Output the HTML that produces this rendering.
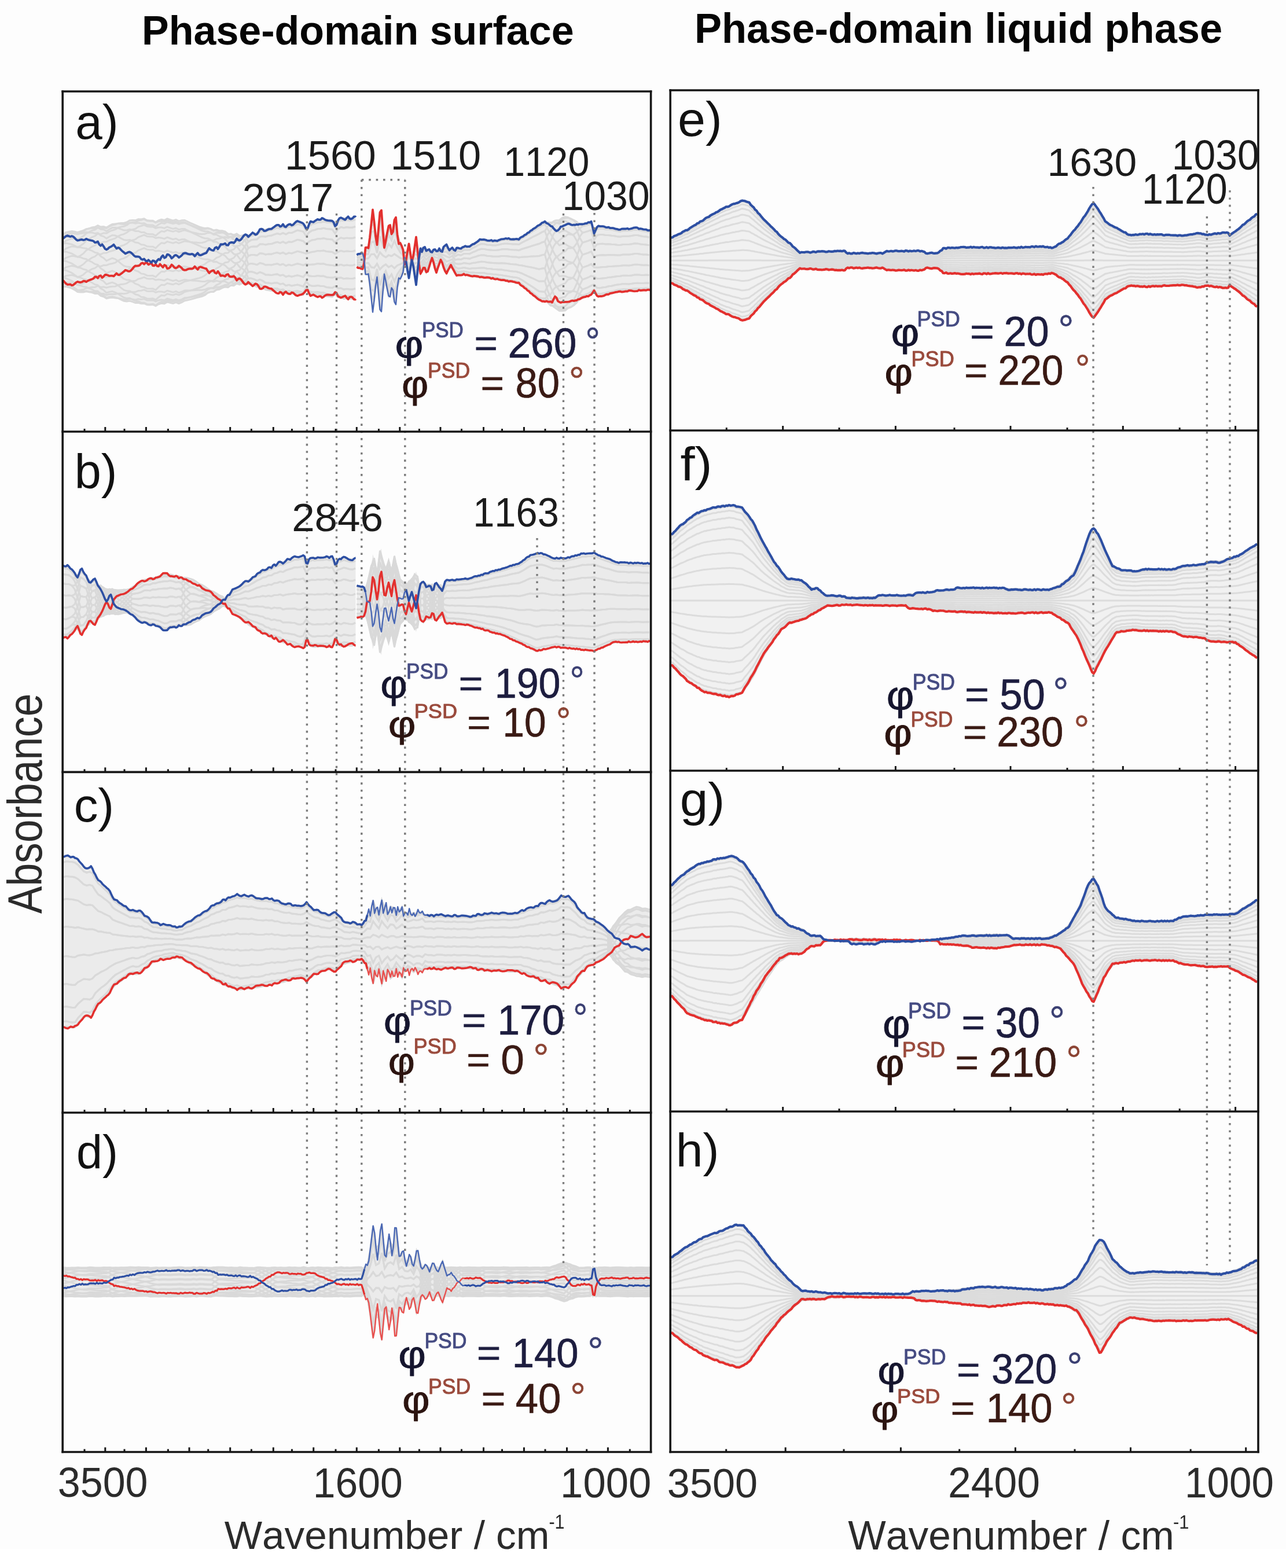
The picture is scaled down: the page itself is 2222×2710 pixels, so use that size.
<!DOCTYPE html>
<html><head><meta charset="utf-8"><title>Phase-domain spectra</title><style>html,body{margin:0;padding:0;background:#fdfdfd;}svg{display:block;filter:blur(0.55px);}text{font-kerning:none;}</style></head><body>
<svg width="2222" height="2710" viewBox="0 0 2222 2710" font-family="&quot;Liberation Sans&quot;, Arial, sans-serif" style="font-kerning:none">
<rect x="0" y="0" width="2222" height="2677" fill="#fdfdfd"/>
<rect x="0" y="2677" width="2222" height="33" fill="#ffffff"/>
<defs>
<clipPath id="cl"><rect x="109" y="150" width="1015" height="2359"/></clipPath>
<clipPath id="cr"><rect x="1159" y="150" width="1014" height="2359"/></clipPath>
</defs>
<defs></defs>
<g clip-path="url(#cl)">
<path d="M109.0 402.3L111.5 402.1 114.0 401.9 116.5 401.7 119.0 401.5 121.5 401.3 124.0 401.2 126.5 400.9 129.0 400.5 131.5 400.2 134.0 399.8 136.5 399.4 139.0 398.7 141.5 397.7 144.0 396.8 146.5 396.1 149.0 395.4 151.5 394.6 154.0 393.9 156.5 393.2 159.0 392.5 161.5 391.8 164.0 391.0 166.5 390.3 169.0 390.3 171.5 390.5 174.0 390.7 176.5 390.9 179.0 391.1 181.5 391.3 184.0 391.5 186.5 390.7 189.0 389.5 191.5 388.3 194.0 387.1 196.5 385.9 199.0 385.9 201.5 385.9 204.0 385.9 206.5 385.9 209.0 385.9 211.5 385.8 214.0 385.2 216.5 384.5 219.0 383.9 221.5 383.3 224.0 382.6 226.5 382.0 229.0 381.2 231.5 380.5 234.0 380.0 236.5 379.5 239.0 379.0 241.5 378.6 244.0 378.1 246.5 377.6 249.0 378.1 251.5 378.6 254.0 379.2 256.5 379.7 259.0 380.3 261.5 380.9 264.0 381.4 266.5 382.0 269.0 382.5 271.5 382.2 274.0 381.2 276.5 380.2 279.0 379.1 281.5 379.3 284.0 379.4 286.5 379.6 289.0 379.7 291.5 379.9 294.0 380.1 296.5 380.2 299.0 380.4 301.5 380.5 304.0 380.7 306.5 380.8 309.0 381.0 311.5 381.1 314.0 381.3 316.5 381.8 319.0 382.6 321.5 383.4 324.0 384.1 326.5 384.9 329.0 385.7 331.5 386.5 334.0 387.3 336.5 388.1 339.0 388.8 341.5 389.6 344.0 390.4 346.5 391.0 349.0 391.6 351.5 392.2 354.0 392.8 356.5 393.3 359.0 393.9 361.5 394.5 364.0 395.1 366.5 395.7 369.0 396.3 371.5 396.9 374.0 397.5 376.5 398.1 379.0 398.7 381.5 399.3 384.0 399.9 386.5 400.5 389.0 401.1 391.5 401.7 394.0 402.4 396.5 403.0 399.0 403.6 401.5 404.2 404.0 404.7 406.5 405.0 409.0 405.3 411.5 405.7 414.0 406.0 416.5 406.3 419.0 406.7 421.5 407.0 424.0 407.3 426.5 407.7 429.0 407.2 431.5 406.2 434.0 405.2 436.5 404.2 439.0 403.2 441.5 402.2 444.0 401.2 446.5 400.2 449.0 399.2 451.5 398.2 454.0 397.2 456.5 396.2 459.0 395.2 461.5 394.2 464.0 393.8 466.5 393.5 469.0 393.3 471.5 393.0 474.0 392.8 476.5 392.5 479.0 392.3 481.5 392.0 484.0 391.8 486.5 391.5 489.0 391.3 491.5 391.0 494.0 390.4 496.5 389.7 499.0 389.1 501.5 388.4 504.0 387.8 506.5 387.2 509.0 386.5 511.5 385.9 514.0 385.3 516.5 385.0 519.0 385.0 521.5 385.0 524.0 385.0 526.5 389.5 529.0 397.0 531.5 395.5 534.0 388.0 536.5 384.7 539.0 384.2 541.5 383.7 544.0 383.2 546.5 382.7 549.0 382.2 551.5 381.7 554.0 381.2 556.5 380.7 559.0 380.2 561.5 379.7 564.0 379.2 566.5 379.1 569.0 379.4 571.5 379.6 574.0 379.8 576.5 381.4 579.0 388.2 581.5 386.8 584.0 379.8 586.5 376.8 589.0 376.4 591.5 376.1 594.0 376.0 596.5 376.0 599.0 376.0 601.5 376.0 604.0 376.0 606.5 376.0 609.0 376.0 611.5 376.0 614.0 376.0 614.5 376.0 614.5 516.0 614.0 516.0 611.5 515.8 609.0 515.7 606.5 515.6 604.0 515.5 601.5 515.4 599.0 515.3 596.5 515.2 594.0 515.1 591.5 514.9 589.0 514.3 586.5 513.8 584.0 513.2 581.5 508.0 579.0 507.5 576.5 512.0 574.0 512.0 571.5 511.8 569.0 511.6 566.5 511.4 564.0 511.2 561.5 511.0 559.0 510.8 556.5 510.7 554.0 510.5 551.5 510.3 549.0 510.1 546.5 509.9 544.0 509.7 541.5 509.5 539.0 509.3 536.5 509.1 534.0 506.6 531.5 500.6 529.0 499.4 526.5 505.4 524.0 508.9 521.5 508.7 519.0 508.5 516.5 508.2 514.0 508.0 511.5 507.8 509.0 507.6 506.5 507.3 504.0 507.1 501.5 506.9 499.0 506.7 496.5 506.4 494.0 506.2 491.5 506.0 489.0 505.5 486.5 505.0 484.0 504.5 481.5 504.0 479.0 503.5 476.5 502.9 474.0 502.4 471.5 501.9 469.0 501.4 466.5 500.9 464.0 500.4 461.5 499.8 459.0 499.1 456.5 498.3 454.0 497.6 451.5 496.8 449.0 496.0 446.5 495.3 444.0 494.5 441.5 493.7 439.0 493.0 436.5 492.2 434.0 491.5 431.5 490.6 429.0 489.6 426.5 489.2 424.0 489.5 421.5 489.9 419.0 490.3 416.5 490.6 414.0 491.0 411.5 491.3 409.0 491.7 406.5 492.0 404.0 492.4 401.5 493.0 399.0 493.9 396.5 494.7 394.0 495.5 391.5 496.4 389.0 497.2 386.5 498.0 384.0 498.9 381.5 499.7 379.0 500.5 376.5 501.4 374.0 502.2 371.5 503.0 369.0 503.9 366.5 504.7 364.0 505.6 361.5 506.4 359.0 507.3 356.5 508.1 354.0 509.0 351.5 509.8 349.0 510.7 346.5 511.5 344.0 512.4 341.5 513.3 339.0 514.3 336.5 515.2 334.0 516.2 331.5 517.1 329.0 518.1 326.5 519.0 324.0 519.9 321.5 520.9 319.0 521.8 316.5 522.8 314.0 523.4 311.5 523.5 309.0 523.5 306.5 523.6 304.0 523.6 301.5 523.7 299.0 523.8 296.5 523.8 294.0 523.9 291.5 524.0 289.0 524.0 286.5 524.1 284.0 524.2 281.5 524.2 279.0 524.3 276.5 525.6 274.0 526.8 271.5 528.0 269.0 528.6 266.5 528.3 264.0 527.9 261.5 527.6 259.0 527.2 256.5 526.9 254.0 526.6 251.5 526.2 249.0 525.9 246.5 525.5 244.0 524.9 241.5 524.4 239.0 523.9 236.5 523.4 234.0 522.9 231.5 522.4 229.0 522.2 226.5 522.0 224.0 521.7 221.5 521.3 219.0 521.0 216.5 520.6 214.0 520.3 211.5 520.0 209.0 519.1 206.5 518.1 204.0 517.1 201.5 516.2 199.0 515.2 196.5 514.2 194.0 514.4 191.5 514.6 189.0 514.9 186.5 515.1 184.0 514.9 181.5 513.7 179.0 512.6 176.5 511.4 174.0 510.2 171.5 509.1 169.0 507.9 166.5 506.9 164.0 506.5 161.5 506.2 159.0 505.9 156.5 505.5 154.0 505.2 151.5 504.9 149.0 504.6 146.5 504.2 144.0 503.9 141.5 503.7 139.0 503.7 136.5 503.4 134.0 502.7 131.5 502.0 129.0 501.3 126.5 500.7 124.0 499.9 121.5 499.0 119.0 498.1 116.5 497.3 114.0 496.4 111.5 495.6 109.0 494.7Z" fill="#ebebeb"/>
<g fill="none" stroke="#d9d9d9" stroke-width="3.0">
<path d="M109.0 410.7l5 -1.7 5 0.4 5 0.3 5 1.8 5 2.2 5 -0.5 5 0.4 5 -0.5 5 1.6 5 1.1 5 2.2 5 0.2 5 5.2 5 2.2 5 4.4 5 -2.8 5 -2.4 5 1.2 5 2.8 5 3.8 5 3.4 5 1.3 5 -0.2 5 2.5 5 3.2 5 1.3 5 3.5 5 0.6 5 2.6 5 0.5 5 -0.2 5 2.5 5 -5.2 5 -4.3 5 0.7 5 -3.1 5 1.2 5 1.1 5 -2 5 2 5 -1.9 5 -2.3 5 0.1 5 0.1 5 -0.3 5 -0.3 5 -0.1 5 -0.9 5 -1.9 5 -3.4 5 -1.4 5 -0 5 -3.7 5 -1.2 5 -3 5 -2 5 0.7 5 -3.4 5 -0.5 5 -4.8 5 0.6 5 -3.6 5 -3.6 5 1.1 5 -3.4 5 -1.4 5 -0.6 5 -5.1 5 -1 5 0.3 5 -2.1 5 -0.5 5 -2.2 5 -1.7 5 1.1 5 -2.4 5 2.1 5 -2.9 5 0.1 5 -2.5 5 -2.4 5 0.8 5 1.3 5 10.3 5 -8.2 5 -4.1 5 -1.2 5 -2 5 -0.2 5 -1.3 5 0.9 5 0.4 5 0.5 5 8.6 5 -9.1 5 -4 5 1 5 -1 5 0.5 5 -0.1 5 -1.6"/>
<path d="M109.0 421.2l5 -0.9 5 1 5 1 5 2.4 5 2.7 5 0.1 5 1.3 5 0.4 5 2.4 5 1.8 5 3 5 0.9 5 5.8 5 2.8 5 4.9 5 -2.4 5 -2.2 5 1.6 5 3.4 5 4.4 5 3.8 5 1.7 5 0.1 5 2.8 5 3.6 5 1.6 5 3.7 5 0.7 5 2.6 5 0.4 5 -0.3 5 2.4 5 -5.2 5 -4.3 5 0.6 5 -3.1 5 1.1 5 1 5 -2 5 1.9 5 -2 5 -2.8 5 -0.4 5 -0.6 5 -0.8 5 -1 5 -0.6 5 -1.5 5 -2.5 5 -3.9 5 -2 5 -0.7 5 -4.3 5 -1.9 5 -3.8 5 -2.7 5 -0.2 5 -4.5 5 -1.6 5 -5.7 5 -0.6 5 -5.1 5 -5.8 5 -3 5 -3.2 5 -1.3 5 -0.5 5 -5 5 -0.9 5 0.4 5 -2 5 -0.4 5 -2.2 5 -1.7 5 1.2 5 -2.4 5 2.2 5 -2.9 5 0.2 5 -2.4 5 -2.5 5 0.9 5 1.3 5 9.6 5 -7.7 5 -3.9 5 -1.1 5 -2 5 -0.2 5 -1.2 5 0.9 5 0.5 5 0.5 5 8.2 5 -8.7 5 -3.9 5 1.1 5 -1 5 0.5 5 -0.1 5 -1.6"/>
<path d="M109.0 435.2l5 -0.3 5 1.7 5 1.6 5 2.8 5 3.1 5 0.6 5 2 5 1 5 3 5 2.3 5 3.4 5 1.2 5 6.2 5 3.1 5 5.2 5 -2.1 5 -1.8 5 1.9 5 3.5 5 4.4 5 4 5 1.8 5 0.2 5 2.9 5 3.6 5 1.5 5 3.6 5 0.7 5 2.5 5 0.3 5 -0.3 5 2.3 5 -4.9 5 -4 5 0.6 5 -3.2 5 1.1 5 1 5 -2 5 1.9 5 -2.1 5 -3.1 5 -0.9 5 -1 5 -1.3 5 -1.4 5 -1.2 5 -1.8 5 -2.7 5 -4.3 5 -2.4 5 -1 5 -4.7 5 -2.4 5 -4.2 5 -3.3 5 -0.8 5 -5.1 5 -2.3 5 -6.4 5 -1.4 5 -6.1 5 -7.5 5 -6.3 5 -3 5 -1 5 -0.2 5 -4.6 5 -0.6 5 0.6 5 -1.7 5 -0.3 5 -2 5 -1.6 5 1.3 5 -2.2 5 2.3 5 -2.7 5 0.3 5 -2.3 5 -2.2 5 0.9 5 1.3 5 7.8 5 -6.3 5 -3.3 5 -1 5 -1.9 5 -0.1 5 -1.1 5 1.1 5 0.4 5 0.5 5 7.1 5 -7.4 5 -3.6 5 1.2 5 -1 5 0.6 5 -0.1 5 -1.6"/>
<path d="M109.0 451.1l5 0.2 5 2 5 2 5 3.3 5 3.5 5 0.9 5 2.3 5 1.2 5 3.2 5 2.5 5 3.4 5 1.4 5 6.2 5 3 5 5.1 5 -1.8 5 -1.4 5 2 5 3.2 5 4.1 5 3.7 5 1.7 5 0.1 5 2.7 5 3.2 5 1.2 5 3.2 5 0.4 5 2.4 5 0.3 5 -0.4 5 2.3 5 -4.4 5 -3.4 5 0.6 5 -3.1 5 1.1 5 1 5 -2 5 1.9 5 -2.1 5 -3.3 5 -1.1 5 -1.3 5 -1.5 5 -1.7 5 -1.4 5 -1.8 5 -2.9 5 -4.3 5 -2.5 5 -1.1 5 -4.9 5 -2.4 5 -4.4 5 -3.4 5 -1 5 -5.4 5 -2.6 5 -6.5 5 -1.7 5 -6.8 5 -8.4 5 -8.5 5 -2.5 5 -0.5 5 0.3 5 -4.2 5 -0.1 5 1.1 5 -1.3 5 -0.1 5 -1.8 5 -1.4 5 1.5 5 -2 5 2.5 5 -2.5 5 0.5 5 -2 5 -2.1 5 1 5 1.4 5 5 5 -4.2 5 -2.5 5 -0.7 5 -1.8 5 0.2 5 -0.9 5 1.2 5 0.5 5 0.4 5 5.4 5 -5.5 5 -3 5 1.4 5 -1 5 0.6 5 -0.1 5 -1.5"/>
<path d="M109.0 466.8l5 0.4 5 2.2 5 2.2 5 3.5 5 3.7 5 1.1 5 2.2 5 1.1 5 3 5 2.3 5 3.2 5 1.1 5 5.8 5 2.7 5 4.7 5 -1.5 5 -1 5 1.8 5 2.5 5 3.3 5 3.2 5 1.3 5 -0.3 5 2.3 5 2.7 5 0.4 5 2.5 5 0.1 5 2.4 5 0.2 5 -0.5 5 2.3 5 -3.7 5 -2.5 5 0.6 5 -3.1 5 1.2 5 1.1 5 -2 5 2 5 -2 5 -3.3 5 -1.1 5 -1.3 5 -1.6 5 -1.6 5 -1.5 5 -1.6 5 -2.7 5 -4.2 5 -2.3 5 -0.9 5 -4.7 5 -2.1 5 -4.1 5 -3.2 5 -0.8 5 -5.2 5 -2.5 5 -6.2 5 -1.6 5 -6.6 5 -8.6 5 -9.3 5 -1.8 5 0 5 0.9 5 -3.7 5 0.5 5 1.7 5 -0.9 5 0.2 5 -1.6 5 -1.1 5 1.7 5 -1.7 5 2.7 5 -2.2 5 0.9 5 -1.8 5 -1.8 5 1.1 5 1.5 5 1.4 5 -1.5 5 -1.4 5 -0.6 5 -1.4 5 0.3 5 -0.7 5 1.5 5 0.5 5 0.5 5 3.2 5 -3.2 5 -2.2 5 1.5 5 -0.9 5 0.6 5 -0 5 -1.5"/>
<path d="M109.0 480.6l5 0.3 5 2.2 5 2.1 5 3.5 5 3.8 5 1.1 5 1.8 5 0.6 5 2.4 5 1.7 5 2.7 5 0.5 5 5.2 5 2 5 4.1 5 -1.3 5 -0.7 5 1.4 5 1.5 5 2.3 5 2.4 5 0.7 5 -0.9 5 1.6 5 2 5 -0.4 5 1.6 5 -0.4 5 2.3 5 0.2 5 -0.4 5 2.2 5 -2.9 5 -1.6 5 0.8 5 -3.1 5 1.3 5 1.2 5 -1.9 5 2.1 5 -1.9 5 -3.1 5 -0.9 5 -1.1 5 -1.3 5 -1.5 5 -1.2 5 -1.2 5 -2.2 5 -3.8 5 -1.8 5 -0.5 5 -4.2 5 -1.6 5 -3.5 5 -2.6 5 -0.2 5 -4.6 5 -1.9 5 -5.5 5 -0.9 5 -5.9 5 -7.9 5 -8.7 5 -1.1 5 0.7 5 1.4 5 -3 5 1.1 5 2.3 5 -0.4 5 0.4 5 -1.3 5 -0.9 5 2 5 -1.5 5 3.1 5 -1.9 5 1.1 5 -1.5 5 -1.4 5 1.2 5 1.5 5 -2.3 5 1.3 5 -0.2 5 -0.4 5 -1.2 5 0.6 5 -0.4 5 1.6 5 0.6 5 0.4 5 1 5 -0.7 5 -1.4 5 1.7 5 -0.9 5 0.7 5 0 5 -1.5"/>
<path d="M109.0 490.7l5 -0 5 1.9 5 1.8 5 3.3 5 3.8 5 0.7 5 1.2 5 -0.3 5 1.6 5 0.9 5 1.9 5 -0.3 5 4.3 5 1.2 5 3.2 5 -1.2 5 -0.5 5 0.9 5 0.3 5 1.1 5 1.5 5 -0.1 5 -1.6 5 0.8 5 1.1 5 -1.4 5 0.7 5 -0.9 5 2.3 5 0.2 5 -0.4 5 2.2 5 -2 5 -0.8 5 0.9 5 -2.9 5 1.4 5 1.3 5 -1.8 5 2.2 5 -1.7 5 -2.8 5 -0.4 5 -0.7 5 -0.9 5 -1 5 -0.8 5 -0.6 5 -1.6 5 -3.1 5 -1.2 5 0.2 5 -3.6 5 -0.7 5 -2.6 5 -1.8 5 0.7 5 -3.6 5 -0.9 5 -4.5 5 0.2 5 -4.7 5 -6.5 5 -6.5 5 -0.5 5 1.2 5 2 5 -2.4 5 1.7 5 2.8 5 0.1 5 0.6 5 -1 5 -0.7 5 2.3 5 -1.2 5 3.3 5 -1.6 5 1.4 5 -1.2 5 -1.2 5 1.4 5 1.6 5 -5.9 5 4 5 0.8 5 -0.1 5 -1 5 0.8 5 -0.2 5 1.9 5 0.6 5 0.4 5 -1.1 5 1.6 5 -0.7 5 1.9 5 -0.8 5 0.6 5 0.1 5 -1.4"/>
<path d="M109.0 495.9l5 -0.5 5 1.3 5 1.4 5 3 5 3.4 5 0.4 5 0.2 5 -1.4 5 0.6 5 -0.1 5 1 5 -1.3 5 3.4 5 0.2 5 2.3 5 -1.3 5 -0.3 5 0.3 5 -1.1 5 -0.1 5 0.5 5 -0.8 5 -2.4 5 0.1 5 0.1 5 -2.3 5 -0.3 5 -1.4 5 2.4 5 0.3 5 -0.5 5 2.3 5 -1.4 5 0.2 5 1 5 -2.8 5 1.5 5 1.4 5 -1.6 5 2.3 5 -1.6 5 -2.2 5 0 5 -0 5 -0.3 5 -0.4 5 -0.2 5 0.1 5 -0.8 5 -2.4 5 -0.4 5 0.9 5 -2.7 5 0.3 5 -1.7 5 -0.6 5 1.8 5 -2.5 5 0.4 5 -3.3 5 1.6 5 -3.1 5 -4.5 5 -3.3 5 0 5 1.7 5 2.5 5 -2 5 2.2 5 3.3 5 0.4 5 0.9 5 -0.9 5 -0.4 5 2.5 5 -1.1 5 3.6 5 -1.4 5 1.6 5 -0.9 5 -1 5 1.5 5 1.6 5 -8.7 5 6.1 5 1.7 5 0.1 5 -0.8 5 0.9 5 0 5 2.1 5 0.6 5 0.5 5 -2.9 5 3.5 5 -0.1 5 2.1 5 -0.8 5 0.7 5 0.1 5 -1.4"/>
<path d="M109.0 495.7l5 -1.2 5 0.7 5 0.7 5 2.5 5 3.1 5 -0.2 5 -0.8 5 -2.6 5 -0.4 5 -1.2 5 0.1 5 -2.3 5 2.3 5 -0.7 5 1.5 5 -1.5 5 -0.4 5 -0.3 5 -2.3 5 -1.2 5 -0.4 5 -1.5 5 -3.1 5 -0.7 5 -0.6 5 -3.1 5 -1.1 5 -1.8 5 2.4 5 0.3 5 -0.3 5 2.3 5 -0.8 5 0.7 5 1.1 5 -2.7 5 1.7 5 1.5 5 -1.5 5 2.5 5 -1.6 5 -1.6 5 0.8 5 0.6 5 0.3 5 0.3 5 0.5 5 0.9 5 -0.1 5 -1.6 5 0.4 5 1.7 5 -1.8 5 1.3 5 -0.6 5 0.5 5 3 5 -1.2 5 1.7 5 -2 5 3.1 5 -1.4 5 -2.1 5 0.8 5 0.3 5 2 5 2.8 5 -1.7 5 2.5 5 3.6 5 0.7 5 0.9 5 -0.7 5 -0.3 5 2.7 5 -1 5 3.7 5 -1.2 5 1.8 5 -0.8 5 -0.9 5 1.5 5 1.7 5 -10.5 5 7.5 5 2.2 5 0.2 5 -0.7 5 1.1 5 0.1 5 2.2 5 0.7 5 0.4 5 -3.9 5 4.6 5 0.3 5 2.2 5 -0.8 5 0.8 5 0.1 5 -1.4"/>
<path d="M109.0 489.9l5 -2 5 -0 5 -0 5 2 5 2.6 5 -0.9 5 -1.8 5 -3.6 5 -1.5 5 -2 5 -0.9 5 -3.2 5 1.5 5 -1.5 5 0.6 5 -1.7 5 -0.6 5 -0.8 5 -3.2 5 -2.1 5 -1.1 5 -2.1 5 -3.6 5 -1.3 5 -1.2 5 -3.7 5 -1.7 5 -2 5 2.5 5 0.4 5 -0.3 5 2.4 5 -0.6 5 1 5 1.2 5 -2.5 5 1.7 5 1.7 5 -1.4 5 2.5 5 -1.4 5 -1.1 5 1.4 5 1.3 5 1 5 1 5 1.2 5 1.6 5 0.6 5 -0.8 5 1 5 2.6 5 -1.1 5 2.2 5 0.4 5 1.5 5 4.1 5 0 5 3 5 -0.7 5 4.5 5 0.3 5 0.4 5 5 5 0.4 5 2.1 5 2.9 5 -1.5 5 2.6 5 3.7 5 0.7 5 1 5 -0.6 5 -0.3 5 2.7 5 -0.9 5 3.7 5 -1.1 5 1.8 5 -0.8 5 -0.7 5 1.5 5 1.7 5 -11.2 5 8 5 2.5 5 0.2 5 -0.7 5 1.2 5 0.1 5 2.3 5 0.6 5 0.5 5 -4.4 5 5.1 5 0.4 5 2.3 5 -0.8 5 0.7 5 0.1 5 -1.3"/>
<path d="M109.0 479.4l5 -2.8 5 -0.7 5 -0.6 5 1.4 5 2.1 5 -1.4 5 -2.7 5 -4.5 5 -2.4 5 -2.8 5 -1.6 5 -3.8 5 0.8 5 -2.1 5 0.1 5 -2 5 -0.9 5 -1.3 5 -3.8 5 -2.6 5 -1.4 5 -2.5 5 -4.1 5 -1.6 5 -1.4 5 -4.1 5 -1.9 5 -2.2 5 2.6 5 0.5 5 -0.2 5 2.5 5 -0.7 5 1.1 5 1.3 5 -2.5 5 1.8 5 1.7 5 -1.3 5 2.6 5 -1.3 5 -0.6 5 2 5 1.9 5 1.6 5 1.5 5 1.9 5 2.1 5 1.1 5 -0.2 5 1.7 5 3.1 5 -0.4 5 2.9 5 1.2 5 2.3 5 5 5 1 5 4.1 5 0.2 5 5.7 5 1.9 5 2.4 5 9.1 5 0.3 5 2.1 5 2.8 5 -1.7 5 2.5 5 3.6 5 0.6 5 1 5 -0.7 5 -0.3 5 2.6 5 -0.9 5 3.7 5 -1.3 5 1.8 5 -0.8 5 -0.8 5 1.5 5 1.7 5 -10.5 5 7.5 5 2.2 5 0.2 5 -0.7 5 1.1 5 0.1 5 2.2 5 0.7 5 0.4 5 -4 5 4.7 5 0.3 5 2.2 5 -0.8 5 0.7 5 0.1 5 -1.3"/>
<path d="M109.0 465.3l5 -3.4 5 -1.3 5 -1.2 5 0.9 5 1.7 5 -2 5 -3.3 5 -5.1 5 -2.9 5 -3.3 5 -2.1 5 -4.2 5 0.5 5 -2.4 5 -0.2 5 -2.3 5 -1.2 5 -1.7 5 -3.8 5 -2.8 5 -1.5 5 -2.6 5 -4.2 5 -1.7 5 -1.5 5 -3.9 5 -1.8 5 -2.1 5 2.6 5 0.6 5 -0.2 5 2.6 5 -0.9 5 0.7 5 1.3 5 -2.5 5 1.9 5 1.7 5 -1.3 5 2.7 5 -1.3 5 -0.3 5 2.5 5 2.3 5 2.1 5 2 5 2.3 5 2.4 5 1.5 5 0.1 5 2 5 3.5 5 0 5 3.4 5 1.6 5 2.9 5 5.6 5 1.6 5 4.8 5 0.9 5 6.5 5 2.9 5 4.2 5 12.4 5 -0 5 1.7 5 2.5 5 -2 5 2.2 5 3.3 5 0.4 5 0.9 5 -0.9 5 -0.4 5 2.5 5 -1.1 5 3.5 5 -1.3 5 1.6 5 -1 5 -0.9 5 1.4 5 1.7 5 -8.7 5 6.1 5 1.7 5 0.1 5 -0.9 5 1 5 0 5 2.1 5 0.6 5 0.4 5 -2.8 5 3.5 5 -0.1 5 2.1 5 -0.9 5 0.7 5 0.1 5 -1.4"/>
<path d="M109.0 449.5l5 -3.9 5 -1.7 5 -1.6 5 0.5 5 1.3 5 -2.3 5 -3.6 5 -5.4 5 -3 5 -3.5 5 -2.2 5 -4.3 5 0.5 5 -2.3 5 -0.1 5 -2.7 5 -1.6 5 -1.7 5 -3.6 5 -2.3 5 -1.4 5 -2.5 5 -3.9 5 -1.5 5 -1.2 5 -3.6 5 -1.4 5 -1.9 5 2.8 5 0.6 5 -0.1 5 2.6 5 -1.5 5 0.1 5 1.3 5 -2.4 5 1.8 5 1.7 5 -1.3 5 2.7 5 -1.4 5 -0 5 2.7 5 2.5 5 2.4 5 2.2 5 2.6 5 2.4 5 1.6 5 0.2 5 2.1 5 3.7 5 0.1 5 3.4 5 1.8 5 3 5 5.8 5 1.9 5 5.1 5 1 5 6.9 5 3.4 5 5.2 5 14.6 5 -0.5 5 1.2 5 2 5 -2.4 5 1.7 5 2.8 5 0.1 5 0.6 5 -1 5 -0.7 5 2.3 5 -1.2 5 3.3 5 -1.6 5 1.4 5 -1.2 5 -1.2 5 1.4 5 1.6 5 -5.9 5 4 5 0.8 5 -0.1 5 -1 5 0.8 5 -0.2 5 1.9 5 0.6 5 0.4 5 -1.1 5 1.6 5 -0.7 5 1.9 5 -0.8 5 0.6 5 0.1 5 -1.4"/>
<path d="M109.0 433.7l5 -4.1 5 -1.9 5 -1.8 5 0.3 5 1.1 5 -2.5 5 -3.5 5 -5.3 5 -2.8 5 -3.3 5 -1.9 5 -4.1 5 0.9 5 -2 5 0.3 5 -3 5 -1.9 5 -1.6 5 -2.9 5 -1.6 5 -0.8 5 -2.1 5 -3.6 5 -1 5 -0.6 5 -2.9 5 -0.7 5 -1.5 5 2.7 5 0.7 5 -0.1 5 2.7 5 -2.2 5 -0.7 5 1.2 5 -2.5 5 1.8 5 1.7 5 -1.4 5 2.6 5 -1.4 5 -0.1 5 2.7 5 2.6 5 2.4 5 2.2 5 2.6 5 2.3 5 1.3 5 0 5 2 5 3.4 5 -0 5 3.1 5 1.5 5 2.8 5 5.6 5 1.8 5 4.9 5 0.7 5 6.7 5 3.4 5 5.3 5 15.4 5 -1.2 5 0.7 5 1.5 5 -3.1 5 1.2 5 2.2 5 -0.4 5 0.4 5 -1.3 5 -0.8 5 2 5 -1.5 5 3 5 -1.9 5 1.2 5 -1.5 5 -1.5 5 1.3 5 1.5 5 -2.3 5 1.3 5 -0.3 5 -0.3 5 -1.2 5 0.5 5 -0.4 5 1.7 5 0.5 5 0.5 5 1 5 -0.8 5 -1.4 5 1.8 5 -0.9 5 0.6 5 0.1 5 -1.5"/>
<path d="M109.0 420.0l5 -4 5 -1.9 5 -1.7 5 0.3 5 1 5 -2.4 5 -3.2 5 -4.7 5 -2.3 5 -2.8 5 -1.3 5 -3.5 5 1.5 5 -1.3 5 0.9 5 -3.1 5 -2.4 5 -1.1 5 -1.9 5 -0.6 5 0 5 -1.5 5 -3 5 -0.4 5 0.2 5 -2 5 0.1 5 -1 5 2.8 5 0.6 5 0 5 2.7 5 -3 5 -1.6 5 1.1 5 -2.6 5 1.7 5 1.6 5 -1.5 5 2.5 5 -1.5 5 -0.3 5 2.5 5 2.4 5 2.1 5 2.1 5 2.3 5 1.8 5 1 5 -0.5 5 1.5 5 3 5 -0.5 5 2.6 5 0.9 5 2.2 5 5 5 1.1 5 4.3 5 0.1 5 6 5 2.7 5 4.6 5 14.7 5 -1.8 5 0.1 5 0.8 5 -3.6 5 0.5 5 1.7 5 -0.9 5 0.1 5 -1.6 5 -1.1 5 1.8 5 -1.8 5 2.8 5 -2.2 5 0.8 5 -1.8 5 -1.7 5 1.1 5 1.4 5 1.5 5 -1.5 5 -1.4 5 -0.6 5 -1.5 5 0.4 5 -0.7 5 1.4 5 0.5 5 0.5 5 3.3 5 -3.3 5 -2.2 5 1.6 5 -0.9 5 0.6 5 -0 5 -1.6"/>
<path d="M109.0 409.9l5 -3.7 5 -1.6 5 -1.4 5 0.5 5 1.1 5 -2.2 5 -2.5 5 -3.8 5 -1.5 5 -1.9 5 -0.6 5 -2.7 5 2.4 5 -0.5 5 1.8 5 -3.2 5 -2.6 5 -0.6 5 -0.6 5 0.6 5 0.9 5 -0.8 5 -2.3 5 0.4 5 1 5 -1 5 1.2 5 -0.6 5 2.8 5 0.6 5 0 5 2.7 5 -3.8 5 -2.6 5 1.1 5 -2.8 5 1.6 5 1.4 5 -1.5 5 2.3 5 -1.6 5 -0.6 5 2 5 2 5 1.7 5 1.6 5 1.9 5 1.2 5 0.3 5 -1.1 5 0.9 5 2.4 5 -1.2 5 1.7 5 0 5 1.3 5 4.1 5 0.2 5 3.3 5 -0.9 5 4.9 5 1.5 5 3.1 5 12.7 5 -2.5 5 -0.5 5 0.3 5 -4.2 5 -0.1 5 1.1 5 -1.3 5 -0.1 5 -1.8 5 -1.4 5 1.5 5 -2 5 2.5 5 -2.5 5 0.5 5 -2 5 -2.1 5 1 5 1.4 5 5 5 -4.2 5 -2.5 5 -0.7 5 -1.7 5 0.1 5 -0.9 5 1.2 5 0.5 5 0.4 5 5.4 5 -5.5 5 -3 5 1.4 5 -1 5 0.6 5 -0 5 -1.6"/>
<path d="M109.0 404.7l5 -3.2 5 -1 5 -1 5 0.8 5 1.4 5 -1.7 5 -1.6 5 -2.8 5 -0.5 5 -0.9 5 0.4 5 -1.7 5 3.3 5 0.5 5 2.7 5 -3.2 5 -2.6 5 -0.1 5 0.7 5 1.9 5 1.8 5 0 5 -1.5 5 1.2 5 1.9 5 -0.1 5 2.1 5 -0 5 2.7 5 0.6 5 -0.1 5 2.7 5 -4.5 5 -3.4 5 0.9 5 -2.8 5 1.4 5 1.3 5 -1.7 5 2.2 5 -1.7 5 -1.2 5 1.5 5 1.4 5 1.1 5 1 5 1.3 5 0.5 5 -0.4 5 -1.9 5 0.1 5 1.6 5 -2 5 0.7 5 -0.9 5 0.2 5 3 5 -1 5 2.1 5 -2.2 5 3.5 5 -0.1 5 1.2 5 9.3 5 -2.9 5 -1 5 -0.2 5 -4.7 5 -0.5 5 0.6 5 -1.7 5 -0.3 5 -2 5 -1.6 5 1.3 5 -2.2 5 2.3 5 -2.7 5 0.3 5 -2.3 5 -2.3 5 1 5 1.3 5 7.8 5 -6.3 5 -3.4 5 -0.9 5 -1.9 5 -0.1 5 -1.1 5 1 5 0.5 5 0.5 5 7.1 5 -7.5 5 -3.5 5 1.2 5 -1 5 0.6 5 -0.1 5 -1.6"/>
<path d="M109.0 404.9l5 -2.5 5 -0.4 5 -0.3 5 1.3 5 1.7 5 -1.1 5 -0.6 5 -1.6 5 0.6 5 0.1 5 1.3 5 -0.7 5 4.4 5 1.4 5 3.6 5 -3.1 5 -2.5 5 0.5 5 1.9 5 3 5 2.7 5 0.7 5 -0.8 5 1.9 5 2.7 5 0.7 5 2.9 5 0.4 5 2.7 5 0.5 5 -0.1 5 2.6 5 -5 5 -4 5 0.8 5 -3 5 1.3 5 1.2 5 -1.8 5 2.1 5 -1.9 5 -1.7 5 0.8 5 0.7 5 0.5 5 0.3 5 0.6 5 -0.2 5 -1.2 5 -2.7 5 -0.7 5 0.8 5 -2.9 5 -0.3 5 -2 5 -0.9 5 1.8 5 -2.2 5 0.7 5 -3.5 5 2 5 -1.8 5 -1.3 5 5.4 5 -3.3 5 -1.3 5 -0.5 5 -4.9 5 -0.9 5 0.3 5 -1.9 5 -0.4 5 -2.2 5 -1.7 5 1.2 5 -2.4 5 2.1 5 -2.8 5 0.2 5 -2.5 5 -2.4 5 0.9 5 1.2 5 9.7 5 -7.7 5 -3.9 5 -1.1 5 -2 5 -0.2 5 -1.2 5 0.9 5 0.4 5 0.5 5 8.2 5 -8.6 5 -3.9 5 1.1 5 -1 5 0.5 5 -0.1 5 -1.6"/>
</g>
<path d="M109.0 484.5L111.5 487.5 114.0 490.1 116.5 491.8 119.0 491.6 121.5 491.4 124.0 493.1 126.5 492.6 129.0 490.6 131.5 488.1 134.0 486.9 136.5 487.7 139.0 488.0 141.5 487.4 144.0 485.7 146.5 485.8 149.0 487.1 151.5 485.5 154.0 484.3 156.5 483.4 159.0 482.5 161.5 481.3 164.0 478.5 166.5 478.4 169.0 480.7 171.5 477.0 174.0 476.2 176.5 480.0 179.0 477.8 181.5 474.9 184.0 475.0 186.5 475.8 189.0 476.9 191.5 476.6 194.0 476.6 196.5 477.4 199.0 474.7 201.5 472.5 204.0 475.0 206.5 475.0 209.0 473.3 211.5 471.4 214.0 469.3 216.5 466.8 219.0 467.6 221.5 468.8 224.0 468.9 226.5 467.3 229.0 464.5 231.5 461.2 234.0 459.3 236.5 459.6 239.0 459.4 241.5 458.4 244.0 455.2 246.5 454.3 249.0 456.6 251.5 454.2 254.0 454.1 256.5 457.4 259.0 455.9 261.5 454.7 264.0 459.0 266.5 459.3 269.0 456.7 271.5 459.9 274.0 460.3 276.5 456.4 279.0 459.3 281.5 462.1 284.0 457.9 286.5 459.2 289.0 464.1 291.5 463.7 294.0 461.7 296.5 457.4 299.0 459.5 301.5 462.6 304.0 463.4 306.5 462.1 309.0 459.4 311.5 461.1 314.0 463.3 316.5 466.2 319.0 466.9 321.5 466.7 324.0 465.4 326.5 464.7 329.0 464.3 331.5 464.7 334.0 463.6 336.5 460.5 339.0 463.2 341.5 465.8 344.0 462.2 346.5 461.3 349.0 462.1 351.5 463.0 354.0 463.8 356.5 464.4 359.0 468.5 361.5 471.9 364.0 469.3 366.5 467.9 369.0 467.3 371.5 471.5 374.0 472.5 376.5 468.9 379.0 472.6 381.5 476.8 384.0 476.2 386.5 476.7 389.0 477.7 391.5 474.5 394.0 474.0 396.5 477.7 399.0 478.4 401.5 478.2 404.0 477.2 406.5 479.8 409.0 484.6 411.5 482.1 414.0 481.3 416.5 483.1 419.0 486.5 421.5 489.9 424.0 491.7 426.5 490.6 429.0 487.5 431.5 489.9 434.0 492.1 436.5 494.4 439.0 492.5 441.5 490.3 444.0 491.2 446.5 494.3 449.0 498.9 451.5 499.3 454.0 498.3 456.5 495.3 459.0 495.4 461.5 496.5 464.0 498.0 466.5 498.7 469.0 499.0 471.5 501.2 474.0 503.4 476.5 505.6 479.0 506.9 481.5 507.2 484.0 504.6 486.5 505.8 489.0 509.4 491.5 505.6 494.0 504.2 496.5 506.8 499.0 507.9 501.5 508.0 504.0 505.5 506.5 506.0 509.0 508.4 511.5 510.4 514.0 511.2 516.5 510.3 519.0 509.5 521.5 508.8 524.0 507.5 526.5 504.8 529.0 501.3 531.5 501.1 534.0 506.9 536.5 511.2 539.0 510.2 541.5 509.2 544.0 510.9 546.5 512.2 549.0 513.3 551.5 512.1 554.0 512.2 556.5 514.5 559.0 513.1 561.5 510.9 564.0 509.7 566.5 509.4 569.0 509.6 571.5 509.9 574.0 509.9 576.5 509.2 579.0 505.1 581.5 506.2 584.0 512.0 586.5 513.3 589.0 514.5 591.5 513.5 594.0 512.3 596.5 511.3 599.0 514.5 601.5 517.3 604.0 513.7 606.5 513.0 609.0 514.1 611.5 517.3 614.0 517.5 614.5 516.7" fill="none" stroke="#e3302e" stroke-width="3.8" stroke-linejoin="round"/>
<path d="M109.0 412.5L111.5 410.1 114.0 408.3 116.5 407.2 119.0 408.1 121.5 409.0 124.0 408.0 126.5 409.0 129.0 411.2 131.5 414.1 134.0 415.5 136.5 415.1 139.0 414.4 141.5 414.0 144.0 415.0 146.5 414.5 149.0 412.8 151.5 414.0 154.0 414.9 156.5 415.4 159.0 415.8 161.5 416.7 164.0 419.1 166.5 418.8 169.0 417.5 171.5 422.6 174.0 424.7 176.5 422.3 179.0 425.8 181.5 430.1 184.0 431.4 186.5 430.0 189.0 427.4 191.5 426.4 194.0 424.9 196.5 422.7 199.0 426.4 201.5 429.6 204.0 428.0 206.5 429.0 209.0 431.7 211.5 434.3 214.0 436.1 216.5 438.4 219.0 437.3 221.5 435.8 224.0 435.4 226.5 436.7 229.0 438.9 231.5 441.7 234.0 443.5 236.5 443.3 239.0 443.6 241.5 444.6 244.0 447.9 246.5 448.8 249.0 447.4 251.5 450.6 254.0 451.6 256.5 449.3 259.0 451.6 261.5 453.8 264.0 450.3 266.5 451.0 269.0 454.4 271.5 450.3 274.0 447.8 276.5 449.3 279.0 444.1 281.5 441.4 284.0 445.7 286.5 444.5 289.0 439.7 291.5 440.2 294.0 442.2 296.5 446.6 299.0 444.6 301.5 441.6 304.0 440.9 306.5 442.3 309.0 445.1 311.5 443.5 314.0 441.4 316.5 438.4 319.0 437.5 321.5 437.5 324.0 438.7 326.5 439.3 329.0 439.5 331.5 438.9 334.0 439.8 336.5 442.8 339.0 439.9 341.5 437.2 344.0 440.6 346.5 441.2 349.0 440.2 351.5 439.0 354.0 437.9 356.5 437.1 359.0 432.7 361.5 429.0 364.0 431.4 366.5 432.6 369.0 432.9 371.5 428.4 374.0 427.1 376.5 430.5 379.0 426.6 381.5 422.2 384.0 422.5 386.5 421.9 389.0 420.6 391.5 423.7 394.0 423.9 396.5 420.0 399.0 419.0 401.5 419.0 404.0 419.9 406.5 417.3 409.0 412.4 411.5 414.9 414.0 415.6 416.5 413.9 419.0 410.4 421.5 407.0 424.0 405.2 426.5 406.3 429.0 409.3 431.5 406.9 434.0 404.5 436.5 402.0 439.0 403.7 441.5 405.7 444.0 404.5 446.5 401.1 449.0 396.3 451.5 395.7 454.0 396.4 456.5 399.2 459.0 398.9 461.5 397.5 464.0 396.2 466.5 395.8 469.0 395.7 471.5 393.8 474.0 391.9 476.5 389.9 479.0 388.8 481.5 388.8 484.0 391.6 486.5 390.7 489.0 387.4 491.5 391.4 494.0 392.4 496.5 389.4 499.0 387.9 501.5 387.4 504.0 389.4 506.5 388.5 509.0 385.7 511.5 383.3 514.0 382.0 516.5 383.0 519.0 383.9 521.5 384.9 524.0 386.5 526.5 390.1 529.0 395.1 531.5 395.0 534.0 387.7 536.5 382.6 539.0 383.3 541.5 384.0 544.0 382.0 546.5 380.4 549.0 378.9 551.5 379.9 554.0 379.5 556.5 376.9 559.0 378.0 561.5 379.8 564.0 380.7 566.5 381.2 569.0 381.4 571.5 381.5 574.0 381.9 576.5 384.2 579.0 390.7 581.5 388.6 584.0 381.0 586.5 377.3 589.0 376.2 591.5 377.4 594.0 378.8 596.5 379.9 599.0 376.8 601.5 374.2 604.0 377.8 606.5 378.6 609.0 377.6 611.5 374.5 614.0 374.4 614.5 375.3" fill="none" stroke="#2d4fa3" stroke-width="3.8" stroke-linejoin="round"/>
</g>
<defs></defs>
<g clip-path="url(#cl)">
<path d="M616.5 440.3L619.0 439.4 621.5 438.4 624.0 437.5 626.5 436.6 629.0 446.9 631.5 428.0 634.0 428.0 636.5 428.0 639.0 411.2 641.5 386.6 644.0 362.0 646.5 383.3 649.0 408.7 651.5 423.3 654.0 395.0 656.5 366.6 659.0 363.3 661.5 397.5 664.0 428.0 666.5 415.8 669.0 403.6 671.5 391.3 674.0 389.8 676.5 404.2 679.0 399.9 681.5 380.7 684.0 375.1 686.5 404.4 689.0 421.6 691.5 420.5 694.0 424.2 696.5 431.6 699.0 445.8 701.5 450.2 704.0 434.8 706.5 420.7 709.0 437.0 711.5 448.6 714.0 443.2 716.5 426.4 719.0 409.5 721.5 432.5 724.0 446.4 726.5 429.3 729.0 436.0 731.5 428.3 734.0 426.7 736.5 432.8 739.0 432.0 741.5 430.7 744.0 434.2 746.5 436.0 749.0 431.0 751.5 431.1 754.0 434.6 756.5 433.8 759.0 430.0 761.5 435.0 764.0 435.0 766.5 427.5 769.0 424.4 771.5 422.4 774.0 427.5 776.5 432.5 779.0 430.0 781.5 428.7 784.0 432.2 786.5 434.0 789.0 429.0 791.5 428.0 794.0 429.7 796.5 430.5 799.0 428.0 801.5 426.0 804.0 425.9 806.5 425.8 809.0 425.7 811.5 425.6 814.0 424.1 816.5 422.4 819.0 420.7 821.5 419.0 824.0 417.4 826.5 415.7 829.0 414.0 831.5 413.7 834.0 414.0 836.5 414.2 839.0 414.5 841.5 414.8 844.0 415.1 846.5 415.3 849.0 415.6 851.5 415.9 854.0 416.2 856.5 416.4 859.0 415.9 861.5 415.1 864.0 414.4 866.5 413.6 869.0 412.9 871.5 412.1 874.0 412.1 876.5 412.3 879.0 412.4 881.5 412.6 884.0 412.8 886.5 412.9 889.0 413.1 891.5 413.2 894.0 413.4 896.5 413.1 899.0 411.4 901.5 409.6 904.0 407.9 906.5 406.1 909.0 404.4 911.5 402.6 914.0 400.9 916.5 399.1 919.0 397.3 921.5 395.6 924.0 393.8 926.5 392.1 929.0 390.3 931.5 388.6 934.0 387.1 936.5 385.9 939.0 384.6 941.5 383.4 944.0 384.4 946.5 384.2 949.0 384.1 951.5 384.0 954.0 383.9 956.5 381.6 959.0 379.3 961.5 380.3 964.0 381.7 966.5 380.2 969.0 377.7 971.5 376.1 974.0 374.5 976.5 374.1 979.0 374.4 981.5 374.7 984.0 375.7 986.5 376.8 989.0 377.9 991.5 379.7 994.0 381.8 996.5 383.5 999.0 385.2 1001.5 386.9 1004.0 387.3 1006.5 386.8 1009.0 386.3 1011.5 385.9 1014.0 385.4 1016.5 384.9 1019.0 384.2 1021.5 383.4 1024.0 392.7 1026.5 402.8 1029.0 397.7 1031.5 392.6 1034.0 391.0 1036.5 391.3 1039.0 391.6 1041.5 391.8 1044.0 392.1 1046.5 392.4 1049.0 392.7 1051.5 393.0 1054.0 393.3 1056.5 393.5 1059.0 393.8 1061.5 394.5 1064.0 395.4 1066.5 396.2 1069.0 396.9 1071.5 396.6 1074.0 396.4 1076.5 396.1 1079.0 395.9 1081.5 395.6 1084.0 395.4 1086.5 395.1 1089.0 394.9 1091.5 394.6 1094.0 394.4 1096.5 394.1 1099.0 393.9 1101.5 394.3 1104.0 394.8 1106.5 395.2 1109.0 395.7 1111.5 396.1 1114.0 396.6 1116.5 397.0 1119.0 397.5 1121.5 398.0 1124.0 398.4 1124.0 501.0 1121.5 501.1 1119.0 501.3 1116.5 501.4 1114.0 501.5 1111.5 501.7 1109.0 501.8 1106.5 501.9 1104.0 502.1 1101.5 502.2 1099.0 502.4 1096.5 502.5 1094.0 502.6 1091.5 502.8 1089.0 502.9 1086.5 503.0 1084.0 503.2 1081.5 503.3 1079.0 503.4 1076.5 503.6 1074.0 503.7 1071.5 503.8 1069.0 504.0 1066.5 504.6 1064.0 505.2 1061.5 505.9 1059.0 506.5 1056.5 507.2 1054.0 507.8 1051.5 508.4 1049.0 509.1 1046.5 509.7 1044.0 510.4 1041.5 511.0 1039.0 511.7 1036.5 511.9 1034.0 511.9 1031.5 511.2 1029.0 507.0 1026.5 502.9 1024.0 505.6 1021.5 508.5 1019.0 510.6 1016.5 511.5 1014.0 512.3 1011.5 513.2 1009.0 514.0 1006.5 514.9 1004.0 515.7 1001.5 517.4 999.0 520.4 996.5 523.4 994.0 526.4 991.5 528.9 989.0 530.6 986.5 531.6 984.0 532.5 981.5 533.5 979.0 535.2 976.5 536.9 974.0 537.7 971.5 537.3 969.0 536.9 966.5 537.4 964.0 536.9 961.5 533.5 959.0 530.4 956.5 530.4 954.0 530.3 951.5 528.0 949.0 525.8 946.5 523.6 944.0 521.4 941.5 520.7 939.0 520.3 936.5 520.0 934.0 519.6 931.5 518.5 929.0 516.5 926.5 514.4 924.0 512.4 921.5 510.3 919.0 508.3 916.5 506.2 914.0 504.2 911.5 502.1 909.0 499.9 906.5 497.8 904.0 495.7 901.5 493.6 899.0 491.5 896.5 489.4 894.0 488.7 891.5 488.2 889.0 487.8 886.5 487.3 884.0 486.9 881.5 486.5 879.0 486.0 876.5 485.6 874.0 485.2 871.5 484.7 869.0 484.3 866.5 483.9 864.0 483.4 861.5 483.0 859.0 482.6 856.5 482.1 854.0 481.7 851.5 481.3 849.0 480.9 846.5 480.6 844.0 480.4 841.5 480.1 839.0 479.9 836.5 479.6 834.0 479.3 831.5 479.1 829.0 478.8 826.5 478.5 824.0 478.3 821.5 478.0 819.0 477.8 816.5 477.5 814.0 477.2 811.5 476.9 809.0 476.2 806.5 475.6 804.0 474.9 801.5 474.2 799.0 474.4 796.5 474.9 794.0 475.4 791.5 475.9 789.0 475.8 786.5 471.3 784.0 466.8 781.5 462.4 779.0 457.9 776.5 462.9 774.0 467.8 771.5 472.8 769.0 468.5 766.5 461.3 764.0 454.1 761.5 448.1 759.0 455.6 756.5 463.0 754.0 470.5 751.5 463.6 749.0 454.0 746.5 445.8 744.0 453.7 741.5 461.5 739.0 469.3 736.5 471.0 734.0 463.3 731.5 462.8 729.0 467.9 726.5 473.0 724.0 455.6 721.5 469.5 719.0 492.5 716.5 475.6 714.0 458.8 711.5 453.4 709.0 465.0 706.5 481.3 704.0 467.2 701.5 451.8 699.0 456.2 696.5 470.4 694.0 477.8 691.5 481.5 689.0 480.4 686.5 497.6 684.0 526.9 681.5 521.3 679.0 502.1 676.5 497.8 674.0 512.2 671.5 510.7 669.0 498.4 666.5 486.2 664.0 474.0 661.5 504.5 659.0 538.7 656.5 535.4 654.0 507.0 651.5 478.7 649.0 493.3 646.5 518.7 644.0 540.0 641.5 515.4 639.0 490.8 636.5 474.0 634.0 474.0 631.5 474.0 629.0 455.1 626.5 465.4 624.0 464.5 621.5 463.6 619.0 462.6 616.5 461.7Z" fill="#ebebeb"/>
<g fill="none" stroke="#d9d9d9" stroke-width="3.0">
<path d="M616.5 440.5l5 -1.9 5 -1.8 5 37.2 5 -0.4 5 41.4 5 3.7 5 -40 5 56.4 5 -30.7 5 -18.5 5 25.1 5 -13.4 5 23.9 5 -24.4 5 -15.4 5 -11.4 5 -18.8 5 29.5 5 -32.2 5 26.9 5 -6.6 5 -39.8 5 -1.1 5 4.9 5 -2.3 5 5.1 5 -4.9 5 2.7 5 0.8 5 -7.5 5 -4.5 5 10 5 -4.2 5 5.2 5 -5.4 5 1.9 5 -3.7 5 -0.3 5 -0.2 5 -3.5 5 -2.9 5 -3.4 5 -2.1 5 0.2 5 1.1 5 0.3 5 0.7 5 -0 5 -1.1 5 -1.7 5 -1 5 0 5 0.5 5 0.2 5 -0 5 0.4 5 -4 5 -3.4 5 -3.5 5 -3.7 5 -3.4 5 -3.3 5 -3.4 5 -3.4 5 -2.4 5 3.4 5 3.9 5 4.2 5 4.5 5 -3.5 5 -4.3 5 -2.4 5 -2.4 5 1.5 5 0.8 5 -0.5 5 -0.7 5 -0.4 5 -1.2 5 -1.4 5 -1.5 5 20.1 5 -10.5 5 -1.4 5 0.3 5 1.1 5 0.2 5 1 5 0.8 5 1.5 5 0.6 5 -1 5 -0.2 5 0 5 -0.8 5 -1 5 0.2 5 1.3 5 1 5 0.6 5 1.3"/>
<path d="M616.5 441.2l5 -1.8 5 -1.7 5 34.9 5 -0.3 5 38.9 5 3.5 5 -37.6 5 53 5 -28.9 5 -17.4 5 23.6 5 -12.6 5 22.6 5 -23 5 -14.4 5 -10.8 5 -17.7 5 27.7 5 -30.2 5 25.3 5 -6.3 5 -37.4 5 -1.3 5 5 5 -2.5 5 4.5 5 -4.3 5 2.7 5 0.3 5 -6.9 5 -4.1 5 9.4 5 -4 5 5.3 5 -5.1 5 1.8 5 -3.6 5 -0.2 5 -0.2 5 -3.4 5 -2.8 5 -3.3 5 -2 5 0.2 5 1.1 5 0.4 5 0.7 5 -0.1 5 -1 5 -1.6 5 -0.9 5 -0 5 0.5 5 0.2 5 -0 5 0.4 5 -3.7 5 -3.2 5 -3.3 5 -3.4 5 -3.2 5 -3.1 5 -3.1 5 -3.3 5 -2.3 5 9.4 5 7.6 5 8.3 5 7.1 5 -4.2 5 -4.2 5 -2.5 5 -3.9 5 0.7 5 -0.5 5 -3.8 5 -6.2 5 -4 5 -1.2 5 -1.4 5 -1.6 5 19.4 5 -10 5 -1.4 5 0.3 5 1.1 5 0.1 5 1 5 0.8 5 1.3 5 0.6 5 -1 5 -0.2 5 0 5 -0.7 5 -1.1 5 0.2 5 1.2 5 1.1 5 0.5 5 1.3"/>
<path d="M616.5 443.1l5 -1.5 5 -1.3 5 28.4 5 -0.4 5 31.7 5 3 5 -30.7 5 43.2 5 -23.6 5 -14.1 5 19.3 5 -10.4 5 18.5 5 -18.9 5 -11.6 5 -8.9 5 -14.4 5 22.6 5 -24.5 5 20.5 5 -5.1 5 -30.4 5 -2.2 5 5.4 5 -3.2 5 2.7 5 -2.3 5 2.3 5 -1.1 5 -5 5 -2.7 5 7.7 5 -3.8 5 5.7 5 -4.2 5 1.5 5 -3.3 5 -0.1 5 0 5 -3.1 5 -2.4 5 -3 5 -1.8 5 0.2 5 1.1 5 0.4 5 0.7 5 -0.1 5 -0.8 5 -1.4 5 -0.7 5 0.1 5 0.5 5 0.3 5 0 5 0.6 5 -3.1 5 -2.5 5 -2.6 5 -2.7 5 -2.6 5 -2.4 5 -2.5 5 -2.9 5 -2 5 14.4 5 10.7 5 11.5 5 8.9 5 -4.3 5 -3.6 5 -2.5 5 -5.2 5 -0.1 5 -1.8 5 -6.8 5 -11 5 -7.2 5 -1.3 5 -1.5 5 -1.7 5 17.2 5 -8.3 5 -1.2 5 0.1 5 0.9 5 -0 5 0.8 5 0.6 5 1 5 0.5 5 -1 5 -0.1 5 0 5 -0.7 5 -1 5 0.1 5 1.1 5 1 5 0.4 5 1.2"/>
<path d="M616.5 445.9l5 -1 5 -0.8 5 18.4 5 -0.4 5 20.8 5 2 5 -20 5 28.1 5 -15.3 5 -9.3 5 12.8 5 -7 5 12.2 5 -12.5 5 -7.4 5 -5.9 5 -9.4 5 14.6 5 -15.7 5 13.3 5 -3.5 5 -19.7 5 -3.3 5 5.8 5 -4.2 5 -0.1 5 0.8 5 1.9 5 -3.3 5 -2.3 5 -0.4 5 5 5 -3.3 5 6.1 5 -2.7 5 1 5 -2.8 5 0.1 5 0.2 5 -2.6 5 -1.9 5 -2.5 5 -1.4 5 0.1 5 1.1 5 0.4 5 0.7 5 0 5 -0.5 5 -1.1 5 -0.4 5 0.2 5 0.6 5 0.4 5 0.1 5 0.7 5 -2.1 5 -1.5 5 -1.5 5 -1.7 5 -1.6 5 -1.4 5 -1.5 5 -2.3 5 -1.6 5 18 5 12.8 5 13.2 5 9.9 5 -3.7 5 -3 5 -2.2 5 -6.1 5 -0.8 5 -3 5 -9 5 -14.6 5 -9.7 5 -1.4 5 -1.6 5 -1.9 5 13.9 5 -5.9 5 -0.9 5 -0.1 5 0.7 5 -0.3 5 0.5 5 0.3 5 0.7 5 0.3 5 -0.9 5 -0.1 5 0 5 -0.7 5 -1 5 0.1 5 1 5 0.7 5 0.3 5 1"/>
<path d="M616.5 449.4l5 -0.3 5 -0.3 5 6.2 5 -0.4 5 7.2 5 1 5 -6.9 5 9.6 5 -5.3 5 -3.3 5 4.8 5 -2.7 5 4.5 5 -4.8 5 -2.1 5 -2.3 5 -3.4 5 5 5 -5 5 4.5 5 -1.5 5 -6.5 5 -4.9 5 6.4 5 -5.4 5 -3.4 5 4.4 5 1.4 5 -5.9 5 1 5 2.3 5 1.8 5 -2.8 5 6.7 5 -1 5 0.4 5 -2.1 5 0.3 5 0.5 5 -2 5 -1.3 5 -1.8 5 -1.1 5 0.2 5 1.1 5 0.4 5 0.7 5 0 5 -0.1 5 -0.7 5 -0 5 0.3 5 0.7 5 0.4 5 0.2 5 0.9 5 -0.8 5 -0.2 5 -0.3 5 -0.5 5 -0.3 5 -0.1 5 -0.3 5 -1.6 5 -1.1 5 19.7 5 13.7 5 13.3 5 9.7 5 -2.4 5 -2.2 5 -1.8 5 -6.5 5 -1.4 5 -3.8 5 -10.4 5 -16.6 5 -11 5 -1.5 5 -1.7 5 -2.2 5 9.8 5 -2.9 5 -0.6 5 -0.2 5 0.3 5 -0.6 5 0.3 5 -0.1 5 0.2 5 0.1 5 -0.9 5 -0 5 0 5 -0.6 5 -1 5 0 5 0.8 5 0.6 5 0.1 5 0.8"/>
<path d="M616.5 453.1l5 0.3 5 0.4 5 -6.8 5 -0.4 5 -7.1 5 -0.2 5 7 5 -10.2 5 5.5 5 3 5 -3.6 5 1.7 5 -3.6 5 3.4 5 3.5 5 1.5 5 3.1 5 -5.2 5 6.3 5 -4.9 5 0.7 5 7.4 5 -6.4 5 7 5 -6.6 5 -7.2 5 8.4 5 0.8 5 -8.7 5 4.7 5 5.2 5 -1.8 5 -2.2 5 7.4 5 0.8 5 -0.2 5 -1.5 5 0.6 5 0.8 5 -1.4 5 -0.6 5 -1.1 5 -0.6 5 0.1 5 1.1 5 0.4 5 0.7 5 0.1 5 0.2 5 -0.2 5 0.3 5 0.5 5 0.8 5 0.5 5 0.3 5 1.1 5 0.6 5 1.1 5 1 5 0.9 5 1 5 1.2 5 1.1 5 -1 5 -0.5 5 19.3 5 13.2 5 11.8 5 8.5 5 -0.6 5 -1.5 5 -1.3 5 -6.2 5 -1.8 5 -4.2 5 -10.6 5 -16.7 5 -11.2 5 -1.6 5 -1.9 5 -2.4 5 5.5 5 0.3 5 -0.2 5 -0.6 5 0.1 5 -0.9 5 -0.1 5 -0.5 5 -0.3 5 -0.1 5 -0.8 5 -0.1 5 0.2 5 -0.7 5 -0.9 5 -0.1 5 0.6 5 0.4 5 -0.1 5 0.6"/>
<path d="M616.5 456.6l5 0.9 5 1 5 -19 5 -0.4 5 -20.6 5 -1.3 5 20 5 -28.6 5 15.6 5 8.9 5 -11.6 5 6 5 -11.4 5 11.2 5 8.7 5 5.2 5 9.1 5 -14.8 5 17 5 -13.7 5 2.6 5 20.6 5 -7.9 5 7.7 5 -7.9 5 -10.6 5 12.1 5 0.3 5 -11.3 5 8 5 7.9 5 -5 5 -1.7 5 8 5 2.5 5 -0.7 5 -0.9 5 0.9 5 1 5 -0.8 5 0.1 5 -0.5 5 -0.2 5 0.1 5 1.1 5 0.4 5 0.7 5 0.1 5 0.6 5 0.1 5 0.8 5 0.6 5 0.9 5 0.6 5 0.3 5 1.4 5 1.8 5 2.4 5 2.3 5 2.1 5 2.2 5 2.5 5 2.3 5 -0.3 5 -0 5 16.9 5 11.4 5 8.8 5 6.3 5 1.5 5 -0.7 5 -0.9 5 -5.3 5 -2 5 -4.1 5 -9.7 5 -14.9 5 -10.1 5 -1.8 5 -1.9 5 -2.6 5 1.3 5 3.4 5 0 5 -0.7 5 -0.3 5 -1.2 5 -0.4 5 -0.8 5 -0.8 5 -0.2 5 -0.9 5 0 5 0.2 5 -0.6 5 -0.9 5 -0.2 5 0.4 5 0.2 5 -0.3 5 0.4"/>
<path d="M616.5 459.5l5 1.4 5 1.5 5 -29 5 -0.3 5 -31.7 5 -2.1 5 30.6 5 -43.7 5 23.8 5 13.8 5 -18.1 5 9.4 5 -17.6 5 17.5 5 12.9 5 8.2 5 14.1 5 -22.7 5 25.7 5 -20.9 5 4.3 5 31.3 5 -9.1 5 8.1 5 -8.9 5 -13.3 5 15.1 5 -0.1 5 -13.5 5 10.8 5 10.1 5 -7.7 5 -1.3 5 8.5 5 3.9 5 -1.2 5 -0.4 5 1.1 5 1.2 5 -0.2 5 0.6 5 -0 5 0.1 5 0.1 5 1.1 5 0.4 5 0.7 5 0.2 5 0.9 5 0.4 5 1.1 5 0.7 5 0.9 5 0.7 5 0.5 5 1.5 5 2.8 5 3.4 5 3.3 5 3.2 5 3.2 5 3.5 5 3.3 5 0.3 5 0.4 5 12.6 5 8.6 5 4.7 5 3.6 5 3.5 5 -0.1 5 -0.4 5 -4.1 5 -1.8 5 -3.6 5 -7.7 5 -11.5 5 -7.8 5 -1.9 5 -2 5 -2.8 5 -2 5 5.8 5 0.3 5 -0.9 5 -0.5 5 -1.5 5 -0.6 5 -1.2 5 -1.1 5 -0.4 5 -0.9 5 0.1 5 0.2 5 -0.6 5 -0.9 5 -0.2 5 0.3 5 -0 5 -0.5 5 0.3"/>
<path d="M616.5 461.3l5 1.7 5 1.8 5 -35.4 5 -0.4 5 -38.9 5 -2.6 5 37.6 5 -53.6 5 29.1 5 17.1 5 -22.4 5 11.6 5 -21.7 5 21.6 5 15.8 5 10.1 5 17.3 5 -27.9 5 31.4 5 -25.6 5 5.4 5 38.3 5 -9.9 5 8.4 5 -9.4 5 -15.2 5 17.1 5 -0.5 5 -14.9 5 12.6 5 11.6 5 -9.5 5 -0.9 5 8.7 5 4.9 5 -1.5 5 -0 5 1.2 5 1.3 5 0.1 5 0.9 5 0.4 5 0.3 5 0.2 5 1.1 5 0.3 5 0.8 5 0.2 5 1 5 0.6 5 1.3 5 0.8 5 1 5 0.7 5 0.5 5 1.7 5 3.5 5 4 5 4 5 3.9 5 3.8 5 4.1 5 4 5 0.7 5 0.6 5 7.2 5 5 5 0.1 5 0.5 5 5.3 5 0.2 5 -0 5 -2.5 5 -1.4 5 -2.7 5 -4.9 5 -6.9 5 -4.7 5 -1.9 5 -2.1 5 -2.9 5 -4.2 5 7.4 5 0.5 5 -1 5 -0.7 5 -1.6 5 -0.8 5 -1.4 5 -1.4 5 -0.5 5 -0.8 5 0.1 5 0.2 5 -0.6 5 -0.8 5 -0.3 5 0.2 5 -0.1 5 -0.6 5 0.2"/>
<path d="M616.5 462.0l5 1.8 5 2 5 -37.7 5 -0.4 5 -41.4 5 -2.8 5 40 5 -57 5 31 5 18.1 5 -23.9 5 12.4 5 -23.1 5 23.1 5 16.7 5 10.8 5 18.4 5 -29.6 5 33.4 5 -27.3 5 5.8 5 40.7 5 -10.2 5 8.6 5 -9.8 5 -15.8 5 17.8 5 -0.5 5 -15.4 5 13.2 5 12 5 -10 5 -0.8 5 8.8 5 5.2 5 -1.6 5 0.1 5 1.3 5 1.3 5 0.2 5 1.1 5 0.4 5 0.4 5 0.2 5 1.1 5 0.3 5 0.8 5 0.2 5 1.1 5 0.7 5 1.4 5 0.7 5 1.1 5 0.7 5 0.5 5 1.7 5 3.7 5 4.4 5 4.2 5 4 5 4.2 5 4.3 5 4.2 5 0.8 5 0.7 5 1.1 5 1.2 5 -4.7 5 -2.5 5 6.7 5 0.2 5 0.3 5 -0.8 5 -0.8 5 -1.5 5 -1.6 5 -1.6 5 -1.1 5 -1.9 5 -2.1 5 -3 5 -4.9 5 7.9 5 0.6 5 -1.1 5 -0.7 5 -1.7 5 -0.8 5 -1.4 5 -1.6 5 -0.5 5 -0.8 5 0.1 5 0.2 5 -0.6 5 -0.8 5 -0.2 5 0.1 5 -0.2 5 -0.6 5 0.2"/>
<path d="M616.5 461.3l5 1.7 5 1.8 5 -35.4 5 -0.4 5 -38.9 5 -2.6 5 37.6 5 -53.6 5 29.1 5 17.1 5 -22.4 5 11.6 5 -21.7 5 21.6 5 15.8 5 10.1 5 17.3 5 -27.9 5 31.4 5 -25.6 5 5.4 5 38.3 5 -9.9 5 8.4 5 -9.4 5 -15.2 5 17.1 5 -0.5 5 -14.9 5 12.6 5 11.6 5 -9.5 5 -0.9 5 8.7 5 4.9 5 -1.5 5 -0 5 1.2 5 1.3 5 0.1 5 0.9 5 0.4 5 0.3 5 0.2 5 1.1 5 0.3 5 0.8 5 0.2 5 1 5 0.6 5 1.3 5 0.8 5 1 5 0.7 5 0.5 5 1.7 5 3.5 5 4 5 4 5 3.9 5 3.8 5 4.1 5 4 5 0.7 5 0.6 5 -4.8 5 -2.6 5 -8.8 5 -5.1 5 7.5 5 -0 5 0.4 5 0.7 5 0 5 -0.1 5 1.6 5 3.9 5 2.5 5 -1.9 5 -2.1 5 -2.9 5 -4.2 5 7.4 5 0.5 5 -1 5 -0.7 5 -1.6 5 -0.8 5 -1.4 5 -1.4 5 -0.5 5 -0.8 5 0.1 5 0.2 5 -0.6 5 -0.8 5 -0.3 5 0.2 5 -0.1 5 -0.6 5 0.2"/>
<path d="M616.5 459.5l5 1.4 5 1.5 5 -29 5 -0.3 5 -31.7 5 -2.1 5 30.6 5 -43.7 5 23.8 5 13.8 5 -18.1 5 9.4 5 -17.6 5 17.5 5 12.9 5 8.2 5 14.1 5 -22.7 5 25.7 5 -20.9 5 4.3 5 31.3 5 -9.1 5 8.1 5 -8.9 5 -13.3 5 15.1 5 -0.1 5 -13.5 5 10.8 5 10.1 5 -7.7 5 -1.3 5 8.5 5 3.9 5 -1.2 5 -0.4 5 1.1 5 1.2 5 -0.2 5 0.6 5 -0 5 0.1 5 0.1 5 1.1 5 0.4 5 0.7 5 0.2 5 0.9 5 0.4 5 1.1 5 0.7 5 0.9 5 0.7 5 0.5 5 1.5 5 2.8 5 3.4 5 3.3 5 3.2 5 3.2 5 3.5 5 3.3 5 0.3 5 0.4 5 -9.9 5 -5.7 5 -11.9 5 -7 5 7.6 5 -0.6 5 0.4 5 2.1 5 0.7 5 1.2 5 4.6 5 8.7 5 5.8 5 -1.9 5 -2 5 -2.8 5 -2 5 5.8 5 0.3 5 -0.9 5 -0.5 5 -1.5 5 -0.6 5 -1.2 5 -1.1 5 -0.4 5 -0.9 5 0.1 5 0.2 5 -0.6 5 -0.9 5 -0.2 5 0.3 5 -0 5 -0.5 5 0.3"/>
<path d="M616.5 456.6l5 0.9 5 1 5 -19 5 -0.4 5 -20.6 5 -1.3 5 20 5 -28.6 5 15.6 5 8.9 5 -11.6 5 6 5 -11.4 5 11.2 5 8.7 5 5.2 5 9.1 5 -14.8 5 17 5 -13.7 5 2.6 5 20.6 5 -7.9 5 7.7 5 -7.9 5 -10.6 5 12.1 5 0.3 5 -11.3 5 8 5 7.9 5 -5 5 -1.7 5 8 5 2.5 5 -0.7 5 -0.9 5 0.9 5 1 5 -0.8 5 0.1 5 -0.5 5 -0.2 5 0.1 5 1.1 5 0.4 5 0.7 5 0.1 5 0.6 5 0.1 5 0.8 5 0.6 5 0.9 5 0.6 5 0.3 5 1.4 5 1.8 5 2.4 5 2.3 5 2.1 5 2.2 5 2.5 5 2.3 5 -0.3 5 -0 5 -13.6 5 -7.8 5 -13.6 5 -7.8 5 6.9 5 -1.2 5 0.1 5 2.9 5 1.6 5 2.2 5 6.9 5 12.3 5 8.3 5 -1.8 5 -1.9 5 -2.6 5 1.3 5 3.4 5 0 5 -0.7 5 -0.3 5 -1.2 5 -0.4 5 -0.8 5 -0.8 5 -0.2 5 -0.9 5 0 5 0.2 5 -0.6 5 -0.9 5 -0.2 5 0.4 5 0.2 5 -0.3 5 0.4"/>
<path d="M616.5 453.1l5 0.3 5 0.4 5 -6.8 5 -0.4 5 -7.1 5 -0.2 5 7 5 -10.2 5 5.5 5 3 5 -3.6 5 1.7 5 -3.6 5 3.4 5 3.5 5 1.5 5 3.1 5 -5.2 5 6.3 5 -4.9 5 0.7 5 7.4 5 -6.4 5 7 5 -6.6 5 -7.2 5 8.4 5 0.8 5 -8.7 5 4.7 5 5.2 5 -1.8 5 -2.2 5 7.4 5 0.8 5 -0.2 5 -1.5 5 0.6 5 0.8 5 -1.4 5 -0.6 5 -1.1 5 -0.6 5 0.1 5 1.1 5 0.4 5 0.7 5 0.1 5 0.2 5 -0.2 5 0.3 5 0.5 5 0.8 5 0.5 5 0.3 5 1.1 5 0.6 5 1.1 5 1 5 0.9 5 1 5 1.2 5 1.1 5 -1 5 -0.5 5 -15.3 5 -8.6 5 -13.7 5 -7.8 5 5.7 5 -2 5 -0.3 5 3.3 5 2.1 5 3.1 5 8.2 5 14.4 5 9.6 5 -1.6 5 -1.9 5 -2.4 5 5.5 5 0.3 5 -0.2 5 -0.6 5 0.1 5 -0.9 5 -0.1 5 -0.5 5 -0.3 5 -0.1 5 -0.8 5 -0.1 5 0.2 5 -0.7 5 -0.9 5 -0.1 5 0.6 5 0.4 5 -0.1 5 0.6"/>
<path d="M616.5 449.4l5 -0.3 5 -0.3 5 6.2 5 -0.4 5 7.2 5 1 5 -6.9 5 9.6 5 -5.3 5 -3.3 5 4.8 5 -2.7 5 4.5 5 -4.8 5 -2.1 5 -2.3 5 -3.4 5 5 5 -5 5 4.5 5 -1.5 5 -6.5 5 -4.9 5 6.4 5 -5.4 5 -3.4 5 4.4 5 1.4 5 -5.9 5 1 5 2.3 5 1.8 5 -2.8 5 6.7 5 -1 5 0.4 5 -2.1 5 0.3 5 0.5 5 -2 5 -1.3 5 -1.8 5 -1.1 5 0.2 5 1.1 5 0.4 5 0.7 5 0 5 -0.1 5 -0.7 5 -0 5 0.3 5 0.7 5 0.4 5 0.2 5 0.9 5 -0.8 5 -0.2 5 -0.3 5 -0.5 5 -0.3 5 -0.1 5 -0.3 5 -1.6 5 -1.1 5 -14.9 5 -8.2 5 -12.1 5 -6.5 5 3.8 5 -2.7 5 -0.8 5 3 5 2.6 5 3.4 5 8.5 5 14.4 5 9.8 5 -1.5 5 -1.7 5 -2.2 5 9.8 5 -2.9 5 -0.6 5 -0.2 5 0.3 5 -0.6 5 0.3 5 -0.1 5 0.2 5 0.1 5 -0.9 5 -0 5 0 5 -0.6 5 -1 5 0 5 0.8 5 0.6 5 0.1 5 0.8"/>
<path d="M616.5 445.9l5 -1 5 -0.8 5 18.4 5 -0.4 5 20.8 5 2 5 -20 5 28.1 5 -15.3 5 -9.3 5 12.8 5 -7 5 12.2 5 -12.5 5 -7.4 5 -5.9 5 -9.4 5 14.6 5 -15.7 5 13.3 5 -3.5 5 -19.7 5 -3.3 5 5.8 5 -4.2 5 -0.1 5 0.8 5 1.9 5 -3.3 5 -2.3 5 -0.4 5 5 5 -3.3 5 6.1 5 -2.7 5 1 5 -2.8 5 0.1 5 0.2 5 -2.6 5 -1.9 5 -2.5 5 -1.4 5 0.1 5 1.1 5 0.4 5 0.7 5 0 5 -0.5 5 -1.1 5 -0.4 5 0.2 5 0.6 5 0.4 5 0.1 5 0.7 5 -2.1 5 -1.5 5 -1.5 5 -1.7 5 -1.6 5 -1.4 5 -1.5 5 -2.3 5 -1.6 5 -12.4 5 -6.4 5 -9.2 5 -4.4 5 1.8 5 -3.4 5 -1.3 5 2.2 5 2.7 5 3.3 5 7.5 5 12.7 5 8.7 5 -1.4 5 -1.6 5 -1.9 5 13.9 5 -5.9 5 -0.9 5 -0.1 5 0.7 5 -0.3 5 0.5 5 0.3 5 0.7 5 0.3 5 -0.9 5 -0.1 5 0 5 -0.7 5 -1 5 0.1 5 1 5 0.7 5 0.3 5 1"/>
<path d="M616.5 443.1l5 -1.5 5 -1.3 5 28.4 5 -0.4 5 31.7 5 3 5 -30.7 5 43.2 5 -23.6 5 -14.1 5 19.3 5 -10.4 5 18.5 5 -18.9 5 -11.6 5 -8.9 5 -14.4 5 22.6 5 -24.5 5 20.5 5 -5.1 5 -30.4 5 -2.2 5 5.4 5 -3.2 5 2.7 5 -2.3 5 2.3 5 -1.1 5 -5 5 -2.7 5 7.7 5 -3.8 5 5.7 5 -4.2 5 1.5 5 -3.3 5 -0.1 5 0 5 -3.1 5 -2.4 5 -3 5 -1.8 5 0.2 5 1.1 5 0.4 5 0.7 5 -0.1 5 -0.8 5 -1.4 5 -0.7 5 0.1 5 0.5 5 0.3 5 0 5 0.6 5 -3.1 5 -2.5 5 -2.6 5 -2.7 5 -2.6 5 -2.4 5 -2.5 5 -2.9 5 -2 5 -8.2 5 -3.6 5 -5.1 5 -1.6 5 -0.2 5 -4.1 5 -1.7 5 0.9 5 2.5 5 2.9 5 5.5 5 9.3 5 6.4 5 -1.3 5 -1.5 5 -1.7 5 17.2 5 -8.3 5 -1.2 5 0.1 5 0.9 5 -0 5 0.8 5 0.6 5 1 5 0.5 5 -1 5 -0.1 5 0 5 -0.7 5 -1 5 0.1 5 1.1 5 1 5 0.4 5 1.2"/>
<path d="M616.5 441.2l5 -1.8 5 -1.7 5 34.9 5 -0.3 5 38.9 5 3.5 5 -37.6 5 53 5 -28.9 5 -17.4 5 23.6 5 -12.6 5 22.6 5 -23 5 -14.4 5 -10.8 5 -17.7 5 27.7 5 -30.2 5 25.3 5 -6.3 5 -37.4 5 -1.3 5 5 5 -2.5 5 4.5 5 -4.3 5 2.7 5 0.3 5 -6.9 5 -4.1 5 9.4 5 -4 5 5.3 5 -5.1 5 1.8 5 -3.6 5 -0.2 5 -0.2 5 -3.4 5 -2.8 5 -3.3 5 -2 5 0.2 5 1.1 5 0.4 5 0.7 5 -0.1 5 -1 5 -1.6 5 -0.9 5 -0 5 0.5 5 0.2 5 -0 5 0.4 5 -3.7 5 -3.2 5 -3.3 5 -3.4 5 -3.2 5 -3.1 5 -3.1 5 -3.3 5 -2.3 5 -2.6 5 -0.1 5 -0.4 5 1.4 5 -2 5 -4.4 5 -2.1 5 -0.6 5 2.1 5 1.9 5 2.8 5 4.6 5 3.2 5 -1.2 5 -1.4 5 -1.6 5 19.4 5 -10 5 -1.4 5 0.3 5 1.1 5 0.1 5 1 5 0.8 5 1.3 5 0.6 5 -1 5 -0.2 5 0 5 -0.7 5 -1.1 5 0.2 5 1.2 5 1.1 5 0.5 5 1.3"/>
</g>
<path d="M616.5 461.2L619.0 463.2 621.5 463.1 624.0 464.4 626.5 464.9 629.0 455.2 631.5 428.0 634.0 427.6 636.5 428.7 639.0 410.9 641.5 387.3 644.0 362.5 646.5 383.2 649.0 408.1 651.5 423.2 654.0 395.5 656.5 367.0 659.0 363.4 661.5 397.7 664.0 428.2 666.5 416.3 669.0 402.7 671.5 390.6 674.0 389.0 676.5 404.5 679.0 400.5 681.5 380.1 684.0 375.7 686.5 405.2 689.0 421.5 691.5 419.9 694.0 425.0 696.5 431.8 699.0 457.0 701.5 450.7 704.0 434.7 706.5 421.3 709.0 437.6 711.5 452.8 714.0 443.1 716.5 426.2 719.0 409.6 721.5 433.2 724.0 456.2 726.5 473.0 729.0 468.7 731.5 463.0 734.0 463.0 736.5 470.2 739.0 469.3 741.5 461.2 744.0 452.8 746.5 445.8 749.0 453.3 751.5 463.7 754.0 471.1 756.5 463.0 759.0 456.2 761.5 449.0 764.0 454.0 766.5 462.2 769.0 468.5 771.5 472.6 774.0 467.1 776.5 462.9 779.0 457.9 781.5 463.0 784.0 467.3 786.5 472.1 789.0 476.3 791.5 475.5 794.0 475.7 796.5 475.7 799.0 475.1 801.5 473.4 804.0 475.6 806.5 475.0 809.0 475.7 811.5 476.4 814.0 477.2 816.5 477.7 819.0 476.9 821.5 477.2 824.0 477.5 826.5 477.9 829.0 479.1 831.5 478.6 834.0 479.1 836.5 479.9 839.0 479.8 841.5 479.3 844.0 479.6 846.5 480.1 849.0 481.6 851.5 480.5 854.0 482.2 856.5 482.6 859.0 482.0 861.5 483.0 864.0 483.6 866.5 484.2 869.0 484.0 871.5 484.1 874.0 485.3 876.5 485.2 879.0 486.7 881.5 485.8 884.0 486.1 886.5 486.8 889.0 487.3 891.5 488.4 894.0 488.9 896.5 488.7 899.0 492.2 901.5 493.9 904.0 495.2 906.5 497.9 909.0 499.1 911.5 502.1 914.0 503.3 916.5 506.5 919.0 507.9 921.5 510.5 924.0 511.9 926.5 514.1 929.0 516.4 931.5 518.0 934.0 519.1 936.5 520.8 939.0 520.6 941.5 521.4 944.0 520.4 946.5 521.3 949.0 521.6 951.5 521.2 954.0 522.8 956.5 517.1 959.0 512.4 961.5 514.6 964.0 520.6 966.5 521.9 969.0 523.0 971.5 522.0 974.0 522.2 976.5 521.9 979.0 521.8 981.5 521.6 984.0 521.3 986.5 520.1 989.0 519.5 991.5 520.1 994.0 519.4 996.5 519.0 999.0 517.3 1001.5 517.0 1004.0 515.5 1006.5 514.1 1009.0 513.4 1011.5 513.0 1014.0 511.8 1016.5 512.2 1019.0 510.2 1021.5 509.2 1024.0 505.8 1026.5 502.1 1029.0 506.9 1031.5 511.1 1034.0 512.5 1036.5 512.0 1039.0 512.1 1041.5 511.7 1044.0 510.9 1046.5 509.3 1049.0 508.7 1051.5 508.8 1054.0 507.1 1056.5 506.6 1059.0 506.1 1061.5 505.5 1064.0 504.8 1066.5 504.7 1069.0 503.9 1071.5 503.6 1074.0 504.5 1076.5 504.4 1079.0 503.8 1081.5 503.4 1084.0 503.7 1086.5 502.2 1089.0 502.2 1091.5 502.5 1094.0 503.2 1096.5 503.3 1099.0 503.2 1101.5 503.0 1104.0 501.2 1106.5 502.0 1109.0 501.8 1111.5 501.5 1114.0 501.5 1116.5 501.8 1119.0 500.8 1121.5 500.7 1124.0 501.8" fill="none" stroke="#e3302e" stroke-width="3.8" stroke-linejoin="round"/>
<path d="M616.5 440.8L619.0 438.8 621.5 438.9 624.0 437.6 626.5 437.1" fill="none" stroke="#2d4fa3" stroke-width="3.8" stroke-linejoin="round"/>
<path d="M626.5 437.1L629.0 446.8 631.5 474.0 634.0 474.4 636.5 473.3 639.0 491.1 641.5 514.7 644.0 539.5 646.5 518.8 649.0 493.9 651.5 478.8 654.0 506.5 656.5 535.0 659.0 538.6 661.5 504.3 664.0 473.8 666.5 485.7 669.0 499.3 671.5 511.4 674.0 513.0 676.5 497.5 679.0 501.5 681.5 521.9 684.0 526.3 686.5 496.8 689.0 480.5 691.5 482.1 694.0 477.0 696.5 470.2 699.0 445.0 701.5 451.3" fill="none" stroke="#4a68b4" stroke-width="2.4" stroke-linejoin="round"/>
<path d="M701.5 451.3L704.0 467.3 706.5 480.7 709.0 464.4 711.5 449.2 714.0 458.9 716.5 475.8 719.0 492.4 721.5 468.8 724.0 445.8 726.5 429.3 729.0 435.3 731.5 428.2 734.0 427.0 736.5 433.5 739.0 432.0 741.5 430.9 744.0 435.1 746.5 436.0 749.0 431.7 751.5 431.0 754.0 434.0 756.5 433.8 759.0 429.3 761.5 434.1 764.0 435.1 766.5 426.6 769.0 424.5 771.5 422.6 774.0 428.3 776.5 432.5 779.0 430.0 781.5 428.0 784.0 431.8 786.5 433.2 789.0 428.5 791.5 428.4 794.0 429.4 796.5 429.7 799.0 427.3 801.5 426.7 804.0 425.2 806.5 426.3 809.0 426.2 811.5 426.1 814.0 424.1 816.5 422.2 819.0 421.6 821.5 419.9 824.0 418.2 826.5 416.4 829.0 413.7 831.5 414.2 834.0 414.2 836.5 414.0 839.0 414.6 841.5 415.6 844.0 415.8 846.5 415.8 849.0 415.0 851.5 416.7 854.0 415.7 856.5 415.9 859.0 416.5 861.5 415.1 864.0 414.2 866.5 413.3 869.0 413.2 871.5 412.8 874.0 412.0 876.5 412.7 879.0 411.8 881.5 413.3 884.0 413.6 886.5 413.4 889.0 413.5 891.5 413.0 894.0 413.1 896.5 413.9 899.0 410.8 901.5 409.4 904.0 408.4 906.5 406.1 909.0 405.2 911.5 402.6 914.0 401.7 916.5 398.9 919.0 397.8 921.5 395.4 924.0 394.3 926.5 392.4 929.0 390.3 931.5 389.1 934.0 387.6 936.5 385.0 939.0 384.3 941.5 382.7 944.0 385.4 946.5 386.5 949.0 388.2 951.5 390.8 954.0 391.4 956.5 394.8 959.0 397.4 961.5 399.3 964.0 398.1 966.5 395.7 969.0 391.6 971.5 391.3 974.0 390.0 976.5 389.0 979.0 387.8 981.5 386.6 984.0 387.0 986.5 388.3 989.0 389.0 991.5 388.5 994.0 388.8 996.5 387.9 999.0 388.3 1001.5 387.3 1004.0 387.4 1006.5 387.5 1009.0 387.0 1011.5 386.1 1014.0 386.0 1016.5 384.2 1019.0 384.7 1021.5 382.7 1024.0 392.4 1026.5 403.6 1029.0 397.9 1031.5 392.7 1034.0 390.4 1036.5 391.1 1039.0 391.2 1041.5 391.2 1044.0 391.6 1046.5 392.8 1049.0 393.1 1051.5 392.7 1054.0 394.0 1056.5 394.1 1059.0 394.2 1061.5 394.9 1064.0 395.7 1066.5 396.0 1069.0 396.9 1071.5 396.9 1074.0 395.6 1076.5 395.3 1079.0 395.5 1081.5 395.5 1084.0 394.8 1086.5 396.0 1089.0 395.5 1091.5 394.9 1094.0 393.9 1096.5 393.3 1099.0 393.1 1101.5 393.6 1104.0 395.7 1106.5 395.2 1109.0 395.7 1111.5 396.4 1114.0 396.6 1116.5 396.7 1119.0 398.0 1121.5 398.3 1124.0 397.6" fill="none" stroke="#2d4fa3" stroke-width="3.8" stroke-linejoin="round"/>
</g>
<defs></defs>
<g clip-path="url(#cl)">
<path d="M109.0 979.0L111.5 979.0 114.0 979.0 116.5 979.0 119.0 981.0 121.5 983.6 124.0 986.1 126.5 988.6 129.0 991.0 131.5 992.1 134.0 993.1 136.5 991.7 139.0 985.5 141.5 983.8 144.0 987.8 146.5 991.9 149.0 995.9 151.5 999.9 154.0 1002.1 156.5 1003.4 159.0 1004.3 161.5 1003.4 164.0 1002.6 166.5 1007.1 169.0 1010.1 171.5 1011.4 174.0 1012.7 176.5 1014.0 179.0 1015.4 181.5 1016.7 184.0 1018.0 186.5 1018.1 189.0 1018.3 191.5 1018.4 194.0 1018.6 196.5 1018.7 199.0 1018.8 201.5 1019.0 204.0 1019.1 206.5 1019.2 209.0 1019.4 211.5 1019.5 214.0 1019.7 216.5 1019.8 219.0 1019.9 221.5 1019.3 224.0 1018.2 226.5 1017.0 229.0 1015.3 231.5 1013.6 234.0 1012.0 236.5 1010.3 239.0 1008.7 241.5 1007.0 244.0 1005.3 246.5 1003.7 249.0 1003.0 251.5 1002.4 254.0 1001.8 256.5 1001.2 259.0 1000.6 261.5 1000.0 264.0 999.4 266.5 998.8 269.0 998.2 271.5 997.4 274.0 996.4 276.5 995.4 279.0 994.4 281.5 993.4 284.0 992.4 286.5 992.3 289.0 992.8 291.5 993.3 294.0 993.8 296.5 994.3 299.0 994.8 301.5 995.4 304.0 995.9 306.5 996.4 309.0 996.9 311.5 997.4 314.0 997.9 316.5 998.2 319.0 998.5 321.5 998.9 324.0 999.2 326.5 999.5 329.0 999.9 331.5 1000.9 334.0 1002.3 336.5 1003.8 339.0 1005.2 341.5 1006.7 344.0 1008.1 346.5 1009.6 349.0 1011.1 351.5 1012.5 354.0 1014.0 356.5 1015.4 359.0 1016.9 361.5 1018.3 364.0 1019.8 366.5 1021.2 369.0 1022.7 371.5 1024.1 374.0 1025.6 376.5 1027.1 379.0 1028.5 381.5 1030.0 384.0 1031.4 386.5 1032.3 389.0 1032.9 391.5 1031.7 394.0 1029.2 396.5 1026.6 399.0 1024.1 401.5 1021.5 404.0 1019.3 406.5 1017.6 409.0 1015.9 411.5 1014.2 414.0 1012.4 416.5 1010.7 419.0 1009.0 421.5 1007.3 424.0 1005.5 426.5 1003.8 429.0 1002.1 431.5 1000.4 434.0 998.8 436.5 997.3 439.0 995.8 441.5 994.3 444.0 992.8 446.5 991.3 449.0 989.8 451.5 988.3 454.0 986.8 456.5 985.3 459.0 983.8 461.5 982.3 464.0 981.2 466.5 980.2 469.0 979.2 471.5 978.1 474.0 977.1 476.5 976.1 479.0 975.1 481.5 974.1 484.0 973.1 486.5 972.0 489.0 971.0 491.5 970.0 494.0 969.2 496.5 968.4 499.0 967.5 501.5 966.7 504.0 965.9 506.5 965.1 509.0 964.3 511.5 963.4 514.0 962.6 516.5 961.8 519.0 961.4 521.5 961.6 524.0 961.8 526.5 964.3 529.0 975.9 531.5 975.2 534.0 966.5 536.5 963.0 539.0 963.0 541.5 963.0 544.0 962.9 546.5 962.9 549.0 962.9 551.5 962.9 554.0 962.9 556.5 962.9 559.0 962.9 561.5 962.8 564.0 962.8 566.5 962.8 569.0 962.8 571.5 962.9 574.0 963.0 576.5 964.8 579.0 973.9 581.5 973.5 584.0 966.7 586.5 964.1 589.0 964.2 591.5 964.4 594.0 964.5 596.5 964.7 599.0 964.8 601.5 965.0 604.0 965.1 606.5 965.3 609.0 965.4 611.5 965.6 614.0 965.7 614.5 965.8 614.5 1114.2 614.0 1114.3 611.5 1114.4 609.0 1114.6 606.5 1114.7 604.0 1114.9 601.5 1115.0 599.0 1115.2 596.5 1115.3 594.0 1115.5 591.5 1115.6 589.0 1115.8 586.5 1115.9 584.0 1113.3 581.5 1106.5 579.0 1106.1 576.5 1115.2 574.0 1117.0 571.5 1117.1 569.0 1117.2 566.5 1117.2 564.0 1117.2 561.5 1117.2 559.0 1117.1 556.5 1117.1 554.0 1117.1 551.5 1117.1 549.0 1117.1 546.5 1117.1 544.0 1117.1 541.5 1117.0 539.0 1117.0 536.5 1117.0 534.0 1113.5 531.5 1104.8 529.0 1104.1 526.5 1115.7 524.0 1118.2 521.5 1118.4 519.0 1118.6 516.5 1118.2 514.0 1117.4 511.5 1116.6 509.0 1115.7 506.5 1114.9 504.0 1114.1 501.5 1113.3 499.0 1112.5 496.5 1111.6 494.0 1110.8 491.5 1110.0 489.0 1109.0 486.5 1108.0 484.0 1106.9 481.5 1105.9 479.0 1104.9 476.5 1103.9 474.0 1102.9 471.5 1101.9 469.0 1100.8 466.5 1099.8 464.0 1098.8 461.5 1097.7 459.0 1096.2 456.5 1094.7 454.0 1093.2 451.5 1091.7 449.0 1090.2 446.5 1088.7 444.0 1087.2 441.5 1085.7 439.0 1084.2 436.5 1082.7 434.0 1081.2 431.5 1079.6 429.0 1077.9 426.5 1076.2 424.0 1074.5 421.5 1072.7 419.0 1071.0 416.5 1069.3 414.0 1067.6 411.5 1065.8 409.0 1064.1 406.5 1062.4 404.0 1060.7 401.5 1058.5 399.0 1055.9 396.5 1053.4 394.0 1050.8 391.5 1048.3 389.0 1047.1 386.5 1047.7 384.0 1048.6 381.5 1050.0 379.0 1051.5 376.5 1052.9 374.0 1054.4 371.5 1055.9 369.0 1057.3 366.5 1058.8 364.0 1060.2 361.5 1061.7 359.0 1063.1 356.5 1064.6 354.0 1066.0 351.5 1067.5 349.0 1068.9 346.5 1070.4 344.0 1071.9 341.5 1073.3 339.0 1074.8 336.5 1076.2 334.0 1077.7 331.5 1079.1 329.0 1080.1 326.5 1080.5 324.0 1080.8 321.5 1081.1 319.0 1081.5 316.5 1081.8 314.0 1082.1 311.5 1082.6 309.0 1083.1 306.5 1083.6 304.0 1084.1 301.5 1084.6 299.0 1085.2 296.5 1085.7 294.0 1086.2 291.5 1086.7 289.0 1087.2 286.5 1087.7 284.0 1087.6 281.5 1086.6 279.0 1085.6 276.5 1084.6 274.0 1083.6 271.5 1082.6 269.0 1081.8 266.5 1081.2 264.0 1080.6 261.5 1080.0 259.0 1079.4 256.5 1078.8 254.0 1078.2 251.5 1077.6 249.0 1077.0 246.5 1076.3 244.0 1074.7 241.5 1073.0 239.0 1071.3 236.5 1069.7 234.0 1068.0 231.5 1066.4 229.0 1064.7 226.5 1063.0 224.0 1061.8 221.5 1060.7 219.0 1060.1 216.5 1060.2 214.0 1060.3 211.5 1060.5 209.0 1060.6 206.5 1060.8 204.0 1060.9 201.5 1061.0 199.0 1061.2 196.5 1061.3 194.0 1061.4 191.5 1061.6 189.0 1061.7 186.5 1061.9 184.0 1062.0 181.5 1063.3 179.0 1064.6 176.5 1066.0 174.0 1067.3 171.5 1068.6 169.0 1069.9 166.5 1072.9 164.0 1077.4 161.5 1076.6 159.0 1075.7 156.5 1076.6 154.0 1077.9 151.5 1080.1 149.0 1084.1 146.5 1088.1 144.0 1092.2 141.5 1096.2 139.0 1094.5 136.5 1088.3 134.0 1086.9 131.5 1087.9 129.0 1089.0 126.5 1091.4 124.0 1093.9 121.5 1096.4 119.0 1099.0 116.5 1101.0 114.0 1101.0 111.5 1101.0 109.0 1101.0Z" fill="#ebebeb"/>
<g fill="none" stroke="#d9d9d9" stroke-width="3.0">
<path d="M109.0 978.1l5 0.8 5 1.1 5 5 5 5.6 5 6.5 5 -12.1 5 3.1 5 7.2 5 9.8 5 -0.9 5 -2.9 5 10.4 5 7.9 5 9.7 5 10.3 5 -9.7 5 5.8 5 10.4 5 3.5 5 2.6 5 2 5 2.8 5 3.8 5 2.9 5 4.1 5 4.2 5 3.3 5 0.8 5 1.5 5 2.2 5 -0.1 5 2 5 1.4 5 2.9 5 2.5 5 -0.4 5 -3 5 -0.8 5 0.1 5 -2.5 5 0.1 5 -2.7 5 -2.3 5 -2.1 5 -3.2 5 -2.2 5 -1.4 5 -4.1 5 -3.1 5 -2.2 5 -2.5 5 -4.7 5 -4.1 5 -3.9 5 -5.2 5 -2.8 5 -6.9 5 -4.7 5 -5.4 5 -2.6 5 -3.1 5 -4 5 -3.9 5 -1.4 5 -3.7 5 -3.5 5 -3.9 5 -2.8 5 -3.8 5 -1.4 5 -3.5 5 -0.6 5 -4 5 -1.4 5 -3 5 0.5 5 -3.3 5 -2.1 5 -1.8 5 -2.4 5 -0.1 5 -1.1 5 -0.9 5 13.8 5 -8 5 -2.9 5 0.5 5 -1 5 0.2 5 -0.1 5 -1 5 1.4 5 -1.5 5 12.7 5 -7.5 5 -1.9 5 -2 5 1.3 5 1.6 5 0.5 5 -1.9"/>
<path d="M109.0 981.8l5 0.8 5 1 5 4.7 5 6.5 5 10.7 5 -17.2 5 2.9 5 6.8 5 13.3 5 -5 5 -2.8 5 13.1 5 10.7 5 10.3 5 9.5 5 -10 5 6 5 9.7 5 2.8 5 1.7 5 0.7 5 0.9 5 2.1 5 1.2 5 3.9 5 4 5 3.1 5 0.7 5 1.4 5 2.2 5 -0.2 5 1.9 5 1.3 5 2.8 5 2.3 5 -0.3 5 -3 5 -0.7 5 0.2 5 -2.5 5 0.7 5 1 5 -0.6 5 -0.8 5 -3.2 5 -2.6 5 -1.9 5 -4 5 -3.1 5 -2.3 5 -2.6 5 -4.7 5 -4 5 -4.1 5 -5.8 5 -4 5 -8 5 -4.5 5 -5 5 -2.5 5 -2.8 5 -3.8 5 -3.7 5 -1.2 5 -3.5 5 -3.3 5 -3.8 5 -2.5 5 -3.7 5 -1.2 5 -3.3 5 -0.5 5 -3.9 5 -1.3 5 -2.8 5 0.6 5 -3.2 5 -2 5 -1.8 5 -2.2 5 -0.1 5 -1 5 -0.9 5 13 5 -7.5 5 -2.6 5 0.4 5 -1 5 0.3 5 -0.2 5 -1 5 1.5 5 -1.5 5 12 5 -7.1 5 -1.7 5 -2 5 1.2 5 1.6 5 0.5 5 -1.9"/>
<path d="M109.0 992.4l5 0.8 5 0.7 5 3.8 5 6.7 5 13.7 5 -20.3 5 2.5 5 5.4 5 15.4 5 -8.6 5 -2.5 5 14.3 5 12.1 5 9.7 5 7.7 5 -9.2 5 5.5 5 7.9 5 1.8 5 0.5 5 -0.7 5 -1.2 5 0.2 5 -0.7 5 3.3 5 3.5 5 2.5 5 0.3 5 1.2 5 1.9 5 -0.4 5 1.7 5 1 5 2.5 5 2 5 -0.3 5 -2.8 5 -0.5 5 0.3 5 -2.3 5 1.4 5 4.4 5 1.3 5 0.6 5 -3 5 -2.6 5 -1.9 5 -3.7 5 -2.7 5 -1.9 5 -2.3 5 -4.4 5 -3.4 5 -3.7 5 -5.9 5 -4.5 5 -8.3 5 -3.6 5 -4.2 5 -1.9 5 -2.2 5 -3.2 5 -3.1 5 -0.6 5 -2.9 5 -2.9 5 -3.2 5 -2 5 -3.1 5 -0.8 5 -2.8 5 -0.1 5 -3.5 5 -1 5 -2.5 5 1 5 -2.9 5 -1.7 5 -1.5 5 -1.9 5 0.2 5 -0.8 5 -1 5 10.5 5 -5.8 5 -2.1 5 0.5 5 -1 5 0.3 5 -0.2 5 -1 5 1.5 5 -1.5 5 10 5 -5.7 5 -1.4 5 -2 5 1.2 5 1.5 5 0.5 5 -1.9"/>
<path d="M109.0 1008.6l5 0.8 5 0.1 5 2.5 5 6.2 5 15.2 5 -21.1 5 1.9 5 3.2 5 15.9 5 -11.3 5 -2 5 13.9 5 11.9 5 8.1 5 4.9 5 -7.2 5 4.2 5 5.2 5 0.7 5 -0.8 5 -2.2 5 -3.2 5 -1.6 5 -2.5 5 2.4 5 2.5 5 1.6 5 -0.3 5 0.9 5 1.6 5 -0.7 5 1.4 5 0.5 5 1.9 5 1.5 5 -0.2 5 -2.5 5 -0.2 5 0.5 5 -2 5 2 5 7.3 5 3 5 2.1 5 -2.5 5 -2.4 5 -1.6 5 -2.9 5 -2 5 -1.3 5 -1.6 5 -3.7 5 -2.3 5 -3 5 -5.3 5 -4.2 5 -7.9 5 -2.2 5 -2.9 5 -1 5 -1.3 5 -2.3 5 -2.2 5 0.4 5 -2.1 5 -2 5 -2.4 5 -1.3 5 -2.3 5 0.1 5 -2.2 5 0.5 5 -3 5 -0.4 5 -2 5 1.5 5 -2.3 5 -1.3 5 -1.1 5 -1.5 5 0.7 5 -0.5 5 -1.1 5 6.7 5 -3.3 5 -1.1 5 0.5 5 -1 5 0.3 5 -0.2 5 -1 5 1.5 5 -1.5 5 7.1 5 -3.9 5 -0.7 5 -2 5 1.1 5 1.4 5 0.4 5 -2"/>
<path d="M109.0 1028.6l5 0.8 5 -0.5 5 0.8 5 5 5 15.1 5 -19.6 5 1.1 5 0.5 5 14.7 5 -12.7 5 -1.5 5 12.1 5 10.2 5 5.5 5 1.6 5 -4.5 5 2.4 5 2.1 5 -0.5 5 -2 5 -3.7 5 -4.8 5 -3.2 5 -4.1 5 1.3 5 1.5 5 0.5 5 -1.1 5 0.5 5 1.3 5 -1.1 5 1 5 -0.1 5 1.2 5 0.8 5 0 5 -2.2 5 0.1 5 0.9 5 -1.7 5 2.6 5 9.2 5 4.4 5 3.2 5 -1.7 5 -1.8 5 -0.9 5 -2 5 -1.1 5 -0.3 5 -0.8 5 -2.5 5 -1.1 5 -1.7 5 -4.2 5 -3.2 5 -6.7 5 -0.6 5 -1.4 5 0.2 5 -0.2 5 -1.2 5 -1 5 1.4 5 -1 5 -1 5 -1.4 5 -0.3 5 -1.3 5 1 5 -1.3 5 1.1 5 -2.3 5 0.2 5 -1.2 5 2.1 5 -1.7 5 -0.8 5 -0.5 5 -1 5 1.2 5 -0.1 5 -1.2 5 2.1 5 -0.2 5 0 5 0.5 5 -0.9 5 0.3 5 -0.2 5 -1 5 1.4 5 -1.5 5 3.5 5 -1.5 5 0.2 5 -2.2 5 1 5 1.3 5 0.3 5 -2.1"/>
<path d="M109.0 1049.7l5 0.8 5 -1.2 5 -1 5 3.2 5 13.4 5 -15.9 5 0.3 5 -2.2 5 11.8 5 -12.8 5 -0.9 5 9 5 7.1 5 2.4 5 -2 5 -1.1 5 0.1 5 -1 5 -1.6 5 -3.1 5 -4.8 5 -5.8 5 -4.4 5 -5.3 5 0.2 5 0.3 5 -0.6 5 -1.9 5 0.1 5 0.8 5 -1.5 5 0.6 5 -0.7 5 0.5 5 0.1 5 0.1 5 -1.8 5 0.4 5 1.3 5 -1.3 5 2.9 5 10 5 5.2 5 4.1 5 -0.9 5 -0.9 5 -0.1 5 -0.9 5 0.1 5 0.7 5 0.3 5 -1.4 5 0.4 5 -0.2 5 -2.8 5 -1.5 5 -5 5 1.3 5 0.2 5 1.4 5 0.9 5 0.1 5 0.1 5 2.7 5 0.2 5 -0 5 -0.4 5 0.7 5 -0.2 5 2 5 -0.4 5 1.9 5 -1.7 5 1 5 -0.6 5 2.9 5 -1.1 5 -0.2 5 0 5 -0.4 5 1.8 5 0.3 5 -1.3 5 -2.8 5 3.1 5 1.2 5 0.5 5 -0.9 5 0.3 5 -0.2 5 -1 5 1.5 5 -1.6 5 -0.3 5 1 5 1 5 -2.3 5 0.9 5 1.2 5 0.2 5 -2.2"/>
<path d="M109.0 1069.6l5 0.8 5 -1.9 5 -2.6 5 1.1 5 10.2 5 -10.4 5 -0.5 5 -4.8 5 7.8 5 -11.5 5 -0.4 5 5 5 3 5 -0.9 5 -5.3 5 2.3 5 -2.1 5 -4 5 -2.4 5 -3.9 5 -5.4 5 -6.3 5 -4.9 5 -5.8 5 -0.9 5 -0.8 5 -1.7 5 -2.7 5 -0.3 5 0.5 5 -2 5 0.2 5 -1.3 5 -0.1 5 -0.5 5 0.2 5 -1.5 5 0.8 5 1.6 5 -1 5 3 5 9.6 5 5.5 5 4.5 5 -0.1 5 0.2 5 0.8 5 0.2 5 1.1 5 1.8 5 1.5 5 -0.2 5 1.8 5 1.3 5 -1.1 5 0.6 5 -2.8 5 2.9 5 1.8 5 2.5 5 2 5 1.2 5 1.3 5 3.8 5 1.2 5 1 5 0.6 5 1.7 5 0.7 5 3.1 5 0.4 5 2.5 5 -1 5 1.7 5 0.1 5 3.5 5 -0.5 5 0.3 5 0.6 5 0.1 5 2.3 5 0.8 5 -1.5 5 -7.3 5 6 5 2.4 5 0.5 5 -0.9 5 0.3 5 -0.1 5 -1 5 1.4 5 -1.6 5 -3.9 5 3.4 5 1.8 5 -2.4 5 0.8 5 1.1 5 0.2 5 -2.4"/>
<path d="M109.0 1085.9l5 0.8 5 -2.4 5 -4 5 -1 5 6 5 -3.9 5 -1.1 5 -7 5 3 5 -9 5 0.1 5 0.6 5 -1.6 5 -4 5 -7.9 5 5.4 5 -4.2 5 -6.2 5 -3 5 -4.2 5 -5.6 5 -5.9 5 -4.9 5 -5.7 5 -1.8 5 -1.7 5 -2.6 5 -3.2 5 -0.7 5 0.2 5 -2.3 5 -0.1 5 -1.8 5 -0.7 5 -1 5 0.3 5 -1.2 5 1.1 5 1.8 5 -0.7 5 3 5 7.9 5 5 5 4.4 5 0.8 5 1.1 5 1.9 5 1.1 5 2.1 5 2.8 5 2.5 5 0.8 5 3.1 5 2.6 5 0.6 5 2.9 5 -0.6 5 4.3 5 3 5 3.4 5 3 5 2.1 5 2.2 5 4.7 5 2.1 5 1.8 5 1.4 5 2.5 5 1.5 5 3.9 5 1.1 5 3.1 5 -0.5 5 2.2 5 0.7 5 4 5 -0 5 0.8 5 1 5 0.6 5 2.7 5 1.1 5 -1.7 5 -11 5 8.6 5 3.3 5 0.5 5 -0.9 5 0.3 5 -0.1 5 -1 5 1.4 5 -1.6 5 -6.8 5 5.3 5 2.4 5 -2.4 5 0.7 5 1 5 0.1 5 -2.4"/>
<path d="M109.0 1096.5l5 0.8 5 -2.8 5 -4.8 5 -3 5 1.2 5 2.9 5 -1.4 5 -8.5 5 -1.8 5 -5.6 5 0.4 5 -3.7 5 -6.1 5 -6.5 5 -9.6 5 7.8 5 -5.8 5 -7.6 5 -3.1 5 -4.2 5 -5.1 5 -5 5 -4.1 5 -5 5 -2.4 5 -2.2 5 -3.2 5 -3.7 5 -0.8 5 -0.1 5 -2.4 5 -0.3 5 -2.2 5 -1 5 -1.4 5 0.5 5 -1.1 5 1.2 5 2.1 5 -0.6 5 2.7 5 5.2 5 4.1 5 3.8 5 1.4 5 2 5 2.8 5 1.8 5 2.8 5 3.5 5 3.3 5 1.7 5 3.9 5 3.7 5 2.1 5 5.1 5 1.5 5 5.1 5 3.9 5 4 5 3.6 5 2.7 5 2.8 5 5.3 5 2.7 5 2.3 5 1.9 5 3.1 5 2 5 4.3 5 1.6 5 3.5 5 -0.1 5 2.5 5 1 5 4.4 5 0.3 5 1.1 5 1.3 5 0.8 5 3 5 1.3 5 -1.7 5 -13.5 5 10.2 5 4 5 0.5 5 -0.9 5 0.3 5 -0.1 5 -1 5 1.4 5 -1.6 5 -8.7 5 6.5 5 2.9 5 -2.5 5 0.7 5 0.9 5 0 5 -2.4"/>
<path d="M109.0 1100.1l5 0.8 5 -2.9 5 -5.2 5 -4.5 5 -3.6 5 9.4 5 -1.7 5 -8.9 5 -6.4 5 -1.5 5 0.5 5 -7.5 5 -9.9 5 -8.2 5 -10.1 5 9.3 5 -6.8 5 -7.9 5 -2.8 5 -3.6 5 -4.3 5 -3.4 5 -2.8 5 -3.8 5 -2.6 5 -2.4 5 -3.4 5 -3.8 5 -0.9 5 -0.1 5 -2.5 5 -0.4 5 -2.3 5 -1.1 5 -1.5 5 0.4 5 -0.9 5 1.2 5 2.1 5 -0.5 5 2.2 5 2 5 2.5 5 2.8 5 1.8 5 2.7 5 3.5 5 2.1 5 3.2 5 3.9 5 3.8 5 2.1 5 4.3 5 4.5 5 3.1 5 6.9 5 3.3 5 5.4 5 4.2 5 4.2 5 3.8 5 2.9 5 3 5 5.5 5 2.9 5 2.5 5 2.1 5 3.2 5 2.2 5 4.6 5 1.7 5 3.5 5 0.1 5 2.6 5 1.1 5 4.6 5 0.4 5 1.2 5 1.4 5 0.9 5 3.1 5 1.4 5 -1.7 5 -14.4 5 10.8 5 4.1 5 0.6 5 -1 5 0.4 5 -0.1 5 -1 5 1.4 5 -1.7 5 -9.3 5 6.9 5 3.1 5 -2.5 5 0.6 5 1 5 -0.1 5 -2.4"/>
<path d="M109.0 1096.5l5 0.8 5 -2.8 5 -4.8 5 -5.5 5 -7.7 5 14.3 5 -1.4 5 -8.5 5 -9.9 5 2.5 5 0.4 5 -10.1 5 -12.7 5 -8.8 5 -9.4 5 9.7 5 -7.1 5 -7.1 5 -2.1 5 -2.7 5 -3 5 -1.5 5 -1.2 5 -2 5 -2.4 5 -2.2 5 -3.2 5 -3.7 5 -0.8 5 -0.1 5 -2.4 5 -0.3 5 -2.2 5 -1 5 -1.4 5 0.5 5 -1.1 5 1.2 5 2.1 5 -0.6 5 1.5 5 -1.5 5 0.7 5 1.5 5 1.9 5 3.1 5 3.8 5 2.1 5 3.2 5 4 5 3.9 5 2.1 5 4.2 5 4.7 5 3.7 5 8.1 5 4.4 5 5.1 5 3.9 5 4 5 3.6 5 2.7 5 2.8 5 5.3 5 2.7 5 2.3 5 1.9 5 3.1 5 2 5 4.3 5 1.6 5 3.5 5 -0.1 5 2.5 5 1 5 4.4 5 0.3 5 1.1 5 1.3 5 0.8 5 3 5 1.3 5 -1.7 5 -13.5 5 10.2 5 4 5 0.5 5 -0.9 5 0.3 5 -0.1 5 -1 5 1.4 5 -1.6 5 -8.7 5 6.5 5 2.9 5 -2.5 5 0.7 5 0.9 5 0 5 -2.4"/>
<path d="M109.0 1085.9l5 0.8 5 -2.4 5 -4 5 -5.7 5 -10.7 5 17.5 5 -1.1 5 -7 5 -12.1 5 6.1 5 0.1 5 -11.3 5 -14.2 5 -8.1 5 -7.6 5 8.9 5 -6.5 5 -5.4 5 -1.1 5 -1.6 5 -1.5 5 0.6 5 0.7 5 -0.1 5 -1.8 5 -1.7 5 -2.6 5 -3.2 5 -0.7 5 0.2 5 -2.3 5 -0.1 5 -1.8 5 -0.7 5 -1 5 0.3 5 -1.2 5 1.1 5 1.8 5 -0.7 5 0.9 5 -5.1 5 -1 5 0 5 1.6 5 3.1 5 3.9 5 1.7 5 2.9 5 3.7 5 3.5 5 1.7 5 3.7 5 4.4 5 3.7 5 8.6 5 4.7 5 4.3 5 3 5 3.4 5 3 5 2.1 5 2.2 5 4.7 5 2.1 5 1.8 5 1.4 5 2.5 5 1.5 5 3.9 5 1.1 5 3.1 5 -0.5 5 2.2 5 0.7 5 4 5 -0 5 0.8 5 1 5 0.6 5 2.7 5 1.1 5 -1.7 5 -11 5 8.6 5 3.3 5 0.5 5 -0.9 5 0.3 5 -0.1 5 -1 5 1.4 5 -1.6 5 -6.8 5 5.3 5 2.4 5 -2.4 5 0.7 5 1 5 0.1 5 -2.4"/>
<path d="M109.0 1069.6l5 0.8 5 -1.9 5 -2.6 5 -5.2 5 -12.3 5 18.4 5 -0.5 5 -4.8 5 -12.5 5 8.8 5 -0.4 5 -11 5 -14 5 -6.5 5 -4.8 5 6.9 5 -5.2 5 -2.7 5 -0 5 -0.3 5 0 5 2.6 5 2.6 5 1.7 5 -0.9 5 -0.8 5 -1.7 5 -2.7 5 -0.3 5 0.5 5 -2 5 0.2 5 -1.3 5 -0.1 5 -0.5 5 0.2 5 -1.5 5 0.8 5 1.6 5 -1 5 0.2 5 -7.8 5 -2.9 5 -1.3 5 1.1 5 2.8 5 3.6 5 1 5 2.1 5 3 5 2.9 5 1 5 2.7 5 3.5 5 3.2 5 8.3 5 4.3 5 2.9 5 1.8 5 2.5 5 2 5 1.2 5 1.3 5 3.8 5 1.2 5 1 5 0.6 5 1.7 5 0.7 5 3.1 5 0.4 5 2.5 5 -1 5 1.7 5 0.1 5 3.5 5 -0.5 5 0.3 5 0.6 5 0.1 5 2.3 5 0.8 5 -1.5 5 -7.3 5 6 5 2.4 5 0.5 5 -0.9 5 0.3 5 -0.1 5 -1 5 1.4 5 -1.6 5 -3.9 5 3.4 5 1.8 5 -2.4 5 0.8 5 1.1 5 0.2 5 -2.4"/>
<path d="M109.0 1049.7l5 0.8 5 -1.2 5 -1 5 -4 5 -12.1 5 16.8 5 0.3 5 -2.2 5 -11.3 5 10.3 5 -0.9 5 -9.2 5 -12.2 5 -3.9 5 -1.5 5 4.1 5 -3.4 5 0.4 5 1.2 5 1 5 1.4 5 4.1 5 4.2 5 3.3 5 0.2 5 0.3 5 -0.6 5 -1.9 5 0.1 5 0.8 5 -1.5 5 0.6 5 -0.7 5 0.5 5 0.1 5 0.1 5 -1.8 5 0.4 5 1.3 5 -1.3 5 -0.3 5 -9.8 5 -4.2 5 -2.6 5 0.4 5 2.2 5 3 5 -0 5 1.2 5 2.1 5 1.9 5 -0 5 1.4 5 2.3 5 2.1 5 7.2 5 3.1 5 1.3 5 0.2 5 1.4 5 0.9 5 0.1 5 0.1 5 2.7 5 0.2 5 -0 5 -0.4 5 0.7 5 -0.2 5 2 5 -0.4 5 1.9 5 -1.7 5 1 5 -0.6 5 2.9 5 -1.1 5 -0.2 5 0 5 -0.4 5 1.8 5 0.3 5 -1.3 5 -2.8 5 3.1 5 1.2 5 0.5 5 -0.9 5 0.3 5 -0.2 5 -1 5 1.5 5 -1.6 5 -0.3 5 1 5 1 5 -2.3 5 0.9 5 1.2 5 0.2 5 -2.2"/>
<path d="M109.0 1028.6l5 0.8 5 -0.5 5 0.8 5 -2.3 5 -10.4 5 13.2 5 1.1 5 0.5 5 -8.4 5 10.4 5 -1.5 5 -6.1 5 -9.1 5 -0.8 5 2 5 0.8 5 -1.2 5 3.6 5 2.3 5 2.1 5 2.5 5 5.2 5 5.3 5 4.5 5 1.3 5 1.5 5 0.5 5 -1.1 5 0.5 5 1.3 5 -1.1 5 1 5 -0.1 5 1.2 5 0.8 5 0 5 -2.2 5 0.1 5 0.9 5 -1.7 5 -0.6 5 -10.6 5 -5.1 5 -3.4 5 -0.5 5 1.4 5 2.1 5 -1 5 0.1 5 0.9 5 0.9 5 -1.2 5 -0.1 5 0.9 5 0.6 5 5.6 5 1.4 5 -0.6 5 -1.4 5 0.2 5 -0.2 5 -1.2 5 -1 5 1.4 5 -1 5 -1 5 -1.4 5 -0.3 5 -1.3 5 1 5 -1.3 5 1.1 5 -2.3 5 0.2 5 -1.2 5 2.1 5 -1.7 5 -0.8 5 -0.5 5 -1 5 1.2 5 -0.1 5 -1.2 5 2.1 5 -0.2 5 0 5 0.5 5 -0.9 5 0.3 5 -0.2 5 -1 5 1.4 5 -1.5 5 3.5 5 -1.5 5 0.2 5 -2.2 5 1 5 1.3 5 0.3 5 -2.1"/>
<path d="M109.0 1008.6l5 0.8 5 0.1 5 2.5 5 -0.2 5 -7.2 5 7.7 5 1.9 5 3.2 5 -4.5 5 9.1 5 -2 5 -2.1 5 -5 5 2.5 5 5.3 5 -2.6 5 1.1 5 6.4 5 3.2 5 2.9 5 3.1 5 5.6 5 5.9 5 5.1 5 2.4 5 2.5 5 1.6 5 -0.3 5 0.9 5 1.6 5 -0.7 5 1.4 5 0.5 5 1.9 5 1.5 5 -0.2 5 -2.5 5 -0.2 5 0.5 5 -2 5 -0.8 5 -10.2 5 -5.2 5 -3.8 5 -1.4 5 0.4 5 1.1 5 -2.1 5 -1 5 -0.1 5 -0.2 5 -2.5 5 -1.5 5 -0.6 5 -1 5 3.4 5 -0.8 5 -2.2 5 -2.9 5 -1 5 -1.3 5 -2.3 5 -2.2 5 0.4 5 -2.1 5 -2 5 -2.4 5 -1.3 5 -2.3 5 0.1 5 -2.2 5 0.5 5 -3 5 -0.4 5 -2 5 1.5 5 -2.3 5 -1.3 5 -1.1 5 -1.5 5 0.7 5 -0.5 5 -1.1 5 6.7 5 -3.3 5 -1.1 5 0.5 5 -1 5 0.3 5 -0.2 5 -1 5 1.5 5 -1.5 5 7.1 5 -3.9 5 -0.7 5 -2 5 1.1 5 1.4 5 0.4 5 -2"/>
<path d="M109.0 992.4l5 0.8 5 0.7 5 3.8 5 2 5 -3 5 1.1 5 2.5 5 5.4 5 0.3 5 6.5 5 -2.5 5 2.4 5 -0.5 5 5.6 5 8 5 -5.7 5 3.2 5 8.7 5 3.6 5 3.3 5 3.3 5 5.3 5 5.8 5 4.9 5 3.3 5 3.5 5 2.5 5 0.3 5 1.2 5 1.9 5 -0.4 5 1.7 5 1 5 2.5 5 2 5 -0.3 5 -2.8 5 -0.5 5 0.3 5 -2.3 5 -0.7 5 -8.5 5 -4.9 5 -3.7 5 -2.1 5 -0.7 5 0.1 5 -3 5 -2 5 -1.1 5 -1.2 5 -3.5 5 -2.7 5 -2.1 5 -2.6 5 1.1 5 -3 5 -3.6 5 -4.2 5 -1.9 5 -2.2 5 -3.2 5 -3.1 5 -0.6 5 -2.9 5 -2.9 5 -3.2 5 -2 5 -3.1 5 -0.8 5 -2.8 5 -0.1 5 -3.5 5 -1 5 -2.5 5 1 5 -2.9 5 -1.7 5 -1.5 5 -1.9 5 0.2 5 -0.8 5 -1 5 10.5 5 -5.8 5 -2.1 5 0.5 5 -1 5 0.3 5 -0.2 5 -1 5 1.5 5 -1.5 5 10 5 -5.7 5 -1.4 5 -2 5 1.2 5 1.5 5 0.5 5 -1.9"/>
<path d="M109.0 981.8l5 0.8 5 1 5 4.7 5 4 5 1.8 5 -5.8 5 2.9 5 6.8 5 5.3 5 3 5 -2.8 5 6.8 5 4 5 8.1 5 9.7 5 -8.2 5 4.8 5 10.1 5 3.8 5 3.1 5 2.9 5 4.4 5 5 5 4.2 5 3.9 5 4 5 3.1 5 0.7 5 1.4 5 2.2 5 -0.2 5 1.9 5 1.3 5 2.8 5 2.3 5 -0.3 5 -3 5 -0.7 5 0.2 5 -2.5 5 -0.4 5 -5.9 5 -3.9 5 -3.1 5 -2.8 5 -1.5 5 -0.8 5 -3.7 5 -2.7 5 -1.8 5 -2 5 -4.3 5 -3.6 5 -3.2 5 -4.1 5 -1.1 5 -5.1 5 -4.5 5 -5 5 -2.5 5 -2.8 5 -3.8 5 -3.7 5 -1.2 5 -3.5 5 -3.3 5 -3.8 5 -2.5 5 -3.7 5 -1.2 5 -3.3 5 -0.5 5 -3.9 5 -1.3 5 -2.8 5 0.6 5 -3.2 5 -2 5 -1.8 5 -2.2 5 -0.1 5 -1 5 -0.9 5 13 5 -7.5 5 -2.6 5 0.4 5 -1 5 0.3 5 -0.2 5 -1 5 1.5 5 -1.5 5 12 5 -7.1 5 -1.7 5 -2 5 1.2 5 1.6 5 0.5 5 -1.9"/>
</g>
<path d="M109.0 1102.7L111.5 1101.2 114.0 1101.1 116.5 1103.4 119.0 1100.9 121.5 1097.6 124.0 1096.0 126.5 1093.3 129.0 1089.9 131.5 1085.0 134.0 1081.8 136.5 1088.2 139.0 1095.3 141.5 1097.3 144.0 1091.6 146.5 1087.7 149.0 1085.2 151.5 1078.9 154.0 1073.7 156.5 1073.0 159.0 1075.8 161.5 1078.7 164.0 1080.0 166.5 1074.5 169.0 1068.1 171.5 1065.0 174.0 1061.2 176.5 1056.5 179.0 1050.7 181.5 1044.5 184.0 1040.4 186.5 1043.9 189.0 1050.2 191.5 1052.4 194.0 1044.9 196.5 1036.3 199.0 1033.3 201.5 1030.5 204.0 1029.5 206.5 1028.4 209.0 1027.3 211.5 1027.0 214.0 1026.4 216.5 1025.4 219.0 1023.9 221.5 1022.1 224.0 1019.7 226.5 1018.1 229.0 1017.2 231.5 1014.9 234.0 1012.4 236.5 1009.3 239.0 1007.2 241.5 1005.5 244.0 1004.1 246.5 1003.5 249.0 1004.7 251.5 1004.2 254.0 1002.9 256.5 1000.6 259.0 999.6 261.5 999.4 264.0 1001.1 266.5 1000.5 269.0 998.3 271.5 998.0 274.0 997.3 276.5 996.2 279.0 993.5 281.5 990.9 284.0 990.5 286.5 990.6 289.0 990.9 291.5 994.0 294.0 995.9 296.5 995.8 299.0 996.4 301.5 996.8 304.0 995.2 306.5 996.4 309.0 999.3 311.5 998.0 314.0 998.0 316.5 1000.6 319.0 1001.0 321.5 1001.3 324.0 1003.2 326.5 1004.4 329.0 1005.0 331.5 1007.3 334.0 1008.8 336.5 1009.3 339.0 1010.8 341.5 1012.1 344.0 1011.3 346.5 1013.1 349.0 1016.4 351.5 1017.9 354.0 1019.3 356.5 1020.3 359.0 1020.7 361.5 1021.2 364.0 1022.6 366.5 1025.1 369.0 1028.6 371.5 1030.4 374.0 1032.5 376.5 1034.9 379.0 1036.1 381.5 1037.7 384.0 1042.4 386.5 1043.8 389.0 1043.2 391.5 1048.6 394.0 1051.8 396.5 1051.8 399.0 1056.3 401.5 1061.0 404.0 1062.1 406.5 1063.0 409.0 1064.1 411.5 1065.3 414.0 1066.8 416.5 1068.7 419.0 1071.3 421.5 1073.9 424.0 1075.7 426.5 1075.8 429.0 1074.9 431.5 1076.8 434.0 1079.1 436.5 1082.2 439.0 1083.1 441.5 1084.2 444.0 1088.0 446.5 1089.8 449.0 1090.5 451.5 1093.5 454.0 1095.1 456.5 1094.5 459.0 1095.0 461.5 1096.3 464.0 1099.3 466.5 1099.7 469.0 1098.4 471.5 1102.7 474.0 1104.4 476.5 1102.2 479.0 1105.2 481.5 1108.7 484.0 1109.1 486.5 1108.0 489.0 1106.0 491.5 1108.3 494.0 1110.8 496.5 1113.9 499.0 1113.4 501.5 1112.8 504.0 1115.5 506.5 1117.3 509.0 1118.5 511.5 1117.7 514.0 1117.2 516.5 1117.1 519.0 1118.1 521.5 1119.0 524.0 1120.3 526.5 1118.4 529.0 1106.8 531.5 1106.1 534.0 1113.4 536.5 1115.5 539.0 1115.7 541.5 1115.9 544.0 1114.7 546.5 1115.2 549.0 1116.7 551.5 1116.3 554.0 1116.1 556.5 1116.3 559.0 1116.4 561.5 1116.9 564.0 1118.4 566.5 1117.8 569.0 1115.6 571.5 1118.3 574.0 1118.6 576.5 1113.3 579.0 1104.3 581.5 1105.5 584.0 1112.1 586.5 1114.2 589.0 1113.4 591.5 1116.2 594.0 1117.6 596.5 1116.9 599.0 1115.4 601.5 1113.7 604.0 1112.5 606.5 1111.9 609.0 1111.7 611.5 1114.2 614.0 1115.7 614.5 1115.7" fill="none" stroke="#e3302e" stroke-width="3.6" stroke-linejoin="round"/>
<path d="M109.0 977.3L111.5 978.8 114.0 978.9 116.5 976.6 119.0 979.1 121.5 982.4 124.0 984.0 126.5 986.7 129.0 990.1 131.5 995.0 134.0 998.2 136.5 991.8 139.0 984.7 141.5 982.7 144.0 988.4 146.5 992.3 149.0 994.8 151.5 1001.1 154.0 1006.3 156.5 1007.0 159.0 1004.2 161.5 1001.3 164.0 1000.0 166.5 1005.5 169.0 1011.9 171.5 1015.0 174.0 1018.8 176.5 1023.5 179.0 1029.3 181.5 1035.5 184.0 1039.6 186.5 1036.1 189.0 1029.8 191.5 1027.6 194.0 1035.1 196.5 1043.7 199.0 1046.7 201.5 1049.5 204.0 1050.5 206.5 1051.6 209.0 1052.7 211.5 1053.0 214.0 1053.6 216.5 1054.6 219.0 1056.1 221.5 1057.9 224.0 1060.3 226.5 1061.9 229.0 1062.8 231.5 1065.1 234.0 1067.6 236.5 1070.7 239.0 1072.8 241.5 1074.5 244.0 1075.9 246.5 1076.5 249.0 1075.3 251.5 1075.8 254.0 1077.1 256.5 1079.4 259.0 1080.4 261.5 1080.6 264.0 1078.9 266.5 1079.5 269.0 1081.7 271.5 1082.0 274.0 1082.7 276.5 1083.8 279.0 1086.5 281.5 1089.1 284.0 1089.5 286.5 1089.4 289.0 1089.1 291.5 1086.0 294.0 1084.1 296.5 1084.2 299.0 1083.6 301.5 1083.2 304.0 1084.8 306.5 1083.6 309.0 1080.7 311.5 1082.0 314.0 1082.0 316.5 1079.4 319.0 1079.0 321.5 1078.7 324.0 1076.8 326.5 1075.6 329.0 1075.0 331.5 1072.7 334.0 1071.2 336.5 1070.7 339.0 1069.2 341.5 1067.9 344.0 1068.7 346.5 1066.9 349.0 1063.6 351.5 1062.1 354.0 1060.7 356.5 1059.7 359.0 1059.3 361.5 1058.8 364.0 1057.4 366.5 1054.9 369.0 1051.4 371.5 1049.6 374.0 1047.5 376.5 1045.1 379.0 1043.9 381.5 1042.3 384.0 1037.6 386.5 1036.2 389.0 1036.8 391.5 1031.4 394.0 1028.2 396.5 1028.2 399.0 1023.7 401.5 1019.0 404.0 1017.9 406.5 1017.0 409.0 1015.9 411.5 1014.7 414.0 1013.2 416.5 1011.3 419.0 1008.7 421.5 1006.1 424.0 1004.3 426.5 1004.2 429.0 1005.1 431.5 1003.2 434.0 1000.9 436.5 997.8 439.0 996.9 441.5 995.8 444.0 992.0 446.5 990.2 449.0 989.5 451.5 986.5 454.0 984.9 456.5 985.5 459.0 985.0 461.5 983.7 464.0 980.7 466.5 980.3 469.0 981.6 471.5 977.3 474.0 975.6 476.5 977.8 479.0 974.8 481.5 971.3 484.0 970.9 486.5 972.0 489.0 974.0 491.5 971.7 494.0 969.2 496.5 966.1 499.0 966.6 501.5 967.2 504.0 964.5 506.5 962.7 509.0 961.5 511.5 962.3 514.0 962.8 516.5 962.9 519.0 961.9 521.5 961.0 524.0 959.7 526.5 961.6 529.0 973.2 531.5 973.9 534.0 966.6 536.5 964.5 539.0 964.3 541.5 964.1 544.0 965.3 546.5 964.8 549.0 963.3 551.5 963.7 554.0 963.9 556.5 963.7 559.0 963.6 561.5 963.1 564.0 961.6 566.5 962.2 569.0 964.4 571.5 961.7 574.0 961.4 576.5 966.7 579.0 975.7 581.5 974.5 584.0 967.9 586.5 965.8 589.0 966.6 591.5 963.8 594.0 962.4 596.5 963.1 599.0 964.6 601.5 966.3 604.0 967.5 606.5 968.1 609.0 968.3 611.5 965.8 614.0 964.3 614.5 964.3" fill="none" stroke="#2d4fa3" stroke-width="3.6" stroke-linejoin="round"/>
</g>
<defs></defs>
<g clip-path="url(#cl)">
<path d="M616.5 1012.7L619.0 1013.1 621.5 1013.4 624.0 1013.8 626.5 1014.2 629.0 1014.6 631.5 1015.5 634.0 1008.0 636.5 1000.5 639.0 993.0 641.5 977.9 644.0 957.7 646.5 964.3 649.0 981.3 651.5 991.1 654.0 971.4 656.5 951.8 659.0 948.3 661.5 969.2 664.0 990.0 666.5 983.1 669.0 976.1 671.5 969.2 674.0 971.2 676.5 986.9 679.0 977.2 681.5 961.2 684.0 968.5 686.5 981.6 689.0 994.8 691.5 1001.5 694.0 1004.0 696.5 1006.5 699.0 1009.0 701.5 1008.8 704.0 1006.7 706.5 1004.6 709.0 1002.5 711.5 1000.4 714.0 996.6 716.5 992.3 719.0 988.0 721.5 995.9 724.0 1003.7 726.5 1009.7 729.0 1007.2 731.5 1004.7 734.0 1009.1 736.5 1010.0 739.0 1010.0 741.5 1010.0 744.0 1010.0 746.5 1010.0 749.0 1010.0 751.5 1008.7 754.0 1006.8 756.5 1010.0 759.0 1010.0 761.5 1011.5 764.0 1014.0 766.5 1013.7 769.0 1005.6 771.5 1003.2 774.0 1003.0 776.5 1002.9 779.0 1002.7 781.5 1002.5 784.0 1002.4 786.5 1002.2 789.0 1002.1 791.5 1001.8 794.0 1001.5 796.5 1001.1 799.0 1000.8 801.5 1000.5 804.0 1000.1 806.5 999.9 809.0 999.8 811.5 999.6 814.0 998.9 816.5 998.2 819.0 997.4 821.5 996.7 824.0 995.9 826.5 995.2 829.0 994.4 831.5 993.7 834.0 992.9 836.5 992.2 839.0 991.4 841.5 990.7 844.0 989.9 846.5 989.1 849.0 988.4 851.5 987.6 854.0 986.9 856.5 986.1 859.0 985.3 861.5 984.6 864.0 983.8 866.5 983.1 869.0 982.3 871.5 981.6 874.0 980.8 876.5 980.0 879.0 979.2 881.5 978.5 884.0 977.7 886.5 976.9 889.0 976.2 891.5 975.4 894.0 974.6 896.5 973.6 899.0 971.9 901.5 970.1 904.0 968.3 906.5 966.6 909.0 964.8 911.5 963.0 914.0 961.3 916.5 959.5 919.0 958.4 921.5 957.8 924.0 957.1 926.5 956.5 929.0 955.9 931.5 956.0 934.0 956.4 936.5 956.8 939.0 957.3 941.5 958.4 944.0 959.4 946.5 960.5 949.0 961.5 951.5 962.6 954.0 963.6 956.5 964.7 959.0 964.8 961.5 964.8 964.0 964.8 966.5 964.8 969.0 964.8 971.5 964.8 974.0 964.8 976.5 964.8 979.0 964.5 981.5 963.8 984.0 963.1 986.5 962.4 989.0 961.7 991.5 961.0 994.0 960.3 996.5 959.6 999.0 958.9 1001.5 958.2 1004.0 957.5 1006.5 957.1 1009.0 956.9 1011.5 956.7 1014.0 956.6 1016.5 956.4 1019.0 956.2 1021.5 956.0 1024.0 955.9 1026.5 955.8 1029.0 957.0 1031.5 958.3 1034.0 959.5 1036.5 960.8 1039.0 962.0 1041.5 962.9 1044.0 963.7 1046.5 964.6 1049.0 965.5 1051.5 966.4 1054.0 967.2 1056.5 968.1 1059.0 969.0 1061.5 969.9 1064.0 970.8 1066.5 971.6 1069.0 972.4 1071.5 972.5 1074.0 972.5 1076.5 972.6 1079.0 972.7 1081.5 972.7 1084.0 972.8 1086.5 972.9 1089.0 973.0 1091.5 973.0 1094.0 973.1 1096.5 973.2 1099.0 973.2 1101.5 973.3 1104.0 973.4 1106.5 973.4 1109.0 973.5 1111.5 973.6 1114.0 973.6 1116.5 973.7 1119.0 973.8 1121.5 973.8 1124.0 973.9 1124.0 1108.4 1121.5 1108.5 1119.0 1108.5 1116.5 1108.6 1114.0 1108.7 1111.5 1108.7 1109.0 1108.8 1106.5 1108.8 1104.0 1108.9 1101.5 1109.0 1099.0 1109.0 1096.5 1109.1 1094.0 1109.2 1091.5 1109.2 1089.0 1109.3 1086.5 1109.3 1084.0 1109.4 1081.5 1109.5 1079.0 1109.5 1076.5 1109.6 1074.0 1109.7 1071.5 1109.7 1069.0 1109.8 1066.5 1109.8 1064.0 1109.9 1061.5 1110.0 1059.0 1110.4 1056.5 1111.6 1054.0 1112.7 1051.5 1113.8 1049.0 1114.9 1046.5 1116.0 1044.0 1117.1 1041.5 1118.3 1039.0 1119.4 1036.5 1120.5 1034.0 1121.6 1031.5 1122.7 1029.0 1123.8 1026.5 1125.0 1024.0 1124.7 1021.5 1124.4 1019.0 1124.2 1016.5 1123.9 1014.0 1123.6 1011.5 1123.3 1009.0 1123.0 1006.5 1122.7 1004.0 1122.5 1001.5 1122.2 999.0 1121.9 996.5 1121.7 994.0 1121.4 991.5 1121.2 989.0 1120.9 986.5 1120.7 984.0 1120.4 981.5 1120.2 979.0 1119.9 976.5 1119.7 974.0 1119.4 971.5 1119.2 969.0 1118.9 966.5 1118.7 964.0 1118.4 961.5 1118.2 959.0 1118.2 956.5 1118.7 954.0 1119.3 951.5 1119.8 949.0 1120.3 946.5 1120.8 944.0 1121.4 941.5 1121.9 939.0 1122.4 936.5 1122.9 934.0 1123.4 931.5 1124.0 929.0 1124.5 926.5 1125.0 924.0 1123.8 921.5 1122.6 919.0 1121.4 916.5 1120.2 914.0 1119.0 911.5 1117.8 909.0 1116.6 906.5 1115.4 904.0 1114.2 901.5 1113.0 899.0 1111.8 896.5 1110.6 894.0 1109.4 891.5 1108.3 889.0 1107.1 886.5 1105.9 884.0 1104.7 881.5 1103.5 879.0 1102.3 876.5 1101.1 874.0 1099.9 871.5 1098.7 869.0 1097.7 866.5 1097.0 864.0 1096.3 861.5 1095.5 859.0 1094.8 856.5 1094.1 854.0 1093.3 851.5 1092.6 849.0 1091.9 846.5 1091.1 844.0 1090.4 841.5 1089.7 839.0 1089.0 836.5 1088.2 834.0 1087.5 831.5 1086.8 829.0 1086.0 826.5 1085.3 824.0 1084.6 821.5 1083.9 819.0 1083.1 816.5 1082.4 814.0 1081.7 811.5 1081.0 809.0 1080.6 806.5 1080.2 804.0 1079.9 801.5 1079.5 799.0 1079.2 796.5 1078.9 794.0 1078.5 791.5 1078.2 789.0 1077.9 786.5 1077.8 784.0 1077.6 781.5 1077.5 779.0 1077.3 776.5 1077.1 774.0 1077.0 771.5 1076.8 769.0 1074.4 766.5 1066.3 764.0 1066.0 761.5 1068.5 759.0 1070.0 756.5 1070.0 754.0 1073.2 751.5 1071.3 749.0 1070.0 746.5 1070.0 744.0 1070.0 741.5 1070.0 739.0 1070.0 736.5 1070.0 734.0 1070.9 731.5 1075.3 729.0 1072.8 726.5 1070.3 724.0 1076.3 721.5 1084.1 719.0 1092.0 716.5 1087.7 714.0 1083.4 711.5 1079.6 709.0 1077.5 706.5 1075.4 704.0 1073.3 701.5 1071.2 699.0 1071.0 696.5 1073.5 694.0 1076.0 691.5 1078.5 689.0 1085.2 686.5 1098.4 684.0 1111.5 681.5 1118.8 679.0 1102.8 676.5 1093.1 674.0 1108.8 671.5 1110.8 669.0 1103.9 666.5 1096.9 664.0 1090.0 661.5 1110.8 659.0 1131.7 656.5 1128.2 654.0 1108.6 651.5 1088.9 649.0 1098.7 646.5 1115.7 644.0 1122.3 641.5 1102.1 639.0 1087.0 636.5 1079.5 634.0 1072.0 631.5 1064.5 629.0 1065.4 626.5 1065.8 624.0 1066.2 621.5 1066.6 619.0 1066.9 616.5 1067.3Z" fill="#ebebeb"/>
<g fill="none" stroke="#d9d9d9" stroke-width="3.0">
<path d="M616.5 1012.3l5 1 5 0.6 5 9.4 5 16.9 5 17.8 5 19.1 5 -32.7 5 40 5 -12.5 5 -20.6 5 22 5 -23.4 5 27.9 5 -32.6 5 -11.3 5 1.1 5 -16.5 5 20.1 5 -15.3 5 18.1 5 -4.8 5 -27.1 5 -4.4 5 9.2 5 -2.1 5 7.8 5 -11.1 5 1.9 5 7 5 -4.1 5 -10.9 5 0.3 5 -0.9 5 0.4 5 -0.9 5 -0.6 5 -0.6 5 -0.2 5 -0.7 5 -1.6 5 -1.8 5 -1.2 5 -1.6 5 -1.7 5 -0.9 5 -2 5 -1.6 5 -1.5 5 -1.3 5 -1.3 5 -1.4 5 -1.6 5 -2 5 -1.6 5 -1.3 5 -1.4 5 -3.4 5 -3.6 5 -4 5 -3.4 5 -1.3 5 -1.5 5 -0.2 5 0.1 5 1.7 5 2.1 5 2.4 5 2.1 5 -0.4 5 0.7 5 -0.3 5 0.2 5 -1.6 5 -1.1 5 -1.1 5 -1.2 5 -1.5 5 -1.6 5 0.1 5 -0.6 5 -0.2 5 -0.9 5 2.9 5 2.3 5 1.9 5 2 5 1.6 5 2.1 5 2 5 1.6 5 0.5 5 0.1 5 0.1 5 0.9 5 -0.4 5 -0 5 -0 5 0.5 5 0.5 5 -0.1 5 0.3"/>
<path d="M616.5 1014.0l5 1 5 0.5 5 15 5 23.3 5 23.5 5 20.3 5 -36.8 5 47 5 -16.2 5 -21.9 5 23 5 -25.6 5 32.1 5 -34.4 5 -17.5 5 -0.6 5 -19.1 5 23.2 5 -14.2 5 21.1 5 -5.8 5 -40.5 5 -4.2 5 13.9 5 -3.6 5 11.4 5 -18.1 5 3.7 5 10.9 5 -10 5 -10.3 5 0.3 5 -0.9 5 0.4 5 -0.9 5 -0.5 5 -0.6 5 -0.1 5 -0.7 5 -1.5 5 -1.7 5 -1.1 5 -1.6 5 -1.5 5 -0.9 5 -1.9 5 -1.5 5 -1.4 5 -1.2 5 -1.2 5 -1.3 5 -1.5 5 -1.9 5 -1.4 5 -1.3 5 -1.2 5 -3.2 5 -3.4 5 -3.9 5 -3.2 5 -1.2 5 -1.3 5 -0.3 5 0.1 5 1.6 5 2 5 2.3 5 2 5 -0.5 5 0.8 5 -0.3 5 0.2 5 -1.5 5 -1.1 5 -1.1 5 -1.1 5 -1.4 5 -1.5 5 0.1 5 -0.6 5 -0.2 5 -0.8 5 2.7 5 2.1 5 1.8 5 1.9 5 1.5 5 2 5 1.9 5 1.5 5 0.5 5 0.1 5 0.1 5 0.8 5 -0.4 5 0 5 0 5 0.6 5 0.4 5 -0.1 5 0.3"/>
<path d="M616.5 1018.7l5 0.9 5 0.3 5 18.9 5 26.8 5 26.3 5 19.1 5 -36.4 5 48.3 5 -17.9 5 -20.6 5 21.2 5 -24.6 5 32.2 5 -31.9 5 -21.6 5 -2.2 5 -19.4 5 23.6 5 -11.4 5 21.4 5 -6 5 -49.1 5 -3.3 5 16.8 5 -4.6 5 13.5 5 -22.8 5 5 5 13.4 5 -14.7 5 -8.5 5 0.4 5 -0.8 5 0.4 5 -0.8 5 -0.4 5 -0.5 5 -0 5 -0.6 5 -1.2 5 -1.5 5 -0.8 5 -1.3 5 -1.3 5 -0.6 5 -1.7 5 -1.3 5 -1.1 5 -0.9 5 -1 5 -1 5 -1.1 5 -1.6 5 -1.1 5 -0.9 5 -0.9 5 -2.6 5 -2.9 5 -3.4 5 -2.7 5 -0.8 5 -1.1 5 -0.3 5 -0 5 1.4 5 1.7 5 2 5 1.8 5 -0.6 5 0.8 5 -0.3 5 0.3 5 -1.4 5 -0.9 5 -0.9 5 -1 5 -1.2 5 -1.4 5 0.2 5 -0.5 5 -0.1 5 -0.8 5 2.4 5 1.6 5 1.5 5 1.5 5 1.2 5 1.6 5 1.6 5 1.3 5 0.4 5 0.1 5 0.1 5 0.8 5 -0.4 5 -0 5 -0 5 0.5 5 0.4 5 -0.1 5 0.3"/>
<path d="M616.5 1026.0l5 0.7 5 0.1 5 20.4 5 27.2 5 25.9 5 15.6 5 -31.7 5 43.8 5 -17.4 5 -16.9 5 17 5 -20.7 5 28.5 5 -25.5 5 -23.1 5 -3.8 5 -17.2 5 21.1 5 -7.3 5 19.2 5 -5.3 5 -51.9 5 -2 5 17.7 5 -5 5 14 5 -24.8 5 5.7 5 14.2 5 -17.6 5 -5.7 5 0.5 5 -0.7 5 0.5 5 -0.7 5 -0.2 5 -0.3 5 0.1 5 -0.4 5 -0.9 5 -1 5 -0.5 5 -0.9 5 -0.9 5 -0.2 5 -1.3 5 -0.9 5 -0.7 5 -0.5 5 -0.6 5 -0.6 5 -0.6 5 -1 5 -0.6 5 -0.4 5 -0.3 5 -1.9 5 -2.1 5 -2.6 5 -1.9 5 -0.3 5 -0.5 5 -0.4 5 -0.3 5 1 5 1.4 5 1.5 5 1.4 5 -0.7 5 0.9 5 -0.2 5 0.3 5 -1.2 5 -0.6 5 -0.7 5 -0.7 5 -1 5 -1.1 5 0.3 5 -0.4 5 0 5 -0.7 5 1.8 5 1 5 0.9 5 1 5 0.6 5 1.1 5 1.1 5 1.2 5 0.2 5 0.1 5 0 5 0.8 5 -0.4 5 -0.1 5 -0.1 5 0.5 5 0.4 5 -0.2 5 0.3"/>
<path d="M616.5 1034.9l5 0.4 5 -0.1 5 19.6 5 24.2 5 22.4 5 10.2 5 -23.1 5 34 5 -14.9 5 -11.1 5 10.7 5 -14.3 5 21.3 5 -16.1 5 -21.8 5 -4.8 5 -12.9 5 16 5 -2.3 5 14.8 5 -4.1 5 -48.4 5 -0.4 5 16.4 5 -4.8 5 12.8 5 -23.8 5 5.8 5 13.2 5 -18.3 5 -2.3 5 0.6 5 -0.6 5 0.6 5 -0.6 5 0 5 -0 5 0.3 5 -0.3 5 -0.4 5 -0.5 5 -0 5 -0.4 5 -0.4 5 0.2 5 -0.7 5 -0.5 5 -0.2 5 -0 5 -0.1 5 -0.1 5 0.1 5 -0.5 5 0.1 5 0.3 5 0.3 5 -0.9 5 -1.2 5 -1.6 5 -0.9 5 0.4 5 0 5 -0.4 5 -0.6 5 0.6 5 0.8 5 1.1 5 0.8 5 -0.8 5 1 5 -0.1 5 0.4 5 -1 5 -0.3 5 -0.3 5 -0.5 5 -0.6 5 -0.9 5 0.4 5 -0.2 5 0.2 5 -0.6 5 1 5 0.3 5 0.1 5 0.4 5 -0 5 0.4 5 0.6 5 0.8 5 0.1 5 -0 5 0 5 0.7 5 -0.4 5 -0.2 5 -0.1 5 0.5 5 0.4 5 -0.3 5 0.3"/>
<path d="M616.5 1044.4l5 0.1 5 -0.3 5 16.3 5 18.4 5 16.2 5 3.7 5 -12 5 20.2 5 -10.5 5 -4.1 5 3.2 5 -6.2 5 11.5 5 -4.6 5 -17.9 5 -5.3 5 -7.1 5 9.1 5 2.9 5 8.5 5 -2.1 5 -39.3 5 1.4 5 13.1 5 -4.1 5 10 5 -19.9 5 5.3 5 10.6 5 -16.9 5 1.4 5 0.7 5 -0.5 5 0.8 5 -0.5 5 0.2 5 0.2 5 0.5 5 -0 5 0.1 5 -0.1 5 0.5 5 0.2 5 0.1 5 0.8 5 -0.3 5 0.1 5 0.3 5 0.4 5 0.5 5 0.5 5 0.7 5 0.3 5 0.7 5 1 5 1 5 0.1 5 -0.1 5 -0.6 5 0.1 5 1.1 5 0.7 5 -0.5 5 -1 5 0.2 5 0.3 5 0.5 5 0.3 5 -0.9 5 1 5 -0 5 0.5 5 -0.7 5 -0 5 -0 5 -0.1 5 -0.3 5 -0.7 5 0.7 5 -0.1 5 0.3 5 -0.4 5 0.2 5 -0.6 5 -0.6 5 -0.3 5 -0.7 5 -0.3 5 0 5 0.5 5 -0.1 5 -0 5 -0 5 0.6 5 -0.5 5 -0.1 5 -0.2 5 0.4 5 0.3 5 -0.2 5 0.2"/>
<path d="M616.5 1053.3l5 -0.1 5 -0.6 5 11.1 5 10.5 5 7.9 5 -3.2 5 0.6 5 3.9 5 -4.9 5 3.5 5 -4.7 5 2.6 5 0.4 5 7.4 5 -11.9 5 -5.1 5 -0.4 5 1 5 7.8 5 1.2 5 0.1 5 -25.4 5 3 5 8.3 5 -2.9 5 6 5 -13.6 5 4 5 6.7 5 -13.3 5 4.8 5 0.8 5 -0.4 5 0.9 5 -0.3 5 0.4 5 0.4 5 0.7 5 0.1 5 0.6 5 0.4 5 1 5 0.6 5 0.6 5 1.3 5 0.2 5 0.6 5 0.8 5 0.9 5 0.9 5 1.1 5 1.3 5 0.9 5 1.5 5 1.5 5 1.8 5 1 5 0.9 5 0.4 5 1 5 1.8 5 1.3 5 -0.6 5 -1.3 5 -0.2 5 -0.3 5 0 5 -0.2 5 -1 5 1.1 5 0 5 0.6 5 -0.4 5 0.3 5 0.3 5 0.2 5 0 5 -0.3 5 0.7 5 0.1 5 0.5 5 -0.3 5 -0.6 5 -1.4 5 -1.2 5 -1 5 -1.4 5 -0.9 5 -0.5 5 0.1 5 -0.2 5 -0.1 5 -0 5 0.6 5 -0.6 5 -0.2 5 -0.2 5 0.4 5 0.3 5 -0.4 5 0.2"/>
<path d="M616.5 1060.6l5 -0.3 5 -0.8 5 4.6 5 1.2 5 -1.3 5 -9.7 5 13.1 5 -12.9 5 1.4 5 10.5 5 -11.9 5 11.1 5 -10.9 5 18.6 5 -4.3 5 -4.5 5 6.5 5 -7.2 5 11.6 5 -6.1 5 2.3 5 -8.5 5 4.3 5 2.5 5 -1.3 5 1.3 5 -5.7 5 2.2 5 1.9 5 -8.1 5 7.6 5 0.9 5 -0.3 5 0.9 5 -0.1 5 0.6 5 0.5 5 0.9 5 0.3 5 0.9 5 0.8 5 1.4 5 1 5 1 5 1.7 5 0.6 5 1 5 1.2 5 1.3 5 1.3 5 1.5 5 1.9 5 1.4 5 1.9 5 2.1 5 2.3 5 1.9 5 1.6 5 1.2 5 1.8 5 2.4 5 1.7 5 -0.7 5 -1.5 5 -0.6 5 -0.6 5 -0.4 5 -0.7 5 -1.1 5 1.2 5 0.1 5 0.7 5 -0.3 5 0.6 5 0.5 5 0.5 5 0.2 5 -0.1 5 0.9 5 0.2 5 0.6 5 -0.1 5 -1.3 5 -2 5 -1.8 5 -1.6 5 -1.8 5 -1.5 5 -1 5 -0 5 -0.4 5 -0.1 5 -0.1 5 0.6 5 -0.6 5 -0.3 5 -0.2 5 0.3 5 0.3 5 -0.4 5 0.2"/>
<path d="M616.5 1065.3l5 -0.5 5 -0.9 5 -2.5 5 -8.1 5 -10.4 5 -14.9 5 23.9 5 -28 5 7.4 5 16.3 5 -17.8 5 18.3 5 -20.8 5 27.6 5 3.7 5 -3.3 5 12.5 5 -14.5 5 14.1 5 -12.8 5 4.4 5 9.3 5 5.2 5 -3.6 5 0.3 5 -3.6 5 2.9 5 0.3 5 -3.2 5 -1.9 5 9.5 5 0.9 5 -0.2 5 1 5 -0.2 5 0.8 5 0.6 5 1.1 5 0.3 5 1.2 5 1.1 5 1.6 5 1.3 5 1.2 5 1.9 5 0.9 5 1.3 5 1.4 5 1.6 5 1.6 5 1.7 5 2.2 5 1.8 5 2.3 5 2.4 5 2.7 5 2.3 5 2.2 5 1.7 5 2.3 5 2.7 5 2.1 5 -0.7 5 -1.7 5 -0.8 5 -0.9 5 -0.7 5 -1 5 -1.1 5 1.2 5 0.1 5 0.8 5 -0.2 5 0.7 5 0.8 5 0.6 5 0.4 5 0.1 5 0.9 5 0.3 5 0.7 5 -0.1 5 -1.7 5 -2.4 5 -2.2 5 -1.9 5 -2.2 5 -1.8 5 -1.3 5 -0.2 5 -0.4 5 -0.2 5 -0.1 5 0.6 5 -0.6 5 -0.3 5 -0.3 5 0.4 5 0.2 5 -0.4 5 0.1"/>
<path d="M616.5 1067.0l5 -0.5 5 -1 5 -9.2 5 -16.4 5 -18.3 5 -18.4 5 31.8 5 -39.8 5 12.6 5 20.1 5 -21.4 5 23.2 5 -28.2 5 33.2 5 11.3 5 -1.7 5 17.1 5 -20 5 14.7 5 -17.8 5 6 5 25.8 5 5.6 5 -9.3 5 1.9 5 -8 5 11.2 5 -1.7 5 -8 5 4.6 5 10.1 5 0.9 5 -0.2 5 1 5 -0.1 5 0.8 5 0.7 5 1 5 0.4 5 1.3 5 1.2 5 1.7 5 1.3 5 1.4 5 2 5 1 5 1.3 5 1.5 5 1.7 5 1.7 5 1.8 5 2.3 5 1.9 5 2.4 5 2.6 5 2.7 5 2.6 5 2.3 5 1.9 5 2.5 5 2.8 5 2.2 5 -0.7 5 -1.7 5 -0.9 5 -1.1 5 -0.7 5 -1.1 5 -1.2 5 1.3 5 0.2 5 0.7 5 -0.1 5 0.8 5 0.8 5 0.6 5 0.5 5 0.1 5 1 5 0.3 5 0.7 5 -0 5 -1.9 5 -2.5 5 -2.4 5 -2 5 -2.3 5 -1.9 5 -1.4 5 -0.3 5 -0.5 5 -0.1 5 -0.1 5 0.5 5 -0.6 5 -0.3 5 -0.2 5 0.3 5 0.2 5 -0.4 5 0.1"/>
<path d="M616.5 1065.3l5 -0.5 5 -0.9 5 -14.9 5 -22.7 5 -24 5 -19.5 5 35.8 5 -46.8 5 16.3 5 21.4 5 -22.4 5 25.3 5 -32.2 5 34.9 5 17.4 5 0.1 5 19.7 5 -23.2 5 13.6 5 -20.7 5 6.9 5 39.4 5 5.2 5 -13.9 5 3.4 5 -11.6 5 18.1 5 -3.5 5 -11.8 5 10.5 5 9.5 5 0.9 5 -0.2 5 1 5 -0.2 5 0.8 5 0.6 5 1.1 5 0.3 5 1.2 5 1.1 5 1.6 5 1.3 5 1.2 5 1.9 5 0.9 5 1.3 5 1.4 5 1.6 5 1.6 5 1.7 5 2.2 5 1.8 5 2.3 5 2.4 5 2.7 5 2.3 5 2.2 5 1.7 5 2.3 5 2.7 5 2.1 5 -0.7 5 -1.7 5 -0.8 5 -0.9 5 -0.7 5 -1 5 -1.1 5 1.2 5 0.1 5 0.8 5 -0.2 5 0.7 5 0.8 5 0.6 5 0.4 5 0.1 5 0.9 5 0.3 5 0.7 5 -0.1 5 -1.7 5 -2.4 5 -2.2 5 -1.9 5 -2.2 5 -1.8 5 -1.3 5 -0.2 5 -0.4 5 -0.2 5 -0.1 5 0.6 5 -0.6 5 -0.3 5 -0.3 5 0.4 5 0.2 5 -0.4 5 0.1"/>
<path d="M616.5 1060.6l5 -0.3 5 -0.8 5 -18.7 5 -26.3 5 -26.9 5 -18.2 5 35.4 5 -48.1 5 18 5 20.1 5 -20.6 5 24.3 5 -32.4 5 32.5 5 21.5 5 1.8 5 19.9 5 -23.5 5 10.8 5 -21.1 5 7.1 5 48 5 4.3 5 -16.8 5 4.4 5 -13.8 5 23 5 -4.9 5 -14.4 5 15.3 5 7.6 5 0.9 5 -0.3 5 0.9 5 -0.1 5 0.6 5 0.5 5 0.9 5 0.3 5 0.9 5 0.8 5 1.4 5 1 5 1 5 1.7 5 0.6 5 1 5 1.2 5 1.3 5 1.3 5 1.5 5 1.9 5 1.4 5 1.9 5 2.1 5 2.3 5 1.9 5 1.6 5 1.2 5 1.8 5 2.4 5 1.7 5 -0.7 5 -1.5 5 -0.6 5 -0.6 5 -0.4 5 -0.7 5 -1.1 5 1.2 5 0.1 5 0.7 5 -0.3 5 0.6 5 0.5 5 0.5 5 0.2 5 -0.1 5 0.9 5 0.2 5 0.6 5 -0.1 5 -1.3 5 -2 5 -1.8 5 -1.6 5 -1.8 5 -1.5 5 -1 5 -0 5 -0.4 5 -0.1 5 -0.1 5 0.6 5 -0.6 5 -0.3 5 -0.2 5 0.3 5 0.3 5 -0.4 5 0.2"/>
<path d="M616.5 1053.3l5 -0.1 5 -0.6 5 -20.3 5 -26.6 5 -26.5 5 -14.8 5 30.7 5 -43.5 5 17.5 5 16.4 5 -16.4 5 20.4 5 -28.6 5 26.1 5 23 5 3.2 5 17.8 5 -21 5 6.7 5 -19 5 6.5 5 50.8 5 3 5 -17.7 5 4.8 5 -14.2 5 24.9 5 -5.6 5 -15.2 5 18.2 5 4.8 5 0.8 5 -0.4 5 0.9 5 -0.3 5 0.4 5 0.4 5 0.7 5 0.1 5 0.6 5 0.4 5 1 5 0.6 5 0.6 5 1.3 5 0.2 5 0.6 5 0.8 5 0.9 5 0.9 5 1.1 5 1.3 5 0.9 5 1.5 5 1.5 5 1.8 5 1 5 0.9 5 0.4 5 1 5 1.8 5 1.3 5 -0.6 5 -1.3 5 -0.2 5 -0.3 5 0 5 -0.2 5 -1 5 1.1 5 0 5 0.6 5 -0.4 5 0.3 5 0.3 5 0.2 5 0 5 -0.3 5 0.7 5 0.1 5 0.5 5 -0.3 5 -0.6 5 -1.4 5 -1.2 5 -1 5 -1.4 5 -0.9 5 -0.5 5 0.1 5 -0.2 5 -0.1 5 -0 5 0.6 5 -0.6 5 -0.2 5 -0.2 5 0.4 5 0.3 5 -0.4 5 0.2"/>
<path d="M616.5 1044.4l5 0.1 5 -0.3 5 -19.4 5 -23.7 5 -23 5 -9.4 5 22.2 5 -33.8 5 15 5 10.6 5 -10.1 5 14.1 5 -21.5 5 16.6 5 21.7 5 4.3 5 13.5 5 -15.9 5 1.7 5 -14.5 5 5.2 5 47.3 5 1.4 5 -16.4 5 4.6 5 -13 5 23.9 5 -5.7 5 -14.2 5 18.9 5 1.4 5 0.7 5 -0.5 5 0.8 5 -0.5 5 0.2 5 0.2 5 0.5 5 -0 5 0.1 5 -0.1 5 0.5 5 0.2 5 0.1 5 0.8 5 -0.3 5 0.1 5 0.3 5 0.4 5 0.5 5 0.5 5 0.7 5 0.3 5 0.7 5 1 5 1 5 0.1 5 -0.1 5 -0.6 5 0.1 5 1.1 5 0.7 5 -0.5 5 -1 5 0.2 5 0.3 5 0.5 5 0.3 5 -0.9 5 1 5 -0 5 0.5 5 -0.7 5 -0 5 -0 5 -0.1 5 -0.3 5 -0.7 5 0.7 5 -0.1 5 0.3 5 -0.4 5 0.2 5 -0.6 5 -0.6 5 -0.3 5 -0.7 5 -0.3 5 0 5 0.5 5 -0.1 5 -0 5 -0 5 0.6 5 -0.5 5 -0.1 5 -0.2 5 0.4 5 0.3 5 -0.2 5 0.2"/>
<path d="M616.5 1034.9l5 0.4 5 -0.1 5 -16.1 5 -17.9 5 -16.7 5 -3 5 11 5 -19.9 5 10.6 5 3.5 5 -2.5 5 6 5 -11.8 5 5.2 5 17.8 5 4.8 5 7.6 5 -8.9 5 -3.6 5 -8.2 5 3.3 5 38.2 5 -0.4 5 -13.1 5 3.8 5 -10.2 5 20.1 5 -5.1 5 -11.6 5 17.4 5 -2.3 5 0.6 5 -0.6 5 0.6 5 -0.6 5 0 5 -0 5 0.3 5 -0.3 5 -0.4 5 -0.5 5 -0 5 -0.4 5 -0.4 5 0.2 5 -0.7 5 -0.5 5 -0.2 5 -0 5 -0.1 5 -0.1 5 0.1 5 -0.5 5 0.1 5 0.3 5 0.3 5 -0.9 5 -1.2 5 -1.6 5 -0.9 5 0.4 5 0 5 -0.4 5 -0.6 5 0.6 5 0.8 5 1.1 5 0.8 5 -0.8 5 1 5 -0.1 5 0.4 5 -1 5 -0.3 5 -0.3 5 -0.5 5 -0.6 5 -0.9 5 0.4 5 -0.2 5 0.2 5 -0.6 5 1 5 0.3 5 0.1 5 0.4 5 -0 5 0.4 5 0.6 5 0.8 5 0.1 5 -0 5 0 5 0.7 5 -0.4 5 -0.2 5 -0.1 5 0.5 5 0.4 5 -0.3 5 0.3"/>
<path d="M616.5 1026.0l5 0.7 5 0.1 5 -10.9 5 -9.9 5 -8.5 5 4 5 -1.6 5 -3.7 5 5 5 -4 5 5.3 5 -2.8 5 -0.6 5 -6.8 5 11.7 5 4.6 5 0.9 5 -0.8 5 -8.4 5 -1 5 1.1 5 24.3 5 -2 5 -8.3 5 2.7 5 -6.3 5 13.8 5 -3.9 5 -7.6 5 13.8 5 -5.7 5 0.5 5 -0.7 5 0.5 5 -0.7 5 -0.2 5 -0.3 5 0.1 5 -0.4 5 -0.9 5 -1 5 -0.5 5 -0.9 5 -0.9 5 -0.2 5 -1.3 5 -0.9 5 -0.7 5 -0.5 5 -0.6 5 -0.6 5 -0.6 5 -1 5 -0.6 5 -0.4 5 -0.3 5 -1.9 5 -2.1 5 -2.6 5 -1.9 5 -0.3 5 -0.5 5 -0.4 5 -0.3 5 1 5 1.4 5 1.5 5 1.4 5 -0.7 5 0.9 5 -0.2 5 0.3 5 -1.2 5 -0.6 5 -0.7 5 -0.7 5 -1 5 -1.1 5 0.3 5 -0.4 5 0 5 -0.7 5 1.8 5 1 5 0.9 5 1 5 0.6 5 1.1 5 1.1 5 1.2 5 0.2 5 0.1 5 0 5 0.8 5 -0.4 5 -0.1 5 -0.1 5 0.5 5 0.4 5 -0.2 5 0.3"/>
<path d="M616.5 1018.7l5 0.9 5 0.3 5 -4.4 5 -0.7 5 0.8 5 10.4 5 -14 5 13 5 -1.2 5 -11.1 5 12.6 5 -11.3 5 10.6 5 -18 5 4.3 5 3.9 5 -5.9 5 7.3 5 -12.3 5 6.5 5 -1.2 5 7.4 5 -3.3 5 -2.5 5 1.1 5 -1.5 5 5.8 5 -2.1 5 -2.8 5 8.6 5 -8.5 5 0.4 5 -0.8 5 0.4 5 -0.8 5 -0.4 5 -0.5 5 -0 5 -0.6 5 -1.2 5 -1.5 5 -0.8 5 -1.3 5 -1.3 5 -0.6 5 -1.7 5 -1.3 5 -1.1 5 -0.9 5 -1 5 -1 5 -1.1 5 -1.6 5 -1.1 5 -0.9 5 -0.9 5 -2.6 5 -2.9 5 -3.4 5 -2.7 5 -0.8 5 -1.1 5 -0.3 5 -0 5 1.4 5 1.7 5 2 5 1.8 5 -0.6 5 0.8 5 -0.3 5 0.3 5 -1.4 5 -0.9 5 -0.9 5 -1 5 -1.2 5 -1.4 5 0.2 5 -0.5 5 -0.1 5 -0.8 5 2.4 5 1.6 5 1.5 5 1.5 5 1.2 5 1.6 5 1.6 5 1.3 5 0.4 5 0.1 5 0.1 5 0.8 5 -0.4 5 -0 5 -0 5 0.5 5 0.4 5 -0.1 5 0.3"/>
<path d="M616.5 1014.0l5 1 5 0.5 5 2.6 5 8.7 5 9.8 5 15.8 5 -24.9 5 28.2 5 -7.3 5 -16.8 5 18.3 5 -18.4 5 20.5 5 -26.9 5 -3.8 5 2.7 5 -12 5 14.6 5 -14.6 5 13.1 5 -3.3 5 -10.4 5 -4.2 5 3.6 5 -0.5 5 3.3 5 -2.8 5 -0.1 5 2.3 5 2.4 5 -10.3 5 0.3 5 -0.9 5 0.4 5 -0.9 5 -0.5 5 -0.6 5 -0.1 5 -0.7 5 -1.5 5 -1.7 5 -1.1 5 -1.6 5 -1.5 5 -0.9 5 -1.9 5 -1.5 5 -1.4 5 -1.2 5 -1.2 5 -1.3 5 -1.5 5 -1.9 5 -1.4 5 -1.3 5 -1.2 5 -3.2 5 -3.4 5 -3.9 5 -3.2 5 -1.2 5 -1.3 5 -0.3 5 0.1 5 1.6 5 2 5 2.3 5 2 5 -0.5 5 0.8 5 -0.3 5 0.2 5 -1.5 5 -1.1 5 -1.1 5 -1.1 5 -1.4 5 -1.5 5 0.1 5 -0.6 5 -0.2 5 -0.8 5 2.7 5 2.1 5 1.8 5 1.9 5 1.5 5 2 5 1.9 5 1.5 5 0.5 5 0.1 5 0.1 5 0.8 5 -0.4 5 0 5 0 5 0.6 5 0.4 5 -0.1 5 0.3"/>
</g>
<path d="M616.5 1068.0L619.0 1067.1 621.5 1066.7 624.0 1065.8 626.5 1066.4 629.0 1064.5 631.5 1056.9 634.0 1040.4 636.5 1039.7 639.0 1038.9 641.5 1022.2 644.0 997.5 646.5 1002.7 649.0 1019.9 651.5 1035.9 654.0 1020.7 656.5 995.8 659.0 988.1 661.5 1008.3 664.0 1028.6 666.5 1029.1 669.0 1016.7 671.5 1006.8 674.0 1018.0 676.5 1030.4 679.0 1011.4 681.5 1002.5 684.0 1019.0 686.5 1034.8 689.0 1046.9 691.5 1046.2 694.0 1044.7 696.5 1045.3 699.0 1055.8 701.5 1061.6 704.0 1051.4 706.5 1041.4 709.0 1049.9 711.5 1057.0 714.0 1048.0 716.5 1038.7 719.0 1028.7 721.5 1043.0 724.0 1058.8 726.5 1070.6 729.0 1073.6 731.5 1074.5 734.0 1071.3 736.5 1065.3 739.0 1066.3 741.5 1067.6 744.0 1066.8 746.5 1059.9 749.0 1060.9 751.5 1070.9 754.0 1072.5 756.5 1068.9 759.0 1065.0 761.5 1062.4 764.0 1058.8 766.5 1066.2 769.0 1075.1 771.5 1077.6 774.0 1077.6 776.5 1076.7 779.0 1077.5 781.5 1078.0 784.0 1077.0 786.5 1077.0 789.0 1078.7 791.5 1078.4 794.0 1078.6 796.5 1078.9 799.0 1079.3 801.5 1079.5 804.0 1080.4 806.5 1079.4 809.0 1079.7 811.5 1080.9 814.0 1081.5 816.5 1082.7 819.0 1084.0 821.5 1084.7 824.0 1084.5 826.5 1085.6 829.0 1085.6 831.5 1087.3 834.0 1086.6 836.5 1089.0 839.0 1089.7 841.5 1089.3 844.0 1089.7 846.5 1091.8 849.0 1092.5 851.5 1093.5 854.0 1093.3 856.5 1094.9 859.0 1094.6 861.5 1095.8 864.0 1095.6 866.5 1096.9 869.0 1097.7 871.5 1098.4 874.0 1099.8 876.5 1100.9 879.0 1102.4 881.5 1104.2 884.0 1104.5 886.5 1106.6 889.0 1106.7 891.5 1108.6 894.0 1109.2 896.5 1110.3 899.0 1111.6 901.5 1112.3 904.0 1114.2 906.5 1114.9 909.0 1117.2 911.5 1118.3 914.0 1118.4 916.5 1120.4 919.0 1120.8 921.5 1121.9 924.0 1123.2 926.5 1124.6 929.0 1124.9 931.5 1123.2 934.0 1124.1 936.5 1123.5 939.0 1121.6 941.5 1122.1 944.0 1121.7 946.5 1121.0 949.0 1120.4 951.5 1119.5 954.0 1118.7 956.5 1118.4 959.0 1117.6 961.5 1119.0 964.0 1117.9 966.5 1118.0 969.0 1119.8 971.5 1119.2 974.0 1119.5 976.5 1119.2 979.0 1119.9 981.5 1120.9 984.0 1119.6 986.5 1120.8 989.0 1121.3 991.5 1120.8 994.0 1122.0 996.5 1120.9 999.0 1122.1 1001.5 1121.5 1004.0 1123.3 1006.5 1123.1 1009.0 1123.7 1011.5 1122.8 1014.0 1123.4 1016.5 1123.8 1019.0 1124.1 1021.5 1124.1 1024.0 1124.5 1026.5 1125.8 1029.0 1123.9 1031.5 1122.8 1034.0 1121.3 1036.5 1121.1 1039.0 1119.4 1041.5 1119.1 1044.0 1117.6 1046.5 1116.4 1049.0 1115.3 1051.5 1114.4 1054.0 1113.6 1056.5 1111.5 1059.0 1110.1 1061.5 1109.5 1064.0 1109.1 1066.5 1109.7 1069.0 1109.2 1071.5 1110.3 1074.0 1110.5 1076.5 1110.2 1079.0 1110.3 1081.5 1110.1 1084.0 1110.1 1086.5 1108.6 1089.0 1109.8 1091.5 1109.5 1094.0 1108.5 1096.5 1109.6 1099.0 1108.9 1101.5 1109.8 1104.0 1109.4 1106.5 1108.8 1109.0 1109.4 1111.5 1108.0 1114.0 1108.6 1116.5 1108.4 1119.0 1109.4 1121.5 1107.8 1124.0 1108.6" fill="none" stroke="#e3302e" stroke-width="3.6" stroke-linejoin="round"/>
<path d="M616.5 1012.0L619.0 1012.9 621.5 1013.3 624.0 1014.2 626.5 1013.6 629.0 1015.5 631.5 1023.1" fill="none" stroke="#2d4fa3" stroke-width="3.6" stroke-linejoin="round"/>
<path d="M631.5 1023.1L634.0 1039.6 636.5 1040.3 639.0 1041.1 641.5 1057.8 644.0 1082.5 646.5 1077.3 649.0 1060.1 651.5 1044.1 654.0 1059.3 656.5 1084.2 659.0 1091.9 661.5 1071.7 664.0 1051.4 666.5 1050.9 669.0 1063.3 671.5 1073.2 674.0 1062.0 676.5 1049.6 679.0 1068.6 681.5 1077.5 684.0 1061.0 686.5 1045.2 689.0 1033.1 691.5 1033.8 694.0 1035.3 696.5 1034.7 699.0 1024.2 701.5 1018.4" fill="none" stroke="#4a68b4" stroke-width="2.4" stroke-linejoin="round"/>
<path d="M701.5 1018.4L704.0 1028.6 706.5 1038.6 709.0 1030.1 711.5 1023.0 714.0 1032.0 716.5 1041.3 719.0 1051.3 721.5 1037.0 724.0 1021.2 726.5 1009.4 729.0 1006.4 731.5 1005.5 734.0 1008.7 736.5 1014.7 739.0 1013.7 741.5 1012.4 744.0 1013.2 746.5 1020.1 749.0 1019.1 751.5 1009.1 754.0 1007.5 756.5 1011.1 759.0 1015.0 761.5 1017.6 764.0 1021.2 766.5 1013.8 769.0 1004.9 771.5 1002.4 774.0 1002.4 776.5 1003.3 779.0 1002.5 781.5 1002.0 784.0 1003.0 786.5 1003.0 789.0 1001.3 791.5 1001.6 794.0 1001.4 796.5 1001.1 799.0 1000.7 801.5 1000.5 804.0 999.6 806.5 1000.7 809.0 1000.6 811.5 999.6 814.0 999.1 816.5 997.9 819.0 996.5 821.5 995.8 824.0 996.0 826.5 994.9 829.0 994.9 831.5 993.2 834.0 993.8 836.5 991.4 839.0 990.7 841.5 991.0 844.0 990.6 846.5 988.5 849.0 987.8 851.5 986.7 854.0 986.9 856.5 985.3 859.0 985.6 861.5 984.3 864.0 984.5 866.5 983.2 869.0 982.3 871.5 981.9 874.0 980.9 876.5 980.2 879.0 979.2 881.5 977.7 884.0 977.9 886.5 976.2 889.0 976.5 891.5 975.0 894.0 974.9 896.5 974.0 899.0 972.1 901.5 970.8 904.0 968.3 906.5 967.1 909.0 964.2 911.5 962.6 914.0 961.9 916.5 959.3 919.0 959.0 921.5 958.5 924.0 957.7 926.5 956.8 929.0 955.5 931.5 956.8 934.0 955.8 936.5 956.3 939.0 958.1 941.5 958.1 944.0 959.1 946.5 960.3 949.0 961.4 951.5 962.9 954.0 964.1 956.5 965.0 959.0 965.5 961.5 963.9 964.0 965.3 966.5 965.4 969.0 963.9 971.5 964.8 974.0 964.7 976.5 965.2 979.0 964.5 981.5 963.0 984.0 963.9 986.5 962.2 989.0 961.3 991.5 961.4 994.0 959.7 996.5 960.3 999.0 958.7 1001.5 958.9 1004.0 956.6 1006.5 956.8 1009.0 956.3 1011.5 957.3 1014.0 956.8 1016.5 956.5 1019.0 956.3 1021.5 956.4 1024.0 956.1 1026.5 954.9 1029.0 956.9 1031.5 958.2 1034.0 959.8 1036.5 960.2 1039.0 962.0 1041.5 962.0 1044.0 963.2 1046.5 964.2 1049.0 965.1 1051.5 965.7 1054.0 966.4 1056.5 968.1 1059.0 969.4 1061.5 970.3 1064.0 971.5 1066.5 971.8 1069.0 973.0 1071.5 971.9 1074.0 971.7 1076.5 972.0 1079.0 971.9 1081.5 972.2 1084.0 972.2 1086.5 973.7 1089.0 972.4 1091.5 972.8 1094.0 973.8 1096.5 972.6 1099.0 973.3 1101.5 972.5 1104.0 972.9 1106.5 973.5 1109.0 972.9 1111.5 974.3 1114.0 973.7 1116.5 973.9 1119.0 972.9 1121.5 974.5 1124.0 973.7" fill="none" stroke="#2d4fa3" stroke-width="3.6" stroke-linejoin="round"/>
</g>
<defs></defs>
<g clip-path="url(#cl)">
<path d="M109.7 1481.4L112.2 1481.2 114.7 1481.0 117.2 1480.8 119.7 1480.6 122.2 1480.5 124.7 1480.3 127.2 1480.1 129.7 1481.3 132.2 1484.2 134.7 1487.1 137.2 1490.1 139.7 1493.0 142.2 1495.9 144.7 1498.8 147.2 1500.5 149.7 1499.8 152.2 1499.2 154.7 1498.5 157.2 1497.9 159.7 1501.3 162.2 1506.7 164.7 1512.1 167.2 1517.2 169.7 1519.7 172.2 1522.2 174.7 1524.7 177.2 1527.2 179.7 1529.6 182.2 1532.1 184.7 1534.6 187.2 1537.1 189.7 1541.0 192.2 1545.1 194.7 1549.3 197.2 1552.8 199.7 1554.5 202.2 1556.3 204.7 1558.1 207.2 1559.8 209.7 1561.6 212.2 1563.3 214.7 1565.1 217.2 1566.8 219.7 1568.6 222.2 1570.3 224.7 1572.1 227.2 1573.0 229.7 1573.0 232.2 1573.0 234.7 1573.0 237.2 1573.0 239.7 1573.0 242.2 1574.3 244.7 1576.5 247.2 1578.7 249.7 1580.9 252.2 1583.0 254.7 1585.2 257.2 1587.4 259.7 1589.6 262.2 1591.8 264.7 1593.7 267.2 1594.4 269.7 1595.1 272.2 1595.9 274.7 1596.6 277.2 1597.3 279.7 1598.0 282.2 1598.7 284.7 1599.4 287.2 1599.9 289.7 1600.4 292.2 1600.9 294.7 1601.4 297.2 1601.9 299.7 1602.4 302.2 1601.9 304.7 1601.4 307.2 1600.9 309.7 1600.4 312.2 1600.0 314.7 1599.4 317.2 1597.9 319.7 1596.4 322.2 1594.9 324.7 1593.4 327.2 1591.9 329.7 1590.4 332.2 1588.9 334.7 1587.4 337.2 1585.9 339.7 1584.4 342.2 1582.9 344.7 1581.3 347.2 1579.5 349.7 1577.8 352.2 1576.0 354.7 1574.3 357.2 1572.5 359.7 1570.7 362.2 1569.0 364.7 1567.2 367.2 1565.4 369.7 1563.7 372.2 1561.9 374.7 1560.5 377.2 1559.4 379.7 1558.2 382.2 1557.1 384.7 1556.0 387.2 1554.9 389.7 1553.8 392.2 1552.7 394.7 1551.6 397.2 1550.5 399.7 1549.4 402.2 1548.3 404.7 1547.7 407.2 1547.5 409.7 1547.2 412.2 1547.0 414.7 1546.7 417.2 1546.5 419.7 1546.7 422.2 1547.1 424.7 1547.5 427.2 1547.8 429.7 1548.2 432.2 1548.6 434.7 1549.0 437.2 1549.3 439.7 1549.7 442.2 1550.1 444.7 1550.5 447.2 1550.8 449.7 1551.3 452.2 1551.8 454.7 1552.3 457.2 1552.8 459.7 1553.3 462.2 1553.8 464.7 1554.3 467.2 1554.8 469.7 1555.3 472.2 1555.8 474.7 1556.3 477.2 1556.8 479.7 1557.4 482.2 1558.1 484.7 1558.7 487.2 1559.3 489.7 1559.9 492.2 1560.6 494.7 1561.2 497.2 1561.8 499.7 1562.4 502.2 1563.1 504.7 1563.7 507.2 1564.2 509.7 1564.7 512.2 1565.2 514.7 1565.7 517.2 1566.2 519.7 1566.7 522.2 1566.2 524.7 1564.5 527.2 1562.9 529.7 1561.2 532.2 1562.8 534.7 1564.9 537.2 1566.9 539.7 1569.0 542.2 1571.0 544.7 1573.0 547.2 1574.0 549.7 1574.9 552.2 1575.9 554.7 1576.8 557.2 1577.7 559.7 1578.7 562.2 1579.6 564.7 1580.6 567.2 1581.5 569.7 1581.2 572.2 1580.3 574.7 1579.3 577.2 1578.4 579.7 1577.5 582.2 1579.8 584.7 1582.6 587.2 1585.3 589.7 1588.1 592.2 1590.7 594.7 1591.3 597.2 1591.9 599.7 1592.6 602.2 1593.2 604.7 1593.9 607.2 1594.5 609.7 1595.1 612.2 1595.8 614.7 1596.4 617.2 1596.9 619.7 1597.3 622.2 1597.7 624.7 1597.4 627.2 1595.4 629.7 1593.4 632.2 1591.4 634.7 1580.3 637.2 1568.9 639.7 1582.5 642.2 1567.7 644.7 1556.0 647.2 1578.9 649.7 1572.5 652.2 1568.4 654.7 1580.8 657.2 1567.3 659.7 1555.3 662.2 1576.3 664.7 1568.6 667.2 1559.5 669.7 1579.0 672.2 1574.2 674.7 1565.7 677.2 1577.3 679.7 1569.1 682.2 1569.9 684.7 1581.7 687.2 1566.5 689.7 1574.4 692.2 1572.4 694.7 1566.6 697.2 1583.4 699.7 1578.5 702.2 1579.1 704.7 1583.3 707.2 1571.8 709.7 1580.6 712.2 1581.3 714.7 1576.6 717.2 1583.3 719.7 1579.7 722.2 1573.2 724.7 1578.8 727.2 1578.9 729.7 1575.4 732.2 1581.8 734.7 1583.8 737.2 1583.0 739.7 1582.1 742.2 1582.0 744.7 1582.1 747.2 1582.1 749.7 1582.1 752.2 1582.2 754.7 1582.2 757.2 1582.2 759.7 1582.3 762.2 1582.3 764.7 1582.3 767.2 1582.4 769.7 1582.4 772.2 1582.4 774.7 1582.5 777.2 1582.5 779.7 1582.6 782.2 1582.6 784.7 1582.6 787.2 1582.7 789.7 1582.7 792.2 1582.7 794.7 1582.8 797.2 1582.8 799.7 1582.8 802.2 1582.9 804.7 1582.9 807.2 1582.9 809.7 1583.0 812.2 1582.9 814.7 1582.5 817.2 1582.2 819.7 1581.8 822.2 1581.4 824.7 1581.0 827.2 1580.6 829.7 1580.3 832.2 1579.9 834.7 1579.5 837.2 1579.1 839.7 1578.7 842.2 1578.4 844.7 1578.3 847.2 1578.3 849.7 1578.2 852.2 1578.1 854.7 1578.1 857.2 1578.0 859.7 1577.9 862.2 1577.9 864.7 1577.8 867.2 1577.7 869.7 1577.7 872.2 1577.6 874.7 1577.6 877.2 1577.5 879.7 1577.4 882.2 1577.4 884.7 1577.3 887.2 1577.2 889.7 1577.2 892.2 1577.1 894.7 1577.0 897.2 1576.5 899.7 1575.6 902.2 1574.6 904.7 1573.7 907.2 1572.7 909.7 1571.8 912.2 1570.8 914.7 1569.8 917.2 1568.9 919.7 1567.9 922.2 1567.0 924.7 1566.0 927.2 1565.1 929.7 1564.1 932.2 1563.2 934.7 1562.4 937.2 1561.6 939.7 1560.9 942.2 1560.2 944.7 1559.4 947.2 1558.7 949.7 1557.9 952.2 1557.2 954.7 1556.5 957.2 1555.7 959.7 1555.0 962.2 1554.2 964.7 1552.8 967.2 1551.0 969.7 1549.7 972.2 1549.7 974.7 1549.7 977.2 1549.7 979.7 1549.7 982.2 1549.7 984.7 1550.6 987.2 1553.7 989.7 1556.8 992.2 1559.9 994.7 1563.0 997.2 1566.1 999.7 1569.2 1002.2 1572.2 1004.7 1574.8 1007.2 1577.4 1009.7 1580.0 1012.2 1582.5 1014.7 1585.1 1017.2 1587.5 1019.7 1588.2 1022.2 1588.8 1024.7 1589.4 1027.2 1590.0 1029.7 1591.1 1032.2 1593.3 1034.7 1595.4 1037.2 1597.6 1039.7 1599.7 1042.2 1601.9 1044.7 1604.0 1047.2 1606.2 1049.7 1608.3 1052.2 1610.5 1054.7 1607.7 1057.2 1603.7 1059.7 1599.8 1062.2 1596.7 1064.7 1593.7 1067.2 1590.8 1069.7 1587.8 1072.2 1584.8 1074.7 1581.4 1077.2 1578.6 1079.7 1575.8 1082.2 1574.6 1084.7 1573.6 1087.2 1572.4 1089.7 1571.3 1092.2 1570.6 1094.7 1569.9 1097.2 1569.2 1099.7 1568.5 1102.2 1568.9 1104.7 1568.9 1107.2 1568.8 1109.7 1569.2 1112.2 1569.8 1114.7 1570.3 1117.2 1570.8 1119.7 1571.4 1122.2 1571.9 1123.1 1572.1 1123.1 1688.4 1122.2 1688.4 1119.7 1688.2 1117.2 1688.1 1114.7 1688.0 1112.2 1687.8 1109.7 1687.7 1107.2 1687.7 1104.7 1688.1 1102.2 1688.5 1099.7 1688.3 1097.2 1687.0 1094.7 1685.7 1092.2 1684.4 1089.7 1683.1 1087.2 1682.2 1084.7 1681.3 1082.2 1680.4 1079.7 1679.2 1077.2 1676.4 1074.7 1673.7 1072.2 1671.6 1069.7 1669.1 1067.2 1666.6 1064.7 1664.1 1062.2 1661.5 1059.7 1658.9 1057.2 1655.3 1054.7 1651.8 1052.2 1649.0 1049.7 1650.8 1047.2 1652.6 1044.7 1654.3 1042.2 1656.1 1039.7 1657.9 1037.2 1659.7 1034.7 1661.4 1032.2 1663.2 1029.7 1665.0 1027.2 1666.0 1024.7 1666.6 1022.2 1667.2 1019.7 1667.8 1017.2 1668.5 1014.7 1670.9 1012.2 1673.5 1009.7 1676.0 1007.2 1678.6 1004.7 1681.2 1002.2 1683.8 999.7 1686.8 997.2 1689.9 994.7 1693.0 992.2 1696.1 989.7 1699.2 987.2 1702.3 984.7 1705.4 982.2 1706.3 979.7 1706.3 977.2 1706.3 974.7 1706.3 972.2 1706.3 969.7 1706.3 967.2 1705.0 964.7 1703.2 962.2 1701.8 959.7 1701.0 957.2 1700.3 954.7 1699.5 952.2 1698.8 949.7 1698.1 947.2 1697.3 944.7 1696.6 942.2 1695.8 939.7 1695.1 937.2 1694.4 934.7 1693.6 932.2 1692.8 929.7 1691.9 927.2 1690.9 924.7 1690.0 922.2 1689.0 919.7 1688.1 917.2 1687.1 914.7 1686.2 912.2 1685.2 909.7 1684.2 907.2 1683.3 904.7 1682.3 902.2 1681.4 899.7 1680.4 897.2 1679.5 894.7 1679.0 892.2 1678.9 889.7 1678.8 887.2 1678.8 884.7 1678.7 882.2 1678.6 879.7 1678.6 877.2 1678.5 874.7 1678.4 872.2 1678.4 869.7 1678.3 867.2 1678.3 864.7 1678.2 862.2 1678.1 859.7 1678.1 857.2 1678.0 854.7 1677.9 852.2 1677.9 849.7 1677.8 847.2 1677.7 844.7 1677.7 842.2 1677.6 839.7 1677.3 837.2 1676.9 834.7 1676.5 832.2 1676.1 829.7 1675.7 827.2 1675.4 824.7 1675.0 822.2 1674.6 819.7 1674.2 817.2 1673.8 814.7 1673.5 812.2 1673.1 809.7 1673.0 807.2 1673.1 804.7 1673.1 802.2 1673.1 799.7 1673.2 797.2 1673.2 794.7 1673.2 792.2 1673.3 789.7 1673.3 787.2 1673.3 784.7 1673.4 782.2 1673.4 779.7 1673.4 777.2 1673.5 774.7 1673.5 772.2 1673.6 769.7 1673.6 767.2 1673.6 764.7 1673.7 762.2 1673.7 759.7 1673.7 757.2 1673.8 754.7 1673.8 752.2 1673.8 749.7 1673.9 747.2 1673.9 744.7 1673.9 742.2 1674.0 739.7 1673.9 737.2 1673.0 734.7 1672.2 732.2 1674.2 729.7 1680.6 727.2 1677.1 724.7 1677.2 722.2 1682.8 719.7 1676.3 717.2 1672.7 714.7 1679.4 712.2 1674.7 709.7 1675.4 707.2 1684.2 704.7 1672.7 702.2 1676.9 699.7 1677.5 697.2 1672.6 694.7 1689.4 692.2 1683.6 689.7 1681.6 687.2 1689.5 684.7 1674.3 682.2 1686.1 679.7 1686.9 677.2 1678.7 674.7 1690.3 672.2 1681.8 669.7 1677.0 667.2 1696.5 664.7 1687.4 662.2 1679.7 659.7 1700.7 657.2 1688.7 654.7 1675.2 652.2 1687.6 649.7 1683.5 647.2 1677.1 644.7 1700.0 642.2 1688.3 639.7 1673.5 637.2 1687.1 634.7 1675.7 632.2 1664.6 629.7 1662.6 627.2 1660.6 624.7 1658.6 622.2 1658.3 619.7 1658.7 617.2 1659.1 614.7 1659.6 612.2 1660.2 609.7 1660.9 607.2 1661.5 604.7 1662.1 602.2 1662.8 599.7 1663.4 597.2 1664.1 594.7 1664.7 592.2 1665.3 589.7 1667.9 587.2 1670.7 584.7 1673.4 582.2 1676.2 579.7 1678.5 577.2 1677.6 574.7 1676.7 572.2 1675.7 569.7 1674.8 567.2 1674.5 564.7 1675.4 562.2 1676.4 559.7 1677.3 557.2 1678.3 554.7 1679.2 552.2 1680.1 549.7 1681.1 547.2 1682.0 544.7 1683.0 542.2 1685.0 539.7 1687.0 537.2 1689.1 534.7 1691.1 532.2 1693.2 529.7 1694.8 527.2 1693.1 524.7 1691.5 522.2 1689.8 519.7 1689.3 517.2 1689.8 514.7 1690.3 512.2 1690.8 509.7 1691.3 507.2 1691.8 504.7 1692.3 502.2 1692.9 499.7 1693.6 497.2 1694.2 494.7 1694.8 492.2 1695.4 489.7 1696.1 487.2 1696.7 484.7 1697.3 482.2 1697.9 479.7 1698.6 477.2 1699.2 474.7 1699.7 472.2 1700.2 469.7 1700.7 467.2 1701.2 464.7 1701.7 462.2 1702.2 459.7 1702.7 457.2 1703.2 454.7 1703.7 452.2 1704.2 449.7 1704.7 447.2 1705.2 444.7 1705.5 442.2 1705.9 439.7 1706.3 437.2 1706.7 434.7 1707.0 432.2 1707.4 429.7 1707.8 427.2 1708.2 424.7 1708.5 422.2 1708.9 419.7 1709.3 417.2 1709.5 414.7 1709.3 412.2 1709.0 409.7 1708.8 407.2 1708.5 404.7 1708.3 402.2 1707.7 399.7 1706.6 397.2 1705.5 394.7 1704.4 392.2 1703.3 389.7 1702.2 387.2 1701.1 384.7 1700.0 382.2 1698.9 379.7 1697.8 377.2 1696.6 374.7 1695.5 372.2 1694.1 369.7 1692.3 367.2 1690.6 364.7 1688.8 362.2 1687.0 359.7 1685.3 357.2 1683.5 354.7 1681.7 352.2 1680.0 349.7 1678.2 347.2 1676.5 344.7 1674.7 342.2 1673.1 339.7 1671.6 337.2 1670.1 334.7 1668.6 332.2 1667.1 329.7 1665.6 327.2 1664.1 324.7 1662.6 322.2 1661.1 319.7 1659.6 317.2 1658.1 314.7 1656.6 312.2 1656.0 309.7 1655.6 307.2 1655.1 304.7 1654.6 302.2 1654.1 299.7 1653.6 297.2 1654.1 294.7 1654.6 292.2 1655.1 289.7 1655.6 287.2 1656.1 284.7 1656.6 282.2 1657.3 279.7 1658.0 277.2 1658.7 274.7 1659.4 272.2 1660.1 269.7 1660.9 267.2 1661.6 264.7 1662.3 262.2 1664.2 259.7 1666.4 257.2 1668.6 254.7 1670.8 252.2 1673.0 249.7 1675.1 247.2 1677.3 244.7 1679.5 242.2 1681.7 239.7 1683.0 237.2 1683.0 234.7 1683.0 232.2 1683.0 229.7 1683.0 227.2 1683.0 224.7 1683.9 222.2 1685.7 219.7 1687.4 217.2 1689.2 214.7 1690.9 212.2 1692.7 209.7 1694.4 207.2 1696.2 204.7 1697.9 202.2 1699.7 199.7 1701.5 197.2 1703.2 194.7 1706.7 192.2 1710.9 189.7 1715.0 187.2 1718.9 184.7 1721.4 182.2 1723.9 179.7 1726.4 177.2 1728.8 174.7 1731.3 172.2 1733.8 169.7 1736.3 167.2 1738.8 164.7 1743.9 162.2 1749.3 159.7 1754.7 157.2 1758.1 154.7 1757.5 152.2 1756.8 149.7 1756.2 147.2 1755.5 144.7 1757.2 142.2 1760.1 139.7 1763.0 137.2 1765.9 134.7 1768.9 132.2 1771.8 129.7 1774.7 127.2 1775.9 124.7 1775.7 122.2 1775.5 119.7 1775.4 117.2 1775.2 114.7 1775.0 112.2 1774.8 109.7 1774.6Z" fill="#ebebeb"/>
<g fill="none" stroke="#d9d9d9" stroke-width="3.0">
<path d="M109.7 1481.4l5 -1.4 5 0.4 5 0.2 5 1.6 5 4 5 6.1 5 6 5 2.1 5 -1.4 5 2.3 5 10.5 5 8.7 5 4.2 5 5.3 5 4.8 5 5.6 5 9.6 5 5 5 3.6 5 3.4 5 3.5 5 3.4 5 3.7 5 0.2 5 1.1 5 -0.4 5 2.7 5 5.6 5 3.1 5 5.1 5 4.1 5 0.9 5 1.5 5 1.6 5 0.5 5 1.1 5 0.7 5 1.5 5 0.3 5 -1.2 5 -0.7 5 -3.9 5 -3 5 -2.1 5 -3.7 5 -3.5 5 -2.4 5 -3.9 5 -3.2 5 -3 5 -4.9 5 -2.4 5 -3.4 5 -1.6 5 -3.7 5 -0.6 5 -3.6 5 -1.5 5 -1.6 5 -2.1 5 1.5 5 -0.5 5 0.5 5 1.2 5 -0.7 5 1.9 5 1.5 5 0.7 5 0.8 5 -0.4 5 1.4 5 -0 5 2.6 5 0.3 5 2.4 5 1.7 5 1 5 -0.1 5 2.2 5 0.5 5 0.9 5 0.8 5 -1.8 5 -4.4 5 5.1 5 4.4 5 3.3 5 0.9 5 3.2 5 1.4 5 1.9 5 1 5 -2.6 5 -1.7 5 5.2 5 5 5 5.1 5 1.1 5 1.4 5 -0.7 5 1.7 5 1.5 5 0.9 5 -5.6 5 -11.9 5 2 5 -26.6 5 15.2 5 9.6 5 -25.4 5 13.5 5 10.6 5 -13.2 5 2.4 5 12.9 5 -6.6 5 -8.1 5 11 5 4.3 5 -2.2 5 -2.9 5 2.3 5 -1.4 5 -3 5 7.7 5 -0.9 5 -0.3 5 1.3 5 -1.6 5 0.2 5 0.2 5 1.2 5 -0.6 5 0.8 5 -1.2 5 1.2 5 -0.2 5 -0.3 5 0.2 5 0.6 5 -0 5 -1.2 5 -1.8 5 0.2 5 -0.5 5 -1.3 5 -0.2 5 -0.9 5 0.7 5 -0 5 -0.5 5 -0.5 5 0.4 5 0.5 5 -0.1 5 -0.9 5 0.1 5 -2.6 5 -0.9 5 -2.8 5 -2 5 -0.9 5 -2 5 -1.1 5 -3.7 5 -0.1 5 -2.2 5 -2.3 5 0.6 5 -1.3 5 -2.7 5 -4.7 5 1.1 5 -0.5 5 1.4 5 5.9 5 5.9 5 7.5 5 5.8 5 3.1 5 6.4 5 2.5 5 1.1 5 3 5 3.2 5 4 5 4.2 5 4.9 5 4.1 5 4.7 5 4.2 5 2.7 5 4.4 5 2.8 5 1.1 5 3.8 5 0.8 5 1.3 5 1.7 5 1.8 5 -1.6 5 0.3 3.4 0.4"/>
<path d="M109.7 1490.2l5 -1.4 5 0.5 5 0.2 5 1.5 5 3.7 5 5.7 5 5.6 5 2.1 5 -1.3 5 2.1 5 9.9 5 8.2 5 3.9 5 5 5 4.5 5 5.2 5 9.1 5 4.6 5 3.4 5 3.3 5 3.3 5 3.1 5 3.6 5 0.1 5 1.1 5 -0.5 5 2.6 5 5.3 5 2.8 5 4.9 5 3.9 5 0.7 5 1.4 5 1.5 5 0.5 5 1.1 5 0.6 5 1.4 5 0.4 5 -1.2 5 -0.7 5 -3.6 5 -2.9 5 -1.9 5 -3.5 5 -3.3 5 -2.3 5 -3.6 5 -3 5 -2.8 5 -4.7 5 -2.2 5 -3.1 5 -1.6 5 -3.5 5 -0.5 5 -3.5 5 -1.3 5 -1.5 5 -2.1 5 1.5 5 -0.5 5 0.5 5 1.2 5 -0.7 5 1.8 5 1.4 5 0.7 5 0.7 5 -0.5 5 1.5 5 -0.2 5 2.6 5 0.2 5 2.3 5 1.6 5 1 5 -0.2 5 2.2 5 0.3 5 0.9 5 0.7 5 -1.6 5 -4.2 5 4.9 5 4.2 5 2.9 5 0.8 5 3.1 5 1.3 5 1.8 5 1 5 -2.5 5 -1.6 5 4.9 5 4.6 5 4.9 5 1.1 5 1.3 5 -0.8 5 1.7 5 1.4 5 0.9 5 -5.4 5 -11.1 5 1.9 5 -25 5 14.2 5 9.1 5 -23.9 5 12.7 5 10 5 -12.4 5 2.2 5 12.1 5 -6.1 5 -7.7 5 10.3 5 4.1 5 -2.1 5 -2.6 5 2 5 -1.3 5 -2.8 5 7.2 5 -0.7 5 -0.4 5 1.4 5 -1.6 5 0.1 5 0.2 5 1.2 5 -0.6 5 0.8 5 -1.2 5 1.2 5 -0.2 5 -0.4 5 0.3 5 0.6 5 -0 5 -1.2 5 -1.7 5 0.2 5 -0.4 5 -1.3 5 -0.1 5 -1 5 0.8 5 -0.1 5 -0.4 5 -0.5 5 0.4 5 0.5 5 -0.1 5 -0.8 5 0.1 5 -2.6 5 -0.8 5 -2.7 5 -1.8 5 -0.8 5 -1.9 5 -1 5 -3.6 5 -0 5 -2.1 5 -2.2 5 0.7 5 -1.2 5 -2.6 5 -4.6 5 1.2 5 -0.5 5 1.4 5 5.5 5 5.5 5 7.1 5 5.4 5 2.8 5 6.2 5 2.3 5 0.9 5 3 5 3 5 3.7 5 3.9 5 4.7 5 8.7 5 8.7 5 6.6 5 4.5 5 6.1 5 4.5 5 1.7 5 4.2 5 1.3 5 1.8 5 1.5 5 1.6 5 -1.6 5 0.2 3.4 0.4"/>
<path d="M109.7 1515.7l5 -1.3 5 0.5 5 0.3 5 1.3 5 2.7 5 4.7 5 4.6 5 1.9 5 -1.1 5 1.6 5 8 5 6.9 5 3.1 5 4.1 5 3.6 5 4.2 5 7.6 5 3.7 5 2.8 5 2.7 5 2.6 5 2.6 5 2.9 5 -0 5 1.1 5 -0.5 5 2 5 4.6 5 2 5 4.1 5 3.2 5 0.4 5 1.2 5 1.3 5 0.2 5 0.9 5 0.4 5 1.3 5 0.5 5 -1 5 -0.4 5 -3.2 5 -2.3 5 -1.4 5 -3 5 -2.8 5 -1.7 5 -3.1 5 -2.4 5 -2.1 5 -4.1 5 -1.6 5 -2.6 5 -1.1 5 -3.1 5 -0.1 5 -3.2 5 -0.9 5 -1.3 5 -1.9 5 1.6 5 -0.5 5 0.3 5 1.1 5 -0.9 5 1.7 5 1.3 5 0.5 5 0.6 5 -0.6 5 1.2 5 -0.3 5 2.4 5 -0 5 2.1 5 1.4 5 0.7 5 -0.4 5 2 5 0.2 5 0.7 5 0.5 5 -1.2 5 -3.7 5 4.3 5 3.4 5 2.3 5 0.5 5 2.8 5 0.9 5 1.5 5 0.8 5 -2.1 5 -1.3 5 4 5 3.7 5 4.4 5 0.8 5 1.1 5 -1 5 1.4 5 1.3 5 0.8 5 -4.7 5 -8.7 5 1.4 5 -20.4 5 11.3 5 7.8 5 -19.5 5 10.4 5 8.1 5 -10 5 1.6 5 9.9 5 -4.9 5 -6.3 5 8.2 5 3.3 5 -1.6 5 -2 5 1.5 5 -1.1 5 -2.2 5 5.7 5 -0.4 5 -0.4 5 1.4 5 -1.6 5 0.1 5 0.1 5 1.2 5 -0.6 5 0.8 5 -1.2 5 1.2 5 -0.2 5 -0.4 5 0.3 5 0.5 5 0.1 5 -1 5 -1.6 5 0.3 5 -0.3 5 -1.1 5 -0.1 5 -0.9 5 0.8 5 -0 5 -0.5 5 -0.4 5 0.4 5 0.5 5 -0.1 5 -0.8 5 0.1 5 -2.2 5 -0.5 5 -2.4 5 -1.5 5 -0.4 5 -1.6 5 -0.7 5 -3.3 5 0.3 5 -1.8 5 -2 5 0.9 5 -0.9 5 -2.2 5 -4 5 1.1 5 -0.4 5 1.1 5 4.5 5 4.4 5 6.1 5 4.4 5 1.9 5 5.3 5 1.7 5 0.8 5 2.6 5 2.3 5 3.1 5 3.2 5 4 5 12.2 5 11.8 5 8 5 5.6 5 7.1 5 5.7 5 1.8 5 4.4 5 1.6 5 2.1 5 1.1 5 1.5 5 -1.5 5 0.2 3.4 0.4"/>
<path d="M109.7 1554.7l5 -1.2 5 0.6 5 0.4 5 1 5 1.1 5 3.2 5 3.1 5 1.6 5 -0.8 5 0.9 5 5.2 5 4.8 5 1.7 5 2.9 5 2.3 5 2.4 5 5.5 5 2.3 5 1.8 5 1.7 5 1.8 5 1.6 5 2 5 -0.3 5 1.1 5 -0.5 5 1.1 5 3.4 5 0.9 5 2.9 5 2.1 5 0.1 5 0.8 5 0.9 5 -0.2 5 0.6 5 0.2 5 1 5 0.8 5 -0.8 5 -0.1 5 -2.4 5 -1.5 5 -0.6 5 -2.2 5 -2 5 -0.9 5 -2.1 5 -1.5 5 -1.2 5 -3.1 5 -0.7 5 -1.7 5 -0.6 5 -2.5 5 0.5 5 -2.5 5 -0.4 5 -0.8 5 -1.9 5 1.8 5 -0.5 5 0.1 5 0.9 5 -1.1 5 1.6 5 1 5 0.3 5 0.3 5 -0.9 5 1 5 -0.6 5 2.1 5 -0.3 5 1.9 5 1 5 0.4 5 -0.7 5 1.6 5 -0.1 5 0.4 5 0.3 5 -0.6 5 -2.8 5 3.3 5 2.3 5 1.2 5 -0 5 2.3 5 0.4 5 1 5 0.7 5 -1.7 5 -0.7 5 2.6 5 2.2 5 3.5 5 0.5 5 0.8 5 -1.4 5 1.1 5 1.1 5 0.7 5 -3.6 5 -5.3 5 0.9 5 -13.3 5 6.9 5 5.5 5 -12.6 5 6.8 5 5.4 5 -6.5 5 0.6 5 6.6 5 -2.9 5 -4.2 5 5 5 1.9 5 -0.8 5 -0.9 5 0.7 5 -1 5 -1.2 5 3.5 5 -0 5 -0.4 5 1.4 5 -1.7 5 0.1 5 0.2 5 1.2 5 -0.7 5 0.8 5 -1.2 5 1.2 5 -0.2 5 -0.5 5 0.3 5 0.5 5 0.2 5 -0.8 5 -1.4 5 0.5 5 -0.1 5 -0.9 5 0 5 -0.8 5 0.7 5 0.1 5 -0.4 5 -0.4 5 0.4 5 0.6 5 -0.1 5 -0.8 5 0.2 5 -1.9 5 0 5 -1.8 5 -1 5 0 5 -1 5 -0.2 5 -2.8 5 0.6 5 -1.4 5 -1.5 5 1.2 5 -0.5 5 -1.6 5 -3.2 5 1.1 5 -0.4 5 0.9 5 2.8 5 2.8 5 4.4 5 3 5 0.5 5 3.9 5 0.9 5 0.4 5 2.3 5 1.2 5 2 5 2.2 5 3 5 14.1 5 13.5 5 8.5 5 5.8 5 7.2 5 6.2 5 1.7 5 4.1 5 1.6 5 2 5 0.9 5 1.4 5 -1.5 5 0.4 3.4 0.5"/>
<path d="M109.7 1602.5l5 -1.1 5 0.7 5 0.5 5 0.8 5 -0.8 5 1.3 5 1.1 5 1.3 5 -0.4 5 0 5 1.6 5 2.4 5 0.1 5 1.2 5 0.7 5 0.4 5 2.7 5 0.6 5 0.7 5 0.6 5 0.6 5 0.4 5 0.9 5 -0.6 5 1.1 5 -0.5 5 -0.1 5 2 5 -0.5 5 1.5 5 0.7 5 -0.3 5 0.3 5 0.4 5 -0.6 5 0.3 5 -0.2 5 0.7 5 1.1 5 -0.4 5 0.2 5 -1.4 5 -0.6 5 0.4 5 -1.2 5 -1.1 5 0.2 5 -1 5 -0.3 5 -0.1 5 -1.9 5 0.4 5 -0.6 5 0.2 5 -1.9 5 1.3 5 -1.9 5 0.5 5 -0.4 5 -1.6 5 1.9 5 -0.5 5 -0.1 5 0.6 5 -1.3 5 1.3 5 0.8 5 -0 5 -0 5 -1.3 5 0.7 5 -0.9 5 1.8 5 -0.7 5 1.4 5 0.7 5 -0.1 5 -1.1 5 1.2 5 -0.4 5 0.1 5 -0.1 5 0.1 5 -1.7 5 2.1 5 1 5 -0.1 5 -0.6 5 1.6 5 -0.1 5 0.4 5 0.4 5 -1.1 5 -0.1 5 1 5 0.4 5 2.4 5 0.1 5 0.4 5 -1.8 5 0.7 5 0.7 5 0.8 5 -2.3 5 -1.1 5 0.2 5 -4.7 5 1.5 5 2.9 5 -4.4 5 2.5 5 2 5 -2.1 5 -0.5 5 2.4 5 -0.5 5 -1.7 5 1.2 5 0.4 5 0 5 0.4 5 -0.3 5 -0.7 5 -0.1 5 0.7 5 0.6 5 -0.3 5 1.3 5 -1.7 5 0.1 5 0.1 5 1.2 5 -0.7 5 0.7 5 -1.1 5 1.1 5 -0.2 5 -0.5 5 0.2 5 0.5 5 0.4 5 -0.6 5 -1.1 5 0.7 5 0.2 5 -0.7 5 0.2 5 -0.8 5 0.8 5 0.1 5 -0.4 5 -0.4 5 0.5 5 0.6 5 0 5 -0.7 5 0.2 5 -1.5 5 0.7 5 -1.2 5 -0.4 5 0.7 5 -0.4 5 0.4 5 -2.2 5 1 5 -0.9 5 -1 5 1.7 5 -0 5 -0.9 5 -2.2 5 1.1 5 -0.4 5 0.7 5 0.7 5 0.8 5 2.4 5 1.1 5 -1.2 5 2.2 5 -0 5 -0 5 1.7 5 -0.1 5 0.7 5 1 5 1.6 5 14.5 5 13.5 5 7.9 5 5 5 6.5 5 6.1 5 1.1 5 3.6 5 1.3 5 1.8 5 0.5 5 1.3 5 -1.2 5 0.6 3.4 0.5"/>
<path d="M109.7 1653.4l5 -1 5 0.9 5 0.6 5 0.4 5 -2.8 5 -0.8 5 -0.9 5 0.9 5 0.2 5 -1 5 -2.1 5 -0.3 5 -1.6 5 -0.6 5 -1 5 -1.8 5 -0.2 5 -1.2 5 -0.5 5 -0.7 5 -0.6 5 -0.8 5 -0.3 5 -0.9 5 1.1 5 -0.5 5 -1.3 5 0.5 5 -2.1 5 0 5 -0.7 5 -0.9 5 -0.1 5 -0.1 5 -1.1 5 -0.1 5 -0.5 5 0.4 5 1.4 5 -0.1 5 0.6 5 -0.4 5 0.5 5 1.5 5 -0.2 5 -0 5 1.2 5 0.2 5 1 5 1.1 5 -0.7 5 1.7 5 0.4 5 1 5 -1.1 5 2 5 -1 5 1.1 5 0.3 5 -1.5 5 2.1 5 -0.5 5 -0.4 5 0.4 5 -1.6 5 1 5 0.6 5 -0.3 5 -0.4 5 -1.6 5 0.3 5 -1.2 5 1.5 5 -1.1 5 1 5 0.2 5 -0.5 5 -1.5 5 0.7 5 -0.8 5 -0.2 5 -0.4 5 0.8 5 -0.5 5 0.8 5 -0.4 5 -1.5 5 -1.3 5 1 5 -0.8 5 -0.3 5 0.2 5 -0.4 5 0.5 5 -0.7 5 -1.6 5 1.4 5 -0.4 5 -0.1 5 -2.2 5 0.2 5 0.5 5 0.7 5 -1 5 3.6 5 -0.6 5 4.5 5 -4.2 5 -0.1 5 4.6 5 -2.2 5 -1.6 5 2.5 5 -1.7 5 -1.9 5 2 5 1 5 -3 5 -1.3 5 1.1 5 1.8 5 -1.5 5 -0.3 5 1.1 5 -2.2 5 1.1 5 -0.3 5 1.3 5 -1.7 5 0.1 5 0.1 5 1.1 5 -0.7 5 0.7 5 -1.2 5 1.1 5 -0.2 5 -0.5 5 0.2 5 0.5 5 0.5 5 -0.3 5 -0.9 5 1 5 0.4 5 -0.4 5 0.3 5 -0.8 5 0.9 5 0.1 5 -0.3 5 -0.3 5 0.5 5 0.7 5 -0 5 -0.7 5 0.3 5 -1 5 1.4 5 -0.6 5 0.3 5 1.3 5 0.3 5 1.1 5 -1.7 5 1.6 5 -0.4 5 -0.5 5 2.3 5 0.4 5 -0.1 5 -1.1 5 1.1 5 -0.4 5 0.3 5 -1.3 5 -1.5 5 0.3 5 -0.9 5 -2.9 5 0.4 5 -1.1 5 -0.5 5 1.2 5 -1.4 5 -0.7 5 -0.4 5 0.3 5 13 5 11.9 5 6.3 5 3.5 5 5.1 5 5.2 5 0.2 5 2.7 5 0.8 5 1.3 5 0.2 5 1.4 5 -1.1 5 0.9 3.4 0.7"/>
<path d="M109.7 1701.3l5 -0.9 5 1 5 0.8 5 0 5 -4.7 5 -2.7 5 -2.8 5 0.6 5 0.5 5 -1.8 5 -5.6 5 -2.8 5 -3.2 5 -2.2 5 -2.7 5 -3.9 5 -2.9 5 -2.9 5 -1.7 5 -1.8 5 -1.7 5 -1.9 5 -1.5 5 -1.2 5 1.1 5 -0.5 5 -2.4 5 -1 5 -3.5 5 -1.4 5 -2.1 5 -1.3 5 -0.6 5 -0.6 5 -1.6 5 -0.3 5 -0.8 5 -0 5 1.8 5 0.2 5 0.9 5 0.6 5 1.5 5 2.4 5 0.8 5 1 5 2.2 5 1.4 5 2 5 2.4 5 0.4 5 2.8 5 1.5 5 1.7 5 -0.4 5 2.8 5 -0.4 5 2 5 0.7 5 -1.3 5 2.3 5 -0.5 5 -0.6 5 0.1 5 -1.8 5 0.7 5 0.3 5 -0.5 5 -0.7 5 -1.9 5 -0.1 5 -1.5 5 1.1 5 -1.4 5 0.5 5 -0.2 5 -0.8 5 -2 5 0.4 5 -1.2 5 -0.5 5 -0.8 5 1.6 5 0.6 5 -0.4 5 -1.8 5 -2.8 5 -2 5 0.5 5 -1.5 5 -0.8 5 -0 5 0.1 5 1.1 5 -2.4 5 -3.3 5 0.3 5 -0.8 5 -0.5 5 -2.6 5 -0.2 5 0.2 5 0.6 5 0.4 5 7.8 5 -1.3 5 13.1 5 -9.6 5 -2.7 5 12.9 5 -6.6 5 -4.9 5 6.8 5 -2.8 5 -6.1 5 4.4 5 3.6 5 -6.9 5 -2.8 5 1.9 5 3.1 5 -2.5 5 -0 5 2.2 5 -5 5 1.7 5 -0.3 5 1.3 5 -1.7 5 0 5 0.1 5 1.1 5 -0.7 5 0.7 5 -1.2 5 1 5 -0.2 5 -0.5 5 0.2 5 0.4 5 0.6 5 -0 5 -0.6 5 1.2 5 0.7 5 -0.2 5 0.5 5 -0.7 5 0.9 5 0.1 5 -0.3 5 -0.2 5 0.6 5 0.6 5 0.1 5 -0.6 5 0.2 5 -0.4 5 1.9 5 0.1 5 0.9 5 2 5 0.9 5 1.7 5 -1.1 5 2.1 5 0.1 5 -0.1 5 2.8 5 0.9 5 0.6 5 -0.1 5 1.1 5 -0.4 5 0 5 -3.3 5 -3.5 5 -1.7 5 -2.7 5 -4.7 5 -1.3 5 -2.1 5 -0.8 5 0.6 5 -2.7 5 -1.9 5 -1.8 5 -0.9 5 10 5 8.9 5 3.9 5 1.2 5 3.1 5 3.7 5 -0.8 5 1.8 5 0.1 5 0.6 5 -0.1 5 1.4 5 -0.8 5 1.1 3.4 1"/>
<path d="M109.7 1740.3l5 -0.8 5 1.1 5 0.9 5 -0.3 5 -6.2 5 -4.3 5 -4.3 5 0.3 5 0.9 5 -2.7 5 -8.4 5 -4.8 5 -4.6 5 -3.4 5 -4 5 -5.6 5 -5.1 5 -4.4 5 -2.6 5 -2.7 5 -2.7 5 -2.8 5 -2.5 5 -1.4 5 1.1 5 -0.5 5 -3.3 5 -2.1 5 -4.7 5 -2.6 5 -3.2 5 -1.6 5 -1.1 5 -0.9 5 -2 5 -0.6 5 -1.1 5 -0.2 5 2 5 0.5 5 1.2 5 1.4 5 2.3 5 3.2 5 1.6 5 1.8 5 3 5 2.3 5 3 5 3.3 5 1.3 5 3.8 5 2.4 5 2.2 5 0.3 5 3.3 5 0.3 5 2.5 5 1.2 5 -1.2 5 2.4 5 -0.5 5 -0.8 5 -0.1 5 -2 5 0.5 5 0.2 5 -0.8 5 -1 5 -2.2 5 -0.3 5 -1.8 5 0.9 5 -1.8 5 0.3 5 -0.6 5 -1.2 5 -2.3 5 0.1 5 -1.5 5 -0.8 5 -1 5 2.2 5 1.4 5 -1.3 5 -2.9 5 -3.9 5 -2.4 5 -0.1 5 -2 5 -1.3 5 -0.2 5 0.7 5 1.6 5 -3.8 5 -4.8 5 -0.5 5 -1.2 5 -0.8 5 -3 5 -0.5 5 -0.1 5 0.6 5 1.5 5 11.3 5 -1.9 5 20.2 5 -14.1 5 -4.8 5 19.6 5 -10.1 5 -7.7 5 10.4 5 -3.7 5 -9.5 5 6.4 5 5.7 5 -10.1 5 -4.2 5 2.7 5 4.2 5 -3.4 5 0.3 5 3.1 5 -7.2 5 2.1 5 -0.2 5 1.2 5 -1.7 5 0 5 0.1 5 1 5 -0.7 5 0.7 5 -1.3 5 1.1 5 -0.3 5 -0.5 5 0.1 5 0.5 5 0.7 5 0.2 5 -0.5 5 1.5 5 0.9 5 0 5 0.6 5 -0.7 5 0.9 5 0.2 5 -0.2 5 -0.3 5 0.7 5 0.7 5 0.1 5 -0.6 5 0.3 5 -0.1 5 2.5 5 0.5 5 1.5 5 2.4 5 1.4 5 2.3 5 -0.7 5 2.5 5 0.5 5 0.3 5 3.2 5 1.3 5 1.2 5 0.7 5 1.1 5 -0.4 5 -0.2 5 -5 5 -5.1 5 -3.4 5 -4.2 5 -6 5 -2.7 5 -2.9 5 -1.2 5 0.2 5 -3.7 5 -3 5 -2.8 5 -2 5 5.9 5 4.8 5 0.9 5 -1.4 5 0.8 5 1.9 5 -2 5 0.8 5 -0.7 5 -0.2 5 -0.2 5 1.5 5 -0.5 5 1.3 3.4 1.1"/>
<path d="M109.7 1765.8l5 -0.7 5 1.2 5 0.8 5 -0.3 5 -7.3 5 -5.3 5 -5.4 5 0.2 5 1.1 5 -3.1 5 -10.3 5 -6.1 5 -5.5 5 -4.3 5 -4.9 5 -6.7 5 -6.5 5 -5.3 5 -3.2 5 -3.3 5 -3.3 5 -3.5 5 -3 5 -1.6 5 1.1 5 -0.5 5 -4 5 -2.8 5 -5.4 5 -3.4 5 -3.9 5 -1.9 5 -1.3 5 -1.1 5 -2.3 5 -0.8 5 -1.2 5 -0.5 5 2.3 5 0.6 5 1.4 5 1.9 5 2.8 5 3.8 5 2.1 5 2.3 5 3.5 5 3 5 3.6 5 3.9 5 1.9 5 4.4 5 2.9 5 2.7 5 0.6 5 3.7 5 0.7 5 2.9 5 1.5 5 -1.1 5 2.4 5 -0.4 5 -1 5 -0.2 5 -2.1 5 0.4 5 -0 5 -1 5 -1.1 5 -2.4 5 -0.4 5 -2 5 0.7 5 -2 5 0 5 -0.7 5 -1.4 5 -2.5 5 -0.2 5 -1.6 5 -1 5 -1.2 5 2.5 5 2.1 5 -2 5 -3.6 5 -4.6 5 -2.8 5 -0.4 5 -2.3 5 -1.7 5 -0.2 5 1 5 1.9 5 -4.7 5 -5.7 5 -1.1 5 -1.4 5 -1 5 -3.3 5 -0.7 5 -0.2 5 0.6 5 2.1 5 13.6 5 -2.3 5 24.8 5 -16.9 5 -6.3 5 24.1 5 -12.5 5 -9.5 5 12.8 5 -4.4 5 -11.6 5 7.6 5 7.1 5 -12.2 5 -5 5 3.2 5 4.9 5 -3.9 5 0.3 5 3.7 5 -8.6 5 2.4 5 -0.2 5 1.2 5 -1.7 5 -0 5 0 5 1.1 5 -0.8 5 0.7 5 -1.3 5 1.1 5 -0.3 5 -0.5 5 0.1 5 0.4 5 0.9 5 0.2 5 -0.3 5 1.6 5 1 5 0.2 5 0.7 5 -0.7 5 0.9 5 0.3 5 -0.3 5 -0.2 5 0.7 5 0.7 5 0.1 5 -0.6 5 0.4 5 0.2 5 2.8 5 0.8 5 1.8 5 2.8 5 1.7 5 2.6 5 -0.3 5 2.7 5 0.7 5 0.6 5 3.5 5 1.5 5 1.6 5 1.2 5 1.2 5 -0.5 5 -0.3 5 -6.1 5 -6.2 5 -4.4 5 -5.2 5 -6.9 5 -3.6 5 -3.4 5 -1.4 5 -0.1 5 -4.4 5 -3.7 5 -3.5 5 -2.7 5 1 5 0.1 5 -2.1 5 -4.1 5 -1.6 5 -0.2 5 -3 5 -0.1 5 -1.5 5 -1 5 -0.2 5 1.6 5 -0.3 5 1.5 3.4 1.2"/>
<path d="M109.7 1774.6l5 -0.7 5 1.2 5 0.9 5 -0.4 5 -7.7 5 -5.6 5 -5.7 5 0.1 5 1.2 5 -3.3 5 -11 5 -6.5 5 -5.8 5 -4.6 5 -5.2 5 -7.1 5 -7 5 -5.6 5 -3.4 5 -3.5 5 -3.6 5 -3.6 5 -3.3 5 -1.6 5 1.1 5 -0.5 5 -4.2 5 -3.1 5 -5.7 5 -3.6 5 -4.1 5 -2.1 5 -1.3 5 -1.3 5 -2.3 5 -0.9 5 -1.3 5 -0.5 5 2.3 5 0.7 5 1.5 5 2.1 5 3 5 3.9 5 2.3 5 2.5 5 3.7 5 3.2 5 3.8 5 4.1 5 2.1 5 4.6 5 3.2 5 2.7 5 0.8 5 3.9 5 0.7 5 3.1 5 1.6 5 -1.1 5 2.5 5 -0.5 5 -1 5 -0.2 5 -2.2 5 0.4 5 -0.1 5 -1 5 -1.2 5 -2.4 5 -0.5 5 -2.1 5 0.6 5 -2 5 -0 5 -0.8 5 -1.5 5 -2.6 5 -0.3 5 -1.7 5 -1 5 -1.3 5 2.7 5 2.2 5 -2.2 5 -3.8 5 -4.9 5 -2.8 5 -0.6 5 -2.3 5 -1.8 5 -0.3 5 1.1 5 2 5 -5 5 -6 5 -1.4 5 -1.4 5 -1.1 5 -3.3 5 -0.8 5 -0.3 5 0.6 5 2.3 5 14.4 5 -2.4 5 26.4 5 -17.9 5 -6.8 5 25.6 5 -13.2 5 -10.2 5 13.6 5 -4.6 5 -12.3 5 8 5 7.5 5 -12.8 5 -5.3 5 3.3 5 5.1 5 -4.1 5 0.5 5 3.9 5 -9.2 5 2.6 5 -0.3 5 1.2 5 -1.7 5 -0 5 0 5 1.1 5 -0.8 5 0.7 5 -1.3 5 1.1 5 -0.3 5 -0.6 5 0.2 5 0.4 5 0.9 5 0.3 5 -0.3 5 1.7 5 1 5 0.2 5 0.7 5 -0.7 5 1 5 0.2 5 -0.2 5 -0.2 5 0.7 5 0.7 5 0.1 5 -0.5 5 0.3 5 0.3 5 2.9 5 1 5 1.9 5 2.9 5 1.8 5 2.7 5 -0.2 5 2.8 5 0.8 5 0.7 5 3.5 5 1.7 5 1.7 5 1.4 5 1.1 5 -0.4 5 -0.3 5 -6.5 5 -6.6 5 -4.8 5 -5.5 5 -7.3 5 -3.9 5 -3.6 5 -1.4 5 -0.3 5 -4.6 5 -3.9 5 -3.7 5 -2.9 5 -4 5 -4.6 5 -4.9 5 -6.6 5 -3.8 5 -2.2 5 -3.8 5 -0.8 5 -2.3 5 -1.6 5 -0.1 5 1.7 5 -0.2 5 1.7 3.4 1.3"/>
<path d="M109.7 1765.8l5 -0.7 5 1.2 5 0.8 5 -0.3 5 -7.3 5 -5.3 5 -5.4 5 0.2 5 1.1 5 -3.1 5 -10.3 5 -6.1 5 -5.5 5 -4.3 5 -4.9 5 -6.7 5 -6.5 5 -5.3 5 -3.2 5 -3.3 5 -3.3 5 -3.5 5 -3 5 -1.6 5 1.1 5 -0.5 5 -4 5 -2.8 5 -5.4 5 -3.4 5 -3.9 5 -1.9 5 -1.3 5 -1.1 5 -2.3 5 -0.8 5 -1.2 5 -0.5 5 2.3 5 0.6 5 1.4 5 1.9 5 2.8 5 3.8 5 2.1 5 2.3 5 3.5 5 3 5 3.6 5 3.9 5 1.9 5 4.4 5 2.9 5 2.7 5 0.6 5 3.7 5 0.7 5 2.9 5 1.5 5 -1.1 5 2.4 5 -0.4 5 -1 5 -0.2 5 -2.1 5 0.4 5 -0 5 -1 5 -1.1 5 -2.4 5 -0.4 5 -2 5 0.7 5 -2 5 0 5 -0.7 5 -1.4 5 -2.5 5 -0.2 5 -1.6 5 -1 5 -1.2 5 2.5 5 2.1 5 -2 5 -3.6 5 -4.6 5 -2.8 5 -0.4 5 -2.3 5 -1.7 5 -0.2 5 1 5 1.9 5 -4.7 5 -5.7 5 -1.1 5 -1.4 5 -1 5 -3.3 5 -0.7 5 -0.2 5 0.6 5 2.1 5 13.6 5 -2.3 5 24.8 5 -16.9 5 -6.3 5 24.1 5 -12.5 5 -9.5 5 12.8 5 -4.4 5 -11.6 5 7.6 5 7.1 5 -12.2 5 -5 5 3.2 5 4.9 5 -3.9 5 0.3 5 3.7 5 -8.6 5 2.4 5 -0.2 5 1.2 5 -1.7 5 -0 5 0 5 1.1 5 -0.8 5 0.7 5 -1.3 5 1.1 5 -0.3 5 -0.5 5 0.1 5 0.4 5 0.9 5 0.2 5 -0.3 5 1.6 5 1 5 0.2 5 0.7 5 -0.7 5 0.9 5 0.3 5 -0.3 5 -0.2 5 0.7 5 0.7 5 0.1 5 -0.6 5 0.4 5 0.2 5 2.8 5 0.8 5 1.8 5 2.8 5 1.7 5 2.6 5 -0.3 5 2.7 5 0.7 5 0.6 5 3.5 5 1.5 5 1.6 5 1.2 5 1.2 5 -0.5 5 -0.3 5 -6.1 5 -6.2 5 -4.4 5 -5.2 5 -6.9 5 -3.6 5 -3.4 5 -1.4 5 -0.1 5 -4.4 5 -3.7 5 -3.5 5 -2.7 5 -8.5 5 -8.7 5 -7.2 5 -8.4 5 -5.5 5 -3.9 5 -4.3 5 -1.3 5 -2.8 5 -2.1 5 0.1 5 1.8 5 -0.1 5 1.7 3.4 1.4"/>
<path d="M109.7 1740.3l5 -0.8 5 1.1 5 0.9 5 -0.3 5 -6.2 5 -4.3 5 -4.3 5 0.3 5 0.9 5 -2.7 5 -8.4 5 -4.8 5 -4.6 5 -3.4 5 -4 5 -5.6 5 -5.1 5 -4.4 5 -2.6 5 -2.7 5 -2.7 5 -2.8 5 -2.5 5 -1.4 5 1.1 5 -0.5 5 -3.3 5 -2.1 5 -4.7 5 -2.6 5 -3.2 5 -1.6 5 -1.1 5 -0.9 5 -2 5 -0.6 5 -1.1 5 -0.2 5 2 5 0.5 5 1.2 5 1.4 5 2.3 5 3.2 5 1.6 5 1.8 5 3 5 2.3 5 3 5 3.3 5 1.3 5 3.8 5 2.4 5 2.2 5 0.3 5 3.3 5 0.3 5 2.5 5 1.2 5 -1.2 5 2.4 5 -0.5 5 -0.8 5 -0.1 5 -2 5 0.5 5 0.2 5 -0.8 5 -1 5 -2.2 5 -0.3 5 -1.8 5 0.9 5 -1.8 5 0.3 5 -0.6 5 -1.2 5 -2.3 5 0.1 5 -1.5 5 -0.8 5 -1 5 2.2 5 1.4 5 -1.3 5 -2.9 5 -3.9 5 -2.4 5 -0.1 5 -2 5 -1.3 5 -0.2 5 0.7 5 1.6 5 -3.8 5 -4.8 5 -0.5 5 -1.2 5 -0.8 5 -3 5 -0.5 5 -0.1 5 0.6 5 1.5 5 11.3 5 -1.9 5 20.2 5 -14.1 5 -4.8 5 19.6 5 -10.1 5 -7.7 5 10.4 5 -3.7 5 -9.5 5 6.4 5 5.7 5 -10.1 5 -4.2 5 2.7 5 4.2 5 -3.4 5 0.3 5 3.1 5 -7.2 5 2.1 5 -0.2 5 1.2 5 -1.7 5 0 5 0.1 5 1 5 -0.7 5 0.7 5 -1.3 5 1.1 5 -0.3 5 -0.5 5 0.1 5 0.5 5 0.7 5 0.2 5 -0.5 5 1.5 5 0.9 5 0 5 0.6 5 -0.7 5 0.9 5 0.2 5 -0.2 5 -0.3 5 0.7 5 0.7 5 0.1 5 -0.6 5 0.3 5 -0.1 5 2.5 5 0.5 5 1.5 5 2.4 5 1.4 5 2.3 5 -0.7 5 2.5 5 0.5 5 0.3 5 3.2 5 1.3 5 1.2 5 0.7 5 1.1 5 -0.4 5 -0.2 5 -5 5 -5.1 5 -3.4 5 -4.2 5 -6 5 -2.7 5 -2.9 5 -1.2 5 0.2 5 -3.7 5 -3 5 -2.8 5 -2 5 -12 5 -11.7 5 -8.7 5 -9.5 5 -6.5 5 -5 5 -4.6 5 -1.4 5 -3 5 -2.4 5 0.3 5 2 5 -0.2 5 1.7 3.4 1.4"/>
<path d="M109.7 1701.3l5 -0.9 5 1 5 0.8 5 0 5 -4.7 5 -2.7 5 -2.8 5 0.6 5 0.5 5 -1.8 5 -5.6 5 -2.8 5 -3.2 5 -2.2 5 -2.7 5 -3.9 5 -2.9 5 -2.9 5 -1.7 5 -1.8 5 -1.7 5 -1.9 5 -1.5 5 -1.2 5 1.1 5 -0.5 5 -2.4 5 -1 5 -3.5 5 -1.4 5 -2.1 5 -1.3 5 -0.6 5 -0.6 5 -1.6 5 -0.3 5 -0.8 5 -0 5 1.8 5 0.2 5 0.9 5 0.6 5 1.5 5 2.4 5 0.8 5 1 5 2.2 5 1.4 5 2 5 2.4 5 0.4 5 2.8 5 1.5 5 1.7 5 -0.4 5 2.8 5 -0.4 5 2 5 0.7 5 -1.3 5 2.3 5 -0.5 5 -0.6 5 0.1 5 -1.8 5 0.7 5 0.3 5 -0.5 5 -0.7 5 -1.9 5 -0.1 5 -1.5 5 1.1 5 -1.4 5 0.5 5 -0.2 5 -0.8 5 -2 5 0.4 5 -1.2 5 -0.5 5 -0.8 5 1.6 5 0.6 5 -0.4 5 -1.8 5 -2.8 5 -2 5 0.5 5 -1.5 5 -0.8 5 -0 5 0.1 5 1.1 5 -2.4 5 -3.3 5 0.3 5 -0.8 5 -0.5 5 -2.6 5 -0.2 5 0.2 5 0.6 5 0.4 5 7.8 5 -1.3 5 13.1 5 -9.6 5 -2.7 5 12.9 5 -6.6 5 -4.9 5 6.8 5 -2.8 5 -6.1 5 4.4 5 3.6 5 -6.9 5 -2.8 5 1.9 5 3.1 5 -2.5 5 -0 5 2.2 5 -5 5 1.7 5 -0.3 5 1.3 5 -1.7 5 0 5 0.1 5 1.1 5 -0.7 5 0.7 5 -1.2 5 1 5 -0.2 5 -0.5 5 0.2 5 0.4 5 0.6 5 -0 5 -0.6 5 1.2 5 0.7 5 -0.2 5 0.5 5 -0.7 5 0.9 5 0.1 5 -0.3 5 -0.2 5 0.6 5 0.6 5 0.1 5 -0.6 5 0.2 5 -0.4 5 1.9 5 0.1 5 0.9 5 2 5 0.9 5 1.7 5 -1.1 5 2.1 5 0.1 5 -0.1 5 2.8 5 0.9 5 0.6 5 -0.1 5 1.1 5 -0.4 5 0 5 -3.3 5 -3.5 5 -1.7 5 -2.7 5 -4.7 5 -1.3 5 -2.1 5 -0.8 5 0.6 5 -2.7 5 -1.9 5 -1.8 5 -0.9 5 -14 5 -13.4 5 -9.2 5 -9.6 5 -6.7 5 -5.6 5 -4.3 5 -1.2 5 -3 5 -2.4 5 0.7 5 2.1 5 -0.4 5 1.6 3.4 1.3"/>
<path d="M109.7 1653.4l5 -1 5 0.9 5 0.6 5 0.4 5 -2.8 5 -0.8 5 -0.9 5 0.9 5 0.2 5 -1 5 -2.1 5 -0.3 5 -1.6 5 -0.6 5 -1 5 -1.8 5 -0.2 5 -1.2 5 -0.5 5 -0.7 5 -0.6 5 -0.8 5 -0.3 5 -0.9 5 1.1 5 -0.5 5 -1.3 5 0.5 5 -2.1 5 0 5 -0.7 5 -0.9 5 -0.1 5 -0.1 5 -1.1 5 -0.1 5 -0.5 5 0.4 5 1.4 5 -0.1 5 0.6 5 -0.4 5 0.5 5 1.5 5 -0.2 5 -0 5 1.2 5 0.2 5 1 5 1.1 5 -0.7 5 1.7 5 0.4 5 1 5 -1.1 5 2 5 -1 5 1.1 5 0.3 5 -1.5 5 2.1 5 -0.5 5 -0.4 5 0.4 5 -1.6 5 1 5 0.6 5 -0.3 5 -0.4 5 -1.6 5 0.3 5 -1.2 5 1.5 5 -1.1 5 1 5 0.2 5 -0.5 5 -1.5 5 0.7 5 -0.8 5 -0.2 5 -0.4 5 0.8 5 -0.5 5 0.8 5 -0.4 5 -1.5 5 -1.3 5 1 5 -0.8 5 -0.3 5 0.2 5 -0.4 5 0.5 5 -0.7 5 -1.6 5 1.4 5 -0.4 5 -0.1 5 -2.2 5 0.2 5 0.5 5 0.7 5 -1 5 3.6 5 -0.6 5 4.5 5 -4.2 5 -0.1 5 4.6 5 -2.2 5 -1.6 5 2.5 5 -1.7 5 -1.9 5 2 5 1 5 -3 5 -1.3 5 1.1 5 1.8 5 -1.5 5 -0.3 5 1.1 5 -2.2 5 1.1 5 -0.3 5 1.3 5 -1.7 5 0.1 5 0.1 5 1.1 5 -0.7 5 0.7 5 -1.2 5 1.1 5 -0.2 5 -0.5 5 0.2 5 0.5 5 0.5 5 -0.3 5 -0.9 5 1 5 0.4 5 -0.4 5 0.3 5 -0.8 5 0.9 5 0.1 5 -0.3 5 -0.3 5 0.5 5 0.7 5 -0 5 -0.7 5 0.3 5 -1 5 1.4 5 -0.6 5 0.3 5 1.3 5 0.3 5 1.1 5 -1.7 5 1.6 5 -0.4 5 -0.5 5 2.3 5 0.4 5 -0.1 5 -1.1 5 1.1 5 -0.4 5 0.3 5 -1.3 5 -1.5 5 0.3 5 -0.9 5 -2.9 5 0.4 5 -1.1 5 -0.5 5 1.2 5 -1.4 5 -0.7 5 -0.4 5 0.3 5 -14.3 5 -13.5 5 -8.5 5 -8.9 5 -6 5 -5.4 5 -3.7 5 -0.7 5 -2.7 5 -2.2 5 1.1 5 2.1 5 -0.5 5 1.4 3.4 1.1"/>
<path d="M109.7 1602.5l5 -1.1 5 0.7 5 0.5 5 0.8 5 -0.8 5 1.3 5 1.1 5 1.3 5 -0.4 5 0 5 1.6 5 2.4 5 0.1 5 1.2 5 0.7 5 0.4 5 2.7 5 0.6 5 0.7 5 0.6 5 0.6 5 0.4 5 0.9 5 -0.6 5 1.1 5 -0.5 5 -0.1 5 2 5 -0.5 5 1.5 5 0.7 5 -0.3 5 0.3 5 0.4 5 -0.6 5 0.3 5 -0.2 5 0.7 5 1.1 5 -0.4 5 0.2 5 -1.4 5 -0.6 5 0.4 5 -1.2 5 -1.1 5 0.2 5 -1 5 -0.3 5 -0.1 5 -1.9 5 0.4 5 -0.6 5 0.2 5 -1.9 5 1.3 5 -1.9 5 0.5 5 -0.4 5 -1.6 5 1.9 5 -0.5 5 -0.1 5 0.6 5 -1.3 5 1.3 5 0.8 5 -0 5 -0 5 -1.3 5 0.7 5 -0.9 5 1.8 5 -0.7 5 1.4 5 0.7 5 -0.1 5 -1.1 5 1.2 5 -0.4 5 0.1 5 -0.1 5 0.1 5 -1.7 5 2.1 5 1 5 -0.1 5 -0.6 5 1.6 5 -0.1 5 0.4 5 0.4 5 -1.1 5 -0.1 5 1 5 0.4 5 2.4 5 0.1 5 0.4 5 -1.8 5 0.7 5 0.7 5 0.8 5 -2.3 5 -1.1 5 0.2 5 -4.7 5 1.5 5 2.9 5 -4.4 5 2.5 5 2 5 -2.1 5 -0.5 5 2.4 5 -0.5 5 -1.7 5 1.2 5 0.4 5 0 5 0.4 5 -0.3 5 -0.7 5 -0.1 5 0.7 5 0.6 5 -0.3 5 1.3 5 -1.7 5 0.1 5 0.1 5 1.2 5 -0.7 5 0.7 5 -1.1 5 1.1 5 -0.2 5 -0.5 5 0.2 5 0.5 5 0.4 5 -0.6 5 -1.1 5 0.7 5 0.2 5 -0.7 5 0.2 5 -0.8 5 0.8 5 0.1 5 -0.4 5 -0.4 5 0.5 5 0.6 5 0 5 -0.7 5 0.2 5 -1.5 5 0.7 5 -1.2 5 -0.4 5 0.7 5 -0.4 5 0.4 5 -2.2 5 1 5 -0.9 5 -1 5 1.7 5 -0 5 -0.9 5 -2.2 5 1.1 5 -0.4 5 0.7 5 0.7 5 0.8 5 2.4 5 1.1 5 -1.2 5 2.2 5 -0 5 -0 5 1.7 5 -0.1 5 0.7 5 1 5 1.6 5 -12.8 5 -11.9 5 -6.9 5 -7.3 5 -4.6 5 -4.5 5 -2.9 5 0.1 5 -2.2 5 -1.6 5 1.3 5 2.2 5 -0.7 5 1.1 3.4 1"/>
<path d="M109.7 1554.7l5 -1.2 5 0.6 5 0.4 5 1 5 1.1 5 3.2 5 3.1 5 1.6 5 -0.8 5 0.9 5 5.2 5 4.8 5 1.7 5 2.9 5 2.3 5 2.4 5 5.5 5 2.3 5 1.8 5 1.7 5 1.8 5 1.6 5 2 5 -0.3 5 1.1 5 -0.5 5 1.1 5 3.4 5 0.9 5 2.9 5 2.1 5 0.1 5 0.8 5 0.9 5 -0.2 5 0.6 5 0.2 5 1 5 0.8 5 -0.8 5 -0.1 5 -2.4 5 -1.5 5 -0.6 5 -2.2 5 -2 5 -0.9 5 -2.1 5 -1.5 5 -1.2 5 -3.1 5 -0.7 5 -1.7 5 -0.6 5 -2.5 5 0.5 5 -2.5 5 -0.4 5 -0.8 5 -1.9 5 1.8 5 -0.5 5 0.1 5 0.9 5 -1.1 5 1.6 5 1 5 0.3 5 0.3 5 -0.9 5 1 5 -0.6 5 2.1 5 -0.3 5 1.9 5 1 5 0.4 5 -0.7 5 1.6 5 -0.1 5 0.4 5 0.3 5 -0.6 5 -2.8 5 3.3 5 2.3 5 1.2 5 -0 5 2.3 5 0.4 5 1 5 0.7 5 -1.7 5 -0.7 5 2.6 5 2.2 5 3.5 5 0.5 5 0.8 5 -1.4 5 1.1 5 1.1 5 0.7 5 -3.6 5 -5.3 5 0.9 5 -13.3 5 6.9 5 5.5 5 -12.6 5 6.8 5 5.4 5 -6.5 5 0.6 5 6.6 5 -2.9 5 -4.2 5 5 5 1.9 5 -0.8 5 -0.9 5 0.7 5 -1 5 -1.2 5 3.5 5 -0 5 -0.4 5 1.4 5 -1.7 5 0.1 5 0.2 5 1.2 5 -0.7 5 0.8 5 -1.2 5 1.2 5 -0.2 5 -0.5 5 0.3 5 0.5 5 0.2 5 -0.8 5 -1.4 5 0.5 5 -0.1 5 -0.9 5 0 5 -0.8 5 0.7 5 0.1 5 -0.4 5 -0.4 5 0.4 5 0.6 5 -0.1 5 -0.8 5 0.2 5 -1.9 5 0 5 -1.8 5 -1 5 0 5 -1 5 -0.2 5 -2.8 5 0.6 5 -1.4 5 -1.5 5 1.2 5 -0.5 5 -1.6 5 -3.2 5 1.1 5 -0.4 5 0.9 5 2.8 5 2.8 5 4.4 5 3 5 0.5 5 3.9 5 0.9 5 0.4 5 2.3 5 1.2 5 2 5 2.2 5 3 5 -9.9 5 -8.9 5 -4.5 5 -5 5 -2.6 5 -3.1 5 -1.8 5 1.1 5 -1.5 5 -1 5 1.6 5 2.1 5 -1 5 0.9 3.4 0.8"/>
<path d="M109.7 1515.7l5 -1.3 5 0.5 5 0.3 5 1.3 5 2.7 5 4.7 5 4.6 5 1.9 5 -1.1 5 1.6 5 8 5 6.9 5 3.1 5 4.1 5 3.6 5 4.2 5 7.6 5 3.7 5 2.8 5 2.7 5 2.6 5 2.6 5 2.9 5 -0 5 1.1 5 -0.5 5 2 5 4.6 5 2 5 4.1 5 3.2 5 0.4 5 1.2 5 1.3 5 0.2 5 0.9 5 0.4 5 1.3 5 0.5 5 -1 5 -0.4 5 -3.2 5 -2.3 5 -1.4 5 -3 5 -2.8 5 -1.7 5 -3.1 5 -2.4 5 -2.1 5 -4.1 5 -1.6 5 -2.6 5 -1.1 5 -3.1 5 -0.1 5 -3.2 5 -0.9 5 -1.3 5 -1.9 5 1.6 5 -0.5 5 0.3 5 1.1 5 -0.9 5 1.7 5 1.3 5 0.5 5 0.6 5 -0.6 5 1.2 5 -0.3 5 2.4 5 -0 5 2.1 5 1.4 5 0.7 5 -0.4 5 2 5 0.2 5 0.7 5 0.5 5 -1.2 5 -3.7 5 4.3 5 3.4 5 2.3 5 0.5 5 2.8 5 0.9 5 1.5 5 0.8 5 -2.1 5 -1.3 5 4 5 3.7 5 4.4 5 0.8 5 1.1 5 -1 5 1.4 5 1.3 5 0.8 5 -4.7 5 -8.7 5 1.4 5 -20.4 5 11.3 5 7.8 5 -19.5 5 10.4 5 8.1 5 -10 5 1.6 5 9.9 5 -4.9 5 -6.3 5 8.2 5 3.3 5 -1.6 5 -2 5 1.5 5 -1.1 5 -2.2 5 5.7 5 -0.4 5 -0.4 5 1.4 5 -1.6 5 0.1 5 0.1 5 1.2 5 -0.6 5 0.8 5 -1.2 5 1.2 5 -0.2 5 -0.4 5 0.3 5 0.5 5 0.1 5 -1 5 -1.6 5 0.3 5 -0.3 5 -1.1 5 -0.1 5 -0.9 5 0.8 5 -0 5 -0.5 5 -0.4 5 0.4 5 0.5 5 -0.1 5 -0.8 5 0.1 5 -2.2 5 -0.5 5 -2.4 5 -1.5 5 -0.4 5 -1.6 5 -0.7 5 -3.3 5 0.3 5 -1.8 5 -2 5 0.9 5 -0.9 5 -2.2 5 -4 5 1.1 5 -0.4 5 1.1 5 4.5 5 4.4 5 6.1 5 4.4 5 1.9 5 5.3 5 1.7 5 0.8 5 2.6 5 2.3 5 3.1 5 3.2 5 4 5 -5.7 5 -4.7 5 -1.6 5 -2.5 5 -0.2 5 -1.2 5 -0.7 5 2.1 5 -0.7 5 -0.2 5 1.7 5 2.1 5 -1.3 5 0.7 3.4 0.6"/>
<path d="M109.7 1490.2l5 -1.4 5 0.5 5 0.2 5 1.5 5 3.7 5 5.7 5 5.6 5 2.1 5 -1.3 5 2.1 5 9.9 5 8.2 5 3.9 5 5 5 4.5 5 5.2 5 9.1 5 4.6 5 3.4 5 3.3 5 3.3 5 3.1 5 3.6 5 0.1 5 1.1 5 -0.5 5 2.6 5 5.3 5 2.8 5 4.9 5 3.9 5 0.7 5 1.4 5 1.5 5 0.5 5 1.1 5 0.6 5 1.4 5 0.4 5 -1.2 5 -0.7 5 -3.6 5 -2.9 5 -1.9 5 -3.5 5 -3.3 5 -2.3 5 -3.6 5 -3 5 -2.8 5 -4.7 5 -2.2 5 -3.1 5 -1.6 5 -3.5 5 -0.5 5 -3.5 5 -1.3 5 -1.5 5 -2.1 5 1.5 5 -0.5 5 0.5 5 1.2 5 -0.7 5 1.8 5 1.4 5 0.7 5 0.7 5 -0.5 5 1.5 5 -0.2 5 2.6 5 0.2 5 2.3 5 1.6 5 1 5 -0.2 5 2.2 5 0.3 5 0.9 5 0.7 5 -1.6 5 -4.2 5 4.9 5 4.2 5 2.9 5 0.8 5 3.1 5 1.3 5 1.8 5 1 5 -2.5 5 -1.6 5 4.9 5 4.6 5 4.9 5 1.1 5 1.3 5 -0.8 5 1.7 5 1.4 5 0.9 5 -5.4 5 -11.1 5 1.9 5 -25 5 14.2 5 9.1 5 -23.9 5 12.7 5 10 5 -12.4 5 2.2 5 12.1 5 -6.1 5 -7.7 5 10.3 5 4.1 5 -2.1 5 -2.6 5 2 5 -1.3 5 -2.8 5 7.2 5 -0.7 5 -0.4 5 1.4 5 -1.6 5 0.1 5 0.2 5 1.2 5 -0.6 5 0.8 5 -1.2 5 1.2 5 -0.2 5 -0.4 5 0.3 5 0.6 5 -0 5 -1.2 5 -1.7 5 0.2 5 -0.4 5 -1.3 5 -0.1 5 -1 5 0.8 5 -0.1 5 -0.4 5 -0.5 5 0.4 5 0.5 5 -0.1 5 -0.8 5 0.1 5 -2.6 5 -0.8 5 -2.7 5 -1.8 5 -0.8 5 -1.9 5 -1 5 -3.6 5 -0 5 -2.1 5 -2.2 5 0.7 5 -1.2 5 -2.6 5 -4.6 5 1.2 5 -0.5 5 1.4 5 5.5 5 5.5 5 7.1 5 5.4 5 2.8 5 6.2 5 2.3 5 0.9 5 3 5 3 5 3.7 5 3.9 5 4.7 5 -0.8 5 -0.1 5 1.4 5 0.3 5 2.2 5 0.8 5 0.3 5 3.1 5 0.1 5 0.6 5 1.7 5 2 5 -1.5 5 0.4 3.4 0.5"/>
</g>
<path d="M109.7 1774.7L112.2 1776.1 114.7 1777.1 117.2 1777.6 119.7 1775.9 122.2 1774.2 124.7 1775.1 127.2 1775.1 129.7 1773.0 132.2 1772.5 134.7 1770.8 137.2 1767.1 139.7 1764.4 142.2 1761.7 144.7 1758.3 147.2 1755.8 149.7 1755.1 152.2 1755.4 154.7 1756.6 157.2 1759.1 159.7 1754.8 162.2 1748.5 164.7 1744.5 167.2 1739.0 169.7 1734.8 172.2 1733.5 174.7 1731.4 177.2 1728.0 179.7 1725.7 182.2 1723.7 184.7 1721.1 187.2 1719.2 189.7 1716.2 192.2 1710.6 194.7 1705.3 197.2 1701.4 199.7 1700.7 202.2 1700.0 204.7 1697.0 207.2 1695.0 209.7 1693.6 212.2 1691.5 214.7 1690.1 217.2 1689.7 219.7 1686.9 222.2 1684.0 224.7 1682.9 227.2 1682.7 229.7 1683.4 232.2 1682.1 234.7 1681.2 237.2 1680.9 239.7 1682.2 242.2 1682.2 244.7 1680.1 247.2 1677.0 249.7 1673.3 252.2 1672.6 254.7 1671.5 257.2 1669.5 259.7 1665.6 262.2 1662.0 264.7 1661.5 267.2 1661.6 269.7 1661.3 272.2 1661.0 274.7 1659.7 277.2 1657.0 279.7 1658.0 282.2 1659.3 284.7 1658.3 287.2 1657.6 289.7 1657.1 292.2 1657.2 294.7 1656.7 297.2 1655.2 299.7 1654.7 302.2 1655.0 304.7 1653.1 307.2 1653.2 309.7 1654.6 312.2 1654.4 314.7 1654.9 317.2 1657.6 319.7 1659.7 322.2 1661.5 324.7 1662.7 327.2 1663.4 329.7 1663.9 332.2 1666.0 334.7 1668.2 337.2 1670.6 339.7 1672.3 342.2 1673.7 344.7 1674.1 347.2 1675.8 349.7 1678.3 352.2 1680.0 354.7 1681.2 357.2 1681.6 359.7 1683.6 362.2 1686.4 364.7 1689.9 367.2 1691.3 369.7 1691.3 372.2 1693.4 374.7 1694.7 377.2 1694.9 379.7 1695.8 382.2 1697.4 384.7 1700.9 387.2 1701.4 389.7 1699.9 392.2 1703.1 394.7 1705.0 397.2 1704.6 399.7 1705.6 402.2 1706.8 404.7 1707.3 407.2 1708.7 409.7 1711.0 412.2 1708.9 414.7 1707.5 417.2 1707.1 419.7 1708.5 422.2 1709.6 424.7 1708.2 427.2 1707.2 429.7 1706.4 432.2 1708.0 434.7 1708.6 437.2 1707.5 439.7 1705.6 442.2 1703.8 444.7 1703.4 447.2 1703.2 449.7 1702.8 452.2 1702.1 454.7 1702.2 457.2 1703.6 459.7 1704.0 462.2 1703.9 464.7 1702.1 467.2 1702.1 469.7 1703.2 472.2 1700.4 474.7 1699.0 477.2 1699.8 479.7 1699.6 482.2 1698.8 484.7 1696.0 487.2 1694.5 489.7 1693.9 492.2 1693.1 494.7 1693.1 497.2 1694.4 499.7 1694.6 502.2 1693.9 504.7 1691.3 507.2 1690.7 509.7 1691.5 512.2 1690.9 514.7 1690.6 517.2 1690.6 519.7 1690.1 522.2 1690.4 524.7 1691.4 527.2 1693.7 529.7 1696.9 532.2 1693.4 534.7 1690.4 537.2 1688.5 539.7 1685.6 542.2 1683.1 544.7 1683.2 547.2 1683.6 549.7 1683.3 552.2 1680.6 554.7 1678.7 557.2 1678.0 559.7 1677.9 562.2 1677.5 564.7 1675.8 567.2 1674.4 569.7 1674.5 572.2 1676.2 574.7 1677.9 577.2 1679.4 579.7 1679.3 582.2 1676.1 584.7 1674.0 587.2 1671.9 589.7 1669.6 592.2 1664.7 594.7 1662.6 597.2 1661.8 599.7 1661.6 602.2 1661.3 604.7 1660.1 607.2 1660.8 609.7 1662.8 612.2 1662.1 614.7 1660.6 617.2 1658.2 619.7 1658.5 622.2 1658.8 624.7 1657.0 627.2 1659.7 629.7 1664.2 632.2 1665.0 634.7 1674.8" fill="none" stroke="#e3302e" stroke-width="3.6" stroke-linejoin="round"/>
<path d="M634.7 1674.8L637.2 1684.9 639.7 1673.0 642.2 1689.6 644.7 1699.7 647.2 1677.5 649.7 1685.9 652.2 1688.0 654.7 1674.8 657.2 1689.5 659.7 1700.2 662.2 1677.7 664.7 1686.6 667.2 1695.9 669.7 1675.7 672.2 1680.0 674.7 1688.7 677.2 1678.3 679.7 1687.4 682.2 1687.1 684.7 1674.3 687.2 1688.7 689.7 1680.1 692.2 1682.3 694.7 1688.6 697.2 1672.8 699.7 1678.5 702.2 1678.6 704.7 1674.6 707.2 1685.7 709.7 1676.2 712.2 1673.9 714.7 1678.0 717.2 1672.2 719.7 1676.7 722.2 1684.1 724.7 1678.6 727.2 1678.2 729.7 1681.1 732.2 1675.6 734.7 1674.1 737.2 1675.0" fill="none" stroke="#e8504e" stroke-width="2.4" stroke-linejoin="round"/>
<path d="M737.2 1675.0L739.7 1674.1 742.2 1672.9 744.7 1674.8 747.2 1674.3 749.7 1672.2 752.2 1674.5 754.7 1675.4 757.2 1674.4 759.7 1675.2 762.2 1676.0 764.7 1674.9 767.2 1673.7 769.7 1672.5 772.2 1673.6 774.7 1673.9 777.2 1672.9 779.7 1672.3 782.2 1672.4 784.7 1674.7 787.2 1674.4 789.7 1672.4 792.2 1672.4 794.7 1672.8 797.2 1673.6 799.7 1673.6 802.2 1673.4 804.7 1673.1 807.2 1672.7 809.7 1672.1 812.2 1671.2 814.7 1671.7 817.2 1673.6 819.7 1673.3 822.2 1673.1 824.7 1676.1 827.2 1676.4 829.7 1675.1 832.2 1674.6 834.7 1675.2 837.2 1677.6 839.7 1677.1 842.2 1676.3 844.7 1677.0 847.2 1677.8 849.7 1678.7 852.2 1677.6 854.7 1677.2 857.2 1677.8 859.7 1677.1 862.2 1676.5 864.7 1677.9 867.2 1678.6 869.7 1678.7 872.2 1678.4 874.7 1677.8 877.2 1676.7 879.7 1676.7 882.2 1676.9 884.7 1676.8 887.2 1677.4 889.7 1678.4 892.2 1677.8 894.7 1678.1 897.2 1679.9 899.7 1681.9 902.2 1683.1 904.7 1681.8 907.2 1682.9 909.7 1685.5 912.2 1686.7 914.7 1687.5 917.2 1688.0 919.7 1687.4 922.2 1687.2 924.7 1689.5 927.2 1690.2 929.7 1689.9 932.2 1693.5 934.7 1695.5 937.2 1695.4 939.7 1694.3 942.2 1693.8 944.7 1697.1 947.2 1699.0 949.7 1700.1 952.2 1698.4 954.7 1697.6 957.2 1698.0 959.7 1698.7 962.2 1699.6 964.7 1701.9 967.2 1705.2 969.7 1708.3 972.2 1707.0 974.7 1706.0 977.2 1705.7 979.7 1706.9 982.2 1707.8 984.7 1705.0 987.2 1701.6 989.7 1699.4 992.2 1697.4 994.7 1693.9 997.2 1688.0 999.7 1685.0 1002.2 1682.4 1004.7 1679.1 1007.2 1677.9 1009.7 1678.1 1012.2 1673.6 1014.7 1670.3 1017.2 1669.1 1019.7 1668.4 1022.2 1667.7 1024.7 1667.6 1027.2 1666.1 1029.7 1663.3 1032.2 1662.8 1034.7 1661.9 1037.2 1660.4 1039.7 1659.1 1042.2 1657.7 1044.7 1655.8 1047.2 1653.5 1049.7 1651.0 1052.2 1649.2 1054.7 1647.4 1057.2 1645.4 1059.7 1641.4 1062.2 1637.6 1064.7 1636.2 1067.2 1635.1 1069.7 1634.2 1072.2 1630.4 1074.7 1626.8 1077.2 1624.5 1079.7 1623.5 1082.2 1623.0 1084.7 1623.5 1087.2 1621.3 1089.7 1617.5 1092.2 1618.3 1094.7 1619.2 1097.2 1620.1 1099.7 1620.0 1102.2 1619.3 1104.7 1617.7 1107.2 1615.6 1109.7 1614.0 1112.2 1616.5 1114.7 1618.6 1117.2 1619.8 1119.7 1619.4 1122.2 1619.0 1123.1 1619.5" fill="none" stroke="#e3302e" stroke-width="3.6" stroke-linejoin="round"/>
<path d="M109.7 1481.3L112.2 1479.9 114.7 1478.9 117.2 1478.4 119.7 1480.1 122.2 1481.8 124.7 1480.9 127.2 1480.9 129.7 1483.0 132.2 1483.5 134.7 1485.2 137.2 1488.9 139.7 1491.6 142.2 1494.3 144.7 1497.7 147.2 1500.2 149.7 1500.9 152.2 1500.6 154.7 1499.4 157.2 1496.9 159.7 1501.2 162.2 1507.5 164.7 1511.5 167.2 1517.0 169.7 1521.2 172.2 1522.5 174.7 1524.6 177.2 1528.0 179.7 1530.3 182.2 1532.3 184.7 1534.9 187.2 1536.8 189.7 1539.8 192.2 1545.4 194.7 1550.7 197.2 1554.6 199.7 1555.3 202.2 1556.0 204.7 1559.0 207.2 1561.0 209.7 1562.4 212.2 1564.5 214.7 1565.9 217.2 1566.3 219.7 1569.1 222.2 1572.0 224.7 1573.1 227.2 1573.3 229.7 1572.6 232.2 1573.9 234.7 1574.8 237.2 1575.1 239.7 1573.8 242.2 1573.8 244.7 1575.9 247.2 1579.0 249.7 1582.7 252.2 1583.4 254.7 1584.5 257.2 1586.5 259.7 1590.4 262.2 1594.0 264.7 1594.5 267.2 1594.4 269.7 1594.7 272.2 1595.0 274.7 1596.3 277.2 1599.0 279.7 1598.0 282.2 1596.7 284.7 1597.7 287.2 1598.4 289.7 1598.9 292.2 1598.8 294.7 1599.3 297.2 1600.8 299.7 1601.3 302.2 1601.0 304.7 1602.9 307.2 1602.8 309.7 1601.4 312.2 1601.6 314.7 1601.1 317.2 1598.4 319.7 1596.3 322.2 1594.5 324.7 1593.3 327.2 1592.6 329.7 1592.1 332.2 1590.0 334.7 1587.8 337.2 1585.4 339.7 1583.7 342.2 1582.3 344.7 1581.9 347.2 1580.2 349.7 1577.7 352.2 1576.0 354.7 1574.8 357.2 1574.4 359.7 1572.4 362.2 1569.6 364.7 1566.1 367.2 1564.7 369.7 1564.7 372.2 1562.6 374.7 1561.3 377.2 1561.1 379.7 1560.2 382.2 1558.6 384.7 1555.1 387.2 1554.6 389.7 1556.1 392.2 1552.9 394.7 1551.0 397.2 1551.4 399.7 1550.4 402.2 1549.2 404.7 1548.7 407.2 1547.3 409.7 1545.0 412.2 1547.1 414.7 1548.5 417.2 1548.9 419.7 1547.5 422.2 1546.4 424.7 1547.8 427.2 1548.8 429.7 1549.6 432.2 1548.0 434.7 1547.4 437.2 1548.5 439.7 1550.4 442.2 1552.2 444.7 1552.6 447.2 1552.8 449.7 1553.2 452.2 1553.9 454.7 1553.8 457.2 1552.4 459.7 1552.0 462.2 1552.1 464.7 1553.9 467.2 1553.9 469.7 1552.8 472.2 1555.6 474.7 1557.0 477.2 1556.2 479.7 1556.4 482.2 1557.2 484.7 1560.0 487.2 1561.5 489.7 1562.1 492.2 1562.9 494.7 1562.9 497.2 1561.6 499.7 1561.4 502.2 1562.1 504.7 1564.7 507.2 1565.3 509.7 1564.5 512.2 1565.1 514.7 1565.4 517.2 1565.4 519.7 1565.9 522.2 1565.6 524.7 1564.6 527.2 1562.3 529.7 1559.1 532.2 1562.6 534.7 1565.6 537.2 1567.5 539.7 1570.4 542.2 1572.9 544.7 1572.8 547.2 1572.4 549.7 1572.7 552.2 1575.4 554.7 1577.3 557.2 1578.0 559.7 1578.1 562.2 1578.5 564.7 1580.2 567.2 1581.6 569.7 1581.5 572.2 1579.8 574.7 1578.1 577.2 1576.6 579.7 1576.7 582.2 1579.9 584.7 1582.0 587.2 1584.1 589.7 1586.4 592.2 1591.3 594.7 1593.4 597.2 1594.2 599.7 1594.4 602.2 1594.7 604.7 1595.9 607.2 1595.2 609.7 1593.2 612.2 1593.9 614.7 1595.4 617.2 1597.8 619.7 1597.5 622.2 1597.2 624.7 1599.0 627.2 1596.3 629.7 1591.8 632.2 1591.0 634.7 1581.2" fill="none" stroke="#2d4fa3" stroke-width="3.6" stroke-linejoin="round"/>
<path d="M634.7 1581.2L637.2 1571.1 639.7 1583.0 642.2 1566.4 644.7 1556.3 647.2 1578.5 649.7 1570.1 652.2 1568.0 654.7 1581.2 657.2 1566.5 659.7 1555.8 662.2 1578.3 664.7 1569.4 667.2 1560.1 669.7 1580.3 672.2 1576.0 674.7 1567.3 677.2 1577.7 679.7 1568.6 682.2 1568.9 684.7 1581.7 687.2 1567.3 689.7 1575.9 692.2 1573.7 694.7 1567.4 697.2 1583.2 699.7 1577.5 702.2 1577.4 704.7 1581.4 707.2 1570.3 709.7 1579.8 712.2 1582.1 714.7 1578.0 717.2 1583.8 719.7 1579.3 722.2 1571.9 724.7 1577.4 727.2 1577.8 729.7 1574.9 732.2 1580.4 734.7 1581.9 737.2 1581.0" fill="none" stroke="#4a68b4" stroke-width="2.4" stroke-linejoin="round"/>
<path d="M737.2 1581.0L739.7 1581.9 742.2 1583.1 744.7 1581.2 747.2 1581.7 749.7 1583.8 752.2 1581.5 754.7 1580.6 757.2 1581.6 759.7 1580.8 762.2 1580.0 764.7 1581.1 767.2 1582.3 769.7 1583.5 772.2 1582.4 774.7 1582.1 777.2 1583.1 779.7 1583.7 782.2 1583.6 784.7 1581.3 787.2 1581.6 789.7 1583.6 792.2 1583.6 794.7 1583.2 797.2 1582.4 799.7 1582.4 802.2 1582.6 804.7 1582.9 807.2 1583.3 809.7 1583.9 812.2 1584.8 814.7 1584.3 817.2 1582.4 819.7 1582.7 822.2 1582.9 824.7 1579.9 827.2 1579.6 829.7 1580.9 832.2 1581.4 834.7 1580.8 837.2 1578.4 839.7 1578.9 842.2 1579.7 844.7 1579.0 847.2 1578.2 849.7 1577.3 852.2 1578.4 854.7 1578.8 857.2 1578.2 859.7 1578.9 862.2 1579.5 864.7 1578.1 867.2 1577.4 869.7 1577.3 872.2 1577.6 874.7 1578.2 877.2 1579.3 879.7 1579.3 882.2 1579.1 884.7 1579.2 887.2 1578.6 889.7 1577.6 892.2 1578.2 894.7 1577.9 897.2 1576.1 899.7 1574.1 902.2 1572.9 904.7 1574.2 907.2 1573.1 909.7 1570.5 912.2 1569.3 914.7 1568.5 917.2 1568.0 919.7 1568.6 922.2 1568.8 924.7 1566.5 927.2 1565.8 929.7 1566.1 932.2 1562.5 934.7 1560.5 937.2 1560.6 939.7 1561.7 942.2 1562.2 944.7 1558.9 947.2 1557.0 949.7 1555.9 952.2 1557.6 954.7 1558.4 957.2 1558.0 959.7 1557.3 962.2 1556.4 964.7 1554.1 967.2 1550.8 969.7 1547.7 972.2 1549.0 974.7 1550.0 977.2 1550.3 979.7 1549.1 982.2 1548.2 984.7 1551.0 987.2 1554.4 989.7 1556.6 992.2 1558.6 994.7 1562.1 997.2 1568.0 999.7 1571.0 1002.2 1573.6 1004.7 1576.9 1007.2 1578.1 1009.7 1577.9 1012.2 1582.4 1014.7 1585.7 1017.2 1586.9 1019.7 1587.6 1022.2 1588.3 1024.7 1588.4 1027.2 1589.9 1029.7 1592.8 1032.2 1593.7 1034.7 1594.9 1037.2 1596.8 1039.7 1598.5 1042.2 1600.3 1044.7 1602.6 1047.2 1605.2 1049.7 1608.1 1052.2 1610.2 1054.7 1612.1 1057.2 1613.7 1059.7 1617.2 1062.2 1620.6 1064.7 1621.6 1067.2 1622.3 1069.7 1622.8 1072.2 1625.9 1074.7 1628.3 1077.2 1630.6 1079.7 1631.5 1082.2 1632.0 1084.7 1631.4 1087.2 1633.3 1089.7 1636.9 1092.2 1636.6 1094.7 1636.4 1097.2 1636.1 1099.7 1636.9 1102.2 1638.1 1104.7 1639.3 1107.2 1640.9 1109.7 1642.8 1112.2 1641.0 1114.7 1639.7 1117.2 1639.1 1119.7 1640.3 1122.2 1641.3 1123.1 1641.0" fill="none" stroke="#2d4fa3" stroke-width="3.6" stroke-linejoin="round"/>
</g>
<defs></defs>
<g clip-path="url(#cl)">
<path d="M109.7 2190.5L112.2 2190.5 114.7 2190.5 117.2 2190.5 119.7 2190.5 122.2 2190.5 124.7 2190.5 127.2 2190.5 129.7 2190.5 132.2 2190.5 134.7 2190.5 137.2 2190.5 139.7 2190.5 142.2 2190.5 144.7 2190.5 147.2 2190.5 149.7 2190.5 152.2 2190.5 154.7 2190.5 157.2 2190.5 159.7 2190.5 162.2 2190.5 164.7 2190.5 167.2 2190.5 169.7 2190.5 172.2 2190.5 174.7 2190.5 177.2 2190.5 179.7 2190.5 182.2 2190.5 184.7 2190.5 187.2 2190.5 189.7 2190.5 192.2 2190.5 194.7 2190.5 197.2 2190.5 199.7 2190.5 202.2 2190.5 204.7 2190.5 207.2 2190.5 209.7 2190.5 212.2 2190.5 214.7 2190.5 217.2 2190.5 219.7 2190.5 222.2 2190.5 224.7 2190.5 227.2 2190.5 229.7 2190.5 232.2 2190.5 234.7 2190.5 237.2 2190.5 239.7 2190.5 242.2 2190.5 244.7 2190.5 247.2 2190.5 249.7 2190.5 252.2 2190.5 254.7 2190.5 257.2 2190.5 259.7 2190.5 262.2 2190.5 264.7 2190.5 267.2 2190.5 269.7 2190.5 272.2 2190.5 274.7 2190.5 277.2 2190.5 279.7 2190.5 282.2 2190.5 284.7 2190.5 287.2 2190.5 289.7 2190.5 292.2 2190.5 294.7 2190.5 297.2 2190.5 299.7 2190.5 302.2 2190.5 304.7 2190.5 307.2 2190.5 309.7 2190.5 312.2 2190.5 314.7 2190.5 317.2 2190.5 319.7 2190.5 322.2 2190.5 324.7 2190.5 327.2 2190.5 329.7 2190.5 332.2 2190.5 334.7 2190.5 337.2 2190.5 339.7 2190.5 342.2 2190.5 344.7 2190.5 347.2 2190.5 349.7 2190.5 352.2 2190.5 354.7 2190.5 357.2 2190.5 359.7 2190.5 362.2 2190.5 364.7 2190.5 367.2 2190.5 369.7 2190.5 372.2 2190.5 374.7 2190.5 377.2 2190.5 379.7 2190.5 382.2 2190.5 384.7 2190.5 387.2 2190.5 389.7 2190.5 392.2 2190.5 394.7 2190.5 397.2 2190.5 399.7 2190.5 402.2 2190.5 404.7 2190.5 407.2 2190.5 409.7 2190.5 412.2 2190.5 414.7 2190.5 417.2 2190.5 419.7 2190.5 422.2 2190.5 424.7 2190.5 427.2 2190.5 429.7 2190.5 432.2 2190.5 434.7 2190.5 437.2 2190.5 439.7 2190.5 442.2 2190.5 444.7 2190.5 447.2 2190.5 449.7 2190.5 452.2 2190.5 454.7 2190.5 457.2 2190.5 459.7 2190.5 462.2 2190.5 464.7 2190.5 467.2 2190.5 469.7 2190.5 472.2 2190.5 474.7 2190.5 477.2 2190.5 479.7 2190.5 482.2 2190.5 484.7 2190.5 487.2 2190.5 489.7 2190.5 492.2 2190.5 494.7 2190.5 497.2 2190.5 499.7 2190.5 502.2 2190.5 504.7 2190.5 507.2 2190.5 509.7 2190.5 512.2 2190.5 514.7 2190.5 517.2 2190.5 519.7 2190.5 522.2 2190.5 524.7 2190.5 527.2 2190.5 529.7 2190.5 532.2 2190.5 534.7 2190.5 537.2 2190.5 539.7 2190.5 542.2 2190.5 544.7 2190.5 547.2 2190.5 549.7 2190.5 552.2 2190.5 554.7 2190.5 557.2 2190.5 559.7 2190.5 562.2 2190.5 564.7 2190.5 567.2 2190.5 569.7 2190.5 572.2 2190.5 574.7 2190.5 577.2 2190.5 579.7 2190.5 582.2 2190.5 584.7 2190.5 587.2 2190.5 589.7 2190.5 592.2 2190.5 594.7 2190.5 597.2 2190.5 599.7 2190.5 602.2 2190.5 604.7 2190.5 607.2 2190.5 609.7 2190.5 612.2 2190.5 614.7 2190.5 617.2 2190.5 619.7 2190.5 622.2 2190.5 624.7 2190.5 627.2 2190.5 629.7 2190.5 632.2 2185.8 634.7 2187.0 637.2 2180.2 639.7 2159.9 642.2 2139.5 644.7 2119.2 647.2 2131.6 649.7 2156.8 652.2 2177.9 654.7 2152.0 657.2 2126.1 659.7 2115.0 662.2 2141.6 664.7 2168.2 667.2 2172.3 669.7 2152.1 672.2 2131.8 674.7 2147.8 677.2 2170.7 679.7 2155.0 682.2 2121.1 684.7 2122.4 687.2 2147.2 689.7 2172.0 692.2 2170.1 694.7 2164.6 697.2 2162.3 699.7 2176.7 702.2 2189.2 704.7 2178.8 707.2 2168.3 709.7 2172.7 712.2 2183.9 714.7 2188.4 717.2 2175.5 719.7 2162.5 722.2 2162.5 724.7 2176.5 727.2 2190.5 729.7 2190.5 732.2 2189.8 734.7 2186.6 737.2 2187.6 739.7 2190.5 742.2 2190.5 744.7 2190.2 747.2 2182.9 749.7 2183.8 752.2 2190.3 754.7 2190.5 757.2 2190.5 759.7 2190.5 762.2 2185.9 764.7 2180.2 767.2 2188.3 769.7 2190.5 772.2 2190.5 774.7 2190.5 777.2 2190.5 779.7 2190.5 782.2 2190.5 784.7 2190.5 787.2 2190.5 789.7 2190.5 792.2 2190.5 794.7 2190.5 797.2 2190.5 799.7 2190.5 802.2 2190.5 804.7 2190.5 807.2 2190.5 809.7 2190.5 812.2 2190.5 814.7 2190.5 817.2 2190.5 819.7 2190.5 822.2 2190.5 824.7 2190.5 827.2 2190.5 829.7 2190.5 832.2 2190.5 834.7 2190.5 837.2 2190.5 839.7 2190.5 842.2 2190.5 844.7 2190.5 847.2 2190.5 849.7 2190.5 852.2 2190.5 854.7 2190.5 857.2 2190.5 859.7 2190.5 862.2 2190.5 864.7 2190.5 867.2 2190.5 869.7 2190.5 872.2 2190.5 874.7 2190.5 877.2 2190.5 879.7 2190.5 882.2 2190.5 884.7 2190.5 887.2 2190.5 889.7 2190.5 892.2 2190.5 894.7 2190.5 897.2 2190.5 899.7 2190.5 902.2 2190.5 904.7 2190.5 907.2 2190.5 909.7 2190.5 912.2 2190.5 914.7 2190.5 917.2 2190.5 919.7 2190.5 922.2 2190.5 924.7 2190.5 927.2 2190.5 929.7 2190.5 932.2 2190.5 934.7 2190.5 937.2 2190.5 939.7 2190.5 942.2 2190.5 944.7 2190.5 947.2 2190.5 949.7 2190.5 952.2 2189.7 954.7 2188.8 957.2 2187.9 959.7 2187.0 962.2 2186.1 964.7 2185.2 967.2 2184.3 969.7 2183.4 972.2 2182.5 974.7 2181.6 977.2 2182.3 979.7 2183.2 982.2 2184.1 984.7 2185.0 987.2 2185.9 989.7 2186.8 992.2 2187.7 994.7 2188.6 997.2 2189.5 999.7 2190.4 1002.2 2190.5 1004.7 2190.5 1007.2 2190.5 1009.7 2190.5 1012.2 2190.5 1014.7 2190.5 1017.2 2190.5 1019.7 2190.5 1022.2 2190.5 1024.7 2190.5 1027.2 2190.5 1029.7 2190.5 1032.2 2190.5 1034.7 2190.5 1037.2 2190.5 1039.7 2190.5 1042.2 2190.5 1044.7 2190.5 1047.2 2190.5 1049.7 2190.5 1052.2 2190.5 1054.7 2190.5 1057.2 2190.5 1059.7 2190.5 1062.2 2190.5 1064.7 2190.5 1067.2 2190.5 1069.7 2190.5 1072.2 2190.5 1074.7 2190.5 1077.2 2190.5 1079.7 2190.5 1082.2 2190.5 1084.7 2190.5 1087.2 2190.5 1089.7 2190.5 1092.2 2190.5 1094.7 2190.5 1097.2 2190.5 1099.7 2190.5 1102.2 2190.5 1104.7 2190.5 1107.2 2190.5 1109.7 2190.5 1112.2 2190.5 1114.7 2190.5 1117.2 2190.5 1119.7 2190.5 1122.2 2190.5 1123.1 2190.5 1123.1 2240.5 1122.2 2240.5 1119.7 2240.5 1117.2 2240.5 1114.7 2240.5 1112.2 2240.5 1109.7 2240.5 1107.2 2240.5 1104.7 2240.5 1102.2 2240.5 1099.7 2240.5 1097.2 2240.5 1094.7 2240.5 1092.2 2240.5 1089.7 2240.5 1087.2 2240.5 1084.7 2240.5 1082.2 2240.5 1079.7 2240.5 1077.2 2240.5 1074.7 2240.5 1072.2 2240.5 1069.7 2240.5 1067.2 2240.5 1064.7 2240.5 1062.2 2240.5 1059.7 2240.5 1057.2 2240.5 1054.7 2240.5 1052.2 2240.5 1049.7 2240.5 1047.2 2240.5 1044.7 2240.5 1042.2 2240.5 1039.7 2240.5 1037.2 2240.5 1034.7 2240.5 1032.2 2240.5 1029.7 2240.5 1027.2 2240.5 1024.7 2240.5 1022.2 2240.5 1019.7 2240.5 1017.2 2240.5 1014.7 2240.5 1012.2 2240.5 1009.7 2240.5 1007.2 2240.5 1004.7 2240.5 1002.2 2240.5 999.7 2240.6 997.2 2241.5 994.7 2242.4 992.2 2243.3 989.7 2244.2 987.2 2245.1 984.7 2246.0 982.2 2246.9 979.7 2247.8 977.2 2248.7 974.7 2249.4 972.2 2248.5 969.7 2247.6 967.2 2246.7 964.7 2245.8 962.2 2244.9 959.7 2244.0 957.2 2243.1 954.7 2242.2 952.2 2241.3 949.7 2240.5 947.2 2240.5 944.7 2240.5 942.2 2240.5 939.7 2240.5 937.2 2240.5 934.7 2240.5 932.2 2240.5 929.7 2240.5 927.2 2240.5 924.7 2240.5 922.2 2240.5 919.7 2240.5 917.2 2240.5 914.7 2240.5 912.2 2240.5 909.7 2240.5 907.2 2240.5 904.7 2240.5 902.2 2240.5 899.7 2240.5 897.2 2240.5 894.7 2240.5 892.2 2240.5 889.7 2240.5 887.2 2240.5 884.7 2240.5 882.2 2240.5 879.7 2240.5 877.2 2240.5 874.7 2240.5 872.2 2240.5 869.7 2240.5 867.2 2240.5 864.7 2240.5 862.2 2240.5 859.7 2240.5 857.2 2240.5 854.7 2240.5 852.2 2240.5 849.7 2240.5 847.2 2240.5 844.7 2240.5 842.2 2240.5 839.7 2240.5 837.2 2240.5 834.7 2240.5 832.2 2240.5 829.7 2240.5 827.2 2240.5 824.7 2240.5 822.2 2240.5 819.7 2240.5 817.2 2240.5 814.7 2240.5 812.2 2240.5 809.7 2240.5 807.2 2240.5 804.7 2240.5 802.2 2240.5 799.7 2240.5 797.2 2240.5 794.7 2240.5 792.2 2240.5 789.7 2240.5 787.2 2240.5 784.7 2240.5 782.2 2240.5 779.7 2240.5 777.2 2240.5 774.7 2240.5 772.2 2240.5 769.7 2240.5 767.2 2242.7 764.7 2250.8 762.2 2245.1 759.7 2240.5 757.2 2240.5 754.7 2240.5 752.2 2240.7 749.7 2247.2 747.2 2248.1 744.7 2240.8 742.2 2240.5 739.7 2240.5 737.2 2243.4 734.7 2244.4 732.2 2241.2 729.7 2240.5 727.2 2240.5 724.7 2254.5 722.2 2268.5 719.7 2268.5 717.2 2255.5 714.7 2242.6 712.2 2247.1 709.7 2258.3 707.2 2262.7 704.7 2252.2 702.2 2241.8 699.7 2254.3 697.2 2268.7 694.7 2266.4 692.2 2260.9 689.7 2259.0 687.2 2283.8 684.7 2308.6 682.2 2309.9 679.7 2276.0 677.2 2260.3 674.7 2283.2 672.2 2299.2 669.7 2278.9 667.2 2258.7 664.7 2262.8 662.2 2289.4 659.7 2316.0 657.2 2304.9 654.7 2279.0 652.2 2253.1 649.7 2274.2 647.2 2299.4 644.7 2311.8 642.2 2291.5 639.7 2271.1 637.2 2250.8 634.7 2244.0 632.2 2245.2 629.7 2240.5 627.2 2240.5 624.7 2240.5 622.2 2240.5 619.7 2240.5 617.2 2240.5 614.7 2240.5 612.2 2240.5 609.7 2240.5 607.2 2240.5 604.7 2240.5 602.2 2240.5 599.7 2240.5 597.2 2240.5 594.7 2240.5 592.2 2240.5 589.7 2240.5 587.2 2240.5 584.7 2240.5 582.2 2240.5 579.7 2240.5 577.2 2240.5 574.7 2240.5 572.2 2240.5 569.7 2240.5 567.2 2240.5 564.7 2240.5 562.2 2240.5 559.7 2240.5 557.2 2240.5 554.7 2240.5 552.2 2240.5 549.7 2240.5 547.2 2240.5 544.7 2240.5 542.2 2240.5 539.7 2240.5 537.2 2240.5 534.7 2240.5 532.2 2240.5 529.7 2240.5 527.2 2240.5 524.7 2240.5 522.2 2240.5 519.7 2240.5 517.2 2240.5 514.7 2240.5 512.2 2240.5 509.7 2240.5 507.2 2240.5 504.7 2240.5 502.2 2240.5 499.7 2240.5 497.2 2240.5 494.7 2240.5 492.2 2240.5 489.7 2240.5 487.2 2240.5 484.7 2240.5 482.2 2240.5 479.7 2240.5 477.2 2240.5 474.7 2240.5 472.2 2240.5 469.7 2240.5 467.2 2240.5 464.7 2240.5 462.2 2240.5 459.7 2240.5 457.2 2240.5 454.7 2240.5 452.2 2240.5 449.7 2240.5 447.2 2240.5 444.7 2240.5 442.2 2240.5 439.7 2240.5 437.2 2240.5 434.7 2240.5 432.2 2240.5 429.7 2240.5 427.2 2240.5 424.7 2240.5 422.2 2240.5 419.7 2240.5 417.2 2240.5 414.7 2240.5 412.2 2240.5 409.7 2240.5 407.2 2240.5 404.7 2240.5 402.2 2240.5 399.7 2240.5 397.2 2240.5 394.7 2240.5 392.2 2240.5 389.7 2240.5 387.2 2240.5 384.7 2240.5 382.2 2240.5 379.7 2240.5 377.2 2240.5 374.7 2240.5 372.2 2240.5 369.7 2240.5 367.2 2240.5 364.7 2240.5 362.2 2240.5 359.7 2240.5 357.2 2240.5 354.7 2240.5 352.2 2240.5 349.7 2240.5 347.2 2240.5 344.7 2240.5 342.2 2240.5 339.7 2240.5 337.2 2240.5 334.7 2240.5 332.2 2240.5 329.7 2240.5 327.2 2240.5 324.7 2240.5 322.2 2240.5 319.7 2240.5 317.2 2240.5 314.7 2240.5 312.2 2240.5 309.7 2240.5 307.2 2240.5 304.7 2240.5 302.2 2240.5 299.7 2240.5 297.2 2240.5 294.7 2240.5 292.2 2240.5 289.7 2240.5 287.2 2240.5 284.7 2240.5 282.2 2240.5 279.7 2240.5 277.2 2240.5 274.7 2240.5 272.2 2240.5 269.7 2240.5 267.2 2240.5 264.7 2240.5 262.2 2240.5 259.7 2240.5 257.2 2240.5 254.7 2240.5 252.2 2240.5 249.7 2240.5 247.2 2240.5 244.7 2240.5 242.2 2240.5 239.7 2240.5 237.2 2240.5 234.7 2240.5 232.2 2240.5 229.7 2240.5 227.2 2240.5 224.7 2240.5 222.2 2240.5 219.7 2240.5 217.2 2240.5 214.7 2240.5 212.2 2240.5 209.7 2240.5 207.2 2240.5 204.7 2240.5 202.2 2240.5 199.7 2240.5 197.2 2240.5 194.7 2240.5 192.2 2240.5 189.7 2240.5 187.2 2240.5 184.7 2240.5 182.2 2240.5 179.7 2240.5 177.2 2240.5 174.7 2240.5 172.2 2240.5 169.7 2240.5 167.2 2240.5 164.7 2240.5 162.2 2240.5 159.7 2240.5 157.2 2240.5 154.7 2240.5 152.2 2240.5 149.7 2240.5 147.2 2240.5 144.7 2240.5 142.2 2240.5 139.7 2240.5 137.2 2240.5 134.7 2240.5 132.2 2240.5 129.7 2240.5 127.2 2240.5 124.7 2240.5 122.2 2240.5 119.7 2240.5 117.2 2240.5 114.7 2240.5 112.2 2240.5 109.7 2240.5Z" fill="#ebebeb"/>
<g fill="none" stroke="#d9d9d9" stroke-width="3.0">
<path d="M109.7 2226.5l5 -0.6 5 -1.2 5 -1.5 5 -0.9 5 -1.7 5 -0.5 5 -0.2 5 -0.3 5 -1.1 5 -0.2 5 0.2 5 -0.2 5 -0.4 5 -1 5 -0 5 -3.4 5 -2.4 5 -2.1 5 -1 5 -1.1 5 -0.9 5 -1.2 5 -1.2 5 -0.9 5 -0.7 5 -1.2 5 -0.6 5 -1 5 -0.7 5 0.2 5 -1 5 -1.1 5 -0.1 5 -0.3 5 -0 5 0.2 5 0 5 -0.3 5 -0 5 -0.5 5 0.2 5 0.7 5 -0.3 5 0.1 5 -0.8 5 0.9 5 -0.9 5 0.2 5 0.4 5 0.3 5 0.1 5 1.7 5 2.4 5 2.6 5 0.2 5 0.5 5 0.6 5 -0.1 5 0.9 5 0.3 5 -0.8 5 0.9 5 0.4 5 0.5 5 0.3 5 0.9 5 2.7 5 3 5 3.8 5 3.7 5 3.2 5 3.2 5 2.7 5 1.7 5 -0.6 5 -0.2 5 -0.2 5 -1.1 5 0.2 5 -0.4 5 0 5 -0.3 5 -0.5 5 1.9 5 0.8 5 -0.5 5 -1.3 5 -3.1 5 -1.9 5 -1.7 5 -2.3 5 -2.2 5 -1.9 5 -2.9 5 -1.8 5 -1.2 5 1 5 -0.4 5 0.3 5 -0.4 5 -0.4 5 -0.2 5 0.2 5 -16.6 5 -7.1 5 -27 5 -41 5 38.1 5 -5.3 5 -36.6 5 53.6 5 -16.5 5 -4.4 5 7 5 -32.6 5 49.4 5 -7.5 5 13.1 5 1.8 5 -6.5 5 15.7 5 -26 5 14.4 5 16.4 5 -7 5 6.5 5 -2.3 5 -6.4 5 12.4 5 -4.6 5 -11.7 5 16.8 5 6.5 5 -3.5 5 6.4 5 7.6 5 3.5 5 4.7 5 -0.2 5 -0.1 5 0.2 5 -0.1 5 0.4 5 0 5 -3.7 5 -3.6 5 -0.5 5 -0.3 5 -0.1 5 -0.1 5 1 5 0.5 5 1.1 5 1.4 5 -0.7 5 -1.2 5 -1.2 5 -0.9 5 0.1 5 0.1 5 0.9 5 -0 5 -0 5 0 5 1.1 5 -0.4 5 1.5 5 1.8 5 1.4 5 1.8 5 0.7 5 1 5 1.1 5 -5.3 5 -6.1 5 -5.1 5 0.2 5 1.6 5 1.1 5 0.9 5 -1.3 5 -0.8 5 -16.6 5 13.5 5 10.1 5 4.4 5 0 5 0.4 5 0.3 5 -0.5 5 -0.2 5 0 5 0.3 5 0.3 5 0.3 5 -0.7 5 0.6 5 -0.5 5 0.1 5 0 5 0.3 5 -0.2 3.4 -0.1"/>
<path d="M109.7 2233.5l5 -0.3 5 -1 5 -1.3 5 -0.7 5 -1.5 5 -0.5 5 -0.1 5 -0.3 5 -1 5 -0.1 5 0.2 5 -0.3 5 -0.3 5 -1 5 0 5 -3.2 5 -2.3 5 -2.1 5 -1.1 5 -1.2 5 -0.9 5 -1.3 5 -1.3 5 -1 5 -0.9 5 -1.3 5 -0.7 5 -1.2 5 -0.9 5 -0 5 -1.3 5 -1.2 5 -0.3 5 -0.4 5 0 5 0.2 5 0 5 -0.3 5 0 5 -0.5 5 0.3 5 0.6 5 -0.3 5 0.2 5 -0.9 5 0.9 5 -0.8 5 0.1 5 0.4 5 0.3 5 0.2 5 2.4 5 3 5 2.9 5 0.3 5 0.5 5 0.6 5 -0 5 0.8 5 0.4 5 -0.8 5 0.9 5 0.5 5 0.5 5 0.3 5 1 5 2.8 5 3 5 3.5 5 3.4 5 2.7 5 2.5 5 1.8 5 1.4 5 -0.6 5 0 5 -0.1 5 -1 5 0.3 5 -0.3 5 0.1 5 -0.2 5 -0.7 5 1.6 5 0.7 5 -0.7 5 -0.7 5 -2.4 5 -1.4 5 -1.4 5 -2 5 -1.9 5 -1.8 5 -2.8 5 -1.7 5 -1.2 5 1 5 -0.4 5 0.3 5 -0.4 5 -0.4 5 -0.3 5 0.3 5 -19.4 5 -11.3 5 -25.3 5 -38.6 5 35.8 5 -5 5 -34.3 5 50.3 5 -15.4 5 -4.2 5 6.6 5 -30.6 5 46.3 5 -7.1 5 12.4 5 1.7 5 -6.1 5 14.7 5 -24.4 5 13.6 5 19 5 -10.2 5 9.8 5 -5.9 5 -6 5 17.2 5 -7.3 5 -13.5 5 21.5 5 7.8 5 -4 5 7.3 5 7.7 5 3.1 5 4.3 5 -0.2 5 -0.2 5 0.2 5 -0 5 0.3 5 0.1 5 -3.3 5 -3.3 5 -0.5 5 -0.3 5 -0 5 -0.2 5 1 5 0.4 5 1.1 5 1.3 5 -0.7 5 -1.1 5 -1.2 5 -0.7 5 0.1 5 -0 5 0.9 5 -0.1 5 0.1 5 -0 5 1.1 5 -0.5 5 1.4 5 1.7 5 1.8 5 2.2 5 1.2 5 1.5 5 1.5 5 -5.1 5 -6.3 5 -5.7 5 -0.4 5 1 5 1.1 5 0.9 5 -1.3 5 -0.8 5 -19.7 5 16.4 5 10 5 4 5 -0.1 5 0.4 5 0.3 5 -0.5 5 -0.2 5 -0 5 0.2 5 0.4 5 0.3 5 -0.7 5 0.6 5 -0.5 5 0.1 5 -0 5 0.2 5 -0.1 3.4 -0.2"/>
<path d="M109.7 2238.3l5 0.1 5 -0.7 5 -0.9 5 -0.4 5 -1.2 5 -0.3 5 -0 5 -0.3 5 -1 5 0 5 0.3 5 -0.2 5 -0.3 5 -0.9 5 0.1 5 -2.7 5 -1.9 5 -1.9 5 -1 5 -1.1 5 -0.9 5 -1.3 5 -1.3 5 -0.9 5 -1 5 -1.3 5 -0.7 5 -1.2 5 -1 5 -0.1 5 -1.4 5 -1.4 5 -0.3 5 -0.4 5 -0 5 0.2 5 0 5 -0.3 5 0 5 -0.5 5 0.2 5 0.7 5 -0.3 5 0.1 5 -0.8 5 0.9 5 -0.9 5 0.2 5 0.4 5 0.3 5 0.1 5 2.9 5 3.1 5 3 5 0.2 5 0.6 5 0.6 5 -0.1 5 0.9 5 0.3 5 -0.8 5 0.9 5 0.5 5 0.4 5 0.4 5 0.9 5 2.5 5 2.5 5 3 5 2.7 5 1.9 5 1.5 5 0.6 5 0.9 5 -0.4 5 0.1 5 0 5 -0.9 5 0.5 5 -0.2 5 0.3 5 -0.1 5 -0.9 5 1.3 5 0.3 5 -0.7 5 0.1 5 -1.7 5 -0.7 5 -0.8 5 -1.5 5 -1.4 5 -1.3 5 -2.5 5 -1.4 5 -1.1 5 1 5 -0.5 5 0.4 5 -0.4 5 -0.4 5 -0.3 5 0.2 5 -19.8 5 -14.1 5 -20.6 5 -31.5 5 29.3 5 -4.2 5 -27.8 5 41 5 -12.6 5 -3.5 5 5.4 5 -25 5 37.7 5 -5.7 5 10.2 5 1.3 5 -5 5 12 5 -19.9 5 11.1 5 19.4 5 -12.3 5 11.9 5 -8.6 5 -4.9 5 19.9 5 -9.2 5 -13.7 5 23.6 5 8.3 5 -4.1 5 7.2 5 7 5 2.4 5 3.4 5 -0.3 5 -0.2 5 0.3 5 -0.1 5 0.3 5 0.1 5 -2.5 5 -2.6 5 -0.4 5 -0.4 5 0.1 5 -0.2 5 0.9 5 0.2 5 0.9 5 1.2 5 -0.6 5 -0.9 5 -1 5 -0.6 5 0.1 5 -0 5 0.8 5 -0.1 5 0 5 0 5 1 5 -0.4 5 1 5 1.4 5 2 5 2.5 5 1.4 5 1.9 5 1.8 5 -4.4 5 -5.8 5 -5.5 5 -1 5 0.3 5 0.9 5 0.9 5 -1.2 5 -0.8 5 -20.4 5 17.5 5 8.6 5 2.9 5 -0.1 5 0.4 5 0.3 5 -0.5 5 -0.2 5 0 5 0.3 5 0.3 5 0.3 5 -0.7 5 0.6 5 -0.5 5 0.1 5 -0 5 0.3 5 -0.2 3.4 -0.1"/>
<path d="M109.7 2240.3l5 0.5 5 -0.2 5 -0.5 5 -0 5 -0.8 5 -0 5 -0 5 -0.1 5 -0.9 5 0 5 0.4 5 -0.1 5 -0.2 5 -0.8 5 0.2 5 -1.9 5 -1.2 5 -1.5 5 -0.8 5 -1 5 -0.6 5 -1.2 5 -1.1 5 -0.8 5 -0.8 5 -1.3 5 -0.6 5 -1.2 5 -0.9 5 -0 5 -1.4 5 -1.3 5 -0.4 5 -0.4 5 0 5 0.2 5 0 5 -0.3 5 0 5 -0.5 5 0.3 5 0.6 5 -0.3 5 0.2 5 -0.9 5 0.9 5 -0.8 5 0.1 5 0.4 5 0.3 5 0.2 5 2.8 5 2.8 5 2.7 5 0.2 5 0.5 5 0.6 5 -0.1 5 0.8 5 0.3 5 -0.8 5 0.8 5 0.4 5 0.5 5 0.3 5 0.7 5 1.8 5 1.8 5 2.1 5 1.7 5 0.8 5 0.3 5 -0.7 5 0.4 5 -0.2 5 0.2 5 0.2 5 -0.8 5 0.7 5 -0.1 5 0.4 5 0.1 5 -1.2 5 1 5 -0.1 5 -0.8 5 1.1 5 -0.9 5 0.1 5 0 5 -0.8 5 -0.8 5 -0.7 5 -1.9 5 -0.9 5 -1 5 1 5 -0.4 5 0.3 5 -0.4 5 -0.4 5 -0.3 5 0.3 5 -17.9 5 -15.1 5 -13.5 5 -20.6 5 19.2 5 -2.8 5 -18 5 26.9 5 -8.4 5 -2.4 5 3.5 5 -16.3 5 24.6 5 -3.9 5 7.1 5 0.8 5 -3.5 5 7.9 5 -13.1 5 7.5 5 17.3 5 -13 5 12.7 5 -10.3 5 -3.3 5 20.3 5 -9.9 5 -12.4 5 23 5 7.6 5 -3.7 5 6.3 5 5.5 5 1.3 5 2.2 5 -0.4 5 -0.2 5 0.3 5 -0.1 5 0.3 5 0.1 5 -1.5 5 -1.6 5 -0.3 5 -0.3 5 0.1 5 -0 5 0.5 5 0 5 0.6 5 0.9 5 -0.3 5 -0.6 5 -0.7 5 -0.4 5 0 5 -0 5 0.7 5 -0.1 5 -0.1 5 -0.1 5 1 5 -0.5 5 0.6 5 1 5 1.9 5 2.4 5 1.5 5 2 5 1.9 5 -3.1 5 -4.6 5 -4.6 5 -1.6 5 -0.3 5 0.7 5 0.6 5 -1.1 5 -0.5 5 -18.7 5 16.5 5 6.1 5 1.6 5 -0.2 5 0.4 5 0.3 5 -0.5 5 -0.2 5 0 5 0.3 5 0.3 5 0.3 5 -0.7 5 0.6 5 -0.5 5 0.1 5 -0 5 0.3 5 -0.2 3.4 -0.1"/>
<path d="M109.7 2239.4l5 1 5 0.2 5 -0 5 0.4 5 -0.4 5 0.3 5 0.1 5 0 5 -0.8 5 0.2 5 0.5 5 0 5 -0.1 5 -0.7 5 0.3 5 -0.8 5 -0.3 5 -1 5 -0.5 5 -0.7 5 -0.4 5 -0.9 5 -0.8 5 -0.6 5 -0.6 5 -1 5 -0.5 5 -0.9 5 -0.8 5 0.1 5 -1.1 5 -1.3 5 -0.2 5 -0.4 5 -0 5 0.2 5 0 5 -0.3 5 0 5 -0.5 5 0.2 5 0.7 5 -0.3 5 0.1 5 -0.8 5 0.9 5 -0.9 5 0.2 5 0.4 5 0.3 5 0.1 5 2.3 5 2.3 5 2.1 5 0.1 5 0.5 5 0.5 5 -0.2 5 0.8 5 0.2 5 -0.9 5 0.8 5 0.3 5 0.4 5 0.2 5 0.4 5 0.9 5 0.7 5 1 5 0.7 5 -0.4 5 -1 5 -2 5 -0 5 -0.1 5 0.4 5 0.3 5 -0.6 5 0.7 5 0.1 5 0.6 5 0.1 5 -1.3 5 0.6 5 -0.4 5 -0.9 5 1.9 5 0.1 5 0.8 5 0.9 5 -0.1 5 -0 5 -0 5 -1.2 5 -0.2 5 -0.8 5 0.9 5 -0.4 5 0.3 5 -0.3 5 -0.4 5 -0.3 5 0.2 5 -13.8 5 -14.3 5 -4.6 5 -7.3 5 7 5 -1.4 5 -5.9 5 9.6 5 -3.2 5 -0.9 5 1.1 5 -5.6 5 8.3 5 -1.4 5 3.1 5 0.1 5 -1.4 5 2.7 5 -4.6 5 2.8 5 13.3 5 -12.2 5 11.9 5 -10.7 5 -1.2 5 18 5 -9.3 5 -9.5 5 19.4 5 6.3 5 -3 5 4.7 5 3.4 5 -0.1 5 0.8 5 -0.5 5 -0.2 5 0.3 5 -0.1 5 0.3 5 0.1 5 -0.3 5 -0.5 5 -0.2 5 -0.1 5 0.1 5 0.1 5 0.2 5 -0.3 5 0.3 5 0.5 5 0 5 -0.3 5 -0.4 5 0 5 -0 5 -0.2 5 0.7 5 -0.2 5 -0.2 5 -0.1 5 0.8 5 -0.6 5 0.2 5 0.5 5 1.5 5 2.2 5 1.3 5 1.9 5 1.7 5 -1.4 5 -2.9 5 -3.1 5 -2 5 -0.8 5 0.4 5 0.2 5 -0.8 5 -0.3 5 -14.7 5 13.6 5 2.9 5 0 5 -0.3 5 0.4 5 0.3 5 -0.5 5 -0.2 5 0 5 0.3 5 0.3 5 0.3 5 -0.7 5 0.6 5 -0.5 5 0.1 5 0 5 0.3 5 -0.2 3.4 -0.1"/>
<path d="M109.7 2235.5l5 1.4 5 0.7 5 0.4 5 0.8 5 0 5 0.6 5 0.2 5 0.1 5 -0.6 5 0.3 5 0.5 5 0.2 5 -0 5 -0.6 5 0.4 5 0.3 5 0.8 5 -0.4 5 -0.2 5 -0.3 5 -0.1 5 -0.6 5 -0.5 5 -0.2 5 -0.2 5 -0.8 5 -0.2 5 -0.7 5 -0.5 5 0.4 5 -0.9 5 -0.9 5 -0.1 5 -0.4 5 0 5 0.2 5 0 5 -0.3 5 0 5 -0.5 5 0.3 5 0.6 5 -0.3 5 0.2 5 -0.9 5 0.9 5 -0.8 5 0.1 5 0.4 5 0.3 5 0.1 5 1.4 5 1.4 5 1.3 5 0 5 0.4 5 0.4 5 -0.2 5 0.6 5 0.1 5 -0.9 5 0.7 5 0.2 5 0.3 5 0.1 5 0.1 5 -0.3 5 -0.4 5 -0.1 5 -0.5 5 -1.5 5 -2.1 5 -3.2 5 -0.4 5 0 5 0.6 5 0.4 5 -0.5 5 0.8 5 0.2 5 0.7 5 0.3 5 -1.5 5 0.3 5 -0.7 5 -1 5 2.7 5 0.8 5 1.6 5 1.6 5 0.7 5 0.7 5 0.8 5 -0.4 5 0.5 5 -0.6 5 1 5 -0.5 5 0.4 5 -0.4 5 -0.4 5 -0.3 5 0.2 5 -8.1 5 -11.6 5 4.8 5 6.8 5 -6.1 5 0.3 5 7 5 -9 5 2.5 5 0.6 5 -1.4 5 5.7 5 -8.9 5 1.1 5 -1.1 5 -0.6 5 0.7 5 -2.8 5 4.4 5 -2 5 7.7 5 -10.1 5 9.7 5 -9.7 5 1 5 13.5 5 -7.6 5 -5.5 5 13.6 5 4 5 -1.8 5 2.4 5 1 5 -1.5 5 -0.6 5 -0.6 5 -0.2 5 0.3 5 -0.1 5 0.3 5 0.1 5 0.8 5 0.7 5 0.1 5 -0.1 5 0.2 5 0.1 5 -0 5 -0.7 5 -0.1 5 0.2 5 0.4 5 -0 5 -0.1 5 0.4 5 -0.1 5 -0.3 5 0.6 5 -0.3 5 -0.2 5 -0.3 5 0.8 5 -0.7 5 -0.3 5 -0.1 5 1.1 5 1.6 5 1 5 1.5 5 1.4 5 0.4 5 -1 5 -1.1 5 -2.2 5 -1.1 5 -0 5 -0.1 5 -0.5 5 -0.1 5 -8.9 5 9.1 5 -0.8 5 -1.5 5 -0.4 5 0.4 5 0.3 5 -0.5 5 -0.2 5 0 5 0.3 5 0.3 5 0.3 5 -0.7 5 0.6 5 -0.5 5 0.1 5 -0 5 0.3 5 -0.2 3.4 -0.1"/>
<path d="M109.7 2229.2l5 1.7 5 1.1 5 0.7 5 1.2 5 0.4 5 0.8 5 0.3 5 0.2 5 -0.6 5 0.4 5 0.7 5 0.3 5 0.1 5 -0.5 5 0.4 5 1.4 5 1.9 5 0.2 5 0.2 5 -0 5 0.3 5 -0.2 5 -0.2 5 0.2 5 0.1 5 -0.4 5 0.1 5 -0.3 5 -0.2 5 0.8 5 -0.6 5 -0.6 5 0.2 5 -0.4 5 -0 5 0.2 5 0 5 -0.3 5 0 5 -0.5 5 0.2 5 0.7 5 -0.3 5 0.2 5 -0.9 5 0.9 5 -0.9 5 0.2 5 0.4 5 0.3 5 0.1 5 0.3 5 0.3 5 0.3 5 -0.1 5 0.3 5 0.3 5 -0.4 5 0.6 5 0 5 -1 5 0.6 5 0.1 5 0.2 5 0 5 -0.2 5 -1.5 5 -1.6 5 -1.1 5 -1.5 5 -2.6 5 -2.9 5 -4 5 -0.7 5 0.1 5 0.6 5 0.5 5 -0.4 5 0.9 5 0.3 5 0.8 5 0.3 5 -1.6 5 0.1 5 -0.9 5 -1.1 5 3.3 5 1.3 5 2.3 5 2.2 5 1.3 5 1.4 5 1.5 5 0.3 5 1.3 5 -0.5 5 1 5 -0.4 5 0.3 5 -0.4 5 -0.4 5 -0.3 5 0.3 5 -1.5 5 -7.5 5 13.6 5 20.1 5 -18.4 5 1.9 5 19.1 5 -26.3 5 7.7 5 1.9 5 -3.6 5 16.2 5 -25.1 5 3.6 5 -5 5 -1.3 5 2.7 5 -7.9 5 12.8 5 -6.6 5 1.1 5 -6.8 5 6.3 5 -7.5 5 3.1 5 7.4 5 -4.9 5 -0.9 5 6.1 5 1.4 5 -0.6 5 -0 5 -1.6 5 -2.8 5 -1.9 5 -0.6 5 -0.2 5 0.2 5 -0 5 0.3 5 0.1 5 1.8 5 1.8 5 0.2 5 -0 5 0.3 5 0.2 5 -0.3 5 -1 5 -0.4 5 -0.1 5 0.6 5 0.3 5 0.3 5 0.6 5 -0.1 5 -0.3 5 0.5 5 -0.4 5 -0.3 5 -0.4 5 0.7 5 -0.7 5 -0.8 5 -0.5 5 0.4 5 0.9 5 0.5 5 0.9 5 0.9 5 2.2 5 1.1 5 1 5 -2.2 5 -1.2 5 -0.4 5 -0.4 5 -0.3 5 0.3 5 -2.1 5 3.5 5 -4.4 5 -2.8 5 -0.5 5 0.4 5 0.3 5 -0.5 5 -0.2 5 -0 5 0.3 5 0.3 5 0.3 5 -0.7 5 0.6 5 -0.5 5 0.1 5 -0 5 0.3 5 -0.2 3.4 -0.2"/>
<path d="M109.7 2221.3l5 1.9 5 1.3 5 0.9 5 1.5 5 0.6 5 1 5 0.4 5 0.3 5 -0.5 5 0.5 5 0.7 5 0.4 5 0.1 5 -0.4 5 0.6 5 2.1 5 2.9 5 0.7 5 0.6 5 0.3 5 0.6 5 0.2 5 0.2 5 0.5 5 0.6 5 -0.2 5 0.5 5 0 5 0.2 5 1.1 5 -0.1 5 -0.2 5 0.4 5 -0.4 5 0 5 0.2 5 0.1 5 -0.4 5 0.1 5 -0.6 5 0.3 5 0.7 5 -0.3 5 0.1 5 -0.8 5 0.9 5 -0.9 5 0.1 5 0.4 5 0.3 5 0.1 5 -1 5 -0.8 5 -0.7 5 -0.1 5 0.2 5 0.2 5 -0.5 5 0.5 5 -0.1 5 -1.1 5 0.5 5 0 5 0.1 5 -0 5 -0.7 5 -2.6 5 -2.5 5 -2 5 -2.3 5 -3.2 5 -3.5 5 -4.4 5 -0.8 5 0.2 5 0.6 5 0.5 5 -0.4 5 1 5 0.3 5 0.8 5 0.4 5 -1.7 5 0 5 -1 5 -1 5 3.5 5 1.6 5 2.6 5 2.6 5 1.8 5 1.9 5 2.1 5 0.9 5 1.9 5 -0.3 5 0.9 5 -0.4 5 0.3 5 -0.3 5 -0.4 5 -0.3 5 0.2 5 5.4 5 -2.5 5 20.9 5 30.9 5 -28.4 5 3.2 5 28.9 5 -40.5 5 12 5 3.1 5 -5.6 5 24.9 5 -38.3 5 5.6 5 -8.3 5 -1.8 5 4.3 5 -12.1 5 19.7 5 -10.3 5 -5.6 5 -2.8 5 2.2 5 -4.3 5 4.7 5 0.4 5 -1.5 5 3.7 5 -2.1 5 -1.4 5 0.7 5 -2.5 5 -3.8 5 -4 5 -2.7 5 -0.7 5 -0.1 5 0.2 5 -0.1 5 0.4 5 0 5 2.6 5 2.7 5 0.3 5 0 5 0.4 5 0.3 5 -0.6 5 -1.3 5 -0.6 5 -0.4 5 0.8 5 0.7 5 0.5 5 0.9 5 -0.2 5 -0.4 5 0.4 5 -0.4 5 -0.4 5 -0.4 5 0.7 5 -0.9 5 -1.1 5 -0.9 5 -0.4 5 0.2 5 -0.1 5 0.3 5 0.3 5 3.7 5 2.9 5 3.2 5 -2 5 -1.2 5 -0.6 5 -0.7 5 -0.1 5 0.5 5 5 5 -2.3 5 -7.6 5 -3.8 5 -0.6 5 0.4 5 0.3 5 -0.4 5 -0.3 5 0 5 0.3 5 0.3 5 0.4 5 -0.8 5 0.6 5 -0.5 5 0.1 5 0 5 0.3 5 -0.2 3.4 -0.1"/>
<path d="M109.7 2212.6l5 2 5 1.3 5 1 5 1.6 5 0.8 5 1.1 5 0.4 5 0.3 5 -0.4 5 0.5 5 0.8 5 0.3 5 0.3 5 -0.4 5 0.6 5 2.7 5 3.5 5 1.2 5 0.8 5 0.6 5 0.9 5 0.5 5 0.5 5 0.9 5 0.8 5 0.2 5 0.8 5 0.3 5 0.6 5 1.4 5 0.3 5 0.2 5 0.7 5 -0.4 5 -0 5 0.2 5 0 5 -0.3 5 0 5 -0.5 5 0.2 5 0.7 5 -0.3 5 0.1 5 -0.8 5 0.9 5 -0.9 5 0.2 5 0.4 5 0.3 5 0 5 -2.2 5 -1.9 5 -1.5 5 -0.3 5 0.1 5 0.2 5 -0.6 5 0.4 5 -0.1 5 -1.3 5 0.5 5 -0.1 5 0 5 -0.1 5 -0.9 5 -3.4 5 -3.2 5 -2.6 5 -2.8 5 -3.4 5 -3.7 5 -4.4 5 -0.7 5 0.1 5 0.6 5 0.5 5 -0.3 5 0.9 5 0.3 5 0.8 5 0.4 5 -1.7 5 0.1 5 -1 5 -1.1 5 3.4 5 1.7 5 2.7 5 2.7 5 2.1 5 2.2 5 2.3 5 1.3 5 2.4 5 -0.2 5 1 5 -0.4 5 0.3 5 -0.4 5 -0.4 5 -0.3 5 0.3 5 11.5 5 2.9 5 25.6 5 37.9 5 -34.9 5 4 5 35.4 5 -49.7 5 14.8 5 3.8 5 -6.8 5 30.6 5 -46.9 5 6.8 5 -10.4 5 -2.1 5 5.3 5 -14.8 5 24.2 5 -12.7 5 -11.8 5 1.6 5 -2.2 5 -0.5 5 5.8 5 -6.8 5 2.1 5 7.9 5 -10 5 -4.1 5 1.9 5 -4.7 5 -5.5 5 -4.7 5 -3.2 5 -0.7 5 -0.2 5 0.3 5 -0.1 5 0.3 5 0.1 5 2.9 5 3.3 5 0.3 5 0.2 5 0.4 5 0.3 5 -0.8 5 -1.4 5 -0.8 5 -0.5 5 0.9 5 0.8 5 0.7 5 1.1 5 -0.2 5 -0.5 5 0.4 5 -0.5 5 -0.4 5 -0.4 5 0.6 5 -0.9 5 -1.4 5 -1.1 5 -1 5 -0.6 5 -0.8 5 -0.3 5 -0.4 5 4.8 5 4.4 5 4.9 5 -1.5 5 -0.9 5 -0.8 5 -1 5 0.1 5 0.7 5 11.5 5 -7.8 5 -9.9 5 -4.4 5 -0.6 5 0.4 5 0.3 5 -0.5 5 -0.2 5 0 5 0.3 5 0.3 5 0.3 5 -0.7 5 0.6 5 -0.5 5 0.1 5 -0 5 0.3 5 -0.2 3.4 -0.1"/>
<path d="M109.7 2204.3l5 1.9 5 1.2 5 0.9 5 1.6 5 0.7 5 1.1 5 0.5 5 0.3 5 -0.5 5 0.5 5 0.9 5 0.3 5 0.2 5 -0.3 5 0.6 5 2.9 5 3.9 5 1.4 5 1 5 0.7 5 1.2 5 0.6 5 0.8 5 1 5 1.2 5 0.4 5 1 5 0.6 5 0.8 5 1.8 5 0.5 5 0.6 5 0.9 5 -0.4 5 0 5 0.3 5 -0 5 -0.4 5 0.1 5 -0.6 5 0.3 5 0.7 5 -0.3 5 0.1 5 -0.8 5 0.9 5 -0.9 5 0.1 5 0.4 5 0.3 5 0.1 5 -3.4 5 -2.7 5 -2.2 5 -0.3 5 0.1 5 0 5 -0.6 5 0.4 5 -0.2 5 -1.3 5 0.3 5 -0 5 -0.1 5 -0.1 5 -1.2 5 -3.9 5 -3.5 5 -2.8 5 -2.8 5 -3.4 5 -3.4 5 -3.8 5 -0.5 5 0 5 0.6 5 0.4 5 -0.4 5 0.9 5 0.2 5 0.8 5 0.3 5 -1.6 5 0.2 5 -0.8 5 -1 5 3 5 1.3 5 2.5 5 2.6 5 2.1 5 2.1 5 2.5 5 1.4 5 2.6 5 -0.1 5 1 5 -0.4 5 0.3 5 -0.4 5 -0.4 5 -0.3 5 0.3 5 16.2 5 8.1 5 27.2 5 40.4 5 -37.2 5 4.3 5 37.6 5 -52.9 5 15.8 5 4 5 -7.2 5 32.5 5 -49.9 5 7.3 5 -11.1 5 -2.3 5 5.7 5 -15.7 5 25.7 5 -13.5 5 -16.4 5 5.5 5 -6.3 5 3.4 5 6.2 5 -13.2 5 5.6 5 11.1 5 -16.9 5 -6.1 5 2.8 5 -6.4 5 -6.4 5 -4.9 5 -3.2 5 -0.7 5 -0.2 5 0.2 5 -0 5 0.3 5 0.1 5 2.9 5 3.4 5 0.4 5 0.1 5 0.5 5 0.3 5 -0.8 5 -1.5 5 -0.9 5 -0.6 5 1 5 0.9 5 0.7 5 1.2 5 -0.3 5 -0.4 5 0.4 5 -0.5 5 -0.5 5 -0.5 5 0.6 5 -0.9 5 -1.4 5 -1.1 5 -1.7 5 -1.1 5 -1.4 5 -1 5 -0.9 5 5.2 5 5.3 5 6.2 5 -1 5 -0.4 5 -0.9 5 -1.1 5 0.2 5 0.8 5 16.6 5 -12.4 5 -11 5 -4.5 5 -0.5 5 0.4 5 0.3 5 -0.5 5 -0.2 5 -0 5 0.2 5 0.4 5 0.3 5 -0.7 5 0.6 5 -0.5 5 0.1 5 -0 5 0.2 5 -0.1 3.4 -0.2"/>
<path d="M109.7 2197.3l5 1.6 5 1 5 0.7 5 1.3 5 0.6 5 1 5 0.4 5 0.3 5 -0.5 5 0.5 5 0.8 5 0.3 5 0.2 5 -0.3 5 0.6 5 2.7 5 3.8 5 1.5 5 1 5 0.8 5 1.2 5 0.7 5 0.9 5 1.2 5 1.3 5 0.5 5 1.2 5 0.7 5 1 5 2 5 0.8 5 0.8 5 1.1 5 -0.4 5 0 5 0.2 5 0 5 -0.3 5 0 5 -0.5 5 0.3 5 0.6 5 -0.3 5 0.2 5 -0.9 5 1 5 -0.9 5 0.1 5 0.4 5 0.3 5 0 5 -4.1 5 -3.2 5 -2.6 5 -0.3 5 -0 5 0 5 -0.6 5 0.3 5 -0.2 5 -1.4 5 0.4 5 -0.1 5 -0.1 5 -0.2 5 -1.2 5 -4 5 -3.5 5 -2.6 5 -2.4 5 -2.9 5 -2.7 5 -2.9 5 -0.1 5 -0.1 5 0.4 5 0.3 5 -0.5 5 0.8 5 0.1 5 0.7 5 0.2 5 -1.4 5 0.4 5 -0.5 5 -1 5 2.4 5 0.8 5 2 5 2.2 5 1.7 5 2 5 2.3 5 1.3 5 2.6 5 -0.2 5 1 5 -0.4 5 0.3 5 -0.4 5 -0.4 5 -0.3 5 0.3 5 19 5 12.3 5 25.5 5 38 5 -35 5 4.1 5 35.4 5 -49.8 5 14.8 5 3.8 5 -6.8 5 30.6 5 -46.9 5 6.8 5 -10.3 5 -2.2 5 5.3 5 -14.8 5 24.2 5 -12.7 5 -19 5 8.8 5 -9.7 5 7 5 5.8 5 -18.1 5 8.5 5 12.8 5 -21.5 5 -7.5 5 3.3 5 -7.2 5 -6.5 5 -4.7 5 -2.7 5 -0.7 5 -0.1 5 0.2 5 -0.1 5 0.4 5 0 5 2.5 5 3.1 5 0.4 5 0.1 5 0.5 5 0.3 5 -0.8 5 -1.5 5 -0.8 5 -0.4 5 0.9 5 0.7 5 0.7 5 1.2 5 -0.3 5 -0.4 5 0.4 5 -0.5 5 -0.5 5 -0.4 5 0.6 5 -0.9 5 -1.3 5 -1 5 -2.1 5 -1.5 5 -1.9 5 -1.5 5 -1.4 5 5.1 5 5.5 5 6.7 5 -0.3 5 0.2 5 -0.9 5 -1.1 5 0.2 5 0.8 5 19.8 5 -15.4 5 -10.9 5 -4 5 -0.5 5 0.4 5 0.3 5 -0.5 5 -0.2 5 0 5 0.3 5 0.3 5 0.3 5 -0.7 5 0.6 5 -0.5 5 0.1 5 0 5 0.3 5 -0.2 3.4 -0.1"/>
<path d="M109.7 2192.5l5 1.2 5 0.6 5 0.4 5 1 5 0.3 5 0.8 5 0.4 5 0.2 5 -0.6 5 0.5 5 0.7 5 0.3 5 0.1 5 -0.5 5 0.6 5 2.2 5 3.4 5 1.3 5 0.9 5 0.7 5 1.2 5 0.7 5 0.8 5 1.2 5 1.3 5 0.6 5 1.2 5 0.8 5 1 5 2.1 5 0.9 5 0.9 5 1.2 5 -0.4 5 0 5 0.2 5 0.1 5 -0.4 5 0.1 5 -0.6 5 0.3 5 0.6 5 -0.2 5 0.1 5 -0.8 5 0.9 5 -0.9 5 0.1 5 0.4 5 0.3 5 0 5 -4.5 5 -3.4 5 -2.6 5 -0.3 5 0 5 0.1 5 -0.7 5 0.3 5 -0.2 5 -1.3 5 0.4 5 -0.1 5 -0.1 5 -0.1 5 -1.2 5 -3.7 5 -3 5 -2.1 5 -1.7 5 -2 5 -1.7 5 -1.8 5 0.3 5 -0.2 5 0.3 5 0.2 5 -0.7 5 0.7 5 0 5 0.5 5 0.2 5 -1.3 5 0.7 5 -0.2 5 -0.8 5 1.5 5 0 5 1.4 5 1.6 5 1.2 5 1.5 5 1.8 5 1 5 2.3 5 -0.2 5 0.9 5 -0.4 5 0.3 5 -0.4 5 -0.3 5 -0.3 5 0.2 5 19.5 5 15 5 20.9 5 30.9 5 -28.4 5 3.2 5 28.9 5 -40.5 5 12 5 3.1 5 -5.6 5 25 5 -38.4 5 5.6 5 -8.3 5 -1.8 5 4.3 5 -12.1 5 19.7 5 -10.3 5 -19.3 5 10.9 5 -11.9 5 9.8 5 4.8 5 -20.9 5 10.3 5 13.1 5 -23.7 5 -7.8 5 3.3 5 -7.2 5 -5.7 5 -4 5 -1.8 5 -0.6 5 -0.2 5 0.3 5 -0.1 5 0.3 5 0.1 5 1.7 5 2.5 5 0.3 5 0 5 0.5 5 0.2 5 -0.6 5 -1.3 5 -0.6 5 -0.3 5 0.8 5 0.5 5 0.5 5 1 5 -0.2 5 -0.4 5 0.4 5 -0.4 5 -0.4 5 -0.4 5 0.6 5 -0.8 5 -1.1 5 -0.7 5 -2.2 5 -1.8 5 -2.2 5 -1.7 5 -1.7 5 4.3 5 5 5 6.6 5 0.2 5 0.9 5 -0.8 5 -0.9 5 0.1 5 0.7 5 20.5 5 -16.5 5 -9.5 5 -2.9 5 -0.5 5 0.4 5 0.3 5 -0.5 5 -0.2 5 -0 5 0.3 5 0.3 5 0.3 5 -0.7 5 0.6 5 -0.5 5 0.1 5 -0 5 0.3 5 -0.2 3.4 -0.2"/>
<path d="M109.7 2190.4l5 0.8 5 0.1 5 0 5 0.6 5 -0.1 5 0.6 5 0.3 5 0.1 5 -0.7 5 0.3 5 0.7 5 0.1 5 0.1 5 -0.5 5 0.4 5 1.4 5 2.6 5 1 5 0.7 5 0.6 5 0.9 5 0.6 5 0.6 5 1.1 5 1.2 5 0.4 5 1.2 5 0.7 5 1 5 2 5 0.8 5 1 5 1.2 5 -0.4 5 0 5 0.2 5 0 5 -0.3 5 0 5 -0.5 5 0.3 5 0.6 5 -0.3 5 0.2 5 -0.9 5 0.9 5 -0.8 5 0.1 5 0.4 5 0.3 5 0 5 -4.4 5 -3.2 5 -2.3 5 -0.3 5 0.1 5 0 5 -0.6 5 0.4 5 -0.2 5 -1.2 5 0.4 5 -0.1 5 0 5 -0.1 5 -1 5 -3 5 -2.3 5 -1.1 5 -0.8 5 -0.9 5 -0.6 5 -0.4 5 0.8 5 -0.4 5 0.2 5 0 5 -0.8 5 0.5 5 -0.1 5 0.4 5 -0 5 -1.1 5 1.1 5 0.2 5 -0.7 5 0.5 5 -0.8 5 0.5 5 1 5 0.4 5 0.8 5 1.3 5 0.4 5 1.7 5 -0.3 5 1 5 -0.4 5 0.3 5 -0.4 5 -0.4 5 -0.3 5 0.3 5 17.5 5 16.1 5 13.7 5 20 5 -18.4 5 1.9 5 19.1 5 -26.3 5 7.7 5 1.9 5 -3.6 5 16.2 5 -25.1 5 3.6 5 -5 5 -1.3 5 2.7 5 -7.9 5 12.8 5 -6.6 5 -17.4 5 11.7 5 -12.6 5 11.4 5 3.1 5 -21.1 5 11 5 11.7 5 -23 5 -7.3 5 3 5 -6.3 5 -4.2 5 -2.9 5 -0.6 5 -0.5 5 -0.2 5 0.2 5 -0 5 0.3 5 0.1 5 0.7 5 1.5 5 0.1 5 0 5 0.4 5 0.2 5 -0.4 5 -1 5 -0.3 5 -0 5 0.5 5 0.2 5 0.3 5 0.7 5 -0.2 5 -0.3 5 0.5 5 -0.4 5 -0.3 5 -0.4 5 0.8 5 -0.8 5 -0.7 5 -0.2 5 -2.2 5 -1.7 5 -2.3 5 -1.8 5 -1.8 5 3 5 3.8 5 5.7 5 0.8 5 1.5 5 -0.5 5 -0.7 5 -0.1 5 0.5 5 18.8 5 -15.5 5 -7.1 5 -1.5 5 -0.4 5 0.4 5 0.3 5 -0.5 5 -0.2 5 -0 5 0.3 5 0.3 5 0.3 5 -0.7 5 0.6 5 -0.5 5 0.1 5 -0 5 0.3 5 -0.2 3.4 -0.2"/>
<path d="M109.7 2191.4l5 0.3 5 -0.3 5 -0.4 5 0.1 5 -0.5 5 0.3 5 0.1 5 0 5 -0.7 5 0.2 5 0.5 5 0.1 5 -0.1 5 -0.6 5 0.3 5 0.4 5 1.7 5 0.4 5 0.4 5 0.3 5 0.7 5 0.3 5 0.4 5 0.8 5 0.9 5 0.3 5 0.9 5 0.6 5 0.8 5 1.8 5 0.7 5 0.8 5 1.1 5 -0.4 5 0 5 0.2 5 0.1 5 -0.4 5 0.1 5 -0.6 5 0.3 5 0.6 5 -0.3 5 0.2 5 -0.8 5 0.9 5 -0.9 5 0.1 5 0.4 5 0.3 5 0 5 -3.9 5 -2.6 5 -1.7 5 -0.2 5 0.1 5 0.2 5 -0.6 5 0.5 5 -0.1 5 -1.2 5 0.4 5 0.1 5 0 5 -0 5 -0.7 5 -2 5 -1.3 5 -0.1 5 0.4 5 0.2 5 0.7 5 0.9 5 1.3 5 -0.6 5 0 5 -0.1 5 -0.9 5 0.3 5 -0.2 5 0.2 5 -0.1 5 -0.8 5 1.4 5 0.5 5 -0.6 5 -0.3 5 -1.7 5 -0.3 5 0.1 5 -0.3 5 0.1 5 0.5 5 -0.3 5 1.1 5 -0.5 5 1 5 -0.5 5 0.4 5 -0.4 5 -0.4 5 -0.3 5 0.2 5 13.5 5 15.2 5 4.8 5 6.8 5 -6.1 5 0.4 5 6.9 5 -8.9 5 2.5 5 0.5 5 -1.3 5 5.6 5 -8.9 5 1.2 5 -1.1 5 -0.6 5 0.6 5 -2.7 5 4.3 5 -1.9 5 -13.4 5 10.9 5 -11.8 5 11.8 5 1 5 -18.8 5 10.4 5 8.8 5 -19.5 5 -5.8 5 2.2 5 -4.6 5 -2.2 5 -1.4 5 0.7 5 -0.4 5 -0.2 5 0.2 5 -0 5 0.3 5 0.1 5 -0.5 5 0.3 5 0.1 5 -0.1 5 0.3 5 0.1 5 -0.1 5 -0.7 5 0 5 0.4 5 0.1 5 0 5 -0.1 5 0.4 5 -0.1 5 -0.2 5 0.5 5 -0.3 5 -0.2 5 -0.3 5 0.8 5 -0.7 5 -0.2 5 0.3 5 -1.8 5 -1.5 5 -2.1 5 -1.7 5 -1.7 5 1.4 5 2.1 5 4.2 5 1.2 5 2 5 -0.2 5 -0.4 5 -0.3 5 0.3 5 14.8 5 -12.6 5 -3.8 5 -0 5 -0.3 5 0.4 5 0.3 5 -0.5 5 -0.2 5 -0 5 0.3 5 0.3 5 0.3 5 -0.7 5 0.6 5 -0.5 5 0.1 5 -0 5 0.2 5 -0.1 3.4 -0.2"/>
<path d="M109.7 2195.2l5 -0.1 5 -0.7 5 -0.9 5 -0.3 5 -0.9 5 -0 5 0 5 -0.1 5 -0.9 5 0.1 5 0.4 5 0 5 -0.2 5 -0.7 5 0.2 5 -0.7 5 0.6 5 -0.2 5 0.1 5 -0.1 5 0.4 5 -0.1 5 0.1 5 0.5 5 0.6 5 -0 5 0.7 5 0.2 5 0.6 5 1.5 5 0.4 5 0.5 5 1 5 -0.4 5 0 5 0.2 5 0 5 -0.3 5 0 5 -0.5 5 0.3 5 0.6 5 -0.3 5 0.2 5 -0.9 5 0.9 5 -0.8 5 0.1 5 0.4 5 0.3 5 0 5 -3 5 -1.7 5 -0.9 5 -0.1 5 0.2 5 0.2 5 -0.4 5 0.5 5 -0 5 -1.1 5 0.5 5 0.1 5 0.2 5 0 5 -0.3 5 -0.9 5 -0.1 5 1 5 1.5 5 1.4 5 1.9 5 1.9 5 1.7 5 -0.6 5 -0.1 5 -0.3 5 -1 5 0.2 5 -0.3 5 0.1 5 -0.3 5 -0.6 5 1.7 5 0.9 5 -0.6 5 -1.1 5 -2.4 5 -1.1 5 -0.6 5 -1.1 5 -0.7 5 -0.2 5 -1.1 5 0.3 5 -0.6 5 0.9 5 -0.4 5 0.3 5 -0.3 5 -0.4 5 -0.3 5 0.2 5 7.8 5 12.6 5 -4.6 5 -7.4 5 7 5 -1.3 5 -5.9 5 9.5 5 -3.1 5 -1 5 1.2 5 -5.7 5 8.3 5 -1.4 5 3.1 5 0.1 5 -1.4 5 2.7 5 -4.6 5 2.9 5 -7.7 5 8.7 5 -9.6 5 10.9 5 -1.2 5 -14.4 5 8.6 5 4.9 5 -13.7 5 -3.6 5 1.1 5 -2.4 5 0.3 5 0 5 2.2 5 -0.4 5 -0.2 5 0.3 5 -0.1 5 0.3 5 0.1 5 -1.6 5 -0.9 5 -0.1 5 -0.2 5 0.2 5 0 5 0.2 5 -0.3 5 0.4 5 0.7 5 -0.2 5 -0.3 5 -0.5 5 0.1 5 -0.1 5 -0.1 5 0.6 5 -0.2 5 -0.2 5 -0.1 5 0.8 5 -0.6 5 0.4 5 0.7 5 -1.3 5 -0.9 5 -1.8 5 -1.3 5 -1.3 5 -0.5 5 0.2 5 2.2 5 1.3 5 2.4 5 0.2 5 -0.1 5 -0.6 5 0 5 9.1 5 -8.1 5 -0.1 5 1.5 5 -0.2 5 0.4 5 0.3 5 -0.5 5 -0.2 5 -0 5 0.3 5 0.3 5 0.3 5 -0.7 5 0.6 5 -0.5 5 0.1 5 -0 5 0.3 5 -0.2 3.4 -0.2"/>
<path d="M109.7 2201.5l5 -0.5 5 -1 5 -1.2 5 -0.6 5 -1.4 5 -0.2 5 -0.1 5 -0.2 5 -1 5 0 5 0.4 5 -0.2 5 -0.3 5 -0.8 5 0.1 5 -1.7 5 -0.5 5 -0.8 5 -0.3 5 -0.4 5 0 5 -0.4 5 -0.3 5 0.1 5 0.2 5 -0.3 5 0.3 5 -0 5 0.2 5 1.2 5 0.1 5 0.1 5 0.7 5 -0.4 5 0 5 0.2 5 0.1 5 -0.4 5 0 5 -0.5 5 0.3 5 0.6 5 -0.3 5 0.2 5 -0.8 5 0.9 5 -0.9 5 0.1 5 0.4 5 0.3 5 0.1 5 -1.9 5 -0.7 5 0.1 5 -0 5 0.3 5 0.3 5 -0.3 5 0.6 5 0.1 5 -1 5 0.6 5 0.2 5 0.3 5 0.1 5 0.1 5 0.3 5 1 5 2.1 5 2.5 5 2.3 5 2.8 5 2.8 5 1.9 5 -0.7 5 -0.2 5 -0.3 5 -1.2 5 0.2 5 -0.4 5 0 5 -0.3 5 -0.5 5 1.9 5 1 5 -0.4 5 -1.7 5 -3 5 -1.6 5 -1.3 5 -1.7 5 -1.4 5 -0.9 5 -1.8 5 -0.4 5 -0.9 5 1 5 -0.4 5 0.3 5 -0.4 5 -0.4 5 -0.2 5 0.2 5 1.1 5 8.5 5 -13.4 5 -20.7 5 19.3 5 -2.9 5 -18 5 26.9 5 -8.4 5 -2.3 5 3.4 5 -16.3 5 24.6 5 -3.8 5 7 5 0.8 5 -3.5 5 7.9 5 -13.1 5 7.5 5 -1.1 5 5.4 5 -6.2 5 8.6 5 -3.3 5 -8.2 5 5.9 5 0.3 5 -6.2 5 -1 5 -0.1 5 0.1 5 2.8 5 1.3 5 3.4 5 -0.3 5 -0.2 5 0.3 5 -0.1 5 0.3 5 0.1 5 -2.6 5 -2 5 -0.3 5 -0.2 5 0.1 5 -0.1 5 0.6 5 -0 5 0.6 5 1 5 -0.4 5 -0.7 5 -0.7 5 -0.3 5 -0 5 -0.1 5 0.8 5 -0.2 5 -0.1 5 -0.1 5 1 5 -0.5 5 0.8 5 1.2 5 -0.7 5 -0.2 5 -1.2 5 -0.8 5 -0.9 5 -2.2 5 -1.9 5 0.1 5 1.3 5 2.5 5 0.5 5 0.3 5 -0.8 5 -0.3 5 2.2 5 -2.6 5 3.5 5 2.9 5 -0.1 5 0.4 5 0.3 5 -0.5 5 -0.2 5 0 5 0.3 5 0.3 5 0.3 5 -0.7 5 0.6 5 -0.5 5 0.1 5 -0 5 0.3 5 -0.2 3.4 -0.1"/>
<path d="M109.7 2209.5l5 -0.7 5 -1.2 5 -1.5 5 -0.8 5 -1.6 5 -0.5 5 -0.1 5 -0.3 5 -1 5 -0.1 5 0.2 5 -0.2 5 -0.3 5 -1 5 0.1 5 -2.6 5 -1.4 5 -1.4 5 -0.6 5 -0.7 5 -0.3 5 -0.8 5 -0.7 5 -0.2 5 -0.2 5 -0.7 5 0 5 -0.4 5 -0.1 5 0.8 5 -0.3 5 -0.3 5 0.4 5 -0.3 5 -0 5 0.2 5 0 5 -0.3 5 0 5 -0.5 5 0.2 5 0.7 5 -0.3 5 0.1 5 -0.8 5 0.9 5 -0.9 5 0.2 5 0.4 5 0.3 5 0.1 5 -0.7 5 0.5 5 1.1 5 0 5 0.4 5 0.5 5 -0.3 5 0.8 5 0.1 5 -0.9 5 0.8 5 0.3 5 0.3 5 0.2 5 0.5 5 1.3 5 2 5 2.9 5 3.3 5 3 5 3.3 5 3.3 5 2 5 -0.7 5 -0.3 5 -0.3 5 -1.2 5 0.1 5 -0.4 5 -0 5 -0.4 5 -0.5 5 2.1 5 1.1 5 -0.5 5 -1.8 5 -3.3 5 -2.1 5 -1.6 5 -2.2 5 -1.9 5 -1.5 5 -2.3 5 -1.1 5 -1 5 1 5 -0.5 5 0.4 5 -0.4 5 -0.4 5 -0.3 5 0.2 5 -5.7 5 3.4 5 -20.6 5 -31.5 5 29.3 5 -4.1 5 -27.9 5 41 5 -12.6 5 -3.5 5 5.4 5 -25 5 37.8 5 -5.8 5 10.3 5 1.2 5 -5 5 12 5 -19.9 5 11.1 5 5.7 5 1.4 5 -2.1 5 5.4 5 -4.9 5 -1.2 5 2.5 5 -4.3 5 2 5 1.8 5 -1.4 5 2.6 5 5 5 2.4 5 4.3 5 -0.2 5 -0.2 5 0.2 5 -0.1 5 0.4 5 0.1 5 -3.3 5 -3 5 -0.4 5 -0.3 5 0.1 5 -0.1 5 0.7 5 0.3 5 0.9 5 1.3 5 -0.6 5 -1 5 -1 5 -0.6 5 0.1 5 -0 5 0.8 5 -0.1 5 -0 5 -0 5 1 5 -0.5 5 1.2 5 1.6 5 0.1 5 0.5 5 -0.6 5 -0.2 5 -0.3 5 -3.7 5 -3.7 5 -2.1 5 1.1 5 2.5 5 0.8 5 0.6 5 -1.1 5 -0.5 5 -5 5 3.4 5 6.6 5 3.9 5 -0 5 0.4 5 0.3 5 -0.5 5 -0.2 5 -0 5 0.2 5 0.4 5 0.3 5 -0.7 5 0.6 5 -0.6 5 0.1 5 0.1 5 0.2 5 -0.1 3.4 -0.2"/>
<path d="M109.7 2218.1l5 -0.7 5 -1.3 5 -1.6 5 -0.9 5 -1.7 5 -0.6 5 -0.2 5 -0.3 5 -1.1 5 -0.1 5 0.2 5 -0.3 5 -0.4 5 -0.9 5 -0 5 -3.2 5 -2.1 5 -1.8 5 -0.8 5 -1 5 -0.6 5 -1.1 5 -1 5 -0.6 5 -0.5 5 -1 5 -0.2 5 -0.8 5 -0.5 5 0.5 5 -0.7 5 -0.6 5 0.1 5 -0.4 5 0 5 0.2 5 0.1 5 -0.4 5 0.1 5 -0.6 5 0.3 5 0.6 5 -0.3 5 0.2 5 -0.8 5 0.9 5 -0.9 5 0.1 5 0.4 5 0.3 5 0.1 5 0.7 5 1.5 5 1.9 5 0.2 5 0.5 5 0.5 5 -0.2 5 0.8 5 0.3 5 -0.9 5 0.9 5 0.3 5 0.5 5 0.2 5 0.8 5 2.1 5 2.7 5 3.6 5 3.7 5 3.3 5 3.4 5 3.2 5 2 5 -0.7 5 -0.2 5 -0.3 5 -1.2 5 0.1 5 -0.4 5 -0 5 -0.4 5 -0.5 5 2.1 5 1 5 -0.5 5 -1.7 5 -3.3 5 -2.1 5 -1.9 5 -2.4 5 -2.1 5 -1.8 5 -2.8 5 -1.5 5 -1.2 5 1 5 -0.4 5 0.3 5 -0.4 5 -0.4 5 -0.3 5 0.3 5 -11.9 5 -2 5 -25.3 5 -38.6 5 35.8 5 -4.9 5 -34.4 5 50.3 5 -15.4 5 -4.2 5 6.6 5 -30.6 5 46.3 5 -7 5 12.4 5 1.6 5 -6.1 5 14.7 5 -24.4 5 13.6 5 11.7 5 -2.9 5 2.3 5 1.7 5 -6.1 5 6 5 -1.1 5 -8.5 5 10 5 4.4 5 -2.6 5 4.8 5 6.7 5 3.1 5 4.8 5 -0.2 5 -0.2 5 0.3 5 -0.1 5 0.3 5 0.1 5 -3.7 5 -3.5 5 -0.4 5 -0.4 5 0 5 -0.1 5 0.9 5 0.4 5 1.1 5 1.4 5 -0.7 5 -1.1 5 -1.2 5 -0.8 5 0.1 5 0 5 0.9 5 -0 5 -0 5 0 5 1.1 5 -0.4 5 1.4 5 1.8 5 0.7 5 1.3 5 0 5 0.5 5 0.4 5 -4.8 5 -5.2 5 -3.8 5 0.7 5 2.1 5 1 5 0.8 5 -1.2 5 -0.7 5 -11.5 5 8.9 5 9 5 4.4 5 -0 5 0.4 5 0.3 5 -0.5 5 -0.2 5 -0 5 0.3 5 0.3 5 0.3 5 -0.7 5 0.6 5 -0.5 5 0.1 5 -0 5 0.3 5 -0.2 3.4 -0.2"/>
</g>
<path d="M109.7 2204.7L112.2 2205.4 114.7 2204.6 117.2 2206.2 119.7 2205.9 122.2 2207.0 124.7 2207.6 127.2 2208.5 129.7 2208.2 132.2 2210.5 134.7 2210.4 137.2 2211.9 139.7 2210.6 142.2 2212.6 144.7 2210.7 147.2 2211.4 149.7 2211.0 152.2 2211.3 154.7 2212.9 157.2 2213.2 159.7 2212.8 162.2 2213.1 164.7 2212.1 167.2 2214.1 169.7 2212.3 172.2 2213.4 174.7 2212.8 177.2 2212.7 179.7 2214.5 182.2 2213.8 184.7 2214.2 187.2 2216.0 189.7 2217.7 192.2 2219.2 194.7 2219.5 197.2 2222.8 199.7 2221.8 202.2 2222.8 204.7 2222.8 207.2 2224.0 209.7 2224.2 212.2 2224.6 214.7 2224.9 217.2 2225.7 219.7 2226.5 222.2 2225.9 224.7 2227.9 227.2 2227.0 229.7 2228.6 232.2 2227.4 234.7 2229.2 237.2 2230.4 239.7 2230.8 242.2 2231.1 244.7 2231.0 247.2 2231.2 249.7 2232.3 252.2 2231.7 254.7 2233.0 257.2 2232.4 259.7 2231.8 262.2 2232.4 264.7 2233.1 267.2 2233.1 269.7 2234.3 272.2 2235.1 274.7 2234.0 277.2 2234.3 279.7 2234.8 282.2 2234.3 284.7 2234.7 287.2 2235.8 289.7 2234.3 292.2 2234.8 294.7 2234.3 297.2 2235.0 299.7 2234.9 302.2 2235.2 304.7 2234.9 307.2 2235.9 309.7 2236.0 312.2 2234.3 314.7 2235.4 317.2 2235.1 319.7 2234.1 322.2 2234.6 324.7 2234.7 327.2 2233.9 329.7 2234.4 332.2 2234.3 334.7 2236.1 337.2 2236.1 339.7 2234.3 342.2 2235.3 344.7 2236.0 347.2 2235.8 349.7 2235.8 352.2 2234.6 354.7 2235.0 357.2 2236.2 359.7 2234.4 362.2 2234.9 364.7 2234.1 367.2 2232.6 369.7 2233.2 372.2 2230.6 374.7 2231.0 377.2 2227.5 379.7 2228.3 382.2 2227.9 384.7 2228.1 387.2 2228.1 389.7 2227.2 392.2 2227.9 394.7 2226.3 397.2 2226.4 399.7 2226.8 402.2 2225.9 404.7 2225.3 407.2 2226.9 409.7 2225.0 412.2 2226.5 414.7 2226.8 417.2 2224.9 419.7 2225.3 422.2 2225.2 424.7 2224.7 427.2 2223.9 429.7 2224.0 432.2 2226.0 434.7 2223.6 437.2 2224.5 439.7 2222.8 442.2 2221.7 444.7 2220.7 447.2 2218.2 449.7 2218.0 452.2 2214.6 454.7 2213.7 457.2 2212.1 459.7 2209.5 462.2 2208.4 464.7 2206.4 467.2 2206.3 469.7 2203.3 472.2 2203.3 474.7 2201.2 477.2 2199.9 479.7 2198.8 482.2 2198.8 484.7 2199.8 487.2 2200.8 489.7 2199.7 492.2 2200.2 494.7 2199.9 497.2 2200.0 499.7 2201.8 502.2 2202.0 504.7 2201.0 507.2 2201.7 509.7 2201.5 512.2 2202.3 514.7 2201.0 517.2 2201.5 519.7 2201.3 522.2 2202.9 524.7 2203.0 527.2 2202.3 529.7 2200.1 532.2 2199.8 534.7 2199.1 537.2 2200.5 539.7 2200.4 542.2 2200.4 544.7 2201.0 547.2 2203.4 549.7 2204.8 552.2 2205.9 554.7 2206.4 557.2 2207.1 559.7 2207.6 562.2 2210.1 564.7 2210.2 567.2 2212.5 569.7 2212.4 572.2 2213.5 574.7 2214.0 577.2 2215.5 579.7 2217.6 582.2 2219.5 584.7 2219.0 587.2 2219.9 589.7 2220.8 592.2 2219.4 594.7 2218.9 597.2 2220.4 599.7 2219.7 602.2 2221.0 604.7 2219.0 607.2 2220.3 609.7 2219.8 612.2 2220.3 614.7 2220.6 617.2 2219.1 619.7 2221.2 622.2 2220.2 624.7 2220.7 627.2 2228.3 629.7 2237.5" fill="none" stroke="#e3302e" stroke-width="3.2" stroke-linejoin="round"/>
<path d="M629.7 2237.5L632.2 2246.1 634.7 2244.1 637.2 2251.7 639.7 2271.0 642.2 2292.0 644.7 2312.3 647.2 2300.3 649.7 2273.8 652.2 2253.5 654.7 2279.5 657.2 2304.6 659.7 2315.5 662.2 2288.4 664.7 2261.7 667.2 2258.7 669.7 2278.5 672.2 2298.0 674.7 2283.2 677.2 2260.8 679.7 2276.2 682.2 2309.1 684.7 2308.8 687.2 2284.0 689.7 2259.7 692.2 2260.4 694.7 2267.4 697.2 2269.0 699.7 2253.2 702.2 2242.6 704.7 2251.7 707.2 2262.9 709.7 2258.6 712.2 2246.4 714.7 2243.0 717.2 2254.5 719.7 2269.0 722.2 2269.5 724.7 2254.2 727.2 2241.2 729.7 2237.8 732.2 2240.4 734.7 2245.5 737.2 2243.9 739.7 2239.0 742.2 2232.8 744.7 2240.7 747.2 2247.9 749.7 2247.2 752.2 2240.3 754.7 2235.2 757.2 2233.3 759.7 2239.2 762.2 2246.3 764.7 2251.2 767.2 2242.1 769.7 2234.5 772.2 2226.0 774.7 2227.8 777.2 2228.5 779.7 2231.7 782.2 2226.9 784.7 2225.2 787.2 2221.5 789.7 2217.0 792.2 2216.0 794.7 2214.3 797.2 2211.0 799.7 2208.8 802.2 2209.5" fill="none" stroke="#e8504e" stroke-width="2.4" stroke-linejoin="round"/>
<path d="M802.2 2209.5L804.7 2209.5 807.2 2208.9 809.7 2209.8 812.2 2208.5 814.7 2209.4 817.2 2210.2 819.7 2209.5 822.2 2207.9 824.7 2208.8 827.2 2208.9 829.7 2208.7 832.2 2210.3 834.7 2212.7 837.2 2213.5 839.7 2216.4 842.2 2215.6 844.7 2217.0 847.2 2217.0 849.7 2217.5 852.2 2216.4 854.7 2217.3 857.2 2217.5 859.7 2217.4 862.2 2215.7 864.7 2216.3 867.2 2216.0 869.7 2216.3 872.2 2215.1 874.7 2215.0 877.2 2213.1 879.7 2213.1 882.2 2214.5 884.7 2213.8 887.2 2215.3 889.7 2215.1 892.2 2214.9 894.7 2216.6 897.2 2216.1 899.7 2217.3 902.2 2217.8 904.7 2217.3 907.2 2215.9 909.7 2217.4 912.2 2217.4 914.7 2215.9 917.2 2215.0 919.7 2216.1 922.2 2216.4 924.7 2216.3 927.2 2215.7 929.7 2216.5 932.2 2214.3 934.7 2214.6 937.2 2214.5 939.7 2215.6 942.2 2213.3 944.7 2214.2 947.2 2213.5 949.7 2212.0 952.2 2211.7 954.7 2210.7 957.2 2210.9 959.7 2208.5 962.2 2207.4 964.7 2208.3 967.2 2207.9 969.7 2207.1 972.2 2206.5 974.7 2206.1 977.2 2207.4 979.7 2211.4 982.2 2213.5 984.7 2217.9 987.2 2221.0 989.7 2222.4 992.2 2222.7 994.7 2222.7 997.2 2220.7 999.7 2220.4 1002.2 2221.6 1004.7 2219.2 1007.2 2220.2 1009.7 2218.4 1012.2 2220.3 1014.7 2220.2 1017.2 2219.4 1019.7 2221.1 1022.2 2221.6 1024.7 2237.6 1027.2 2238.5 1029.7 2223.6 1032.2 2217.1 1034.7 2214.0 1037.2 2210.5 1039.7 2209.5 1042.2 2209.9 1044.7 2209.9 1047.2 2208.6 1049.7 2209.0 1052.2 2209.3 1054.7 2208.5 1057.2 2207.9 1059.7 2209.4 1062.2 2208.9 1064.7 2209.8 1067.2 2209.3 1069.7 2209.9 1072.2 2210.2 1074.7 2209.3 1077.2 2208.9 1079.7 2208.6 1082.2 2208.0 1084.7 2208.0 1087.2 2210.0 1089.7 2209.5 1092.2 2209.3 1094.7 2208.3 1097.2 2209.7 1099.7 2209.3 1102.2 2209.7 1104.7 2209.1 1107.2 2208.8 1109.7 2209.1 1112.2 2209.8 1114.7 2208.5 1117.2 2208.1 1119.7 2208.9 1122.2 2209.0 1123.1 2209.2" fill="none" stroke="#e3302e" stroke-width="3.2" stroke-linejoin="round"/>
<path d="M109.7 2226.3L112.2 2225.6 114.7 2226.4 117.2 2224.8 119.7 2225.1 122.2 2224.0 124.7 2223.4 127.2 2222.5 129.7 2222.8 132.2 2220.5 134.7 2220.6 137.2 2219.1 139.7 2220.4 142.2 2218.4 144.7 2220.3 147.2 2219.6 149.7 2220.0 152.2 2219.7 154.7 2218.1 157.2 2217.8 159.7 2218.2 162.2 2217.9 164.7 2218.9 167.2 2216.9 169.7 2218.7 172.2 2217.6 174.7 2218.2 177.2 2218.3 179.7 2216.5 182.2 2217.2 184.7 2216.8 187.2 2215.0 189.7 2213.3 192.2 2211.8 194.7 2211.5 197.2 2208.2 199.7 2209.2 202.2 2208.2 204.7 2208.2 207.2 2207.0 209.7 2206.8 212.2 2206.4 214.7 2206.1 217.2 2205.3 219.7 2204.5 222.2 2205.1 224.7 2203.1 227.2 2204.0 229.7 2202.4 232.2 2203.6 234.7 2201.8 237.2 2200.6 239.7 2200.2 242.2 2199.9 244.7 2200.0 247.2 2199.8 249.7 2198.7 252.2 2199.3 254.7 2198.0 257.2 2198.6 259.7 2199.2 262.2 2198.6 264.7 2197.9 267.2 2197.9 269.7 2196.7 272.2 2195.9 274.7 2197.0 277.2 2196.7 279.7 2196.2 282.2 2196.7 284.7 2196.3 287.2 2195.2 289.7 2196.7 292.2 2196.2 294.7 2196.7 297.2 2196.0 299.7 2196.1 302.2 2195.8 304.7 2196.1 307.2 2195.1 309.7 2195.0 312.2 2196.7 314.7 2195.6 317.2 2195.9 319.7 2196.9 322.2 2196.4 324.7 2196.3 327.2 2197.1 329.7 2196.6 332.2 2196.7 334.7 2194.9 337.2 2194.9 339.7 2196.7 342.2 2195.7 344.7 2195.0 347.2 2195.2 349.7 2195.2 352.2 2196.4 354.7 2196.0 357.2 2194.8 359.7 2196.6 362.2 2196.1 364.7 2196.9 367.2 2198.4 369.7 2197.8 372.2 2200.4 374.7 2200.0 377.2 2203.5 379.7 2202.7 382.2 2203.1 384.7 2202.9 387.2 2202.9 389.7 2203.8 392.2 2203.1 394.7 2204.7 397.2 2204.6 399.7 2204.2 402.2 2205.1 404.7 2205.7 407.2 2204.1 409.7 2206.0 412.2 2204.5 414.7 2204.2 417.2 2206.1 419.7 2205.7 422.2 2205.8 424.7 2206.3 427.2 2207.1 429.7 2207.0 432.2 2205.0 434.7 2207.4 437.2 2206.5 439.7 2208.2 442.2 2209.3 444.7 2210.3 447.2 2212.8 449.7 2213.0 452.2 2216.4 454.7 2217.3 457.2 2218.9 459.7 2221.5 462.2 2222.6 464.7 2224.6 467.2 2224.7 469.7 2227.7 472.2 2227.7 474.7 2229.8 477.2 2231.1 479.7 2232.2 482.2 2232.2 484.7 2231.2 487.2 2230.2 489.7 2231.3 492.2 2230.8 494.7 2231.1 497.2 2231.0 499.7 2229.2 502.2 2229.0 504.7 2230.0 507.2 2229.3 509.7 2229.5 512.2 2228.7 514.7 2230.0 517.2 2229.5 519.7 2229.7 522.2 2228.1 524.7 2228.0 527.2 2228.7 529.7 2230.9 532.2 2231.2 534.7 2231.9 537.2 2230.5 539.7 2230.6 542.2 2230.6 544.7 2230.0 547.2 2227.6 549.7 2226.2 552.2 2225.1 554.7 2224.6 557.2 2223.9 559.7 2223.4 562.2 2220.9 564.7 2220.8 567.2 2218.5 569.7 2218.6 572.2 2217.5 574.7 2217.0 577.2 2215.5 579.7 2213.4 582.2 2211.5 584.7 2212.0 587.2 2211.1 589.7 2210.2 592.2 2211.6 594.7 2212.1 597.2 2210.6 599.7 2211.3 602.2 2210.0 604.7 2212.0 607.2 2210.7 609.7 2211.2 612.2 2210.7 614.7 2210.4 617.2 2211.9 619.7 2209.8 622.2 2210.8 624.7 2210.3 627.2 2202.7 629.7 2193.5" fill="none" stroke="#2d4fa3" stroke-width="3.2" stroke-linejoin="round"/>
<path d="M629.7 2193.5L632.2 2184.9 634.7 2186.9 637.2 2179.3 639.7 2160.0 642.2 2139.0 644.7 2118.7 647.2 2130.7 649.7 2157.2 652.2 2177.5 654.7 2151.5 657.2 2126.4 659.7 2115.5 662.2 2142.6 664.7 2169.3 667.2 2172.3 669.7 2152.5 672.2 2133.0 674.7 2147.8 677.2 2170.2 679.7 2154.8 682.2 2121.9 684.7 2122.2 687.2 2147.0 689.7 2171.3 692.2 2170.6 694.7 2163.6 697.2 2162.0 699.7 2177.8 702.2 2188.4 704.7 2179.3 707.2 2168.1 709.7 2172.4 712.2 2184.6 714.7 2188.0 717.2 2176.5 719.7 2162.0 722.2 2161.5 724.7 2176.8 727.2 2189.8 729.7 2193.2 732.2 2190.6 734.7 2185.5 737.2 2187.1 739.7 2192.0 742.2 2198.2 744.7 2190.3 747.2 2183.1 749.7 2183.8 752.2 2190.7 754.7 2195.8 757.2 2197.7 759.7 2191.8 762.2 2184.7 764.7 2179.8 767.2 2188.9 769.7 2196.5 772.2 2205.0 774.7 2203.2 777.2 2202.5 779.7 2199.3 782.2 2204.1 784.7 2205.8 787.2 2209.5 789.7 2214.0 792.2 2215.0 794.7 2216.7 797.2 2220.0 799.7 2222.2 802.2 2221.5" fill="none" stroke="#4a68b4" stroke-width="2.4" stroke-linejoin="round"/>
<path d="M802.2 2221.5L804.7 2221.5 807.2 2222.1 809.7 2221.2 812.2 2222.5 814.7 2221.6 817.2 2220.8 819.7 2221.5 822.2 2223.1 824.7 2222.2 827.2 2222.1 829.7 2222.3 832.2 2220.7 834.7 2218.3 837.2 2217.5 839.7 2214.6 842.2 2215.4 844.7 2214.0 847.2 2214.0 849.7 2213.5 852.2 2214.6 854.7 2213.7 857.2 2213.5 859.7 2213.6 862.2 2215.3 864.7 2214.7 867.2 2215.0 869.7 2214.7 872.2 2215.9 874.7 2216.0 877.2 2217.9 879.7 2217.9 882.2 2216.5 884.7 2217.2 887.2 2215.7 889.7 2215.9 892.2 2216.1 894.7 2214.4 897.2 2214.9 899.7 2213.7 902.2 2213.2 904.7 2213.7 907.2 2215.1 909.7 2213.6 912.2 2213.6 914.7 2215.1 917.2 2216.0 919.7 2214.9 922.2 2214.6 924.7 2214.7 927.2 2215.3 929.7 2214.5 932.2 2216.7 934.7 2216.4 937.2 2216.5 939.7 2215.4 942.2 2217.7 944.7 2216.8 947.2 2217.5 949.7 2219.0 952.2 2219.3 954.7 2220.3 957.2 2220.1 959.7 2222.5 962.2 2223.6 964.7 2222.7 967.2 2223.1 969.7 2223.9 972.2 2224.5 974.7 2224.9 977.2 2223.6 979.7 2219.6 982.2 2217.5 984.7 2213.1 987.2 2210.0 989.7 2208.6 992.2 2208.3 994.7 2208.3 997.2 2210.3 999.7 2210.6 1002.2 2209.4 1004.7 2211.8 1007.2 2210.8 1009.7 2212.6 1012.2 2210.7 1014.7 2210.8 1017.2 2211.6 1019.7 2209.9 1022.2 2209.4 1024.7 2193.4 1027.2 2192.5 1029.7 2207.4 1032.2 2213.9 1034.7 2217.0 1037.2 2220.5 1039.7 2221.5 1042.2 2221.1 1044.7 2221.1 1047.2 2222.4 1049.7 2222.0 1052.2 2221.7 1054.7 2222.5 1057.2 2223.1 1059.7 2221.6 1062.2 2222.1 1064.7 2221.2 1067.2 2221.7 1069.7 2221.1 1072.2 2220.8 1074.7 2221.7 1077.2 2222.1 1079.7 2222.4 1082.2 2223.0 1084.7 2223.0 1087.2 2221.0 1089.7 2221.5 1092.2 2221.7 1094.7 2222.7 1097.2 2221.3 1099.7 2221.7 1102.2 2221.3 1104.7 2221.9 1107.2 2222.2 1109.7 2221.9 1112.2 2221.2 1114.7 2222.5 1117.2 2222.9 1119.7 2222.1 1122.2 2222.0 1123.1 2221.8" fill="none" stroke="#2d4fa3" stroke-width="3.2" stroke-linejoin="round"/>
</g>
<defs><path id="qe0" d="M1159.7 -39.1L1162.2 -40.2 1164.7 -41.8 1167.2 -42.8 1169.7 -43.9 1172.2 -45.4 1174.7 -46.3 1177.2 -47.5 1179.7 -49.3 1182.2 -50.4 1184.7 -51.9 1187.2 -52.5 1189.7 -54.0 1192.2 -56.0 1194.7 -57.4 1197.2 -59.0 1199.7 -60.5 1202.2 -61.7 1204.7 -63.7 1207.2 -64.8 1209.7 -66.9 1212.2 -67.9 1214.7 -69.3 1217.2 -71.2 1219.7 -73.0 1222.2 -74.3 1224.7 -75.4 1227.2 -77.3 1229.7 -78.7 1232.2 -80.1 1234.7 -81.4 1237.2 -83.1 1239.7 -84.2 1242.2 -85.8 1244.7 -87.6 1247.2 -88.7 1249.7 -89.9 1252.2 -91.0 1254.7 -92.4 1257.2 -92.9 1259.7 -93.8 1262.2 -95.2 1264.7 -96.4 1267.2 -97.5 1269.7 -98.1 1272.2 -99.2 1274.7 -99.9 1277.2 -101.0 1279.7 -102.5 1282.2 -103.4 1284.7 -102.9 1287.2 -102.4 1289.7 -101.5 1292.2 -100.9 1294.7 -99.7 1297.2 -96.4 1299.7 -93.8 1302.2 -91.4 1304.7 -88.1 1307.2 -85.7 1309.7 -82.4 1312.2 -80.0 1314.7 -77.0 1317.2 -74.1 1319.7 -71.2 1322.2 -68.8 1324.7 -66.3 1327.2 -63.9 1329.7 -61.4 1332.2 -58.8 1334.7 -56.5 1337.2 -54.0 1339.7 -51.2 1342.2 -49.2 1344.7 -46.3 1347.2 -43.6 1349.7 -41.4 1352.2 -39.5 1354.7 -37.3 1357.2 -35.8 1359.7 -33.5 1362.2 -31.2 1364.7 -29.8 1367.2 -27.5 1369.7 -24.5 1372.2 -22.6 1374.7 -20.4 1377.2 -17.9 1379.7 -15.6 1382.2 -13.4 1384.7 -14.0 1387.2 -14.0 1389.7 -14.0 1392.2 -14.4 1394.7 -14.5 1397.2 -14.5 1399.7 -14.1 1402.2 -14.5 1404.7 -15.1 1407.2 -15.0 1409.7 -14.7 1412.2 -15.4 1414.7 -15.6 1417.2 -15.5 1419.7 -15.7 1422.2 -15.7 1424.7 -15.5 1427.2 -15.2 1429.7 -15.4 1432.2 -15.9 1434.7 -15.7 1437.2 -15.6 1439.7 -15.8 1442.2 -16.3 1444.7 -16.2 1447.2 -16.5 1449.7 -16.4 1452.2 -16.5 1454.7 -16.3 1457.2 -16.7 1459.7 -16.4 1462.2 -14.1 1464.7 -12.5 1467.2 -12.9 1469.7 -12.4 1472.2 -12.4 1474.7 -13.1 1477.2 -12.8 1479.7 -12.4 1482.2 -12.9 1484.7 -12.5 1487.2 -12.9 1489.7 -13.1 1492.2 -12.9 1494.7 -12.8 1497.2 -12.6 1499.7 -12.4 1502.2 -12.7 1504.7 -12.7 1507.2 -13.1 1509.7 -12.9 1512.2 -12.6 1514.7 -12.4 1517.2 -12.8 1519.7 -13.0 1522.2 -13.0 1524.7 -12.5 1527.2 -13.3 1529.7 -14.9 1532.2 -16.5 1534.7 -16.3 1537.2 -16.4 1539.7 -16.6 1542.2 -16.3 1544.7 -16.5 1547.2 -16.9 1549.7 -16.9 1552.2 -16.4 1554.7 -16.5 1557.2 -16.7 1559.7 -16.6 1562.2 -16.3 1564.7 -16.9 1567.2 -16.9 1569.7 -16.3 1572.2 -16.8 1574.7 -16.5 1577.2 -16.7 1579.7 -16.9 1582.2 -16.5 1584.7 -17.0 1587.2 -17.0 1589.7 -16.4 1592.2 -16.7 1594.7 -16.2 1597.2 -15.1 1599.7 -12.9 1602.2 -12.4 1604.7 -12.8 1607.2 -13.2 1609.7 -13.4 1612.2 -13.0 1614.7 -12.9 1617.2 -13.1 1619.7 -13.4 1622.2 -14.6 1624.7 -16.9 1627.2 -18.4 1629.7 -21.2 1632.2 -21.4 1634.7 -21.0 1637.2 -21.8 1639.7 -22.0 1642.2 -21.7 1644.7 -22.2 1647.2 -22.1 1649.7 -21.9 1652.2 -22.3 1654.7 -22.2 1657.2 -22.5 1659.7 -22.9 1662.2 -23.1 1664.7 -23.2 1667.2 -23.2 1669.7 -22.8 1672.2 -23.0 1674.7 -23.1 1677.2 -23.5 1679.7 -22.9 1682.2 -23.3 1684.7 -23.0 1687.2 -22.9 1689.7 -22.9 1692.2 -22.6 1694.7 -23.0 1697.2 -23.2 1699.7 -22.4 1702.2 -22.4 1704.7 -22.9 1707.2 -22.2 1709.7 -22.7 1712.2 -22.7 1714.7 -22.4 1717.2 -22.3 1719.7 -22.0 1722.2 -22.1 1724.7 -22.3 1727.2 -22.0 1729.7 -21.7 1732.2 -22.2 1734.7 -21.8 1737.2 -21.8 1739.7 -21.7 1742.2 -22.1 1744.7 -22.1 1747.2 -22.1 1749.7 -22.2 1752.2 -22.6 1754.7 -22.2 1757.2 -22.1 1759.7 -22.8 1762.2 -22.5 1764.7 -23.2 1767.2 -22.6 1769.7 -22.9 1772.2 -23.4 1774.7 -23.2 1777.2 -23.3 1779.7 -23.3 1782.2 -24.0 1784.7 -24.0 1787.2 -23.6 1789.7 -24.4 1792.2 -24.0 1794.7 -24.1 1797.2 -24.4 1799.7 -24.2 1802.2 -24.5 1804.7 -23.6 1807.2 -23.3 1809.7 -23.3 1812.2 -22.5 1814.7 -22.6 1817.2 -21.7 1819.7 -22.1 1822.2 -23.5 1824.7 -24.8 1827.2 -26.9 1829.7 -28.5 1832.2 -29.6 1834.7 -31.2 1837.2 -32.6 1839.7 -34.6 1842.2 -36.2 1844.7 -38.1 1847.2 -41.4 1849.7 -44.3 1852.2 -47.6 1854.7 -50.8 1857.2 -53.4 1859.7 -56.7 1862.2 -59.7 1864.7 -63.1 1867.2 -66.2 1869.7 -70.1 1872.2 -74.2 1874.7 -77.6 1877.2 -81.5 1879.7 -85.4 1882.2 -89.8 1884.7 -93.7 1887.2 -97.4 1889.7 -99.0 1892.2 -95.7 1894.7 -92.4 1897.2 -88.9 1899.7 -84.8 1902.2 -80.7 1904.7 -76.3 1907.2 -72.1 1909.7 -67.4 1912.2 -65.7 1914.7 -64.0 1917.2 -62.4 1919.7 -61.0 1922.2 -59.8 1924.7 -58.3 1927.2 -57.0 1929.7 -56.0 1932.2 -54.3 1934.7 -53.0 1937.2 -51.5 1939.7 -50.2 1942.2 -48.7 1944.7 -48.0 1947.2 -46.1 1949.7 -44.8 1952.2 -44.1 1954.7 -43.8 1957.2 -44.2 1959.7 -44.1 1962.2 -44.7 1964.7 -44.4 1967.2 -44.6 1969.7 -45.2 1972.2 -45.1 1974.7 -45.4 1977.2 -45.0 1979.7 -45.6 1982.2 -45.8 1984.7 -45.0 1987.2 -45.5 1989.7 -45.0 1992.2 -44.6 1994.7 -45.0 1997.2 -44.5 1999.7 -44.7 2002.2 -44.6 2004.7 -44.6 2007.2 -44.5 2009.7 -43.8 2012.2 -43.6 2014.7 -44.0 2017.2 -43.9 2019.7 -43.8 2022.2 -43.5 2024.7 -43.4 2027.2 -43.2 2029.7 -43.2 2032.2 -43.1 2034.7 -42.7 2037.2 -43.0 2039.7 -42.9 2042.2 -42.4 2044.7 -42.6 2047.2 -43.1 2049.7 -43.3 2052.2 -43.8 2054.7 -44.2 2057.2 -44.6 2059.7 -44.8 2062.2 -45.3 2064.7 -45.6 2067.2 -46.4 2069.7 -46.7 2072.2 -46.6 2074.7 -46.5 2077.2 -45.5 2079.7 -45.3 2082.2 -44.3 2084.7 -44.0 2087.2 -43.9 2089.7 -44.6 2092.2 -44.4 2094.7 -45.0 2097.2 -45.6 2099.7 -46.0 2102.2 -45.8 2104.7 -46.6 2107.2 -46.4 2109.7 -46.8 2112.2 -47.6 2114.7 -47.7 2117.2 -47.6 2119.7 -48.1 2122.2 -47.4 2124.7 -42.4 2127.2 -44.7 2129.7 -46.5 2132.2 -48.5 2134.7 -50.2 2137.2 -52.2 2139.7 -54.1 2142.2 -56.1 2144.7 -58.3 2147.2 -60.7 2149.7 -62.2 2152.2 -64.3 2154.7 -66.7 2157.2 -68.5 2159.7 -70.2 2162.2 -72.5 2164.7 -74.5 2167.2 -76.0 2169.7 -78.7 2172.2 -80.1" fill="none" vector-effect="non-scaling-stroke"/></defs>
<g clip-path="url(#cr)">
<path d="M1159.7 410.9L1162.2 409.6 1164.7 408.4 1167.2 407.1 1169.7 405.9 1172.2 404.6 1174.7 403.4 1177.2 402.1 1179.7 400.9 1182.2 399.6 1184.7 398.4 1187.2 397.1 1189.7 395.7 1192.2 394.1 1194.7 392.6 1197.2 391.1 1199.7 389.6 1202.2 388.0 1204.7 386.5 1207.2 385.0 1209.7 383.5 1212.2 381.9 1214.7 380.4 1217.2 378.9 1219.7 377.4 1222.2 375.9 1224.7 374.4 1227.2 372.9 1229.7 371.5 1232.2 370.0 1234.7 368.5 1237.2 367.0 1239.7 365.5 1242.2 364.1 1244.7 362.6 1247.2 361.2 1249.7 360.2 1252.2 359.1 1254.7 358.1 1257.2 357.1 1259.7 356.0 1262.2 355.0 1264.7 354.0 1267.2 352.9 1269.7 351.9 1272.2 350.9 1274.7 349.8 1277.2 348.8 1279.7 347.8 1282.2 346.8 1284.7 347.5 1287.2 348.1 1289.7 348.7 1292.2 349.3 1294.7 350.8 1297.2 353.6 1299.7 356.4 1302.2 359.2 1304.7 362.0 1307.2 364.7 1309.7 367.5 1312.2 370.3 1314.7 373.1 1317.2 375.9 1319.7 378.7 1322.2 381.2 1324.7 383.7 1327.2 386.2 1329.7 388.7 1332.2 391.2 1334.7 393.7 1337.2 396.2 1339.7 398.7 1342.2 401.2 1344.7 403.7 1347.2 406.2 1349.7 408.7 1352.2 410.7 1354.7 412.7 1357.2 414.7 1359.7 416.7 1362.2 418.7 1364.7 420.7 1367.2 423.0 1369.7 425.3 1372.2 427.7 1374.7 430.0 1377.2 432.3 1379.7 434.7 1382.2 436.8 1384.7 436.6 1387.2 436.5 1389.7 436.4 1392.2 436.2 1394.7 436.1 1397.2 435.9 1399.7 435.8 1402.2 435.7 1404.7 435.5 1407.2 435.4 1409.7 435.3 1412.2 435.2 1414.7 435.1 1417.2 435.0 1419.7 435.0 1422.2 434.9 1424.7 434.8 1427.2 434.7 1429.7 434.7 1432.2 434.6 1434.7 434.5 1437.2 434.5 1439.7 434.4 1442.2 434.3 1444.7 434.2 1447.2 434.2 1449.7 434.1 1452.2 434.0 1454.7 433.9 1457.2 433.9 1459.7 434.3 1462.2 435.9 1464.7 437.5 1467.2 437.6 1469.7 437.6 1472.2 437.6 1474.7 437.6 1477.2 437.6 1479.7 437.6 1482.2 437.6 1484.7 437.6 1487.2 437.6 1489.7 437.6 1492.2 437.6 1494.7 437.6 1497.2 437.6 1499.7 437.6 1502.2 437.6 1504.7 437.6 1507.2 437.6 1509.7 437.6 1512.2 437.6 1514.7 437.6 1517.2 437.6 1519.7 437.6 1522.2 437.6 1524.7 437.6 1527.2 437.3 1529.7 435.7 1532.2 434.1 1534.7 433.8 1537.2 433.8 1539.7 433.8 1542.2 433.8 1544.7 433.8 1547.2 433.8 1549.7 433.8 1552.2 433.8 1554.7 433.8 1557.2 433.8 1559.7 433.8 1562.2 433.8 1564.7 433.8 1567.2 433.8 1569.7 433.8 1572.2 433.8 1574.7 433.8 1577.2 433.8 1579.7 433.8 1582.2 433.8 1584.7 433.8 1587.2 433.8 1589.7 433.8 1592.2 433.8 1594.7 433.9 1597.2 435.7 1599.7 437.4 1602.2 437.9 1604.7 437.8 1607.2 437.6 1609.7 437.5 1612.2 437.3 1614.7 437.2 1617.2 437.0 1619.7 436.9 1622.2 435.8 1624.7 433.8 1627.2 431.7 1629.7 429.6 1632.2 429.3 1634.7 429.1 1637.2 429.0 1639.7 428.9 1642.2 428.7 1644.7 428.6 1647.2 428.5 1649.7 428.3 1652.2 428.2 1654.7 428.1 1657.2 427.9 1659.7 427.8 1662.2 427.6 1664.7 427.5 1667.2 427.4 1669.7 427.2 1672.2 427.1 1674.7 427.0 1677.2 427.1 1679.7 427.1 1682.2 427.2 1684.7 427.3 1687.2 427.3 1689.7 427.4 1692.2 427.4 1694.7 427.5 1697.2 427.6 1699.7 427.6 1702.2 427.7 1704.7 427.7 1707.2 427.8 1709.7 427.9 1712.2 427.9 1714.7 428.0 1717.2 428.0 1719.7 428.1 1722.2 428.2 1724.7 428.2 1727.2 428.3 1729.7 428.3 1732.2 428.4 1734.7 428.5 1737.2 428.5 1739.7 428.6 1742.2 428.5 1744.7 428.4 1747.2 428.3 1749.7 428.2 1752.2 428.0 1754.7 427.9 1757.2 427.8 1759.7 427.7 1762.2 427.5 1764.7 427.4 1767.2 427.3 1769.7 427.2 1772.2 427.0 1774.7 426.9 1777.2 426.8 1779.7 426.7 1782.2 426.5 1784.7 426.4 1787.2 426.3 1789.7 426.2 1792.2 426.0 1794.7 425.9 1797.2 425.8 1799.7 425.7 1802.2 425.8 1804.7 426.2 1807.2 426.6 1809.7 427.1 1812.2 427.5 1814.7 427.9 1817.2 428.3 1819.7 428.2 1822.2 426.6 1824.7 425.1 1827.2 423.5 1829.7 422.0 1832.2 420.5 1834.7 418.9 1837.2 417.4 1839.7 415.8 1842.2 414.3 1844.7 412.0 1847.2 408.9 1849.7 405.8 1852.2 402.6 1854.7 399.5 1857.2 396.4 1859.7 393.3 1862.2 390.2 1864.7 387.0 1867.2 383.9 1869.7 380.2 1872.2 376.3 1874.7 372.4 1877.2 368.4 1879.7 364.5 1882.2 360.6 1884.7 356.7 1887.2 352.8 1889.7 350.9 1892.2 354.3 1894.7 357.6 1897.2 360.9 1899.7 365.0 1902.2 369.5 1904.7 373.9 1907.2 378.3 1909.7 382.8 1912.2 384.5 1914.7 385.9 1917.2 387.3 1919.7 388.7 1922.2 390.1 1924.7 391.5 1927.2 392.9 1929.7 394.3 1932.2 395.7 1934.7 397.1 1937.2 398.5 1939.7 399.8 1942.2 401.0 1944.7 402.3 1947.2 403.6 1949.7 404.8 1952.2 406.0 1954.7 405.9 1957.2 405.7 1959.7 405.6 1962.2 405.5 1964.7 405.4 1967.2 405.3 1969.7 405.1 1972.2 405.0 1974.7 404.9 1977.2 404.8 1979.7 404.6 1982.2 404.5 1984.7 404.6 1987.2 404.7 1989.7 404.9 1992.2 405.0 1994.7 405.1 1997.2 405.2 1999.7 405.3 2002.2 405.5 2004.7 405.6 2007.2 405.7 2009.7 405.8 2012.2 406.0 2014.7 406.1 2017.2 406.2 2019.7 406.3 2022.2 406.5 2024.7 406.6 2027.2 406.7 2029.7 406.8 2032.2 407.0 2034.7 407.1 2037.2 407.2 2039.7 407.3 2042.2 407.5 2044.7 407.2 2047.2 406.9 2049.7 406.5 2052.2 406.1 2054.7 405.7 2057.2 405.4 2059.7 405.0 2062.2 404.6 2064.7 404.2 2067.2 403.9 2069.7 403.5 2072.2 403.1 2074.7 403.4 2077.2 404.0 2079.7 404.6 2082.2 405.2 2084.7 405.8 2087.2 405.8 2089.7 405.5 2092.2 405.1 2094.7 404.8 2097.2 404.5 2099.7 404.2 2102.2 403.9 2104.7 403.6 2107.2 403.2 2109.7 402.9 2112.2 402.6 2114.7 402.3 2117.2 402.0 2119.7 401.7 2122.2 402.4 2124.7 407.5 2127.2 405.4 2129.7 403.4 2132.2 401.3 2134.7 399.3 2137.2 397.3 2139.7 395.3 2142.2 393.3 2144.7 391.3 2147.2 389.3 2149.7 387.3 2152.2 385.4 2154.7 383.4 2157.2 381.4 2159.7 379.4 2162.2 377.4 2164.7 375.4 2167.2 373.4 2169.7 371.4 2172.2 369.4 2172.2 530.0 2169.7 528.0 2167.2 526.0 2164.7 524.0 2162.2 522.0 2159.7 520.1 2157.2 518.1 2154.7 516.1 2152.2 514.1 2149.7 512.1 2147.2 510.1 2144.7 508.2 2142.2 506.2 2139.7 504.2 2137.2 502.2 2134.7 500.2 2132.2 498.2 2129.7 496.1 2127.2 494.1 2124.7 492.0 2122.2 497.1 2119.7 497.9 2117.2 497.6 2114.7 497.3 2112.2 497.0 2109.7 496.7 2107.2 496.3 2104.7 496.0 2102.2 495.7 2099.7 495.4 2097.2 495.1 2094.7 494.8 2092.2 494.5 2089.7 494.2 2087.2 493.9 2084.7 493.8 2082.2 494.4 2079.7 495.0 2077.2 495.7 2074.7 496.3 2072.2 496.6 2069.7 496.2 2067.2 495.8 2064.7 495.5 2062.2 495.1 2059.7 494.7 2057.2 494.4 2054.7 494.0 2052.2 493.6 2049.7 493.3 2047.2 492.9 2044.7 492.5 2042.2 492.3 2039.7 492.4 2037.2 492.6 2034.7 492.7 2032.2 492.8 2029.7 493.0 2027.2 493.1 2024.7 493.2 2022.2 493.4 2019.7 493.5 2017.2 493.6 2014.7 493.7 2012.2 493.9 2009.7 494.0 2007.2 494.1 2004.7 494.3 2002.2 494.4 1999.7 494.5 1997.2 494.7 1994.7 494.8 1992.2 494.9 1989.7 495.1 1987.2 495.2 1984.7 495.3 1982.2 495.4 1979.7 495.3 1977.2 495.2 1974.7 495.1 1972.2 495.0 1969.7 494.8 1967.2 494.7 1964.7 494.6 1962.2 494.5 1959.7 494.4 1957.2 494.3 1954.7 494.1 1952.2 494.0 1949.7 495.2 1947.2 496.5 1944.7 497.7 1942.2 499.0 1939.7 500.3 1937.2 501.6 1934.7 503.0 1932.2 504.4 1929.7 505.8 1927.2 507.2 1924.7 508.6 1922.2 510.0 1919.7 511.4 1917.2 512.8 1914.7 514.2 1912.2 515.6 1909.7 517.4 1907.2 521.8 1904.7 526.3 1902.2 530.7 1899.7 535.1 1897.2 539.2 1894.7 542.6 1892.2 545.9 1889.7 549.3 1887.2 547.4 1884.7 543.5 1882.2 539.6 1879.7 535.7 1877.2 531.8 1874.7 527.9 1872.2 524.0 1869.7 520.1 1867.2 516.3 1864.7 513.2 1862.2 510.1 1859.7 507.0 1857.2 503.9 1854.7 500.8 1852.2 497.7 1849.7 494.5 1847.2 491.4 1844.7 488.3 1842.2 486.0 1839.7 484.5 1837.2 483.0 1834.7 481.4 1832.2 479.9 1829.7 478.4 1827.2 476.8 1824.7 475.3 1822.2 473.8 1819.7 472.2 1817.2 472.1 1814.7 472.5 1812.2 472.9 1809.7 473.4 1807.2 473.8 1804.7 474.2 1802.2 474.6 1799.7 474.8 1797.2 474.7 1794.7 474.5 1792.2 474.4 1789.7 474.3 1787.2 474.2 1784.7 474.1 1782.2 474.0 1779.7 473.8 1777.2 473.7 1774.7 473.6 1772.2 473.5 1769.7 473.4 1767.2 473.3 1764.7 473.1 1762.2 473.0 1759.7 472.9 1757.2 472.8 1754.7 472.7 1752.2 472.5 1749.7 472.4 1747.2 472.3 1744.7 472.2 1742.2 472.1 1739.7 472.0 1737.2 472.1 1734.7 472.2 1732.2 472.2 1729.7 472.3 1727.2 472.4 1724.7 472.4 1722.2 472.5 1719.7 472.6 1717.2 472.6 1714.7 472.7 1712.2 472.8 1709.7 472.8 1707.2 472.9 1704.7 473.0 1702.2 473.0 1699.7 473.1 1697.2 473.2 1694.7 473.2 1692.2 473.3 1689.7 473.4 1687.2 473.4 1684.7 473.5 1682.2 473.6 1679.7 473.6 1677.2 473.7 1674.7 473.8 1672.2 473.7 1669.7 473.6 1667.2 473.4 1664.7 473.3 1662.2 473.2 1659.7 473.1 1657.2 472.9 1654.7 472.8 1652.2 472.7 1649.7 472.5 1647.2 472.4 1644.7 472.3 1642.2 472.1 1639.7 472.0 1637.2 471.9 1634.7 471.8 1632.2 471.6 1629.7 471.3 1627.2 469.2 1624.7 467.2 1622.2 465.1 1619.7 464.1 1617.2 463.9 1614.7 463.8 1612.2 463.7 1609.7 463.5 1607.2 463.4 1604.7 463.2 1602.2 463.1 1599.7 463.6 1597.2 465.3 1594.7 467.1 1592.2 467.2 1589.7 467.2 1587.2 467.2 1584.7 467.2 1582.2 467.2 1579.7 467.2 1577.2 467.1 1574.7 467.1 1572.2 467.1 1569.7 467.1 1567.2 467.1 1564.7 467.1 1562.2 467.1 1559.7 467.1 1557.2 467.1 1554.7 467.1 1552.2 467.1 1549.7 467.1 1547.2 467.1 1544.7 467.1 1542.2 467.1 1539.7 467.1 1537.2 467.1 1534.7 467.1 1532.2 466.8 1529.7 465.2 1527.2 463.6 1524.7 463.2 1522.2 463.2 1519.7 463.2 1517.2 463.2 1514.7 463.2 1512.2 463.2 1509.7 463.2 1507.2 463.2 1504.7 463.2 1502.2 463.2 1499.7 463.2 1497.2 463.2 1494.7 463.2 1492.2 463.2 1489.7 463.2 1487.2 463.1 1484.7 463.1 1482.2 463.1 1479.7 463.1 1477.2 463.1 1474.7 463.1 1472.2 463.1 1469.7 463.1 1467.2 463.1 1464.7 463.2 1462.2 464.8 1459.7 466.4 1457.2 466.8 1454.7 466.7 1452.2 466.7 1449.7 466.6 1447.2 466.5 1444.7 466.4 1442.2 466.3 1439.7 466.3 1437.2 466.2 1434.7 466.1 1432.2 466.0 1429.7 465.9 1427.2 465.9 1424.7 465.8 1422.2 465.7 1419.7 465.6 1417.2 465.5 1414.7 465.5 1412.2 465.4 1409.7 465.3 1407.2 465.2 1404.7 465.0 1402.2 464.9 1399.7 464.7 1397.2 464.6 1394.7 464.4 1392.2 464.3 1389.7 464.2 1387.2 464.0 1384.7 463.9 1382.2 463.7 1379.7 465.8 1377.2 468.2 1374.7 470.5 1372.2 472.8 1369.7 475.1 1367.2 477.5 1364.7 479.8 1362.2 481.8 1359.7 483.8 1357.2 485.8 1354.7 487.8 1352.2 489.7 1349.7 491.7 1347.2 494.2 1344.7 496.7 1342.2 499.2 1339.7 501.7 1337.2 504.2 1334.7 506.7 1332.2 509.2 1329.7 511.7 1327.2 514.2 1324.7 516.7 1322.2 519.2 1319.7 521.7 1317.2 524.5 1314.7 527.3 1312.2 530.0 1309.7 532.8 1307.2 535.6 1304.7 538.4 1302.2 541.2 1299.7 543.9 1297.2 546.7 1294.7 549.5 1292.2 551.0 1289.7 551.6 1287.2 552.2 1284.7 552.8 1282.2 553.4 1279.7 552.5 1277.2 551.5 1274.7 550.4 1272.2 549.4 1269.7 548.4 1267.2 547.3 1264.7 546.3 1262.2 545.2 1259.7 544.2 1257.2 543.2 1254.7 542.1 1252.2 541.1 1249.7 540.0 1247.2 539.0 1244.7 537.6 1242.2 536.1 1239.7 534.7 1237.2 533.2 1234.7 531.7 1232.2 530.2 1229.7 528.7 1227.2 527.2 1224.7 525.7 1222.2 524.2 1219.7 522.7 1217.2 521.3 1214.7 519.7 1212.2 518.2 1209.7 516.7 1207.2 515.1 1204.7 513.6 1202.2 512.1 1199.7 510.5 1197.2 509.0 1194.7 507.5 1192.2 505.9 1189.7 504.4 1187.2 502.9 1184.7 501.7 1182.2 500.4 1179.7 499.2 1177.2 497.9 1174.7 496.7 1172.2 495.4 1169.7 494.2 1167.2 492.9 1164.7 491.7 1162.2 490.4 1159.7 489.2Z" fill="#f1f1f1"/>
<g stroke="#dcdcdc" stroke-width="3.0">
<use href="#qe0" transform="translate(0 450.2) scale(1 1.0000)"/>
<use href="#qe0" transform="translate(0 450.2) scale(1 0.9848)"/>
<use href="#qe0" transform="translate(0 450.2) scale(1 0.9397)"/>
<use href="#qe0" transform="translate(0 450.2) scale(1 0.8660)"/>
<use href="#qe0" transform="translate(0 450.2) scale(1 0.7660)"/>
<use href="#qe0" transform="translate(0 450.2) scale(1 0.6428)"/>
<use href="#qe0" transform="translate(0 450.2) scale(1 0.5000)"/>
<use href="#qe0" transform="translate(0 450.2) scale(1 0.3420)"/>
<use href="#qe0" transform="translate(0 450.2) scale(1 0.1736)"/>
<use href="#qe0" transform="translate(0 450.2) scale(1 0.0010)"/>
<use href="#qe0" transform="translate(0 450.2) scale(1 -0.1736)"/>
<use href="#qe0" transform="translate(0 450.2) scale(1 -0.3420)"/>
<use href="#qe0" transform="translate(0 450.2) scale(1 -0.5000)"/>
<use href="#qe0" transform="translate(0 450.2) scale(1 -0.6428)"/>
<use href="#qe0" transform="translate(0 450.2) scale(1 -0.7660)"/>
<use href="#qe0" transform="translate(0 450.2) scale(1 -0.8660)"/>
<use href="#qe0" transform="translate(0 450.2) scale(1 -0.9397)"/>
<use href="#qe0" transform="translate(0 450.2) scale(1 -0.9848)"/>
<use href="#qe0" transform="translate(0 450.2) scale(1 -1.0000)"/>
</g>
<path d="M1159.7 489.0L1162.2 489.9 1164.7 491.9 1167.2 492.7 1169.7 493.7 1172.2 495.4 1174.7 495.9 1177.2 497.1 1179.7 499.5 1182.2 500.5 1184.7 502.1 1187.2 502.2 1189.7 503.7 1192.2 506.0 1194.7 507.5 1197.2 509.1 1199.7 510.6 1202.2 511.5 1204.7 514.0 1207.2 514.6 1209.7 517.2 1212.2 517.8 1214.7 519.0 1217.2 521.3 1219.7 523.4 1222.2 524.5 1224.7 525.3 1227.2 527.6 1229.7 528.9 1232.2 530.2 1234.7 531.3 1237.2 533.2 1239.7 533.9 1242.2 535.7 1244.7 537.7 1247.2 538.6 1249.7 540.0 1252.2 541.2 1254.7 542.9 1257.2 542.8 1259.7 543.6 1262.2 545.5 1264.7 546.8 1267.2 547.9 1269.7 548.1 1272.2 549.2 1274.7 549.7 1277.2 550.8 1279.7 552.8 1282.2 553.6 1284.7 553.3 1287.2 552.9 1289.7 551.8 1292.2 551.1 1294.7 550.2 1297.2 546.3 1299.7 544.0 1302.2 541.9 1304.7 538.1 1307.2 536.2 1309.7 532.3 1312.2 530.3 1314.7 527.1 1317.2 524.1 1319.7 521.1 1322.2 518.8 1324.7 516.2 1327.2 513.9 1329.7 511.6 1332.2 508.8 1334.7 506.7 1337.2 504.2 1339.7 501.2 1342.2 499.7 1344.7 496.2 1347.2 493.5 1349.7 491.4 1352.2 489.6 1354.7 487.4 1357.2 486.2 1359.7 483.8 1362.2 481.1 1364.7 480.4 1367.2 478.0 1369.7 474.4 1372.2 472.9 1374.7 470.7 1377.2 468.1 1379.7 465.8 1382.2 463.6 1384.7 464.6 1387.2 464.5 1389.7 464.3 1392.2 465.0 1394.7 465.1 1397.2 464.9 1399.7 464.0 1402.2 464.6 1404.7 465.7 1407.2 465.4 1409.7 464.6 1412.2 465.9 1414.7 466.2 1417.2 466.0 1419.7 466.3 1422.2 466.2 1424.7 465.9 1427.2 465.1 1429.7 465.5 1432.2 466.5 1434.7 466.0 1437.2 465.7 1439.7 465.9 1442.2 466.8 1444.7 466.6 1447.2 467.1 1449.7 466.9 1452.2 467.1 1454.7 466.5 1457.2 467.3 1459.7 467.1 1462.2 464.0 1464.7 462.5 1467.2 463.4 1469.7 462.3 1472.2 462.3 1474.7 463.7 1477.2 463.1 1479.7 462.5 1482.2 463.3 1484.7 462.6 1487.2 463.5 1489.7 463.9 1492.2 463.4 1494.7 463.1 1497.2 462.9 1499.7 462.5 1502.2 463.1 1504.7 463.0 1507.2 463.7 1509.7 463.5 1512.2 462.9 1514.7 462.4 1517.2 463.2 1519.7 463.7 1522.2 463.7 1524.7 462.5 1527.2 463.9 1529.7 465.5 1532.2 467.0 1534.7 466.3 1537.2 466.6 1539.7 467.0 1542.2 466.5 1544.7 466.8 1547.2 467.6 1549.7 467.5 1552.2 466.7 1554.7 466.8 1557.2 467.2 1559.7 467.0 1562.2 466.3 1564.7 467.7 1567.2 467.6 1569.7 466.5 1572.2 467.5 1574.7 466.8 1577.2 467.2 1579.7 467.6 1582.2 466.9 1584.7 467.9 1587.2 467.8 1589.7 466.6 1592.2 467.2 1594.7 466.4 1597.2 465.8 1599.7 463.3 1602.2 462.6 1604.7 463.3 1607.2 463.9 1609.7 464.3 1612.2 463.4 1614.7 463.1 1617.2 463.3 1619.7 463.6 1622.2 464.9 1624.7 467.5 1627.2 468.5 1629.7 472.0 1632.2 472.1 1634.7 471.1 1637.2 472.6 1639.7 472.8 1642.2 472.2 1644.7 472.9 1647.2 472.6 1649.7 472.1 1652.2 472.8 1654.7 472.5 1657.2 473.0 1659.7 473.6 1662.2 473.9 1664.7 473.9 1667.2 473.7 1669.7 472.8 1672.2 473.2 1674.7 473.2 1677.2 474.1 1679.7 472.9 1682.2 473.8 1684.7 473.2 1687.2 473.1 1689.7 473.1 1692.2 472.6 1694.7 473.5 1697.2 473.9 1699.7 472.4 1702.2 472.5 1704.7 473.6 1707.2 472.2 1709.7 473.3 1712.2 473.3 1714.7 472.7 1717.2 472.5 1719.7 472.1 1722.2 472.4 1724.7 472.7 1727.2 472.2 1729.7 471.8 1732.2 472.9 1734.7 472.1 1737.2 472.2 1739.7 471.9 1742.2 472.7 1744.7 472.5 1747.2 472.4 1749.7 472.6 1752.2 473.2 1754.7 472.3 1757.2 472.0 1759.7 473.2 1762.2 472.5 1764.7 473.8 1767.2 472.5 1769.7 473.0 1772.2 473.8 1774.7 473.3 1777.2 473.5 1779.7 473.2 1782.2 474.5 1784.7 474.3 1787.2 473.4 1789.7 475.0 1792.2 474.0 1794.7 474.1 1797.2 474.5 1799.7 474.1 1802.2 474.8 1804.7 473.5 1807.2 473.3 1809.7 473.7 1812.2 472.5 1814.7 473.1 1817.2 471.7 1819.7 472.4 1822.2 473.7 1824.7 474.7 1827.2 477.3 1829.7 479.1 1832.2 479.6 1834.7 481.3 1837.2 482.5 1839.7 484.9 1842.2 486.8 1844.7 488.2 1847.2 491.7 1849.7 494.3 1852.2 497.9 1854.7 501.1 1857.2 503.3 1859.7 506.8 1862.2 509.5 1864.7 513.3 1867.2 516.2 1869.7 520.4 1872.2 524.6 1874.7 527.5 1877.2 531.5 1879.7 535.4 1882.2 540.2 1884.7 544.2 1887.2 547.5 1889.7 549.0 1892.2 545.7 1894.7 542.3 1897.2 538.8 1899.7 534.6 1902.2 530.8 1904.7 526.5 1907.2 522.6 1909.7 517.5 1912.2 516.0 1914.7 514.0 1917.2 512.0 1919.7 510.7 1922.2 509.7 1924.7 508.1 1927.2 506.9 1929.7 506.2 1932.2 504.3 1934.7 503.1 1937.2 501.4 1939.7 500.1 1942.2 498.5 1944.7 498.4 1947.2 495.7 1949.7 494.5 1952.2 494.2 1954.7 493.4 1957.2 494.1 1959.7 493.9 1962.2 494.8 1964.7 494.2 1967.2 494.5 1969.7 495.5 1972.2 495.2 1974.7 495.6 1977.2 494.7 1979.7 495.9 1982.2 496.2 1984.7 494.7 1987.2 495.8 1989.7 494.8 1992.2 494.2 1994.7 495.0 1997.2 494.2 1999.7 494.8 2002.2 494.6 2004.7 494.7 2007.2 494.8 2009.7 493.5 2012.2 493.2 2014.7 494.0 2017.2 494.0 2019.7 494.0 2022.2 493.5 2024.7 493.3 2027.2 493.1 2029.7 493.2 2032.2 493.1 2034.7 492.4 2037.2 493.2 2039.7 493.1 2042.2 492.3 2044.7 492.5 2047.2 493.2 2049.7 493.1 2052.2 493.7 2054.7 494.2 2057.2 494.5 2059.7 494.6 2062.2 495.3 2064.7 495.5 2067.2 496.6 2069.7 496.8 2072.2 496.3 2074.7 496.3 2077.2 495.1 2079.7 495.3 2082.2 493.9 2084.7 493.9 2087.2 493.5 2089.7 494.7 2092.2 493.9 2094.7 494.8 2097.2 495.7 2099.7 496.2 2102.2 495.4 2104.7 496.7 2107.2 496.0 2109.7 496.5 2112.2 497.7 2114.7 497.7 2117.2 497.3 2119.7 497.8 2122.2 497.2 2124.7 492.4 2127.2 494.9 2129.7 496.5 2132.2 498.3 2134.7 499.7 2137.2 501.8 2139.7 503.5 2142.2 505.5 2144.7 507.9 2147.2 510.8 2149.7 511.8 2152.2 514.0 2154.7 516.8 2157.2 518.4 2159.7 519.7 2162.2 522.5 2164.7 524.4 2167.2 525.4 2169.7 528.7 2172.2 529.7" fill="none" stroke="#e3302e" stroke-width="4.2" stroke-linejoin="round"/>
<path d="M1159.7 411.0L1162.2 410.1 1164.7 408.1 1167.2 407.3 1169.7 406.3 1172.2 404.7 1174.7 404.1 1177.2 402.9 1179.7 400.6 1182.2 399.5 1184.7 397.9 1187.2 397.9 1189.7 396.4 1192.2 394.0 1194.7 392.6 1197.2 391.0 1199.7 389.5 1202.2 388.6 1204.7 386.1 1207.2 385.5 1209.7 382.9 1212.2 382.3 1214.7 381.2 1217.2 378.8 1219.7 376.7 1222.2 375.6 1224.7 374.9 1227.2 372.6 1229.7 371.2 1232.2 369.9 1234.7 368.9 1237.2 367.0 1239.7 366.3 1242.2 364.5 1244.7 362.5 1247.2 361.6 1249.7 360.2 1252.2 359.0 1254.7 357.3 1257.2 357.4 1259.7 356.7 1262.2 354.8 1264.7 353.4 1267.2 352.3 1269.7 352.1 1272.2 351.1 1274.7 350.6 1277.2 349.4 1279.7 347.5 1282.2 346.7 1284.7 347.0 1287.2 347.4 1289.7 348.5 1292.2 349.2 1294.7 350.1 1297.2 354.0 1299.7 356.3 1302.2 358.4 1304.7 362.3 1307.2 364.1 1309.7 368.1 1312.2 370.1 1314.7 373.3 1317.2 376.3 1319.7 379.3 1322.2 381.6 1324.7 384.1 1327.2 386.5 1329.7 388.8 1332.2 391.6 1334.7 393.7 1337.2 396.2 1339.7 399.2 1342.2 400.7 1344.7 404.2 1347.2 406.9 1349.7 409.0 1352.2 410.8 1354.7 413.1 1357.2 414.2 1359.7 416.7 1362.2 419.4 1364.7 420.1 1367.2 422.5 1369.7 426.0 1372.2 427.6 1374.7 429.7 1377.2 432.4 1379.7 434.7 1382.2 436.9 1384.7 435.9 1387.2 436.0 1389.7 436.2 1392.2 435.5 1394.7 435.4 1397.2 435.6 1399.7 436.6 1402.2 436.0 1404.7 434.9 1407.2 435.2 1409.7 436.0 1412.2 434.6 1414.7 434.4 1417.2 434.6 1419.7 434.2 1422.2 434.4 1424.7 434.7 1427.2 435.5 1429.7 435.1 1432.2 434.2 1434.7 434.7 1437.2 434.9 1439.7 434.7 1442.2 433.8 1444.7 434.1 1447.2 433.5 1449.7 433.8 1452.2 433.6 1454.7 434.2 1457.2 433.4 1459.7 433.6 1462.2 436.6 1464.7 438.2 1467.2 437.3 1469.7 438.4 1472.2 438.4 1474.7 437.0 1477.2 437.6 1479.7 438.2 1482.2 437.4 1484.7 438.1 1487.2 437.3 1489.7 436.9 1492.2 437.3 1494.7 437.6 1497.2 437.9 1499.7 438.3 1502.2 437.7 1504.7 437.7 1507.2 437.0 1509.7 437.3 1512.2 437.9 1514.7 438.4 1517.2 437.6 1519.7 437.2 1522.2 437.2 1524.7 438.3 1527.2 436.9 1529.7 435.3 1532.2 433.9 1534.7 434.5 1537.2 434.3 1539.7 433.8 1542.2 434.4 1544.7 434.1 1547.2 433.3 1549.7 433.4 1552.2 434.2 1554.7 434.1 1557.2 433.7 1559.7 434.0 1562.2 434.6 1564.7 433.2 1567.2 433.3 1569.7 434.5 1572.2 433.5 1574.7 434.1 1577.2 433.8 1579.7 433.4 1582.2 434.1 1584.7 433.1 1587.2 433.2 1589.7 434.4 1592.2 433.8 1594.7 434.6 1597.2 435.2 1599.7 437.7 1602.2 438.3 1604.7 437.7 1607.2 437.1 1609.7 436.7 1612.2 437.6 1614.7 437.9 1617.2 437.6 1619.7 437.3 1622.2 436.0 1624.7 433.4 1627.2 432.5 1629.7 428.9 1632.2 428.8 1634.7 429.8 1637.2 428.2 1639.7 428.1 1642.2 428.7 1644.7 428.0 1647.2 428.3 1649.7 428.7 1652.2 428.0 1654.7 428.4 1657.2 427.9 1659.7 427.2 1662.2 427.0 1664.7 426.9 1667.2 427.1 1669.7 428.0 1672.2 427.6 1674.7 427.6 1677.2 426.6 1679.7 427.9 1682.2 426.9 1684.7 427.5 1687.2 427.7 1689.7 427.6 1692.2 428.1 1694.7 427.3 1697.2 426.8 1699.7 428.3 1702.2 428.2 1704.7 427.1 1707.2 428.5 1709.7 427.4 1712.2 427.4 1714.7 428.0 1717.2 428.1 1719.7 428.6 1722.2 428.3 1724.7 427.9 1727.2 428.4 1729.7 428.8 1732.2 427.8 1734.7 428.6 1737.2 428.4 1739.7 428.7 1742.2 427.9 1744.7 428.1 1747.2 428.1 1749.7 428.0 1752.2 427.4 1754.7 428.2 1757.2 428.5 1759.7 427.4 1762.2 428.1 1764.7 426.7 1767.2 428.0 1769.7 427.5 1772.2 426.7 1774.7 427.2 1777.2 427.0 1779.7 427.3 1782.2 426.0 1784.7 426.1 1787.2 427.1 1789.7 425.5 1792.2 426.5 1794.7 426.4 1797.2 425.9 1799.7 426.4 1802.2 425.6 1804.7 426.9 1807.2 427.1 1809.7 426.7 1812.2 428.0 1814.7 427.3 1817.2 428.7 1819.7 428.0 1822.2 426.7 1824.7 425.7 1827.2 423.1 1829.7 421.3 1832.2 420.7 1834.7 419.0 1837.2 417.8 1839.7 415.4 1842.2 413.5 1844.7 412.1 1847.2 408.6 1849.7 406.0 1852.2 402.4 1854.7 399.2 1857.2 397.0 1859.7 393.5 1862.2 390.8 1864.7 387.0 1867.2 384.0 1869.7 379.8 1872.2 375.6 1874.7 372.8 1877.2 368.8 1879.7 364.8 1882.2 360.0 1884.7 356.0 1887.2 352.7 1889.7 351.2 1892.2 354.4 1894.7 357.9 1897.2 361.3 1899.7 365.6 1902.2 369.3 1904.7 373.6 1907.2 377.6 1909.7 382.6 1912.2 384.2 1914.7 386.1 1917.2 388.1 1919.7 389.4 1922.2 390.4 1924.7 392.0 1927.2 393.2 1929.7 393.8 1932.2 395.7 1934.7 396.9 1937.2 398.6 1939.7 400.0 1942.2 401.5 1944.7 401.7 1947.2 404.3 1949.7 405.6 1952.2 405.8 1954.7 406.6 1957.2 405.9 1959.7 406.1 1962.2 405.2 1964.7 405.8 1967.2 405.5 1969.7 404.5 1972.2 404.8 1974.7 404.3 1977.2 405.2 1979.7 404.0 1982.2 403.8 1984.7 405.2 1987.2 404.2 1989.7 405.1 1992.2 405.7 1994.7 404.9 1997.2 405.7 1999.7 405.1 2002.2 405.3 2004.7 405.1 2007.2 405.1 2009.7 406.3 2012.2 406.6 2014.7 405.8 2017.2 405.8 2019.7 405.8 2022.2 406.3 2024.7 406.5 2027.2 406.7 2029.7 406.6 2032.2 406.7 2034.7 407.4 2037.2 406.6 2039.7 406.7 2042.2 407.5 2044.7 407.2 2047.2 406.6 2049.7 406.7 2052.2 406.1 2054.7 405.5 2057.2 405.2 2059.7 405.2 2062.2 404.4 2064.7 404.2 2067.2 403.1 2069.7 402.9 2072.2 403.4 2074.7 403.4 2077.2 404.6 2079.7 404.4 2082.2 405.7 2084.7 405.7 2087.2 406.2 2089.7 405.0 2092.2 405.7 2094.7 404.8 2097.2 403.9 2099.7 403.4 2102.2 404.2 2104.7 402.9 2107.2 403.6 2109.7 403.1 2112.2 401.8 2114.7 401.9 2117.2 402.3 2119.7 401.7 2122.2 402.4 2124.7 407.1 2127.2 404.7 2129.7 403.0 2132.2 401.3 2134.7 399.8 2137.2 397.7 2139.7 396.0 2142.2 394.0 2144.7 391.6 2147.2 388.7 2149.7 387.7 2152.2 385.4 2154.7 382.7 2157.2 381.0 2159.7 379.7 2162.2 377.0 2164.7 375.1 2167.2 374.0 2169.7 370.7 2172.2 369.7" fill="none" stroke="#2d4fa3" stroke-width="4.2" stroke-linejoin="round"/>
</g>
<defs><path id="qf0" d="M1159.7 -112.3L1162.2 -114.5 1164.7 -117.2 1167.2 -119.5 1169.7 -122.3 1172.2 -124.8 1174.7 -127.5 1177.2 -129.8 1179.7 -131.4 1182.2 -133.7 1184.7 -135.9 1187.2 -138.8 1189.7 -140.4 1192.2 -142.4 1194.7 -143.7 1197.2 -145.8 1199.7 -147.5 1202.2 -149.1 1204.7 -151.0 1207.2 -151.5 1209.7 -153.2 1212.2 -154.7 1214.7 -155.7 1217.2 -157.0 1219.7 -157.1 1222.2 -158.4 1224.7 -158.8 1227.2 -159.4 1229.7 -160.2 1232.2 -161.1 1234.7 -161.1 1237.2 -161.4 1239.7 -162.4 1242.2 -162.8 1244.7 -162.7 1247.2 -163.7 1249.7 -164.1 1252.2 -163.9 1254.7 -164.9 1257.2 -164.9 1259.7 -165.8 1262.2 -165.2 1264.7 -164.9 1267.2 -164.8 1269.7 -163.9 1272.2 -162.6 1274.7 -162.2 1277.2 -161.5 1279.7 -160.8 1282.2 -159.8 1284.7 -156.0 1287.2 -152.0 1289.7 -148.7 1292.2 -145.3 1294.7 -141.5 1297.2 -137.4 1299.7 -133.9 1302.2 -129.4 1304.7 -124.7 1307.2 -119.3 1309.7 -114.6 1312.2 -109.6 1314.7 -104.6 1317.2 -99.9 1319.7 -95.3 1322.2 -91.2 1324.7 -87.4 1327.2 -83.2 1329.7 -79.3 1332.2 -75.5 1334.7 -71.5 1337.2 -67.4 1339.7 -64.2 1342.2 -60.5 1344.7 -57.6 1347.2 -54.0 1349.7 -50.2 1352.2 -47.7 1354.7 -45.3 1357.2 -42.6 1359.7 -40.2 1362.2 -38.7 1364.7 -37.7 1367.2 -37.9 1369.7 -37.3 1372.2 -36.7 1374.7 -36.1 1377.2 -35.7 1379.7 -35.5 1382.2 -34.6 1384.7 -34.2 1387.2 -32.7 1389.7 -31.3 1392.2 -29.7 1394.7 -27.9 1397.2 -25.6 1399.7 -23.8 1402.2 -21.6 1404.7 -21.5 1407.2 -20.8 1409.7 -20.9 1412.2 -20.1 1414.7 -18.0 1417.2 -16.6 1419.7 -14.4 1422.2 -12.8 1424.7 -10.9 1427.2 -9.5 1429.7 -8.6 1432.2 -8.6 1434.7 -8.7 1437.2 -8.8 1439.7 -8.6 1442.2 -8.3 1444.7 -7.9 1447.2 -7.8 1449.7 -8.2 1452.2 -8.0 1454.7 -7.3 1457.2 -7.5 1459.7 -7.2 1462.2 -6.2 1464.7 -6.0 1467.2 -6.0 1469.7 -5.8 1472.2 -6.3 1474.7 -6.0 1477.2 -6.0 1479.7 -5.7 1482.2 -5.8 1484.7 -6.1 1487.2 -6.1 1489.7 -6.2 1492.2 -6.5 1494.7 -6.2 1497.2 -6.2 1499.7 -6.5 1502.2 -6.1 1504.7 -6.3 1507.2 -6.0 1509.7 -6.5 1512.2 -6.4 1514.7 -7.5 1517.2 -8.4 1519.7 -8.7 1522.2 -8.6 1524.7 -9.0 1527.2 -8.8 1529.7 -8.5 1532.2 -8.6 1534.7 -8.8 1537.2 -9.1 1539.7 -8.8 1542.2 -8.7 1544.7 -8.7 1547.2 -8.8 1549.7 -9.2 1552.2 -8.8 1554.7 -8.6 1557.2 -8.6 1559.7 -8.7 1562.2 -8.8 1564.7 -8.6 1567.2 -10.0 1569.7 -11.1 1572.2 -11.5 1574.7 -11.3 1577.2 -11.1 1579.7 -12.2 1582.2 -13.4 1584.7 -13.7 1587.2 -13.9 1589.7 -14.0 1592.2 -13.9 1594.7 -14.4 1597.2 -13.9 1599.7 -13.9 1602.2 -14.8 1604.7 -14.5 1607.2 -14.8 1609.7 -15.5 1612.2 -16.3 1614.7 -16.6 1617.2 -17.5 1619.7 -18.0 1622.2 -17.7 1624.7 -17.7 1627.2 -17.8 1629.7 -17.9 1632.2 -18.3 1634.7 -18.8 1637.2 -18.7 1639.7 -18.5 1642.2 -18.8 1644.7 -18.9 1647.2 -18.9 1649.7 -19.3 1652.2 -20.5 1654.7 -20.9 1657.2 -20.7 1659.7 -20.4 1662.2 -20.4 1664.7 -20.7 1667.2 -20.4 1669.7 -21.0 1672.2 -20.8 1674.7 -20.8 1677.2 -21.0 1679.7 -21.1 1682.2 -21.4 1684.7 -20.8 1687.2 -21.2 1689.7 -21.1 1692.2 -21.1 1694.7 -20.9 1697.2 -21.5 1699.7 -20.9 1702.2 -21.2 1704.7 -21.6 1707.2 -21.2 1709.7 -21.6 1712.2 -21.4 1714.7 -21.6 1717.2 -21.9 1719.7 -21.6 1722.2 -21.8 1724.7 -21.3 1727.2 -21.8 1729.7 -21.5 1732.2 -22.0 1734.7 -21.9 1737.2 -21.1 1739.7 -20.8 1742.2 -20.1 1744.7 -20.1 1747.2 -20.5 1749.7 -20.4 1752.2 -20.5 1754.7 -20.6 1757.2 -20.4 1759.7 -20.1 1762.2 -20.1 1764.7 -19.8 1767.2 -20.0 1769.7 -20.5 1772.2 -20.4 1774.7 -20.1 1777.2 -19.8 1779.7 -20.0 1782.2 -19.7 1784.7 -19.6 1787.2 -20.3 1789.7 -19.6 1792.2 -20.2 1794.7 -20.1 1797.2 -19.6 1799.7 -19.5 1802.2 -20.1 1804.7 -19.8 1807.2 -19.7 1809.7 -19.8 1812.2 -19.5 1814.7 -20.1 1817.2 -20.6 1819.7 -22.1 1822.2 -23.1 1824.7 -24.4 1827.2 -25.8 1829.7 -26.6 1832.2 -27.8 1834.7 -30.2 1837.2 -31.5 1839.7 -33.5 1842.2 -35.5 1844.7 -37.0 1847.2 -39.1 1849.7 -42.7 1852.2 -45.7 1854.7 -48.4 1857.2 -52.6 1859.7 -57.4 1862.2 -62.8 1864.7 -68.6 1867.2 -74.4 1869.7 -80.8 1872.2 -86.8 1874.7 -93.9 1877.2 -100.6 1879.7 -107.1 1882.2 -113.5 1884.7 -119.0 1887.2 -123.6 1889.7 -125.6 1892.2 -121.9 1894.7 -117.1 1897.2 -113.2 1899.7 -108.0 1902.2 -103.0 1904.7 -97.4 1907.2 -91.9 1909.7 -86.6 1912.2 -81.8 1914.7 -77.1 1917.2 -72.2 1919.7 -67.2 1922.2 -62.5 1924.7 -60.1 1927.2 -57.2 1929.7 -55.5 1932.2 -55.0 1934.7 -54.3 1937.2 -53.1 1939.7 -52.8 1942.2 -52.6 1944.7 -52.4 1947.2 -51.8 1949.7 -51.7 1952.2 -51.5 1954.7 -51.3 1957.2 -50.7 1959.7 -51.0 1962.2 -50.9 1964.7 -51.0 1967.2 -51.3 1969.7 -51.8 1972.2 -52.3 1974.7 -52.7 1977.2 -52.7 1979.7 -53.3 1982.2 -52.9 1984.7 -53.4 1987.2 -53.1 1989.7 -53.2 1992.2 -53.1 1994.7 -53.2 1997.2 -53.2 1999.7 -53.3 2002.2 -53.8 2004.7 -53.4 2007.2 -53.8 2009.7 -53.3 2012.2 -53.8 2014.7 -53.3 2017.2 -53.5 2019.7 -53.9 2022.2 -53.6 2024.7 -53.7 2027.2 -54.3 2029.7 -54.5 2032.2 -55.6 2034.7 -57.1 2037.2 -58.0 2039.7 -58.9 2042.2 -60.2 2044.7 -60.8 2047.2 -60.8 2049.7 -61.2 2052.2 -61.6 2054.7 -61.3 2057.2 -61.6 2059.7 -61.8 2062.2 -62.3 2064.7 -62.1 2067.2 -62.2 2069.7 -62.6 2072.2 -63.0 2074.7 -63.2 2077.2 -63.6 2079.7 -63.8 2082.2 -64.8 2084.7 -66.8 2087.2 -67.7 2089.7 -68.4 2092.2 -68.7 2094.7 -68.6 2097.2 -68.6 2099.7 -68.8 2102.2 -68.7 2104.7 -68.1 2107.2 -68.2 2109.7 -68.7 2112.2 -69.2 2114.7 -69.6 2117.2 -70.5 2119.7 -71.4 2122.2 -71.8 2124.7 -72.0 2127.2 -72.5 2129.7 -72.8 2132.2 -73.9 2134.7 -74.1 2137.2 -75.8 2139.7 -76.5 2142.2 -78.6 2144.7 -80.0 2147.2 -81.7 2149.7 -83.5 2152.2 -85.4 2154.7 -87.0 2157.2 -88.7 2159.7 -90.5 2162.2 -92.0 2164.7 -93.7 2167.2 -95.0 2169.7 -97.0 2172.2 -98.6" fill="none" vector-effect="non-scaling-stroke"/></defs>
<g clip-path="url(#cr)">
<path d="M1159.7 924.3L1162.2 921.7 1164.7 919.2 1167.2 916.6 1169.7 914.1 1172.2 911.5 1174.7 909.4 1177.2 907.4 1179.7 905.4 1182.2 903.4 1184.7 901.4 1187.2 899.4 1189.7 897.4 1192.2 895.4 1194.7 893.4 1197.2 891.4 1199.7 889.4 1202.2 887.5 1204.7 886.7 1207.2 885.8 1209.7 884.9 1212.2 884.1 1214.7 883.2 1217.2 882.3 1219.7 881.5 1222.2 880.6 1224.7 879.7 1227.2 878.9 1229.7 878.0 1232.2 877.2 1234.7 876.9 1237.2 876.5 1239.7 876.2 1242.2 875.8 1244.7 875.5 1247.2 875.2 1249.7 874.8 1252.2 874.5 1254.7 874.1 1257.2 873.8 1259.7 873.4 1262.2 873.1 1264.7 872.9 1267.2 873.6 1269.7 874.2 1272.2 874.8 1274.7 875.5 1277.2 876.1 1279.7 876.7 1282.2 877.6 1284.7 880.7 1287.2 883.8 1289.7 887.0 1292.2 890.1 1294.7 893.2 1297.2 896.4 1299.7 899.6 1302.2 904.6 1304.7 909.7 1307.2 914.7 1309.7 919.7 1312.2 924.8 1314.7 929.7 1317.2 934.3 1319.7 938.9 1322.2 943.5 1324.7 948.1 1327.2 952.7 1329.7 957.3 1332.2 961.9 1334.7 966.4 1337.2 970.0 1339.7 973.5 1342.2 977.0 1344.7 980.4 1347.2 983.9 1349.7 987.4 1352.2 990.8 1354.7 994.3 1357.2 997.8 1359.7 999.8 1362.2 1000.1 1364.7 1000.4 1367.2 1000.6 1369.7 1000.9 1372.2 1001.2 1374.7 1001.5 1377.2 1001.7 1379.7 1002.0 1382.2 1002.3 1384.7 1002.6 1387.2 1004.6 1389.7 1006.9 1392.2 1009.2 1394.7 1011.5 1397.2 1013.8 1399.7 1016.1 1402.2 1018.4 1404.7 1018.3 1407.2 1017.5 1409.7 1016.7 1412.2 1016.4 1414.7 1018.7 1417.2 1020.9 1419.7 1023.1 1422.2 1025.3 1424.7 1027.5 1427.2 1029.0 1429.7 1029.2 1432.2 1029.3 1434.7 1029.4 1437.2 1029.6 1439.7 1029.7 1442.2 1029.8 1444.7 1030.0 1447.2 1030.1 1449.7 1030.2 1452.2 1030.3 1454.7 1030.5 1457.2 1030.6 1459.7 1031.0 1462.2 1032.3 1464.7 1033.6 1467.2 1033.6 1469.7 1033.6 1472.2 1033.6 1474.7 1033.6 1477.2 1033.6 1479.7 1033.6 1482.2 1033.6 1484.7 1033.6 1487.2 1033.6 1489.7 1033.6 1492.2 1033.6 1494.7 1033.6 1497.2 1033.6 1499.7 1033.6 1502.2 1033.6 1504.7 1033.6 1507.2 1033.6 1509.7 1033.6 1512.2 1033.4 1514.7 1031.5 1517.2 1029.6 1519.7 1029.0 1522.2 1029.0 1524.7 1029.0 1527.2 1029.0 1529.7 1029.0 1532.2 1029.0 1534.7 1029.0 1537.2 1029.0 1539.7 1029.0 1542.2 1029.0 1544.7 1029.0 1547.2 1029.0 1549.7 1029.0 1552.2 1029.0 1554.7 1029.0 1557.2 1029.0 1559.7 1029.0 1562.2 1029.0 1564.7 1029.0 1567.2 1029.0 1569.7 1029.0 1572.2 1029.0 1574.7 1029.0 1577.2 1028.9 1579.7 1027.0 1582.2 1025.2 1584.7 1024.7 1587.2 1024.6 1589.7 1024.4 1592.2 1024.3 1594.7 1024.2 1597.2 1024.1 1599.7 1023.9 1602.2 1023.8 1604.7 1023.7 1607.2 1023.6 1609.7 1023.4 1612.2 1023.3 1614.7 1022.0 1617.2 1020.7 1619.7 1020.2 1622.2 1020.1 1624.7 1020.0 1627.2 1019.9 1629.7 1019.7 1632.2 1019.6 1634.7 1019.5 1637.2 1019.4 1639.7 1019.3 1642.2 1019.2 1644.7 1019.0 1647.2 1018.9 1649.7 1017.9 1652.2 1016.7 1654.7 1016.0 1657.2 1016.0 1659.7 1016.0 1662.2 1016.0 1664.7 1016.0 1667.2 1016.0 1669.7 1016.0 1672.2 1016.0 1674.7 1016.1 1677.2 1016.1 1679.7 1016.1 1682.2 1016.1 1684.7 1016.1 1687.2 1016.1 1689.7 1016.1 1692.2 1016.1 1694.7 1016.1 1697.2 1016.1 1699.7 1016.1 1702.2 1016.1 1704.7 1016.1 1707.2 1016.1 1709.7 1016.1 1712.2 1016.1 1714.7 1016.2 1717.2 1016.2 1719.7 1016.2 1722.2 1016.2 1724.7 1016.2 1727.2 1016.2 1729.7 1016.2 1732.2 1016.2 1734.7 1016.2 1737.2 1017.5 1739.7 1018.7 1742.2 1019.2 1744.7 1019.2 1747.2 1019.2 1749.7 1019.2 1752.2 1019.2 1754.7 1019.2 1757.2 1019.2 1759.7 1019.2 1762.2 1019.2 1764.7 1019.2 1767.2 1019.2 1769.7 1019.2 1772.2 1019.2 1774.7 1019.2 1777.2 1019.2 1779.7 1019.2 1782.2 1019.2 1784.7 1019.2 1787.2 1019.2 1789.7 1019.2 1792.2 1019.2 1794.7 1019.2 1797.2 1019.2 1799.7 1019.2 1802.2 1019.2 1804.7 1019.2 1807.2 1019.2 1809.7 1019.2 1812.2 1019.2 1814.7 1018.7 1817.2 1017.9 1819.7 1017.1 1822.2 1016.2 1824.7 1015.4 1827.2 1014.6 1829.7 1013.8 1832.2 1012.5 1834.7 1010.5 1837.2 1008.5 1839.7 1006.4 1842.2 1004.4 1844.7 1002.4 1847.2 1000.3 1849.7 998.3 1852.2 996.3 1854.7 994.2 1857.2 989.7 1859.7 983.6 1862.2 977.6 1864.7 971.6 1867.2 965.6 1869.7 959.6 1872.2 952.7 1874.7 945.2 1877.2 937.8 1879.7 930.3 1882.2 922.8 1884.7 918.2 1887.2 914.5 1889.7 912.8 1892.2 916.2 1894.7 919.6 1897.2 922.9 1899.7 928.0 1902.2 933.8 1904.7 939.6 1907.2 945.4 1909.7 951.0 1912.2 956.6 1914.7 962.1 1917.2 967.7 1919.7 973.3 1922.2 978.5 1924.7 979.5 1927.2 980.6 1929.7 981.6 1932.2 982.6 1934.7 983.7 1937.2 984.7 1939.7 985.8 1942.2 986.1 1944.7 986.2 1947.2 986.4 1949.7 986.5 1952.2 986.7 1954.7 986.8 1957.2 986.9 1959.7 987.1 1962.2 987.2 1964.7 987.3 1967.2 987.5 1969.7 986.6 1972.2 985.6 1974.7 984.7 1977.2 983.9 1979.7 983.9 1982.2 983.9 1984.7 983.9 1987.2 983.9 1989.7 983.9 1992.2 983.9 1994.7 983.9 1997.2 983.9 1999.7 983.9 2002.2 983.9 2004.7 983.9 2007.2 983.9 2009.7 983.9 2012.2 983.9 2014.7 983.9 2017.2 983.9 2019.7 983.9 2022.2 983.9 2024.7 983.9 2027.2 983.9 2029.7 983.3 2032.2 982.4 2034.7 981.4 2037.2 980.5 2039.7 979.6 2042.2 978.7 2044.7 978.3 2047.2 978.1 2049.7 977.8 2052.2 977.6 2054.7 977.4 2057.2 977.2 2059.7 977.0 2062.2 976.8 2064.7 976.6 2067.2 976.4 2069.7 976.2 2072.2 976.0 2074.7 975.8 2077.2 975.6 2079.7 975.2 2082.2 974.0 2084.7 972.7 2087.2 971.5 2089.7 970.9 2092.2 971.1 2094.7 971.3 2097.2 971.5 2099.7 971.6 2102.2 971.8 2104.7 972.0 2107.2 972.2 2109.7 972.3 2112.2 971.1 2114.7 969.8 2117.2 968.6 2119.7 967.3 2122.2 966.1 2124.7 965.3 2127.2 964.5 2129.7 963.7 2132.2 962.8 2134.7 962.0 2137.2 961.2 2139.7 960.4 2142.2 958.9 2144.7 957.3 2147.2 955.7 2149.7 954.2 2152.2 952.6 2154.7 951.1 2157.2 949.5 2159.7 947.9 2162.2 946.4 2164.7 944.8 2167.2 943.2 2169.7 941.7 2172.2 940.1 2172.2 1137.4 2169.7 1135.6 2167.2 1133.8 2164.7 1132.1 2162.2 1130.3 2159.7 1128.5 2157.2 1126.7 2154.7 1124.9 2152.2 1123.1 2149.7 1121.4 2147.2 1119.6 2144.7 1117.8 2142.2 1116.0 2139.7 1114.2 2137.2 1112.4 2134.7 1110.6 2132.2 1109.9 2129.7 1109.9 2127.2 1109.8 2124.7 1109.7 2122.2 1109.6 2119.7 1109.5 2117.2 1109.4 2114.7 1109.3 2112.2 1109.2 2109.7 1109.1 2107.2 1109.1 2104.7 1109.0 2102.2 1108.9 2099.7 1108.8 2097.2 1108.7 2094.7 1108.6 2092.2 1108.5 2089.7 1108.4 2087.2 1107.5 2084.7 1105.9 2082.2 1104.2 2079.7 1102.6 2077.2 1102.2 2074.7 1102.0 2072.2 1101.8 2069.7 1101.6 2067.2 1101.4 2064.7 1101.2 2062.2 1101.0 2059.7 1100.8 2057.2 1100.6 2054.7 1100.4 2052.2 1100.2 2049.7 1100.0 2047.2 1099.7 2044.7 1099.5 2042.2 1099.0 2039.7 1097.7 2037.2 1096.5 2034.7 1095.2 2032.2 1093.9 2029.7 1092.7 2027.2 1091.8 2024.7 1091.7 2022.2 1091.6 2019.7 1091.5 2017.2 1091.4 2014.7 1091.3 2012.2 1091.2 2009.7 1091.1 2007.2 1091.0 2004.7 1090.9 2002.2 1090.8 1999.7 1090.7 1997.2 1090.6 1994.7 1090.5 1992.2 1090.4 1989.7 1090.3 1987.2 1090.2 1984.7 1090.1 1982.2 1090.0 1979.7 1089.9 1977.2 1089.8 1974.7 1089.7 1972.2 1089.6 1969.7 1089.5 1967.2 1089.4 1964.7 1089.3 1962.2 1089.2 1959.7 1089.1 1957.2 1089.0 1954.7 1088.9 1952.2 1088.8 1949.7 1089.3 1947.2 1089.8 1944.7 1090.2 1942.2 1090.7 1939.7 1091.2 1937.2 1091.6 1934.7 1092.1 1932.2 1092.6 1929.7 1093.0 1927.2 1095.0 1924.7 1099.3 1922.2 1103.6 1919.7 1107.9 1917.2 1112.1 1914.7 1116.4 1912.2 1120.7 1909.7 1125.0 1907.2 1129.3 1904.7 1134.2 1902.2 1139.3 1899.7 1144.3 1897.2 1149.4 1894.7 1154.4 1892.2 1159.4 1889.7 1164.5 1887.2 1161.7 1884.7 1155.9 1882.2 1150.1 1879.7 1144.3 1877.2 1138.5 1874.7 1132.6 1872.2 1126.8 1869.7 1121.0 1867.2 1115.2 1864.7 1109.4 1862.2 1103.6 1859.7 1099.2 1857.2 1095.2 1854.7 1091.3 1852.2 1087.3 1849.7 1083.3 1847.2 1079.3 1844.7 1077.0 1842.2 1075.4 1839.7 1073.8 1837.2 1072.1 1834.7 1070.5 1832.2 1068.9 1829.7 1067.2 1827.2 1065.6 1824.7 1064.0 1822.2 1062.3 1819.7 1060.7 1817.2 1059.1 1814.7 1058.5 1812.2 1058.6 1809.7 1058.6 1807.2 1058.7 1804.7 1058.7 1802.2 1058.8 1799.7 1058.8 1797.2 1058.9 1794.7 1058.9 1792.2 1059.0 1789.7 1059.0 1787.2 1059.1 1784.7 1059.1 1782.2 1059.2 1779.7 1059.2 1777.2 1059.3 1774.7 1059.3 1772.2 1059.4 1769.7 1059.4 1767.2 1059.5 1764.7 1059.5 1762.2 1059.6 1759.7 1059.6 1757.2 1059.7 1754.7 1059.7 1752.2 1059.8 1749.7 1059.8 1747.2 1059.9 1744.7 1059.9 1742.2 1060.0 1739.7 1060.0 1737.2 1059.9 1734.7 1059.8 1732.2 1059.7 1729.7 1059.6 1727.2 1059.6 1724.7 1059.5 1722.2 1059.4 1719.7 1059.3 1717.2 1059.2 1714.7 1059.1 1712.2 1059.1 1709.7 1059.0 1707.2 1058.9 1704.7 1058.8 1702.2 1058.7 1699.7 1058.6 1697.2 1058.6 1694.7 1058.5 1692.2 1058.4 1689.7 1058.3 1687.2 1058.2 1684.7 1058.1 1682.2 1058.1 1679.7 1058.0 1677.2 1057.9 1674.7 1057.8 1672.2 1057.7 1669.7 1057.7 1667.2 1057.6 1664.7 1057.5 1662.2 1057.4 1659.7 1057.3 1657.2 1057.2 1654.7 1057.2 1652.2 1057.1 1649.7 1057.0 1647.2 1056.9 1644.7 1056.8 1642.2 1056.7 1639.7 1056.6 1637.2 1056.6 1634.7 1056.5 1632.2 1056.4 1629.7 1056.3 1627.2 1056.2 1624.7 1056.1 1622.2 1056.0 1619.7 1056.0 1617.2 1055.9 1614.7 1055.8 1612.2 1055.7 1609.7 1054.4 1607.2 1053.2 1604.7 1052.7 1602.2 1052.6 1599.7 1052.5 1597.2 1052.4 1594.7 1052.3 1592.2 1052.2 1589.7 1052.1 1587.2 1052.0 1584.7 1051.9 1582.2 1051.8 1579.7 1051.7 1577.2 1051.6 1574.7 1051.5 1572.2 1051.4 1569.7 1050.3 1567.2 1048.5 1564.7 1046.9 1562.2 1046.9 1559.7 1046.8 1557.2 1046.8 1554.7 1046.8 1552.2 1046.7 1549.7 1046.7 1547.2 1046.6 1544.7 1046.6 1542.2 1046.6 1539.7 1046.5 1537.2 1046.5 1534.7 1046.5 1532.2 1046.4 1529.7 1046.4 1527.2 1046.4 1524.7 1046.3 1522.2 1046.3 1519.7 1046.3 1517.2 1046.2 1514.7 1046.2 1512.2 1046.2 1509.7 1046.1 1507.2 1046.1 1504.7 1046.0 1502.2 1046.0 1499.7 1046.0 1497.2 1045.9 1494.7 1045.9 1492.2 1045.9 1489.7 1045.8 1487.2 1045.8 1484.7 1045.8 1482.2 1045.7 1479.7 1045.7 1477.2 1045.7 1474.7 1045.6 1472.2 1045.6 1469.7 1045.6 1467.2 1045.5 1464.7 1045.5 1462.2 1045.4 1459.7 1045.4 1457.2 1045.5 1454.7 1045.6 1452.2 1045.7 1449.7 1045.9 1447.2 1046.0 1444.7 1046.1 1442.2 1046.3 1439.7 1046.4 1437.2 1046.5 1434.7 1046.6 1432.2 1046.8 1429.7 1046.9 1427.2 1048.2 1424.7 1049.6 1422.2 1051.0 1419.7 1052.4 1417.2 1053.9 1414.7 1055.3 1412.2 1056.7 1409.7 1058.1 1407.2 1059.6 1404.7 1061.0 1402.2 1062.4 1399.7 1063.8 1397.2 1065.3 1394.7 1066.7 1392.2 1068.1 1389.7 1069.5 1387.2 1070.7 1384.7 1071.3 1382.2 1072.0 1379.7 1072.6 1377.2 1073.2 1374.7 1073.8 1372.2 1074.5 1369.7 1075.1 1367.2 1075.7 1364.7 1076.3 1362.2 1078.2 1359.7 1080.2 1357.2 1082.2 1354.7 1084.2 1352.2 1086.2 1349.7 1088.2 1347.2 1091.7 1344.7 1095.2 1342.2 1098.6 1339.7 1102.1 1337.2 1105.6 1334.7 1109.1 1332.2 1112.5 1329.7 1116.0 1327.2 1119.5 1324.7 1123.0 1322.2 1126.4 1319.7 1130.1 1317.2 1134.8 1314.7 1139.5 1312.2 1144.1 1309.7 1148.8 1307.2 1153.5 1304.7 1158.2 1302.2 1162.9 1299.7 1167.6 1297.2 1171.8 1294.7 1176.0 1292.2 1180.2 1289.7 1184.4 1287.2 1188.6 1284.7 1192.8 1282.2 1197.0 1279.7 1198.1 1277.2 1199.0 1274.7 1199.9 1272.2 1200.8 1269.7 1201.6 1267.2 1202.5 1264.7 1203.4 1262.2 1204.3 1259.7 1204.4 1257.2 1203.9 1254.7 1203.4 1252.2 1202.9 1249.7 1202.4 1247.2 1201.9 1244.7 1201.4 1242.2 1200.9 1239.7 1200.4 1237.2 1199.9 1234.7 1199.4 1232.2 1198.9 1229.7 1198.4 1227.2 1197.9 1224.7 1197.4 1222.2 1196.9 1219.7 1196.4 1217.2 1195.9 1214.7 1194.4 1212.2 1192.8 1209.7 1191.1 1207.2 1189.5 1204.7 1187.9 1202.2 1186.3 1199.7 1184.6 1197.2 1183.0 1194.7 1181.4 1192.2 1179.8 1189.7 1178.1 1187.2 1176.4 1184.7 1173.9 1182.2 1171.4 1179.7 1168.8 1177.2 1166.3 1174.7 1163.8 1172.2 1161.3 1169.7 1158.8 1167.2 1156.3 1164.7 1153.7 1162.2 1151.2 1159.7 1148.7Z" fill="#f1f1f1"/>
<g stroke="#dcdcdc" stroke-width="3.0">
<use href="#qf0" transform="translate(0 1038.1) scale(1 1.0000)"/>
<use href="#qf0" transform="translate(0 1038.1) scale(1 0.9848)"/>
<use href="#qf0" transform="translate(0 1038.1) scale(1 0.9397)"/>
<use href="#qf0" transform="translate(0 1038.1) scale(1 0.8660)"/>
<use href="#qf0" transform="translate(0 1038.1) scale(1 0.7660)"/>
<use href="#qf0" transform="translate(0 1038.1) scale(1 0.6428)"/>
<use href="#qf0" transform="translate(0 1038.1) scale(1 0.5000)"/>
<use href="#qf0" transform="translate(0 1038.1) scale(1 0.3420)"/>
<use href="#qf0" transform="translate(0 1038.1) scale(1 0.1736)"/>
<use href="#qf0" transform="translate(0 1038.1) scale(1 0.0010)"/>
<use href="#qf0" transform="translate(0 1038.1) scale(1 -0.1736)"/>
<use href="#qf0" transform="translate(0 1038.1) scale(1 -0.3420)"/>
<use href="#qf0" transform="translate(0 1038.1) scale(1 -0.5000)"/>
<use href="#qf0" transform="translate(0 1038.1) scale(1 -0.6428)"/>
<use href="#qf0" transform="translate(0 1038.1) scale(1 -0.7660)"/>
<use href="#qf0" transform="translate(0 1038.1) scale(1 -0.8660)"/>
<use href="#qf0" transform="translate(0 1038.1) scale(1 -0.9397)"/>
<use href="#qf0" transform="translate(0 1038.1) scale(1 -0.9848)"/>
<use href="#qf0" transform="translate(0 1038.1) scale(1 -1.0000)"/>
</g>
<path d="M1159.7 1148.8L1162.2 1150.7 1164.7 1153.6 1167.2 1155.6 1169.7 1158.6 1172.2 1161.2 1174.7 1164.5 1177.2 1167.0 1179.7 1168.3 1182.2 1170.8 1184.7 1173.2 1187.2 1177.0 1189.7 1178.3 1192.2 1180.2 1194.7 1180.7 1197.2 1183.0 1199.7 1184.5 1202.2 1185.7 1204.7 1188.6 1207.2 1188.8 1209.7 1191.3 1212.2 1193.5 1214.7 1194.6 1217.2 1196.4 1219.7 1195.8 1222.2 1197.3 1224.7 1197.4 1227.2 1197.6 1229.7 1198.5 1232.2 1199.3 1234.7 1199.1 1237.2 1199.4 1239.7 1200.9 1242.2 1201.4 1244.7 1200.9 1247.2 1202.5 1249.7 1203.1 1252.2 1202.2 1254.7 1203.9 1257.2 1203.6 1259.7 1205.0 1262.2 1203.6 1264.7 1202.8 1267.2 1203.1 1269.7 1202.1 1272.2 1200.0 1274.7 1199.9 1277.2 1199.1 1279.7 1198.3 1282.2 1197.2 1284.7 1192.6 1287.2 1187.9 1289.7 1184.4 1292.2 1180.7 1294.7 1176.2 1297.2 1171.1 1299.7 1167.5 1302.2 1163.4 1304.7 1159.0 1307.2 1153.3 1309.7 1148.8 1312.2 1143.9 1314.7 1138.8 1317.2 1134.2 1319.7 1129.5 1322.2 1125.9 1324.7 1122.8 1327.2 1119.0 1329.7 1115.9 1332.2 1112.8 1334.7 1109.4 1337.2 1104.8 1339.7 1101.9 1342.2 1098.1 1344.7 1095.7 1347.2 1092.0 1349.7 1087.8 1352.2 1086.1 1354.7 1084.9 1357.2 1082.9 1359.7 1080.1 1362.2 1077.5 1364.7 1075.8 1367.2 1076.4 1369.7 1075.5 1372.2 1074.7 1374.7 1073.7 1377.2 1073.2 1379.7 1073.0 1382.2 1071.4 1384.7 1071.0 1387.2 1070.1 1389.7 1069.5 1392.2 1068.7 1394.7 1067.2 1397.2 1065.0 1399.7 1063.7 1402.2 1061.6 1404.7 1061.3 1407.2 1059.1 1409.7 1058.4 1412.2 1056.6 1414.7 1054.7 1417.2 1054.1 1419.7 1051.9 1422.2 1050.9 1424.7 1049.4 1427.2 1048.0 1429.7 1046.4 1432.2 1046.6 1434.7 1046.8 1437.2 1047.2 1439.7 1046.9 1442.2 1046.4 1444.7 1045.7 1447.2 1045.7 1449.7 1046.7 1452.2 1046.4 1454.7 1045.0 1457.2 1045.5 1459.7 1045.5 1462.2 1044.7 1464.7 1045.5 1467.2 1045.5 1469.7 1045.1 1472.2 1046.2 1474.7 1045.7 1477.2 1045.5 1479.7 1045.1 1482.2 1045.2 1484.7 1045.7 1487.2 1045.8 1489.7 1046.0 1492.2 1046.5 1494.7 1045.9 1497.2 1046.0 1499.7 1046.6 1502.2 1045.9 1504.7 1046.2 1507.2 1045.7 1509.7 1046.6 1512.2 1046.2 1514.7 1046.4 1517.2 1046.4 1519.7 1046.4 1522.2 1046.3 1524.7 1047.0 1527.2 1046.6 1529.7 1046.0 1532.2 1046.2 1534.7 1046.5 1537.2 1047.3 1539.7 1046.5 1542.2 1046.4 1544.7 1046.5 1547.2 1046.6 1549.7 1047.3 1552.2 1046.5 1554.7 1046.3 1557.2 1046.1 1559.7 1046.3 1562.2 1046.7 1564.7 1046.2 1567.2 1048.9 1569.7 1051.1 1572.2 1052.0 1574.7 1051.6 1577.2 1051.1 1579.7 1051.5 1582.2 1052.0 1584.7 1052.1 1587.2 1052.4 1589.7 1052.5 1592.2 1052.1 1594.7 1052.9 1597.2 1051.9 1599.7 1051.7 1602.2 1053.3 1604.7 1052.6 1607.2 1053.2 1609.7 1054.4 1612.2 1055.9 1614.7 1055.3 1617.2 1055.8 1619.7 1056.2 1622.2 1055.6 1624.7 1055.4 1627.2 1055.5 1629.7 1055.5 1632.2 1056.3 1634.7 1057.0 1637.2 1056.8 1639.7 1056.2 1642.2 1056.7 1644.7 1056.8 1647.2 1056.8 1649.7 1056.5 1652.2 1057.7 1654.7 1057.8 1657.2 1057.3 1659.7 1056.8 1662.2 1056.8 1664.7 1057.5 1667.2 1056.9 1669.7 1058.1 1672.2 1057.6 1674.7 1057.7 1677.2 1058.0 1679.7 1058.3 1682.2 1058.8 1684.7 1057.7 1687.2 1058.4 1689.7 1058.4 1692.2 1058.3 1694.7 1057.9 1697.2 1059.0 1699.7 1058.0 1702.2 1058.6 1704.7 1059.4 1707.2 1058.5 1709.7 1059.4 1712.2 1059.0 1714.7 1059.3 1717.2 1059.9 1719.7 1059.4 1722.2 1059.7 1724.7 1058.7 1727.2 1059.8 1729.7 1059.3 1732.2 1060.1 1734.7 1060.0 1737.2 1059.7 1739.7 1060.3 1742.2 1059.4 1744.7 1059.5 1747.2 1060.1 1749.7 1059.9 1752.2 1060.2 1754.7 1060.4 1757.2 1060.0 1759.7 1059.4 1762.2 1059.3 1764.7 1058.9 1767.2 1059.1 1769.7 1060.1 1772.2 1059.9 1774.7 1059.3 1777.2 1058.8 1779.7 1059.3 1782.2 1058.5 1784.7 1058.4 1787.2 1059.7 1789.7 1058.4 1792.2 1059.7 1794.7 1059.4 1797.2 1058.5 1799.7 1058.1 1802.2 1059.5 1804.7 1058.9 1807.2 1058.6 1809.7 1058.8 1812.2 1058.1 1814.7 1058.9 1817.2 1059.1 1819.7 1061.3 1822.2 1062.5 1824.7 1064.2 1827.2 1066.1 1829.7 1066.9 1832.2 1068.2 1834.7 1070.9 1837.2 1071.5 1839.7 1073.5 1842.2 1075.5 1844.7 1076.3 1847.2 1078.5 1849.7 1083.7 1852.2 1087.6 1854.7 1091.0 1857.2 1094.9 1859.7 1098.4 1862.2 1103.2 1864.7 1108.7 1867.2 1114.4 1869.7 1121.2 1872.2 1126.4 1874.7 1133.0 1877.2 1139.0 1879.7 1144.4 1882.2 1149.8 1884.7 1156.3 1887.2 1161.8 1889.7 1164.0 1892.2 1160.0 1894.7 1153.7 1897.2 1149.3 1899.7 1144.1 1902.2 1139.8 1904.7 1134.4 1907.2 1129.2 1909.7 1124.3 1912.2 1120.2 1914.7 1116.3 1917.2 1112.1 1919.7 1107.7 1922.2 1103.6 1924.7 1099.7 1927.2 1095.1 1929.7 1092.5 1932.2 1092.7 1934.7 1092.3 1937.2 1090.9 1939.7 1091.3 1942.2 1091.3 1944.7 1091.0 1947.2 1090.0 1949.7 1089.9 1952.2 1089.6 1954.7 1089.5 1957.2 1088.4 1959.7 1089.1 1962.2 1088.9 1964.7 1089.4 1967.2 1090.1 1969.7 1090.2 1972.2 1090.3 1974.7 1090.1 1977.2 1089.3 1979.7 1090.5 1982.2 1089.6 1984.7 1090.8 1987.2 1090.1 1989.7 1090.3 1992.2 1090.1 1994.7 1090.3 1997.2 1090.4 1999.7 1090.6 2002.2 1091.5 2004.7 1090.6 2007.2 1091.5 2009.7 1090.6 2012.2 1091.5 2014.7 1090.5 2017.2 1090.9 2019.7 1091.7 2022.2 1091.0 2024.7 1091.3 2027.2 1092.5 2029.7 1092.3 2032.2 1093.6 2034.7 1095.6 2037.2 1096.6 2039.7 1097.5 2042.2 1099.1 2044.7 1099.8 2047.2 1099.7 2049.7 1100.3 2052.2 1100.9 2054.7 1100.0 2057.2 1100.5 2059.7 1100.7 2062.2 1101.5 2064.7 1100.8 2067.2 1100.8 2069.7 1101.5 2072.2 1102.1 2074.7 1102.2 2077.2 1102.8 2079.7 1102.8 2082.2 1103.6 2084.7 1106.4 2087.2 1106.8 2089.7 1107.7 2092.2 1108.6 2094.7 1108.6 2097.2 1108.6 2099.7 1109.2 2102.2 1109.2 2104.7 1108.3 2107.2 1108.6 2109.7 1109.7 2112.2 1109.5 2114.7 1109.1 2117.2 1109.5 2119.7 1110.1 2122.2 1109.8 2124.7 1109.4 2127.2 1109.5 2129.7 1109.3 2132.2 1110.6 2134.7 1110.1 2137.2 1112.8 2139.7 1113.5 2142.2 1116.1 2144.7 1117.4 2147.2 1119.0 2149.7 1121.1 2152.2 1123.4 2154.7 1125.0 2157.2 1126.9 2159.7 1129.0 2162.2 1130.4 2164.7 1132.2 2167.2 1133.3 2169.7 1135.6 2172.2 1137.2" fill="none" stroke="#e3302e" stroke-width="4.2" stroke-linejoin="round"/>
<path d="M1159.7 924.1L1162.2 922.3 1164.7 919.3 1167.2 917.3 1169.7 914.2 1172.2 911.7 1174.7 908.7 1177.2 906.8 1179.7 906.0 1182.2 904.0 1184.7 902.1 1187.2 898.8 1189.7 897.3 1192.2 895.0 1194.7 894.1 1197.2 891.4 1199.7 889.6 1202.2 888.1 1204.7 886.0 1207.2 886.6 1209.7 884.8 1212.2 883.3 1214.7 883.0 1217.2 881.9 1219.7 882.1 1222.2 880.2 1224.7 879.8 1227.2 879.2 1229.7 878.0 1232.2 876.8 1234.7 877.2 1237.2 877.1 1239.7 875.7 1242.2 875.4 1244.7 876.1 1247.2 874.6 1249.7 874.2 1252.2 875.2 1254.7 873.7 1257.2 874.1 1259.7 872.9 1262.2 873.8 1264.7 873.5 1267.2 873.0 1269.7 873.7 1272.2 875.6 1274.7 875.5 1277.2 876.0 1279.7 876.5 1282.2 877.3 1284.7 880.9 1287.2 884.5 1289.7 887.0 1292.2 889.6 1294.7 893.1 1297.2 897.1 1299.7 899.7 1302.2 904.1 1304.7 908.9 1307.2 915.0 1309.7 919.7 1312.2 925.0 1314.7 930.3 1317.2 934.9 1319.7 939.5 1322.2 944.1 1324.7 948.2 1327.2 953.1 1329.7 957.3 1332.2 961.6 1334.7 966.2 1337.2 970.8 1339.7 973.7 1342.2 977.6 1344.7 979.9 1347.2 983.6 1349.7 987.8 1352.2 990.9 1354.7 993.6 1357.2 997.1 1359.7 999.9 1362.2 1000.8 1364.7 1000.9 1367.2 1000.0 1369.7 1000.6 1372.2 1001.0 1374.7 1001.6 1377.2 1001.8 1379.7 1001.6 1382.2 1002.8 1384.7 1002.9 1387.2 1005.2 1389.7 1006.9 1392.2 1008.6 1394.7 1010.9 1397.2 1014.0 1399.7 1016.2 1402.2 1019.1 1404.7 1018.0 1407.2 1017.9 1409.7 1016.4 1412.2 1016.5 1414.7 1019.3 1417.2 1020.6 1419.7 1023.6 1422.2 1025.4 1424.7 1027.7 1427.2 1029.2 1429.7 1029.7 1432.2 1029.5 1434.7 1029.3 1437.2 1028.9 1439.7 1029.1 1442.2 1029.7 1444.7 1030.3 1447.2 1030.3 1449.7 1029.4 1452.2 1029.7 1454.7 1031.1 1457.2 1030.6 1459.7 1030.9 1462.2 1033.1 1464.7 1033.5 1467.2 1033.6 1469.7 1034.0 1472.2 1033.0 1474.7 1033.5 1477.2 1033.7 1479.7 1034.2 1482.2 1034.1 1484.7 1033.6 1487.2 1033.6 1489.7 1033.5 1492.2 1032.9 1494.7 1033.6 1497.2 1033.6 1499.7 1032.9 1502.2 1033.8 1504.7 1033.5 1507.2 1034.0 1509.7 1033.1 1512.2 1033.4 1514.7 1031.3 1517.2 1029.4 1519.7 1028.9 1522.2 1029.0 1524.7 1028.3 1527.2 1028.8 1529.7 1029.4 1532.2 1029.3 1534.7 1028.9 1537.2 1028.2 1539.7 1029.0 1542.2 1029.2 1544.7 1029.1 1547.2 1029.1 1549.7 1028.3 1552.2 1029.2 1554.7 1029.5 1557.2 1029.7 1559.7 1029.5 1562.2 1029.2 1564.7 1029.7 1567.2 1028.6 1569.7 1028.2 1572.2 1028.3 1574.7 1028.9 1577.2 1029.3 1579.7 1027.2 1582.2 1025.0 1584.7 1024.4 1587.2 1024.1 1589.7 1024.0 1592.2 1024.4 1594.7 1023.6 1597.2 1024.6 1599.7 1024.7 1602.2 1023.1 1604.7 1023.8 1607.2 1023.6 1609.7 1023.5 1612.2 1023.0 1614.7 1022.5 1617.2 1020.8 1619.7 1020.0 1622.2 1020.6 1624.7 1020.7 1627.2 1020.5 1629.7 1020.5 1632.2 1019.7 1634.7 1018.9 1637.2 1019.1 1639.7 1019.7 1642.2 1019.2 1644.7 1019.1 1647.2 1019.1 1649.7 1018.4 1652.2 1016.0 1654.7 1015.4 1657.2 1015.9 1659.7 1016.5 1662.2 1016.6 1664.7 1016.0 1667.2 1016.7 1669.7 1015.6 1672.2 1016.2 1674.7 1016.2 1677.2 1015.9 1679.7 1015.8 1682.2 1015.3 1684.7 1016.5 1687.2 1015.9 1689.7 1016.0 1692.2 1016.1 1694.7 1016.7 1697.2 1015.7 1699.7 1016.8 1702.2 1016.3 1704.7 1015.6 1707.2 1016.5 1709.7 1015.7 1712.2 1016.2 1714.7 1016.0 1717.2 1015.5 1719.7 1016.1 1722.2 1015.8 1724.7 1016.9 1727.2 1016.0 1729.7 1016.5 1732.2 1015.8 1734.7 1016.0 1737.2 1017.6 1739.7 1018.4 1742.2 1019.7 1744.7 1019.7 1747.2 1018.9 1749.7 1019.1 1752.2 1018.8 1754.7 1018.5 1757.2 1018.9 1759.7 1019.5 1762.2 1019.4 1764.7 1019.9 1767.2 1019.6 1769.7 1018.5 1772.2 1018.6 1774.7 1019.2 1777.2 1019.7 1779.7 1019.1 1782.2 1019.8 1784.7 1019.9 1787.2 1018.5 1789.7 1019.9 1792.2 1018.5 1794.7 1018.8 1797.2 1019.6 1799.7 1019.9 1802.2 1018.5 1804.7 1019.1 1807.2 1019.3 1809.7 1019.0 1812.2 1019.7 1814.7 1018.3 1817.2 1017.9 1819.7 1016.5 1822.2 1016.1 1824.7 1015.2 1827.2 1014.1 1829.7 1014.1 1832.2 1013.2 1834.7 1010.1 1837.2 1009.2 1839.7 1006.7 1842.2 1004.3 1844.7 1003.1 1847.2 1001.1 1849.7 997.9 1852.2 995.9 1854.7 994.5 1857.2 990.0 1859.7 984.4 1862.2 978.0 1864.7 972.3 1867.2 966.4 1869.7 959.4 1872.2 953.2 1874.7 944.9 1877.2 937.2 1879.7 930.1 1882.2 923.1 1884.7 917.8 1887.2 914.4 1889.7 913.4 1892.2 915.6 1894.7 920.3 1897.2 922.9 1899.7 928.2 1902.2 933.3 1904.7 939.5 1907.2 945.6 1909.7 951.7 1912.2 957.1 1914.7 962.3 1917.2 967.8 1919.7 973.4 1922.2 978.5 1924.7 979.1 1927.2 980.5 1929.7 982.1 1932.2 982.5 1934.7 983.5 1937.2 985.4 1939.7 985.6 1942.2 985.5 1944.7 985.5 1947.2 986.1 1949.7 985.9 1952.2 985.9 1954.7 986.2 1957.2 987.5 1959.7 987.1 1962.2 987.5 1964.7 987.2 1967.2 986.8 1969.7 986.0 1972.2 984.9 1974.7 984.2 1977.2 984.3 1979.7 983.3 1982.2 984.3 1984.7 983.2 1987.2 983.9 1989.7 983.9 1992.2 984.2 1994.7 984.1 1997.2 984.1 1999.7 984.0 2002.2 983.1 2004.7 984.2 2007.2 983.4 2009.7 984.4 2012.2 983.5 2014.7 984.7 2017.2 984.4 2019.7 983.7 2022.2 984.5 2024.7 984.3 2027.2 983.2 2029.7 983.6 2032.2 982.7 2034.7 981.0 2037.2 980.4 2039.7 979.9 2042.2 978.6 2044.7 978.0 2047.2 978.1 2049.7 977.5 2052.2 976.9 2054.7 977.8 2057.2 977.3 2059.7 977.1 2062.2 976.3 2064.7 977.0 2067.2 977.0 2069.7 976.3 2072.2 975.7 2074.7 975.6 2077.2 975.0 2079.7 975.1 2082.2 974.6 2084.7 972.2 2087.2 972.2 2089.7 971.7 2092.2 971.1 2094.7 971.3 2097.2 971.6 2099.7 971.2 2102.2 971.5 2104.7 972.7 2107.2 972.7 2109.7 971.8 2112.2 970.9 2114.7 970.1 2117.2 968.5 2119.7 966.8 2122.2 965.9 2124.7 965.6 2127.2 964.8 2129.7 964.2 2132.2 962.2 2134.7 962.5 2137.2 960.8 2139.7 961.1 2142.2 958.7 2144.7 957.7 2147.2 956.3 2149.7 954.4 2152.2 952.4 2154.7 951.0 2157.2 949.3 2159.7 947.4 2162.2 946.2 2164.7 944.7 2167.2 943.8 2169.7 941.7 2172.2 940.3" fill="none" stroke="#2d4fa3" stroke-width="4.2" stroke-linejoin="round"/>
</g>
<defs><path id="qg0" d="M1159.7 -94.9L1162.2 -97.2 1164.7 -100.2 1167.2 -102.6 1169.7 -105.4 1172.2 -108.0 1174.7 -110.4 1177.2 -113.0 1179.7 -114.9 1182.2 -117.0 1184.7 -119.8 1187.2 -122.2 1189.7 -123.4 1192.2 -125.1 1194.7 -126.3 1197.2 -127.6 1199.7 -128.7 1202.2 -130.4 1204.7 -131.7 1207.2 -132.8 1209.7 -133.3 1212.2 -134.6 1214.7 -135.1 1217.2 -136.2 1219.7 -136.5 1222.2 -137.4 1224.7 -137.6 1227.2 -138.3 1229.7 -138.8 1232.2 -140.2 1234.7 -140.6 1237.2 -140.5 1239.7 -141.7 1242.2 -141.7 1244.7 -142.6 1247.2 -142.7 1249.7 -143.2 1252.2 -143.5 1254.7 -144.2 1257.2 -144.7 1259.7 -145.5 1262.2 -145.7 1264.7 -145.3 1267.2 -144.4 1269.7 -143.2 1272.2 -142.3 1274.7 -140.9 1277.2 -138.9 1279.7 -137.7 1282.2 -136.7 1284.7 -133.1 1287.2 -129.1 1289.7 -124.6 1292.2 -120.2 1294.7 -116.2 1297.2 -111.4 1299.7 -107.6 1302.2 -102.6 1304.7 -99.0 1307.2 -94.3 1309.7 -90.6 1312.2 -86.6 1314.7 -81.9 1317.2 -78.2 1319.7 -74.0 1322.2 -69.4 1324.7 -65.7 1327.2 -61.9 1329.7 -58.4 1332.2 -54.9 1334.7 -50.9 1337.2 -47.1 1339.7 -43.8 1342.2 -40.4 1344.7 -38.3 1347.2 -35.3 1349.7 -34.0 1352.2 -32.5 1354.7 -30.5 1357.2 -28.6 1359.7 -26.9 1362.2 -25.0 1364.7 -23.9 1367.2 -23.2 1369.7 -23.4 1372.2 -22.6 1374.7 -22.5 1377.2 -21.8 1379.7 -22.1 1382.2 -21.2 1384.7 -20.7 1387.2 -19.6 1389.7 -18.0 1392.2 -15.6 1394.7 -13.6 1397.2 -12.1 1399.7 -9.8 1402.2 -9.1 1404.7 -9.1 1407.2 -9.2 1409.7 -8.2 1412.2 -8.2 1414.7 -7.9 1417.2 -7.8 1419.7 -5.4 1422.2 -2.3 1424.7 -0.7 1427.2 -0.6 1429.7 -0.2 1432.2 0.1 1434.7 0.2 1437.2 0.1 1439.7 0.3 1442.2 0.7 1444.7 0.6 1447.2 0.6 1449.7 0.5 1452.2 1.2 1454.7 0.8 1457.2 1.1 1459.7 1.0 1462.2 1.1 1464.7 1.2 1467.2 1.8 1469.7 3.3 1472.2 3.9 1474.7 3.4 1477.2 3.7 1479.7 4.0 1482.2 3.6 1484.7 3.3 1487.2 3.3 1489.7 3.3 1492.2 3.9 1494.7 3.7 1497.2 3.6 1499.7 3.2 1502.2 3.8 1504.7 3.2 1507.2 3.4 1509.7 3.9 1512.2 3.8 1514.7 3.2 1517.2 2.8 1519.7 2.0 1522.2 1.3 1524.7 1.6 1527.2 0.8 1529.7 1.6 1532.2 1.0 1534.7 1.1 1537.2 0.9 1539.7 1.1 1542.2 0.9 1544.7 1.5 1547.2 1.3 1549.7 1.5 1552.2 1.1 1554.7 1.4 1557.2 0.9 1559.7 0.7 1562.2 0.8 1564.7 1.2 1567.2 1.0 1569.7 0.8 1572.2 1.1 1574.7 1.3 1577.2 1.1 1579.7 0.8 1582.2 0.6 1584.7 0.3 1587.2 0.3 1589.7 0.8 1592.2 -0.0 1594.7 0.4 1597.2 0.2 1599.7 -0.3 1602.2 -0.4 1604.7 -0.2 1607.2 -0.0 1609.7 -0.6 1612.2 -0.6 1614.7 -0.7 1617.2 -0.9 1619.7 -1.2 1622.2 -2.3 1624.7 -4.6 1627.2 -4.1 1629.7 -4.7 1632.2 -4.9 1634.7 -5.3 1637.2 -5.2 1639.7 -5.7 1642.2 -5.7 1644.7 -6.2 1647.2 -6.2 1649.7 -6.8 1652.2 -7.2 1654.7 -7.2 1657.2 -7.9 1659.7 -7.8 1662.2 -8.3 1664.7 -8.6 1667.2 -8.5 1669.7 -8.4 1672.2 -8.6 1674.7 -9.0 1677.2 -9.5 1679.7 -10.3 1682.2 -10.3 1684.7 -10.1 1687.2 -9.9 1689.7 -10.2 1692.2 -10.4 1694.7 -10.6 1697.2 -10.5 1699.7 -10.4 1702.2 -10.6 1704.7 -11.1 1707.2 -10.5 1709.7 -11.1 1712.2 -10.6 1714.7 -10.8 1717.2 -11.1 1719.7 -11.0 1722.2 -11.3 1724.7 -10.7 1727.2 -10.9 1729.7 -10.5 1732.2 -10.4 1734.7 -10.2 1737.2 -9.9 1739.7 -10.0 1742.2 -9.3 1744.7 -8.4 1747.2 -7.1 1749.7 -5.9 1752.2 -5.4 1754.7 -5.5 1757.2 -5.4 1759.7 -5.3 1762.2 -5.0 1764.7 -5.6 1767.2 -5.5 1769.7 -5.6 1772.2 -5.0 1774.7 -5.3 1777.2 -5.4 1779.7 -4.9 1782.2 -5.6 1784.7 -5.3 1787.2 -5.0 1789.7 -5.6 1792.2 -5.1 1794.7 -5.6 1797.2 -5.6 1799.7 -4.9 1802.2 -5.1 1804.7 -5.2 1807.2 -5.3 1809.7 -5.8 1812.2 -6.1 1814.7 -7.1 1817.2 -7.7 1819.7 -8.6 1822.2 -9.7 1824.7 -10.0 1827.2 -11.2 1829.7 -12.5 1832.2 -13.8 1834.7 -16.1 1837.2 -18.4 1839.7 -20.4 1842.2 -23.2 1844.7 -25.1 1847.2 -27.7 1849.7 -31.6 1852.2 -35.2 1854.7 -39.0 1857.2 -43.5 1859.7 -48.9 1862.2 -53.9 1864.7 -59.2 1867.2 -64.6 1869.7 -71.3 1872.2 -76.9 1874.7 -82.5 1877.2 -88.3 1879.7 -93.3 1882.2 -97.6 1884.7 -101.0 1887.2 -105.0 1889.7 -106.0 1892.2 -101.1 1894.7 -95.9 1897.2 -91.1 1899.7 -84.4 1902.2 -78.1 1904.7 -71.5 1907.2 -64.2 1909.7 -59.0 1912.2 -55.2 1914.7 -51.7 1917.2 -48.8 1919.7 -45.7 1922.2 -42.5 1924.7 -41.4 1927.2 -39.8 1929.7 -39.2 1932.2 -39.3 1934.7 -38.4 1937.2 -38.1 1939.7 -37.8 1942.2 -37.1 1944.7 -37.4 1947.2 -36.7 1949.7 -36.2 1952.2 -35.9 1954.7 -35.3 1957.2 -34.7 1959.7 -34.8 1962.2 -34.1 1964.7 -34.1 1967.2 -34.0 1969.7 -33.7 1972.2 -34.3 1974.7 -34.1 1977.2 -33.7 1979.7 -33.9 1982.2 -33.7 1984.7 -34.1 1987.2 -34.2 1989.7 -33.8 1992.2 -33.8 1994.7 -33.6 1997.2 -33.7 1999.7 -34.2 2002.2 -33.7 2004.7 -34.0 2007.2 -34.3 2009.7 -33.7 2012.2 -34.3 2014.7 -33.9 2017.2 -34.3 2019.7 -33.8 2022.2 -34.3 2024.7 -34.2 2027.2 -34.4 2029.7 -36.0 2032.2 -36.4 2034.7 -37.7 2037.2 -39.0 2039.7 -39.3 2042.2 -40.4 2044.7 -41.0 2047.2 -41.3 2049.7 -41.5 2052.2 -41.6 2054.7 -42.0 2057.2 -42.4 2059.7 -42.4 2062.2 -42.5 2064.7 -42.5 2067.2 -42.9 2069.7 -43.4 2072.2 -43.3 2074.7 -43.9 2077.2 -43.8 2079.7 -43.9 2082.2 -44.6 2084.7 -44.9 2087.2 -44.9 2089.7 -44.7 2092.2 -44.8 2094.7 -44.6 2097.2 -45.1 2099.7 -45.0 2102.2 -45.2 2104.7 -44.8 2107.2 -44.9 2109.7 -44.7 2112.2 -45.0 2114.7 -44.9 2117.2 -45.0 2119.7 -45.0 2122.2 -44.9 2124.7 -46.3 2127.2 -47.0 2129.7 -47.6 2132.2 -48.0 2134.7 -49.1 2137.2 -50.2 2139.7 -51.5 2142.2 -53.3 2144.7 -54.8 2147.2 -56.6 2149.7 -57.7 2152.2 -59.0 2154.7 -60.6 2157.2 -62.1 2159.7 -63.2 2162.2 -64.7 2164.7 -66.4 2167.2 -67.8 2169.7 -69.7 2172.2 -70.8" fill="none" vector-effect="non-scaling-stroke"/></defs>
<g clip-path="url(#cr)">
<path d="M1159.7 1530.9L1162.2 1528.4 1164.7 1525.9 1167.2 1523.4 1169.7 1520.9 1172.2 1518.4 1174.7 1515.9 1177.2 1513.8 1179.7 1512.1 1182.2 1510.3 1184.7 1508.6 1187.2 1506.8 1189.7 1505.1 1192.2 1503.3 1194.7 1501.6 1197.2 1499.8 1199.7 1498.1 1202.2 1496.3 1204.7 1494.6 1207.2 1493.6 1209.7 1492.9 1212.2 1492.1 1214.7 1491.4 1217.2 1490.6 1219.7 1489.9 1222.2 1489.1 1224.7 1488.4 1227.2 1487.6 1229.7 1486.9 1232.2 1486.1 1234.7 1485.4 1237.2 1484.9 1239.7 1484.5 1242.2 1484.0 1244.7 1483.6 1247.2 1483.1 1249.7 1482.7 1252.2 1482.2 1254.7 1481.8 1257.2 1481.3 1259.7 1480.8 1262.2 1480.4 1264.7 1479.9 1267.2 1479.6 1269.7 1481.2 1272.2 1482.9 1274.7 1484.6 1277.2 1486.2 1279.7 1487.9 1282.2 1489.6 1284.7 1491.2 1287.2 1494.7 1289.7 1498.3 1292.2 1501.8 1294.7 1505.4 1297.2 1509.0 1299.7 1512.5 1302.2 1516.1 1304.7 1519.7 1307.2 1523.6 1309.7 1527.8 1312.2 1532.0 1314.7 1536.1 1317.2 1540.3 1319.7 1544.5 1322.2 1548.6 1324.7 1552.8 1327.2 1557.0 1329.7 1561.1 1332.2 1565.3 1334.7 1569.5 1337.2 1573.6 1339.7 1577.8 1342.2 1580.9 1344.7 1583.1 1347.2 1585.3 1349.7 1587.5 1352.2 1589.7 1354.7 1591.8 1357.2 1594.0 1359.7 1596.2 1362.2 1598.4 1364.7 1600.5 1367.2 1601.3 1369.7 1602.0 1372.2 1602.8 1374.7 1603.6 1377.2 1604.4 1379.7 1605.2 1382.2 1606.0 1384.7 1606.8 1387.2 1607.5 1389.7 1609.1 1392.2 1610.9 1394.7 1612.8 1397.2 1614.6 1399.7 1616.5 1402.2 1616.9 1404.7 1617.0 1407.2 1617.2 1409.7 1617.4 1412.2 1617.6 1414.7 1617.8 1417.2 1618.0 1419.7 1620.3 1422.2 1623.1 1424.7 1624.7 1427.2 1624.8 1429.7 1624.9 1432.2 1625.1 1434.7 1625.1 1437.2 1625.0 1439.7 1625.0 1442.2 1624.9 1444.7 1624.8 1447.2 1624.7 1449.7 1624.6 1452.2 1624.5 1454.7 1624.4 1457.2 1624.4 1459.7 1624.3 1462.2 1624.2 1464.7 1624.1 1467.2 1624.0 1469.7 1624.0 1472.2 1624.0 1474.7 1624.1 1477.2 1624.1 1479.7 1624.1 1482.2 1624.1 1484.7 1624.2 1487.2 1624.2 1489.7 1624.2 1492.2 1624.2 1494.7 1624.3 1497.2 1624.3 1499.7 1624.3 1502.2 1624.3 1504.7 1624.4 1507.2 1624.4 1509.7 1624.4 1512.2 1624.4 1514.7 1624.5 1517.2 1624.5 1519.7 1624.5 1522.2 1624.5 1524.7 1624.6 1527.2 1624.6 1529.7 1624.6 1532.2 1624.6 1534.7 1624.7 1537.2 1624.7 1539.7 1624.7 1542.2 1624.7 1544.7 1624.8 1547.2 1624.8 1549.7 1624.8 1552.2 1624.8 1554.7 1624.9 1557.2 1624.9 1559.7 1624.9 1562.2 1624.9 1564.7 1625.0 1567.2 1625.0 1569.7 1625.0 1572.2 1625.0 1574.7 1625.1 1577.2 1625.1 1579.7 1625.1 1582.2 1625.1 1584.7 1625.2 1587.2 1625.2 1589.7 1625.2 1592.2 1625.2 1594.7 1625.3 1597.2 1625.3 1599.7 1625.3 1602.2 1625.0 1604.7 1624.8 1607.2 1624.6 1609.7 1624.4 1612.2 1624.2 1614.7 1623.9 1617.2 1623.7 1619.7 1623.5 1622.2 1623.3 1624.7 1623.1 1627.2 1622.8 1629.7 1622.6 1632.2 1622.2 1634.7 1621.8 1637.2 1621.4 1639.7 1621.0 1642.2 1620.5 1644.7 1620.1 1647.2 1619.7 1649.7 1619.3 1652.2 1618.8 1654.7 1618.4 1657.2 1618.0 1659.7 1617.7 1662.2 1617.6 1664.7 1617.6 1667.2 1617.5 1669.7 1617.5 1672.2 1617.5 1674.7 1617.4 1677.2 1617.4 1679.7 1617.3 1682.2 1617.3 1684.7 1617.2 1687.2 1617.2 1689.7 1617.1 1692.2 1617.1 1694.7 1617.0 1697.2 1617.0 1699.7 1617.0 1702.2 1616.9 1704.7 1616.9 1707.2 1616.8 1709.7 1616.8 1712.2 1616.7 1714.7 1616.7 1717.2 1616.6 1719.7 1616.6 1722.2 1616.5 1724.7 1616.5 1727.2 1616.4 1729.7 1616.4 1732.2 1616.4 1734.7 1616.3 1737.2 1616.3 1739.7 1616.2 1742.2 1617.2 1744.7 1618.9 1747.2 1620.6 1749.7 1622.2 1752.2 1622.3 1754.7 1622.3 1757.2 1622.3 1759.7 1622.3 1762.2 1622.3 1764.7 1622.3 1767.2 1622.3 1769.7 1622.3 1772.2 1622.3 1774.7 1622.3 1777.2 1622.3 1779.7 1622.3 1782.2 1622.3 1784.7 1622.3 1787.2 1622.3 1789.7 1622.3 1792.2 1622.3 1794.7 1622.3 1797.2 1622.3 1799.7 1622.3 1802.2 1622.3 1804.7 1622.3 1807.2 1622.3 1809.7 1622.3 1812.2 1621.5 1814.7 1620.5 1817.2 1619.5 1819.7 1618.5 1822.2 1617.5 1824.7 1616.5 1827.2 1615.0 1829.7 1613.4 1832.2 1611.8 1834.7 1610.2 1837.2 1608.6 1839.7 1607.0 1842.2 1605.4 1844.7 1603.8 1847.2 1601.3 1849.7 1596.7 1852.2 1592.0 1854.7 1587.4 1857.2 1582.8 1859.7 1578.1 1862.2 1573.5 1864.7 1568.9 1867.2 1564.2 1869.7 1557.8 1872.2 1550.9 1874.7 1544.0 1877.2 1537.2 1879.7 1530.3 1882.2 1526.9 1884.7 1523.6 1887.2 1520.3 1889.7 1519.2 1892.2 1523.3 1894.7 1527.5 1897.2 1531.7 1899.7 1538.1 1902.2 1545.7 1904.7 1553.3 1907.2 1560.8 1909.7 1568.4 1912.2 1571.3 1914.7 1573.6 1917.2 1575.9 1919.7 1578.2 1922.2 1580.5 1924.7 1582.8 1927.2 1585.1 1929.7 1586.2 1932.2 1586.7 1934.7 1587.1 1937.2 1587.5 1939.7 1587.9 1942.2 1588.3 1944.7 1588.7 1947.2 1589.1 1949.7 1589.6 1952.2 1590.0 1954.7 1590.4 1957.2 1590.8 1959.7 1591.2 1962.2 1591.6 1964.7 1592.0 1967.2 1592.0 1969.7 1592.0 1972.2 1592.0 1974.7 1592.0 1977.2 1592.0 1979.7 1592.0 1982.2 1592.0 1984.7 1592.0 1987.2 1592.0 1989.7 1592.0 1992.2 1592.0 1994.7 1592.0 1997.2 1592.0 1999.7 1592.0 2002.2 1592.0 2004.7 1592.0 2007.2 1592.0 2009.7 1592.0 2012.2 1592.0 2014.7 1592.0 2017.2 1592.0 2019.7 1592.0 2022.2 1592.0 2024.7 1592.0 2027.2 1591.1 2029.7 1590.0 2032.2 1589.0 2034.7 1588.0 2037.2 1586.9 2039.7 1585.9 2042.2 1584.8 2044.7 1584.4 2047.2 1584.2 2049.7 1584.0 2052.2 1583.8 2054.7 1583.6 2057.2 1583.5 2059.7 1583.3 2062.2 1583.1 2064.7 1582.9 2067.2 1582.7 2069.7 1582.5 2072.2 1582.4 2074.7 1582.2 2077.2 1582.0 2079.7 1581.8 2082.2 1581.6 2084.7 1581.5 2087.2 1581.3 2089.7 1581.3 2092.2 1581.2 2094.7 1581.1 2097.2 1581.1 2099.7 1581.0 2102.2 1580.9 2104.7 1580.8 2107.2 1580.8 2109.7 1580.7 2112.2 1580.6 2114.7 1580.6 2117.2 1580.5 2119.7 1580.4 2122.2 1580.3 2124.7 1580.3 2127.2 1580.2 2129.7 1580.1 2132.2 1580.0 2134.7 1579.4 2137.2 1577.8 2139.7 1576.2 2142.2 1574.6 2144.7 1573.0 2147.2 1571.4 2149.7 1569.8 2152.2 1568.2 2154.7 1566.6 2157.2 1565.0 2159.7 1563.4 2162.2 1561.8 2164.7 1560.2 2167.2 1558.6 2169.7 1557.0 2172.2 1555.4 2172.2 1697.0 2169.7 1695.7 2167.2 1694.4 2164.7 1693.0 2162.2 1691.7 2159.7 1690.4 2157.2 1689.1 2154.7 1687.8 2152.2 1686.5 2149.7 1685.2 2147.2 1683.9 2144.7 1682.6 2142.2 1681.3 2139.7 1680.0 2137.2 1678.7 2134.7 1677.4 2132.2 1676.1 2129.7 1674.8 2127.2 1673.5 2124.7 1672.2 2122.2 1670.9 2119.7 1670.6 2117.2 1670.6 2114.7 1670.6 2112.2 1670.6 2109.7 1670.6 2107.2 1670.6 2104.7 1670.6 2102.2 1670.6 2099.7 1670.6 2097.2 1670.6 2094.7 1670.6 2092.2 1670.6 2089.7 1670.6 2087.2 1670.6 2084.7 1670.5 2082.2 1670.3 2079.7 1670.0 2077.2 1669.7 2074.7 1669.4 2072.2 1669.2 2069.7 1668.9 2067.2 1668.6 2064.7 1668.4 2062.2 1668.1 2059.7 1667.8 2057.2 1667.5 2054.7 1667.3 2052.2 1667.0 2049.7 1666.7 2047.2 1666.5 2044.7 1666.2 2042.2 1665.7 2039.7 1664.9 2037.2 1664.1 2034.7 1663.2 2032.2 1662.4 2029.7 1661.6 2027.2 1660.7 2024.7 1660.0 2022.2 1660.0 2019.7 1660.0 2017.2 1660.0 2014.7 1660.0 2012.2 1660.0 2009.7 1660.0 2007.2 1660.0 2004.7 1660.0 2002.2 1660.0 1999.7 1660.0 1997.2 1660.0 1994.7 1660.0 1992.2 1660.0 1989.7 1660.0 1987.2 1660.0 1984.7 1660.0 1982.2 1660.0 1979.7 1660.0 1977.2 1660.0 1974.7 1660.0 1972.2 1660.0 1969.7 1660.0 1967.2 1660.0 1964.7 1660.0 1962.2 1660.3 1959.7 1660.7 1957.2 1661.0 1954.7 1661.4 1952.2 1661.7 1949.7 1662.1 1947.2 1662.4 1944.7 1662.8 1942.2 1663.1 1939.7 1663.5 1937.2 1663.9 1934.7 1664.2 1932.2 1664.6 1929.7 1664.9 1927.2 1665.3 1924.7 1665.6 1922.2 1666.0 1919.7 1669.7 1917.2 1673.8 1914.7 1677.8 1912.2 1681.9 1909.7 1685.9 1907.2 1690.0 1904.7 1695.7 1902.2 1701.6 1899.7 1707.5 1897.2 1713.3 1894.7 1719.2 1892.2 1725.1 1889.7 1731.0 1887.2 1729.6 1884.7 1725.5 1882.2 1721.4 1879.7 1717.3 1877.2 1713.1 1874.7 1709.0 1872.2 1704.9 1869.7 1700.0 1867.2 1694.0 1864.7 1687.9 1862.2 1681.9 1859.7 1675.9 1857.2 1669.9 1854.7 1665.0 1852.2 1662.2 1849.7 1659.4 1847.2 1656.6 1844.7 1653.8 1842.2 1651.0 1839.7 1648.3 1837.2 1645.5 1834.7 1642.7 1832.2 1639.9 1829.7 1638.6 1827.2 1637.9 1824.7 1637.3 1822.2 1636.6 1819.7 1636.0 1817.2 1635.4 1814.7 1634.7 1812.2 1634.1 1809.7 1633.4 1807.2 1632.8 1804.7 1632.8 1802.2 1632.8 1799.7 1632.8 1797.2 1632.8 1794.7 1632.8 1792.2 1632.8 1789.7 1632.8 1787.2 1632.8 1784.7 1632.8 1782.2 1632.8 1779.7 1632.8 1777.2 1632.8 1774.7 1632.8 1772.2 1632.8 1769.7 1632.8 1767.2 1632.8 1764.7 1632.8 1762.2 1632.8 1759.7 1632.8 1757.2 1632.8 1754.7 1633.0 1752.2 1633.5 1749.7 1633.9 1747.2 1634.4 1744.7 1634.9 1742.2 1635.3 1739.7 1635.8 1737.2 1636.3 1734.7 1636.7 1732.2 1637.2 1729.7 1637.7 1727.2 1638.1 1724.7 1638.6 1722.2 1639.0 1719.7 1638.9 1717.2 1638.8 1714.7 1638.7 1712.2 1638.6 1709.7 1638.5 1707.2 1638.4 1704.7 1638.3 1702.2 1638.2 1699.7 1638.1 1697.2 1638.0 1694.7 1638.0 1692.2 1637.9 1689.7 1637.8 1687.2 1637.7 1684.7 1637.6 1682.2 1637.5 1679.7 1637.3 1677.2 1636.6 1674.7 1635.8 1672.2 1635.1 1669.7 1634.4 1667.2 1634.2 1664.7 1634.1 1662.2 1633.9 1659.7 1633.7 1657.2 1633.6 1654.7 1633.4 1652.2 1633.2 1649.7 1633.1 1647.2 1632.9 1644.7 1632.8 1642.2 1632.6 1639.7 1632.4 1637.2 1632.3 1634.7 1632.1 1632.2 1631.9 1629.7 1631.8 1627.2 1631.6 1624.7 1631.4 1622.2 1628.7 1619.7 1625.5 1617.2 1625.5 1614.7 1625.4 1612.2 1625.4 1609.7 1625.4 1607.2 1625.4 1604.7 1625.3 1602.2 1625.3 1599.7 1625.3 1597.2 1625.5 1594.7 1625.7 1592.2 1625.9 1589.7 1626.1 1587.2 1626.4 1584.7 1626.6 1582.2 1626.8 1579.7 1627.0 1577.2 1627.0 1574.7 1627.0 1572.2 1627.0 1569.7 1627.0 1567.2 1627.0 1564.7 1627.0 1562.2 1627.0 1559.7 1627.0 1557.2 1627.0 1554.7 1627.0 1552.2 1627.0 1549.7 1627.0 1547.2 1627.0 1544.7 1627.0 1542.2 1627.0 1539.7 1627.0 1537.2 1627.0 1534.7 1627.0 1532.2 1627.0 1529.7 1627.0 1527.2 1627.0 1524.7 1627.0 1522.2 1627.0 1519.7 1627.8 1517.2 1629.7 1514.7 1631.4 1512.2 1631.4 1509.7 1631.4 1507.2 1631.4 1504.7 1631.4 1502.2 1631.4 1499.7 1631.4 1497.2 1631.4 1494.7 1631.4 1492.2 1631.4 1489.7 1631.4 1487.2 1631.4 1484.7 1631.4 1482.2 1631.4 1479.7 1631.4 1477.2 1631.4 1474.7 1631.4 1472.2 1631.4 1469.7 1629.9 1467.2 1627.0 1464.7 1626.8 1462.2 1626.7 1459.7 1626.6 1457.2 1626.4 1454.7 1626.3 1452.2 1626.2 1449.7 1626.0 1447.2 1625.9 1444.7 1625.8 1442.2 1625.6 1439.7 1625.5 1437.2 1625.3 1434.7 1625.2 1432.2 1625.2 1429.7 1625.3 1427.2 1625.4 1424.7 1625.5 1422.2 1627.2 1419.7 1630.3 1417.2 1633.1 1414.7 1633.5 1412.2 1633.9 1409.7 1634.3 1407.2 1634.8 1404.7 1635.2 1402.2 1635.6 1399.7 1636.3 1397.2 1638.4 1394.7 1640.6 1392.2 1642.8 1389.7 1644.9 1387.2 1647.1 1384.7 1649.0 1382.2 1648.8 1379.7 1648.6 1377.2 1648.5 1374.7 1648.3 1372.2 1648.1 1369.7 1648.0 1367.2 1647.8 1364.7 1647.6 1362.2 1648.8 1359.7 1650.0 1357.2 1651.3 1354.7 1652.5 1352.2 1653.8 1349.7 1655.0 1347.2 1656.3 1344.7 1659.1 1342.2 1662.2 1339.7 1665.4 1337.2 1668.5 1334.7 1671.6 1332.2 1674.8 1329.7 1677.9 1327.2 1681.0 1324.7 1684.1 1322.2 1687.7 1319.7 1691.8 1317.2 1696.0 1314.7 1700.2 1312.2 1704.3 1309.7 1708.5 1307.2 1712.7 1304.7 1717.1 1302.2 1722.1 1299.7 1727.1 1297.2 1732.2 1294.7 1737.2 1292.2 1742.2 1289.7 1747.2 1287.2 1752.3 1284.7 1757.3 1282.2 1762.3 1279.7 1763.7 1277.2 1764.7 1274.7 1765.8 1272.2 1766.8 1269.7 1767.9 1267.2 1769.0 1264.7 1770.0 1262.2 1771.1 1259.7 1771.2 1257.2 1770.7 1254.7 1770.2 1252.2 1769.7 1249.7 1769.2 1247.2 1768.7 1244.7 1768.2 1242.2 1767.7 1239.7 1767.2 1237.2 1766.7 1234.7 1766.2 1232.2 1765.7 1229.7 1765.2 1227.2 1764.7 1224.7 1764.2 1222.2 1763.7 1219.7 1763.2 1217.2 1762.7 1214.7 1761.8 1212.2 1760.8 1209.7 1759.8 1207.2 1758.8 1204.7 1757.8 1202.2 1756.8 1199.7 1755.8 1197.2 1754.8 1194.7 1753.8 1192.2 1752.8 1189.7 1751.8 1187.2 1750.6 1184.7 1747.8 1182.2 1745.1 1179.7 1742.3 1177.2 1739.6 1174.7 1736.8 1172.2 1734.0 1169.7 1731.3 1167.2 1728.5 1164.7 1725.8 1162.2 1723.0 1159.7 1720.3Z" fill="#f1f1f1"/>
<g stroke="#dcdcdc" stroke-width="3.0">
<use href="#qg0" transform="translate(0 1626.0) scale(1 1.0000)"/>
<use href="#qg0" transform="translate(0 1626.0) scale(1 0.9848)"/>
<use href="#qg0" transform="translate(0 1626.0) scale(1 0.9397)"/>
<use href="#qg0" transform="translate(0 1626.0) scale(1 0.8660)"/>
<use href="#qg0" transform="translate(0 1626.0) scale(1 0.7660)"/>
<use href="#qg0" transform="translate(0 1626.0) scale(1 0.6428)"/>
<use href="#qg0" transform="translate(0 1626.0) scale(1 0.5000)"/>
<use href="#qg0" transform="translate(0 1626.0) scale(1 0.3420)"/>
<use href="#qg0" transform="translate(0 1626.0) scale(1 0.1736)"/>
<use href="#qg0" transform="translate(0 1626.0) scale(1 0.0010)"/>
<use href="#qg0" transform="translate(0 1626.0) scale(1 -0.1736)"/>
<use href="#qg0" transform="translate(0 1626.0) scale(1 -0.3420)"/>
<use href="#qg0" transform="translate(0 1626.0) scale(1 -0.5000)"/>
<use href="#qg0" transform="translate(0 1626.0) scale(1 -0.6428)"/>
<use href="#qg0" transform="translate(0 1626.0) scale(1 -0.7660)"/>
<use href="#qg0" transform="translate(0 1626.0) scale(1 -0.8660)"/>
<use href="#qg0" transform="translate(0 1626.0) scale(1 -0.9397)"/>
<use href="#qg0" transform="translate(0 1626.0) scale(1 -0.9848)"/>
<use href="#qg0" transform="translate(0 1626.0) scale(1 -1.0000)"/>
</g>
<path d="M1159.7 1720.6L1162.2 1722.9 1164.7 1726.3 1167.2 1728.5 1169.7 1731.7 1172.2 1734.3 1174.7 1736.7 1177.2 1739.8 1179.7 1742.0 1182.2 1744.3 1184.7 1748.3 1187.2 1751.2 1189.7 1751.9 1192.2 1753.5 1194.7 1754.2 1197.2 1754.9 1199.7 1755.5 1202.2 1757.1 1204.7 1757.9 1207.2 1759.2 1209.7 1759.5 1212.2 1761.2 1214.7 1761.5 1217.2 1763.1 1219.7 1762.9 1222.2 1764.0 1224.7 1763.5 1227.2 1764.2 1229.7 1764.5 1232.2 1766.5 1234.7 1766.5 1237.2 1765.9 1239.7 1768.0 1242.2 1767.5 1244.7 1768.8 1247.2 1768.5 1249.7 1769.2 1252.2 1769.1 1254.7 1770.1 1257.2 1770.7 1259.7 1771.8 1262.2 1771.8 1264.7 1770.6 1267.2 1768.3 1269.7 1767.6 1272.2 1767.5 1274.7 1766.3 1277.2 1764.1 1279.7 1763.2 1282.2 1762.9 1284.7 1757.5 1287.2 1752.9 1289.7 1747.5 1292.2 1742.3 1294.7 1737.7 1297.2 1731.8 1299.7 1727.8 1302.2 1721.4 1304.7 1717.7 1307.2 1712.2 1309.7 1709.1 1312.2 1705.1 1314.7 1700.0 1317.2 1696.8 1319.7 1692.4 1322.2 1687.4 1324.7 1684.2 1327.2 1680.8 1329.7 1677.8 1332.2 1675.0 1334.7 1671.2 1337.2 1667.9 1339.7 1665.3 1342.2 1661.7 1344.7 1659.8 1347.2 1655.9 1349.7 1655.5 1352.2 1654.6 1354.7 1652.9 1357.2 1651.2 1359.7 1650.1 1362.2 1648.4 1364.7 1648.2 1367.2 1647.7 1369.7 1648.7 1372.2 1648.1 1374.7 1648.6 1377.2 1648.0 1379.7 1649.4 1382.2 1648.4 1384.7 1648.2 1387.2 1646.7 1389.7 1645.1 1392.2 1642.0 1394.7 1639.9 1397.2 1638.8 1399.7 1636.1 1402.2 1635.0 1404.7 1635.3 1407.2 1635.6 1409.7 1633.7 1412.2 1633.9 1414.7 1633.7 1417.2 1633.7 1419.7 1631.1 1422.2 1627.7 1424.7 1626.1 1427.2 1626.0 1429.7 1625.4 1432.2 1624.8 1434.7 1624.9 1437.2 1625.2 1439.7 1625.0 1442.2 1624.2 1444.7 1624.5 1447.2 1624.6 1449.7 1625.1 1452.2 1623.8 1454.7 1624.7 1457.2 1624.2 1459.7 1624.5 1462.2 1624.5 1464.7 1624.5 1467.2 1623.4 1469.7 1623.4 1472.2 1623.5 1474.7 1624.7 1477.2 1624.0 1479.7 1623.4 1482.2 1624.1 1484.7 1624.7 1487.2 1624.8 1489.7 1624.7 1492.2 1623.5 1494.7 1624.0 1497.2 1624.2 1499.7 1624.9 1502.2 1623.8 1504.7 1624.9 1507.2 1624.6 1509.7 1623.7 1512.2 1623.7 1514.7 1625.1 1517.2 1624.1 1519.7 1623.8 1522.2 1624.3 1524.7 1623.9 1527.2 1625.3 1529.7 1623.8 1532.2 1625.0 1534.7 1624.8 1537.2 1625.1 1539.7 1624.8 1542.2 1625.1 1544.7 1624.0 1547.2 1624.5 1549.7 1624.1 1552.2 1624.7 1554.7 1624.3 1557.2 1625.3 1559.7 1625.6 1562.2 1625.4 1564.7 1624.6 1567.2 1625.1 1569.7 1625.4 1572.2 1624.8 1574.7 1624.5 1577.2 1624.8 1579.7 1625.4 1582.2 1625.6 1584.7 1625.9 1587.2 1625.7 1589.7 1624.5 1592.2 1626.0 1594.7 1624.9 1597.2 1625.1 1599.7 1625.8 1602.2 1625.9 1604.7 1625.3 1607.2 1624.7 1609.7 1625.6 1612.2 1625.4 1614.7 1625.3 1617.2 1625.5 1619.7 1625.9 1622.2 1628.0 1624.7 1632.2 1627.2 1631.1 1629.7 1632.1 1632.2 1632.0 1634.7 1632.4 1637.2 1631.7 1639.7 1632.4 1642.2 1632.0 1644.7 1632.6 1647.2 1632.2 1649.7 1632.8 1652.2 1633.1 1654.7 1632.8 1657.2 1633.8 1659.7 1633.2 1662.2 1634.3 1664.7 1634.7 1667.2 1634.6 1669.7 1634.3 1672.2 1634.6 1674.7 1635.5 1677.2 1636.3 1679.7 1637.9 1682.2 1637.9 1684.7 1637.4 1687.2 1637.0 1689.7 1637.6 1692.2 1637.9 1694.7 1638.2 1697.2 1638.0 1699.7 1637.7 1702.2 1638.2 1704.7 1639.0 1707.2 1637.8 1709.7 1639.0 1712.2 1637.9 1714.7 1638.4 1717.2 1638.9 1719.7 1638.6 1722.2 1639.2 1724.7 1637.8 1727.2 1638.2 1729.7 1637.4 1732.2 1637.1 1734.7 1636.7 1737.2 1636.1 1739.7 1636.1 1742.2 1635.9 1744.7 1635.6 1747.2 1634.8 1749.7 1634.1 1752.2 1633.2 1754.7 1633.4 1757.2 1633.1 1759.7 1633.0 1762.2 1632.4 1764.7 1633.4 1767.2 1633.3 1769.7 1633.5 1772.2 1632.4 1774.7 1633.0 1777.2 1633.2 1779.7 1632.2 1782.2 1633.4 1784.7 1632.9 1787.2 1632.3 1789.7 1633.6 1792.2 1632.4 1794.7 1633.5 1797.2 1633.4 1799.7 1632.1 1802.2 1632.5 1804.7 1632.6 1807.2 1633.0 1809.7 1634.0 1812.2 1633.8 1814.7 1634.7 1817.2 1634.8 1819.7 1635.6 1822.2 1636.9 1824.7 1636.5 1827.2 1637.4 1829.7 1638.4 1832.2 1639.4 1834.7 1642.4 1837.2 1645.4 1839.7 1647.8 1842.2 1651.8 1844.7 1654.0 1847.2 1656.7 1849.7 1659.9 1852.2 1662.5 1854.7 1665.4 1857.2 1669.8 1859.7 1675.9 1862.2 1681.3 1864.7 1687.2 1867.2 1693.5 1869.7 1700.3 1872.2 1704.7 1874.7 1708.9 1877.2 1713.7 1879.7 1716.9 1882.2 1722.1 1884.7 1725.6 1887.2 1730.3 1889.7 1731.2 1892.2 1725.5 1894.7 1719.4 1897.2 1713.8 1899.7 1706.9 1902.2 1701.9 1904.7 1696.3 1907.2 1689.3 1909.7 1686.4 1912.2 1681.6 1914.7 1677.1 1917.2 1673.5 1919.7 1669.6 1922.2 1665.5 1924.7 1665.7 1927.2 1664.7 1929.7 1664.7 1932.2 1665.3 1934.7 1663.8 1937.2 1663.7 1939.7 1663.6 1942.2 1662.6 1944.7 1663.6 1947.2 1662.5 1949.7 1661.9 1952.2 1661.9 1954.7 1661.1 1957.2 1660.3 1959.7 1660.8 1962.2 1659.7 1964.7 1660.2 1967.2 1660.1 1969.7 1659.4 1972.2 1660.6 1974.7 1660.2 1977.2 1659.5 1979.7 1659.7 1982.2 1659.4 1984.7 1660.1 1987.2 1660.5 1989.7 1659.7 1992.2 1659.7 1994.7 1659.2 1997.2 1659.4 1999.7 1660.4 2002.2 1659.4 2004.7 1660.0 2007.2 1660.6 2009.7 1659.5 2012.2 1660.6 2014.7 1659.7 2017.2 1660.6 2019.7 1659.6 2022.2 1660.5 2024.7 1660.3 2027.2 1659.9 2029.7 1661.9 2032.2 1661.9 2034.7 1663.4 2037.2 1664.9 2039.7 1664.4 2042.2 1665.6 2044.7 1666.4 2047.2 1666.9 2049.7 1667.0 2052.2 1667.0 2054.7 1667.7 2057.2 1668.3 2059.7 1668.1 2062.2 1668.0 2064.7 1667.9 2067.2 1668.5 2069.7 1669.3 2072.2 1669.1 2074.7 1670.0 2077.2 1669.6 2079.7 1669.6 2082.2 1670.9 2084.7 1671.3 2087.2 1671.1 2089.7 1670.7 2092.2 1670.8 2094.7 1670.4 2097.2 1671.3 2099.7 1670.9 2102.2 1671.2 2104.7 1670.5 2107.2 1670.5 2109.7 1670.0 2112.2 1670.7 2114.7 1670.3 2117.2 1670.5 2119.7 1670.4 2122.2 1670.2 2124.7 1672.8 2127.2 1674.1 2129.7 1675.2 2132.2 1676.1 2134.7 1677.6 2137.2 1678.2 2139.7 1679.2 2142.2 1681.2 2144.7 1682.6 2147.2 1684.6 2149.7 1685.1 2152.2 1686.2 2154.7 1687.7 2157.2 1689.1 2159.7 1689.8 2162.2 1691.2 2164.7 1693.0 2167.2 1694.1 2169.7 1696.3 2172.2 1696.9" fill="none" stroke="#e3302e" stroke-width="4.2" stroke-linejoin="round"/>
<path d="M1159.7 1530.6L1162.2 1528.6 1164.7 1525.4 1167.2 1523.4 1169.7 1520.5 1172.2 1518.1 1174.7 1516.0 1177.2 1513.6 1179.7 1512.4 1182.2 1511.1 1184.7 1508.1 1187.2 1506.2 1189.7 1504.9 1192.2 1502.6 1194.7 1501.1 1197.2 1499.7 1199.7 1498.3 1202.2 1496.0 1204.7 1494.4 1207.2 1493.2 1209.7 1493.1 1212.2 1491.7 1214.7 1491.7 1217.2 1490.3 1219.7 1490.2 1222.2 1488.8 1224.7 1489.1 1227.2 1488.2 1229.7 1487.6 1232.2 1485.4 1234.7 1485.1 1237.2 1485.7 1239.7 1483.7 1242.2 1484.3 1244.7 1483.0 1247.2 1483.4 1249.7 1482.7 1252.2 1482.8 1254.7 1481.9 1257.2 1481.3 1259.7 1480.3 1262.2 1479.7 1264.7 1479.4 1267.2 1480.2 1269.7 1481.5 1272.2 1482.3 1274.7 1484.1 1277.2 1486.9 1279.7 1488.4 1282.2 1489.0 1284.7 1491.0 1287.2 1494.1 1289.7 1498.0 1292.2 1501.8 1294.7 1504.9 1297.2 1509.4 1299.7 1511.9 1302.2 1516.8 1304.7 1519.0 1307.2 1524.1 1309.7 1527.2 1312.2 1531.2 1314.7 1536.3 1317.2 1539.5 1319.7 1543.9 1322.2 1548.9 1324.7 1552.8 1327.2 1557.1 1329.7 1561.2 1332.2 1565.0 1334.7 1569.9 1337.2 1574.2 1339.7 1577.8 1342.2 1581.5 1344.7 1582.4 1347.2 1585.7 1349.7 1587.0 1352.2 1588.9 1354.7 1591.5 1357.2 1594.1 1359.7 1596.2 1362.2 1598.8 1364.7 1599.9 1367.2 1601.3 1369.7 1601.2 1372.2 1602.8 1374.7 1603.3 1377.2 1604.9 1379.7 1604.5 1382.2 1606.3 1384.7 1607.5 1387.2 1607.9 1389.7 1608.9 1392.2 1611.6 1394.7 1613.4 1397.2 1614.2 1399.7 1616.6 1402.2 1617.5 1404.7 1616.9 1407.2 1616.5 1409.7 1618.0 1412.2 1617.6 1414.7 1617.6 1417.2 1617.4 1419.7 1619.6 1422.2 1622.6 1424.7 1624.0 1427.2 1624.2 1429.7 1624.8 1432.2 1625.5 1434.7 1625.5 1437.2 1625.2 1439.7 1625.5 1442.2 1626.2 1444.7 1626.0 1447.2 1626.0 1449.7 1625.5 1452.2 1626.9 1454.7 1626.0 1457.2 1626.6 1459.7 1626.3 1462.2 1626.4 1464.7 1626.4 1467.2 1627.6 1469.7 1630.6 1472.2 1631.9 1474.7 1630.8 1477.2 1631.5 1479.7 1632.1 1482.2 1631.4 1484.7 1630.8 1487.2 1630.8 1489.7 1630.9 1492.2 1632.1 1494.7 1631.6 1497.2 1631.5 1499.7 1630.8 1502.2 1632.0 1504.7 1630.8 1507.2 1631.2 1509.7 1632.1 1512.2 1632.1 1514.7 1630.8 1517.2 1630.1 1519.7 1628.5 1522.2 1627.2 1524.7 1627.7 1527.2 1626.3 1529.7 1627.8 1532.2 1626.6 1534.7 1626.8 1537.2 1626.6 1539.7 1626.9 1542.2 1626.6 1544.7 1627.8 1547.2 1627.3 1549.7 1627.7 1552.2 1627.1 1554.7 1627.6 1557.2 1626.6 1559.7 1626.3 1562.2 1626.5 1564.7 1627.4 1567.2 1626.9 1569.7 1626.7 1572.2 1627.2 1574.7 1627.6 1577.2 1627.3 1579.7 1626.7 1582.2 1626.4 1584.7 1625.8 1587.2 1625.8 1589.7 1626.9 1592.2 1625.2 1594.7 1626.1 1597.2 1625.7 1599.7 1624.7 1602.2 1624.5 1604.7 1624.9 1607.2 1625.3 1609.7 1624.1 1612.2 1624.2 1614.7 1624.1 1617.2 1623.7 1619.7 1623.1 1622.2 1624.1 1624.7 1622.3 1627.2 1623.3 1629.7 1622.3 1632.2 1622.2 1634.7 1621.5 1637.2 1621.9 1639.7 1621.0 1642.2 1621.1 1644.7 1620.3 1647.2 1620.4 1649.7 1619.5 1652.2 1618.9 1654.7 1619.0 1657.2 1617.8 1659.7 1618.2 1662.2 1617.2 1664.7 1616.9 1667.2 1617.1 1669.7 1617.6 1672.2 1617.9 1674.7 1617.7 1677.2 1617.6 1679.7 1616.8 1682.2 1616.9 1684.7 1617.5 1687.2 1617.9 1689.7 1617.3 1692.2 1617.0 1694.7 1616.8 1697.2 1617.1 1699.7 1617.4 1702.2 1616.9 1704.7 1616.2 1707.2 1617.5 1709.7 1616.3 1712.2 1617.5 1714.7 1617.0 1717.2 1616.6 1719.7 1616.9 1722.2 1616.3 1724.7 1617.3 1727.2 1616.4 1729.7 1616.7 1732.2 1616.5 1734.7 1616.4 1737.2 1616.4 1739.7 1615.9 1742.2 1616.7 1744.7 1618.1 1747.2 1620.2 1749.7 1622.1 1752.2 1622.6 1754.7 1621.9 1757.2 1622.0 1759.7 1622.1 1762.2 1622.7 1764.7 1621.7 1767.2 1621.8 1769.7 1621.6 1772.2 1622.7 1774.7 1622.1 1777.2 1621.9 1779.7 1622.9 1782.2 1621.7 1784.7 1622.2 1787.2 1622.8 1789.7 1621.5 1792.2 1622.7 1794.7 1621.6 1797.2 1621.7 1799.7 1623.0 1802.2 1622.6 1804.7 1622.5 1807.2 1622.1 1809.7 1621.8 1812.2 1621.9 1814.7 1620.6 1817.2 1620.0 1819.7 1618.9 1822.2 1617.2 1824.7 1617.2 1827.2 1615.6 1829.7 1613.6 1832.2 1612.3 1834.7 1610.5 1837.2 1608.7 1839.7 1607.4 1842.2 1604.6 1844.7 1603.6 1847.2 1601.3 1849.7 1596.1 1852.2 1591.8 1854.7 1587.0 1857.2 1582.8 1859.7 1578.1 1862.2 1574.1 1864.7 1569.6 1867.2 1564.7 1869.7 1557.4 1872.2 1551.1 1874.7 1544.1 1877.2 1536.6 1879.7 1530.6 1882.2 1526.1 1884.7 1523.5 1887.2 1519.7 1889.7 1519.0 1892.2 1522.9 1894.7 1527.3 1897.2 1531.2 1899.7 1538.7 1902.2 1545.4 1904.7 1552.6 1907.2 1561.5 1909.7 1567.9 1912.2 1571.5 1914.7 1574.4 1917.2 1576.2 1919.7 1578.3 1922.2 1581.0 1924.7 1582.8 1927.2 1585.6 1929.7 1586.4 1932.2 1585.9 1934.7 1587.5 1937.2 1587.6 1939.7 1587.8 1942.2 1588.8 1944.7 1588.0 1947.2 1589.0 1949.7 1589.8 1952.2 1589.8 1954.7 1590.7 1957.2 1591.6 1959.7 1591.1 1962.2 1592.2 1964.7 1591.8 1967.2 1591.9 1969.7 1592.6 1972.2 1591.4 1974.7 1591.8 1977.2 1592.5 1979.7 1592.3 1982.2 1592.6 1984.7 1591.9 1987.2 1591.5 1989.7 1592.3 1992.2 1592.3 1994.7 1592.8 1997.2 1592.6 1999.7 1591.6 2002.2 1592.6 2004.7 1592.0 2007.2 1591.4 2009.7 1592.5 2012.2 1591.4 2014.7 1592.3 2017.2 1591.4 2019.7 1592.4 2022.2 1591.5 2024.7 1591.7 2027.2 1591.9 2029.7 1589.7 2032.2 1589.5 2034.7 1587.8 2037.2 1586.1 2039.7 1586.4 2042.2 1585.0 2044.7 1584.1 2047.2 1583.8 2049.7 1583.7 2052.2 1583.8 2054.7 1583.2 2057.2 1582.7 2059.7 1583.0 2062.2 1583.2 2064.7 1583.3 2067.2 1582.9 2069.7 1582.1 2072.2 1582.5 2074.7 1581.6 2077.2 1582.2 2079.7 1582.2 2082.2 1581.0 2084.7 1580.7 2087.2 1580.9 2089.7 1581.2 2092.2 1581.0 2094.7 1581.4 2097.2 1580.4 2099.7 1580.7 2102.2 1580.3 2104.7 1580.9 2107.2 1580.9 2109.7 1581.3 2112.2 1580.6 2114.7 1580.8 2117.2 1580.6 2119.7 1580.6 2122.2 1581.0 2124.7 1579.6 2127.2 1579.5 2129.7 1579.7 2132.2 1580.0 2134.7 1579.2 2137.2 1578.3 2139.7 1577.0 2142.2 1574.7 2144.7 1573.0 2147.2 1570.7 2149.7 1569.9 2152.2 1568.5 2154.7 1566.7 2157.2 1565.0 2159.7 1564.0 2162.2 1562.3 2164.7 1560.2 2167.2 1558.8 2169.7 1556.3 2172.2 1555.5" fill="none" stroke="#2d4fa3" stroke-width="4.2" stroke-linejoin="round"/>
</g>
<defs><path id="qh0" d="M1159.7 -64.9L1162.2 -66.3 1164.7 -68.6 1167.2 -70.4 1169.7 -72.0 1172.2 -73.8 1174.7 -76.0 1177.2 -77.7 1179.7 -79.9 1182.2 -81.8 1184.7 -83.6 1187.2 -84.9 1189.7 -86.7 1192.2 -88.4 1194.7 -89.4 1197.2 -91.3 1199.7 -92.7 1202.2 -93.6 1204.7 -95.3 1207.2 -97.2 1209.7 -98.5 1212.2 -99.4 1214.7 -101.5 1217.2 -102.6 1219.7 -103.6 1222.2 -104.2 1224.7 -105.4 1227.2 -106.5 1229.7 -107.5 1232.2 -108.5 1234.7 -109.5 1237.2 -109.8 1239.7 -110.6 1242.2 -112.2 1244.7 -113.2 1247.2 -113.6 1249.7 -114.5 1252.2 -115.8 1254.7 -116.9 1257.2 -117.5 1259.7 -118.7 1262.2 -119.7 1264.7 -120.0 1267.2 -121.0 1269.7 -122.3 1272.2 -122.8 1274.7 -122.7 1277.2 -122.7 1279.7 -122.0 1282.2 -121.2 1284.7 -120.6 1287.2 -118.2 1289.7 -116.5 1292.2 -113.8 1294.7 -111.5 1297.2 -108.7 1299.7 -104.9 1302.2 -102.2 1304.7 -98.7 1307.2 -95.2 1309.7 -92.2 1312.2 -88.0 1314.7 -85.1 1317.2 -81.5 1319.7 -78.4 1322.2 -74.5 1324.7 -71.2 1327.2 -68.2 1329.7 -65.0 1332.2 -61.5 1334.7 -58.5 1337.2 -55.5 1339.7 -52.9 1342.2 -49.2 1344.7 -46.4 1347.2 -43.5 1349.7 -40.3 1352.2 -38.0 1354.7 -35.2 1357.2 -33.1 1359.7 -30.3 1362.2 -27.8 1364.7 -25.5 1367.2 -23.5 1369.7 -20.8 1372.2 -18.4 1374.7 -16.3 1377.2 -14.5 1379.7 -12.4 1382.2 -9.9 1384.7 -7.5 1387.2 -7.1 1389.7 -7.4 1392.2 -7.5 1394.7 -6.9 1397.2 -6.9 1399.7 -6.6 1402.2 -6.9 1404.7 -6.3 1407.2 -6.4 1409.7 -6.8 1412.2 -6.3 1414.7 -6.0 1417.2 -6.1 1419.7 -5.7 1422.2 -5.6 1424.7 -5.6 1427.2 -4.8 1429.7 -3.9 1432.2 -3.4 1434.7 -3.1 1437.2 -2.5 1439.7 -2.9 1442.2 -3.1 1444.7 -3.1 1447.2 -2.8 1449.7 -3.0 1452.2 -2.6 1454.7 -2.6 1457.2 -3.3 1459.7 -3.1 1462.2 -2.7 1464.7 -2.7 1467.2 -2.6 1469.7 -2.8 1472.2 -2.8 1474.7 -2.6 1477.2 -3.1 1479.7 -2.8 1482.2 -3.2 1484.7 -2.7 1487.2 -2.7 1489.7 -3.0 1492.2 -3.1 1494.7 -3.1 1497.2 -3.0 1499.7 -3.1 1502.2 -3.3 1504.7 -3.2 1507.2 -2.8 1509.7 -2.8 1512.2 -3.2 1514.7 -2.9 1517.2 -3.3 1519.7 -2.7 1522.2 -2.8 1524.7 -3.0 1527.2 -2.6 1529.7 -3.2 1532.2 -2.7 1534.7 -3.1 1537.2 -2.9 1539.7 -3.0 1542.2 -2.6 1544.7 -2.6 1547.2 -3.1 1549.7 -3.0 1552.2 -3.1 1554.7 -2.8 1557.2 -2.8 1559.7 -3.3 1562.2 -2.6 1564.7 -3.0 1567.2 -3.0 1569.7 -3.2 1572.2 -3.6 1574.7 -4.4 1577.2 -5.6 1579.7 -6.0 1582.2 -7.4 1584.7 -7.7 1587.2 -7.5 1589.7 -7.7 1592.2 -8.3 1594.7 -8.2 1597.2 -8.3 1599.7 -8.7 1602.2 -8.6 1604.7 -8.6 1607.2 -8.3 1609.7 -8.4 1612.2 -8.6 1614.7 -8.6 1617.2 -9.1 1619.7 -9.5 1622.2 -9.2 1624.7 -9.6 1627.2 -9.7 1629.7 -9.9 1632.2 -9.5 1634.7 -9.8 1637.2 -9.6 1639.7 -10.3 1642.2 -10.3 1644.7 -10.3 1647.2 -10.7 1649.7 -10.3 1652.2 -10.8 1654.7 -11.0 1657.2 -11.2 1659.7 -11.5 1662.2 -12.6 1664.7 -12.8 1667.2 -12.9 1669.7 -13.2 1672.2 -13.8 1674.7 -13.6 1677.2 -14.5 1679.7 -14.5 1682.2 -14.5 1684.7 -15.4 1687.2 -15.6 1689.7 -16.0 1692.2 -16.3 1694.7 -16.3 1697.2 -16.6 1699.7 -16.6 1702.2 -16.4 1704.7 -16.8 1707.2 -17.2 1709.7 -17.2 1712.2 -16.9 1714.7 -16.4 1717.2 -16.5 1719.7 -16.8 1722.2 -15.8 1724.7 -15.7 1727.2 -15.6 1729.7 -16.0 1732.2 -15.8 1734.7 -15.1 1737.2 -15.0 1739.7 -15.1 1742.2 -14.2 1744.7 -14.6 1747.2 -14.4 1749.7 -14.0 1752.2 -13.7 1754.7 -13.8 1757.2 -12.9 1759.7 -13.1 1762.2 -12.7 1764.7 -12.8 1767.2 -12.1 1769.7 -12.0 1772.2 -12.0 1774.7 -11.9 1777.2 -11.3 1779.7 -11.8 1782.2 -11.7 1784.7 -11.6 1787.2 -11.3 1789.7 -11.9 1792.2 -11.3 1794.7 -11.8 1797.2 -11.9 1799.7 -11.4 1802.2 -11.6 1804.7 -12.3 1807.2 -12.6 1809.7 -12.4 1812.2 -13.1 1814.7 -13.0 1817.2 -13.4 1819.7 -13.4 1822.2 -14.3 1824.7 -14.5 1827.2 -14.4 1829.7 -15.1 1832.2 -14.9 1834.7 -15.4 1837.2 -15.6 1839.7 -16.7 1842.2 -17.2 1844.7 -18.9 1847.2 -19.9 1849.7 -21.4 1852.2 -22.8 1854.7 -24.7 1857.2 -26.3 1859.7 -27.2 1862.2 -29.8 1864.7 -33.7 1867.2 -38.2 1869.7 -42.5 1872.2 -46.5 1874.7 -51.0 1877.2 -54.8 1879.7 -58.8 1882.2 -64.2 1884.7 -69.2 1887.2 -73.7 1889.7 -78.6 1892.2 -84.4 1894.7 -88.9 1897.2 -93.1 1899.7 -97.3 1902.2 -97.3 1904.7 -94.6 1907.2 -91.2 1909.7 -86.6 1912.2 -81.4 1914.7 -77.2 1917.2 -73.2 1919.7 -68.8 1922.2 -64.1 1924.7 -61.3 1927.2 -58.2 1929.7 -55.6 1932.2 -52.3 1934.7 -49.1 1937.2 -47.5 1939.7 -45.6 1942.2 -43.8 1944.7 -42.4 1947.2 -40.7 1949.7 -39.6 1952.2 -38.1 1954.7 -38.2 1957.2 -38.6 1959.7 -38.3 1962.2 -38.9 1964.7 -39.4 1967.2 -39.6 1969.7 -40.1 1972.2 -40.0 1974.7 -40.2 1977.2 -40.6 1979.7 -41.0 1982.2 -41.3 1984.7 -41.8 1987.2 -41.8 1989.7 -42.1 1992.2 -42.5 1994.7 -42.6 1997.2 -42.3 1999.7 -42.4 2002.2 -42.1 2004.7 -42.4 2007.2 -42.5 2009.7 -42.0 2012.2 -42.2 2014.7 -41.9 2017.2 -42.0 2019.7 -41.8 2022.2 -41.8 2024.7 -41.9 2027.2 -42.0 2029.7 -41.8 2032.2 -42.3 2034.7 -42.0 2037.2 -41.9 2039.7 -42.0 2042.2 -41.9 2044.7 -41.5 2047.2 -41.8 2049.7 -41.4 2052.2 -41.7 2054.7 -42.0 2057.2 -41.8 2059.7 -41.9 2062.2 -41.7 2064.7 -41.2 2067.2 -41.4 2069.7 -41.3 2072.2 -41.2 2074.7 -41.3 2077.2 -41.0 2079.7 -41.0 2082.2 -40.7 2084.7 -40.9 2087.2 -40.7 2089.7 -40.1 2092.2 -39.8 2094.7 -39.6 2097.2 -39.6 2099.7 -39.5 2102.2 -39.7 2104.7 -39.1 2107.2 -39.5 2109.7 -38.7 2112.2 -39.3 2114.7 -39.6 2117.2 -39.5 2119.7 -40.3 2122.2 -40.0 2124.7 -41.0 2127.2 -41.9 2129.7 -43.2 2132.2 -44.0 2134.7 -44.8 2137.2 -45.5 2139.7 -46.7 2142.2 -47.9 2144.7 -48.9 2147.2 -50.8 2149.7 -51.5 2152.2 -53.1 2154.7 -54.7 2157.2 -55.3 2159.7 -57.3 2162.2 -58.5 2164.7 -59.2 2167.2 -60.9 2169.7 -62.3 2172.2 -63.0" fill="none" vector-effect="non-scaling-stroke"/></defs>
<g clip-path="url(#cr)">
<path d="M1159.7 2173.5L1162.2 2171.8 1164.7 2170.0 1167.2 2168.2 1169.7 2166.5 1172.2 2164.7 1174.7 2163.0 1177.2 2161.2 1179.7 2159.5 1182.2 2157.7 1184.7 2156.0 1187.2 2154.2 1189.7 2152.8 1192.2 2151.4 1194.7 2150.0 1197.2 2148.7 1199.7 2147.3 1202.2 2145.9 1204.7 2144.6 1207.2 2143.2 1209.7 2141.8 1212.2 2140.4 1214.7 2139.1 1217.2 2137.7 1219.7 2136.9 1222.2 2136.0 1224.7 2135.1 1227.2 2134.2 1229.7 2133.4 1232.2 2132.5 1234.7 2131.6 1237.2 2130.7 1239.7 2129.9 1242.2 2129.0 1244.7 2128.1 1247.2 2127.2 1249.7 2126.1 1252.2 2125.0 1254.7 2123.9 1257.2 2122.8 1259.7 2121.7 1262.2 2120.6 1264.7 2119.5 1267.2 2118.4 1269.7 2117.3 1272.2 2117.4 1274.7 2117.6 1277.2 2117.9 1279.7 2118.1 1282.2 2118.4 1284.7 2118.6 1287.2 2121.3 1289.7 2124.2 1292.2 2127.0 1294.7 2129.9 1297.2 2132.7 1299.7 2135.6 1302.2 2138.4 1304.7 2141.3 1307.2 2144.4 1309.7 2147.7 1312.2 2150.9 1314.7 2154.2 1317.2 2157.4 1319.7 2160.7 1322.2 2163.9 1324.7 2167.2 1327.2 2170.4 1329.7 2173.7 1332.2 2177.0 1334.7 2180.2 1337.2 2183.0 1339.7 2185.8 1342.2 2188.5 1344.7 2191.3 1347.2 2194.0 1349.7 2196.7 1352.2 2199.5 1354.7 2202.2 1357.2 2205.0 1359.7 2207.7 1362.2 2210.5 1364.7 2213.2 1367.2 2215.3 1369.7 2217.5 1372.2 2219.6 1374.7 2221.8 1377.2 2224.0 1379.7 2226.1 1382.2 2228.3 1384.7 2230.4 1387.2 2230.9 1389.7 2231.0 1392.2 2231.2 1394.7 2231.4 1397.2 2231.6 1399.7 2231.8 1402.2 2231.9 1404.7 2232.1 1407.2 2232.3 1409.7 2232.6 1412.2 2232.9 1414.7 2233.1 1417.2 2233.4 1419.7 2233.6 1422.2 2233.9 1424.7 2234.1 1427.2 2234.4 1429.7 2234.6 1432.2 2234.9 1434.7 2235.1 1437.2 2235.2 1439.7 2235.2 1442.2 2235.3 1444.7 2235.3 1447.2 2235.3 1449.7 2235.3 1452.2 2235.4 1454.7 2235.4 1457.2 2235.4 1459.7 2235.5 1462.2 2235.5 1464.7 2235.5 1467.2 2235.5 1469.7 2235.6 1472.2 2235.6 1474.7 2235.6 1477.2 2235.6 1479.7 2235.7 1482.2 2235.7 1484.7 2235.7 1487.2 2235.7 1489.7 2235.8 1492.2 2235.8 1494.7 2235.8 1497.2 2235.8 1499.7 2235.9 1502.2 2235.9 1504.7 2235.9 1507.2 2235.9 1509.7 2236.0 1512.2 2236.0 1514.7 2236.0 1517.2 2236.0 1519.7 2236.1 1522.2 2236.1 1524.7 2236.1 1527.2 2236.1 1529.7 2236.2 1532.2 2236.2 1534.7 2236.2 1537.2 2236.3 1539.7 2236.3 1542.2 2236.3 1544.7 2236.3 1547.2 2236.4 1549.7 2236.4 1552.2 2236.4 1554.7 2236.4 1557.2 2236.5 1559.7 2236.5 1562.2 2236.5 1564.7 2236.5 1567.2 2236.6 1569.7 2236.6 1572.2 2235.7 1574.7 2233.8 1577.2 2232.2 1579.7 2232.1 1582.2 2232.0 1584.7 2232.0 1587.2 2231.9 1589.7 2231.8 1592.2 2231.7 1594.7 2231.7 1597.2 2231.6 1599.7 2231.5 1602.2 2231.4 1604.7 2231.4 1607.2 2231.3 1609.7 2231.2 1612.2 2231.1 1614.7 2231.1 1617.2 2231.0 1619.7 2230.9 1622.2 2230.8 1624.7 2230.8 1627.2 2230.7 1629.7 2230.8 1632.2 2230.8 1634.7 2230.9 1637.2 2231.0 1639.7 2231.0 1642.2 2231.1 1644.7 2231.2 1647.2 2231.2 1649.7 2231.3 1652.2 2230.9 1654.7 2230.5 1657.2 2230.1 1659.7 2229.7 1662.2 2229.3 1664.7 2228.9 1667.2 2228.5 1669.7 2228.0 1672.2 2227.6 1674.7 2227.2 1677.2 2226.8 1679.7 2226.4 1682.2 2226.0 1684.7 2225.6 1687.2 2225.2 1689.7 2224.7 1692.2 2224.3 1694.7 2223.9 1697.2 2223.9 1699.7 2224.0 1702.2 2224.1 1704.7 2224.2 1707.2 2224.3 1709.7 2224.3 1712.2 2224.4 1714.7 2224.5 1717.2 2224.6 1719.7 2224.7 1722.2 2224.8 1724.7 2224.9 1727.2 2225.0 1729.7 2225.1 1732.2 2225.2 1734.7 2225.3 1737.2 2225.5 1739.7 2225.6 1742.2 2225.8 1744.7 2226.0 1747.2 2226.1 1749.7 2226.3 1752.2 2226.5 1754.7 2226.7 1757.2 2226.8 1759.7 2227.0 1762.2 2227.2 1764.7 2227.3 1767.2 2227.5 1769.7 2227.7 1772.2 2227.8 1774.7 2228.0 1777.2 2228.2 1779.7 2228.3 1782.2 2228.5 1784.7 2228.7 1787.2 2228.9 1789.7 2229.0 1792.2 2229.2 1794.7 2229.4 1797.2 2229.5 1799.7 2229.7 1802.2 2229.7 1804.7 2229.4 1807.2 2229.1 1809.7 2228.7 1812.2 2228.4 1814.7 2228.1 1817.2 2227.8 1819.7 2227.5 1822.2 2227.2 1824.7 2226.9 1827.2 2226.6 1829.7 2226.3 1832.2 2226.0 1834.7 2225.6 1837.2 2225.3 1839.7 2223.8 1842.2 2222.1 1844.7 2220.3 1847.2 2218.6 1849.7 2216.9 1852.2 2215.2 1854.7 2213.4 1857.2 2211.7 1859.7 2210.0 1862.2 2207.8 1864.7 2203.6 1867.2 2199.4 1869.7 2195.3 1872.2 2191.1 1874.7 2186.9 1877.2 2182.7 1879.7 2178.6 1882.2 2173.6 1884.7 2168.7 1887.2 2163.7 1889.7 2158.7 1892.2 2153.8 1894.7 2148.8 1897.2 2146.0 1899.7 2143.4 1902.2 2142.7 1904.7 2143.9 1907.2 2145.5 1909.7 2150.6 1912.2 2155.6 1914.7 2160.7 1917.2 2165.7 1919.7 2170.8 1922.2 2175.6 1924.7 2178.1 1927.2 2180.5 1929.7 2183.0 1932.2 2185.5 1934.7 2188.0 1937.2 2190.4 1939.7 2192.9 1942.2 2194.7 1944.7 2196.2 1947.2 2197.8 1949.7 2199.3 1952.2 2200.9 1954.7 2200.8 1957.2 2200.6 1959.7 2200.4 1962.2 2200.2 1964.7 2200.0 1967.2 2199.8 1969.7 2199.6 1972.2 2199.4 1974.7 2199.2 1977.2 2199.0 1979.7 2198.7 1982.2 2198.5 1984.7 2198.3 1987.2 2198.1 1989.7 2198.0 1992.2 2198.1 1994.7 2198.1 1997.2 2198.2 1999.7 2198.2 2002.2 2198.3 2004.7 2198.3 2007.2 2198.3 2009.7 2198.4 2012.2 2198.4 2014.7 2198.5 2017.2 2198.5 2019.7 2198.6 2022.2 2198.6 2024.7 2198.7 2027.2 2198.7 2029.7 2198.8 2032.2 2198.8 2034.7 2198.9 2037.2 2198.9 2039.7 2199.0 2042.2 2199.0 2044.7 2199.1 2047.2 2199.1 2049.7 2199.2 2052.2 2199.2 2054.7 2199.2 2057.2 2199.3 2059.7 2199.3 2062.2 2199.4 2064.7 2199.4 2067.2 2199.5 2069.7 2199.5 2072.2 2199.6 2074.7 2199.7 2077.2 2199.9 2079.7 2200.1 2082.2 2200.3 2084.7 2200.5 2087.2 2200.7 2089.7 2201.0 2092.2 2201.2 2094.7 2201.4 2097.2 2201.6 2099.7 2201.8 2102.2 2202.0 2104.7 2202.2 2107.2 2202.4 2109.7 2202.6 2112.2 2201.9 2114.7 2201.3 2117.2 2200.7 2119.7 2200.1 2122.2 2199.4 2124.7 2198.8 2127.2 2198.2 2129.7 2197.6 2132.2 2196.9 2134.7 2196.3 2137.2 2195.7 2139.7 2195.1 2142.2 2193.8 2144.7 2192.5 2147.2 2191.1 2149.7 2189.8 2152.2 2188.5 2154.7 2187.1 2157.2 2185.8 2159.7 2184.5 2162.2 2183.2 2164.7 2181.8 2167.2 2180.5 2169.7 2179.2 2172.2 2177.9 2172.2 2304.5 2169.7 2303.3 2167.2 2302.1 2164.7 2300.8 2162.2 2299.6 2159.7 2298.4 2157.2 2297.1 2154.7 2295.9 2152.2 2294.7 2149.7 2293.5 2147.2 2292.2 2144.7 2291.0 2142.2 2289.8 2139.7 2288.5 2137.2 2287.3 2134.7 2286.1 2132.2 2284.9 2129.7 2283.6 2127.2 2282.4 2124.7 2281.2 2122.2 2279.9 2119.7 2279.8 2117.2 2280.0 2114.7 2280.1 2112.2 2280.3 2109.7 2280.4 2107.2 2280.6 2104.7 2280.8 2102.2 2280.9 2099.7 2281.1 2097.2 2281.2 2094.7 2281.4 2092.2 2281.5 2089.7 2281.7 2087.2 2281.8 2084.7 2282.0 2082.2 2282.1 2079.7 2282.3 2077.2 2282.5 2074.7 2282.6 2072.2 2282.7 2069.7 2282.7 2067.2 2282.7 2064.7 2282.7 2062.2 2282.7 2059.7 2282.7 2057.2 2282.7 2054.7 2282.7 2052.2 2282.7 2049.7 2282.7 2047.2 2282.7 2044.7 2282.7 2042.2 2282.7 2039.7 2282.7 2037.2 2282.7 2034.7 2282.7 2032.2 2282.7 2029.7 2282.7 2027.2 2282.7 2024.7 2282.7 2022.2 2282.7 2019.7 2282.7 2017.2 2282.7 2014.7 2282.7 2012.2 2282.7 2009.7 2282.7 2007.2 2282.7 2004.7 2282.7 2002.2 2282.7 1999.7 2282.7 1997.2 2282.7 1994.7 2282.7 1992.2 2282.3 1989.7 2282.0 1987.2 2281.6 1984.7 2281.3 1982.2 2280.9 1979.7 2280.6 1977.2 2280.2 1974.7 2279.9 1972.2 2279.5 1969.7 2279.2 1967.2 2278.8 1964.7 2278.4 1962.2 2278.1 1959.7 2277.7 1957.2 2277.4 1954.7 2277.0 1952.2 2276.8 1949.7 2278.3 1947.2 2279.7 1944.7 2281.2 1942.2 2282.6 1939.7 2284.1 1937.2 2285.6 1934.7 2287.0 1932.2 2290.1 1929.7 2293.7 1927.2 2297.3 1924.7 2300.8 1922.2 2304.4 1919.7 2308.0 1917.2 2311.5 1914.7 2315.1 1912.2 2319.0 1909.7 2323.7 1907.2 2328.5 1904.7 2333.2 1902.2 2337.9 1899.7 2337.5 1897.2 2332.3 1894.7 2327.1 1892.2 2321.9 1889.7 2316.7 1887.2 2311.5 1884.7 2306.3 1882.2 2301.4 1879.7 2297.1 1877.2 2292.7 1874.7 2288.4 1872.2 2284.1 1869.7 2279.8 1867.2 2275.5 1864.7 2271.2 1862.2 2266.9 1859.7 2265.0 1857.2 2263.8 1854.7 2262.5 1852.2 2261.3 1849.7 2260.1 1847.2 2258.8 1844.7 2257.6 1842.2 2256.9 1839.7 2256.7 1837.2 2256.4 1834.7 2256.2 1832.2 2256.0 1829.7 2255.8 1827.2 2255.5 1824.7 2255.3 1822.2 2255.1 1819.7 2254.9 1817.2 2254.6 1814.7 2254.4 1812.2 2254.2 1809.7 2254.0 1807.2 2253.7 1804.7 2253.5 1802.2 2253.3 1799.7 2253.0 1797.2 2252.8 1794.7 2252.6 1792.2 2252.4 1789.7 2252.1 1787.2 2251.9 1784.7 2251.7 1782.2 2251.5 1779.7 2251.2 1777.2 2251.0 1774.7 2251.3 1772.2 2251.5 1769.7 2251.8 1767.2 2252.1 1764.7 2252.4 1762.2 2252.7 1759.7 2253.0 1757.2 2253.2 1754.7 2253.5 1752.2 2253.8 1749.7 2254.1 1747.2 2254.4 1744.7 2254.6 1742.2 2254.9 1739.7 2255.2 1737.2 2255.5 1734.7 2255.8 1732.2 2256.1 1729.7 2256.3 1727.2 2256.6 1724.7 2256.9 1722.2 2257.2 1719.7 2257.5 1717.2 2257.7 1714.7 2258.0 1712.2 2258.3 1709.7 2258.4 1707.2 2258.2 1704.7 2257.9 1702.2 2257.7 1699.7 2257.4 1697.2 2257.2 1694.7 2256.9 1692.2 2256.7 1689.7 2256.4 1687.2 2256.2 1684.7 2255.9 1682.2 2255.7 1679.7 2255.4 1677.2 2255.2 1674.7 2254.9 1672.2 2254.7 1669.7 2254.5 1667.2 2254.2 1664.7 2254.0 1662.2 2253.7 1659.7 2253.5 1657.2 2253.2 1654.7 2253.0 1652.2 2252.7 1649.7 2252.5 1647.2 2252.1 1644.7 2251.8 1642.2 2251.5 1639.7 2251.2 1637.2 2250.8 1634.7 2250.5 1632.2 2250.2 1629.7 2249.9 1627.2 2249.7 1624.7 2249.6 1622.2 2249.4 1619.7 2249.3 1617.2 2249.1 1614.7 2249.0 1612.2 2248.8 1609.7 2248.7 1607.2 2248.5 1604.7 2248.3 1602.2 2248.2 1599.7 2248.0 1597.2 2247.9 1594.7 2247.7 1592.2 2247.6 1589.7 2247.4 1587.2 2247.3 1584.7 2247.1 1582.2 2246.5 1579.7 2244.6 1577.2 2242.7 1574.7 2242.5 1572.2 2242.5 1569.7 2242.4 1567.2 2242.4 1564.7 2242.4 1562.2 2242.3 1559.7 2242.3 1557.2 2242.3 1554.7 2242.3 1552.2 2242.2 1549.7 2242.2 1547.2 2242.2 1544.7 2242.2 1542.2 2242.1 1539.7 2242.1 1537.2 2242.1 1534.7 2242.1 1532.2 2242.0 1529.7 2242.0 1527.2 2242.0 1524.7 2241.9 1522.2 2241.9 1519.7 2241.9 1517.2 2241.9 1514.7 2241.8 1512.2 2241.8 1509.7 2241.8 1507.2 2241.8 1504.7 2241.7 1502.2 2241.7 1499.7 2241.7 1497.2 2241.7 1494.7 2241.6 1492.2 2241.6 1489.7 2241.6 1487.2 2241.5 1484.7 2241.5 1482.2 2241.5 1479.7 2241.5 1477.2 2241.4 1474.7 2241.4 1472.2 2241.4 1469.7 2241.4 1467.2 2241.3 1464.7 2241.3 1462.2 2241.3 1459.7 2241.3 1457.2 2241.2 1454.7 2241.2 1452.2 2241.2 1449.7 2241.2 1447.2 2241.1 1444.7 2241.1 1442.2 2241.1 1439.7 2241.0 1437.2 2241.0 1434.7 2241.2 1432.2 2242.2 1429.7 2243.1 1427.2 2244.1 1424.7 2245.0 1422.2 2245.5 1419.7 2245.5 1417.2 2245.5 1414.7 2245.5 1412.2 2245.5 1409.7 2245.5 1407.2 2245.5 1404.7 2245.5 1402.2 2245.5 1399.7 2245.5 1397.2 2245.5 1394.7 2245.5 1392.2 2245.5 1389.7 2245.5 1387.2 2245.5 1384.7 2245.8 1382.2 2248.1 1379.7 2250.4 1377.2 2252.7 1374.7 2255.0 1372.2 2257.3 1369.7 2259.6 1367.2 2261.9 1364.7 2264.2 1362.2 2266.5 1359.7 2268.8 1357.2 2271.1 1354.7 2273.4 1352.2 2275.7 1349.7 2278.0 1347.2 2281.2 1344.7 2284.4 1342.2 2287.7 1339.7 2290.9 1337.2 2294.1 1334.7 2297.3 1332.2 2300.6 1329.7 2303.8 1327.2 2307.0 1324.7 2310.2 1322.2 2313.5 1319.7 2316.7 1317.2 2320.4 1314.7 2324.0 1312.2 2327.7 1309.7 2331.3 1307.2 2334.9 1304.7 2338.6 1302.2 2342.2 1299.7 2345.9 1297.2 2349.5 1294.7 2353.1 1292.2 2355.4 1289.7 2356.6 1287.2 2357.9 1284.7 2359.1 1282.2 2360.4 1279.7 2361.6 1277.2 2362.9 1274.7 2363.1 1272.2 2362.4 1269.7 2361.6 1267.2 2360.8 1264.7 2360.1 1262.2 2359.3 1259.7 2358.6 1257.2 2357.8 1254.7 2357.1 1252.2 2356.3 1249.7 2355.6 1247.2 2354.8 1244.7 2353.9 1242.2 2352.9 1239.7 2351.9 1237.2 2350.9 1234.7 2349.9 1232.2 2348.9 1229.7 2347.9 1227.2 2346.9 1224.7 2345.9 1222.2 2344.9 1219.7 2343.9 1217.2 2342.9 1214.7 2341.4 1212.2 2339.9 1209.7 2338.4 1207.2 2336.9 1204.7 2335.4 1202.2 2333.9 1199.7 2332.4 1197.2 2330.9 1194.7 2329.3 1192.2 2327.8 1189.7 2326.3 1187.2 2324.8 1184.7 2322.8 1182.2 2320.8 1179.7 2318.8 1177.2 2316.8 1174.7 2314.8 1172.2 2312.8 1169.7 2310.8 1167.2 2308.8 1164.7 2306.8 1162.2 2304.8 1159.7 2302.9Z" fill="#f1f1f1"/>
<g stroke="#dcdcdc" stroke-width="3.0">
<use href="#qh0" transform="translate(0 2239.8) scale(1 1.0000)"/>
<use href="#qh0" transform="translate(0 2239.8) scale(1 0.9848)"/>
<use href="#qh0" transform="translate(0 2239.8) scale(1 0.9397)"/>
<use href="#qh0" transform="translate(0 2239.8) scale(1 0.8660)"/>
<use href="#qh0" transform="translate(0 2239.8) scale(1 0.7660)"/>
<use href="#qh0" transform="translate(0 2239.8) scale(1 0.6428)"/>
<use href="#qh0" transform="translate(0 2239.8) scale(1 0.5000)"/>
<use href="#qh0" transform="translate(0 2239.8) scale(1 0.3420)"/>
<use href="#qh0" transform="translate(0 2239.8) scale(1 0.1736)"/>
<use href="#qh0" transform="translate(0 2239.8) scale(1 0.0010)"/>
<use href="#qh0" transform="translate(0 2239.8) scale(1 -0.1736)"/>
<use href="#qh0" transform="translate(0 2239.8) scale(1 -0.3420)"/>
<use href="#qh0" transform="translate(0 2239.8) scale(1 -0.5000)"/>
<use href="#qh0" transform="translate(0 2239.8) scale(1 -0.6428)"/>
<use href="#qh0" transform="translate(0 2239.8) scale(1 -0.7660)"/>
<use href="#qh0" transform="translate(0 2239.8) scale(1 -0.8660)"/>
<use href="#qh0" transform="translate(0 2239.8) scale(1 -0.9397)"/>
<use href="#qh0" transform="translate(0 2239.8) scale(1 -0.9848)"/>
<use href="#qh0" transform="translate(0 2239.8) scale(1 -1.0000)"/>
</g>
<path d="M1159.7 2303.2L1162.2 2304.4 1164.7 2307.2 1167.2 2309.0 1169.7 2310.4 1172.2 2312.4 1174.7 2315.0 1177.2 2316.6 1179.7 2319.2 1182.2 2321.4 1184.7 2323.2 1187.2 2324.0 1189.7 2326.1 1192.2 2328.2 1194.7 2328.9 1197.2 2331.2 1199.7 2332.7 1202.2 2333.2 1204.7 2335.2 1207.2 2337.6 1209.7 2338.8 1212.2 2339.2 1214.7 2342.1 1217.2 2343.0 1219.7 2344.1 1222.2 2344.4 1224.7 2345.9 1227.2 2347.2 1229.7 2348.3 1232.2 2349.5 1234.7 2350.7 1237.2 2350.3 1239.7 2351.1 1242.2 2353.5 1244.7 2354.5 1247.2 2354.5 1249.7 2355.1 1252.2 2356.5 1254.7 2357.7 1257.2 2357.9 1259.7 2359.2 1262.2 2360.0 1264.7 2359.6 1267.2 2360.4 1269.7 2361.9 1272.2 2363.1 1274.7 2363.0 1277.2 2363.3 1279.7 2362.1 1282.2 2360.8 1284.7 2359.8 1287.2 2357.8 1289.7 2357.1 1292.2 2354.6 1294.7 2352.8 1297.2 2350.2 1299.7 2345.4 1302.2 2342.7 1304.7 2338.7 1307.2 2334.9 1309.7 2332.0 1312.2 2327.0 1314.7 2324.4 1317.2 2320.4 1319.7 2317.5 1322.2 2313.0 1324.7 2309.6 1327.2 2306.8 1329.7 2303.7 1332.2 2299.9 1334.7 2297.2 1337.2 2294.1 1339.7 2291.6 1342.2 2286.9 1344.7 2284.1 1347.2 2280.9 1349.7 2277.3 1352.2 2275.5 1354.7 2272.7 1357.2 2271.2 1359.7 2268.3 1362.2 2266.1 1364.7 2264.3 1367.2 2262.4 1369.7 2259.0 1372.2 2256.5 1374.7 2254.5 1377.2 2252.9 1379.7 2250.8 1382.2 2248.1 1384.7 2245.4 1387.2 2245.0 1389.7 2245.8 1392.2 2246.1 1394.7 2245.2 1397.2 2245.3 1399.7 2244.9 1402.2 2245.7 1404.7 2244.8 1407.2 2245.1 1409.7 2246.2 1412.2 2245.5 1414.7 2245.1 1417.2 2245.6 1419.7 2245.1 1422.2 2245.1 1424.7 2245.4 1427.2 2243.9 1429.7 2242.5 1432.2 2241.7 1434.7 2241.4 1437.2 2240.3 1439.7 2241.1 1442.2 2241.5 1444.7 2241.4 1447.2 2240.9 1449.7 2241.4 1452.2 2240.5 1454.7 2240.6 1457.2 2242.0 1459.7 2241.7 1462.2 2240.9 1464.7 2241.0 1467.2 2240.7 1469.7 2241.1 1472.2 2241.2 1474.7 2240.8 1477.2 2241.9 1479.7 2241.2 1482.2 2242.1 1484.7 2241.1 1487.2 2241.1 1489.7 2241.8 1492.2 2242.1 1494.7 2242.0 1497.2 2241.9 1499.7 2242.0 1502.2 2242.5 1504.7 2242.3 1507.2 2241.5 1509.7 2241.5 1512.2 2242.5 1514.7 2241.9 1517.2 2242.5 1519.7 2241.4 1522.2 2241.7 1524.7 2242.1 1527.2 2241.3 1529.7 2242.5 1532.2 2241.5 1534.7 2242.3 1537.2 2242.0 1539.7 2242.3 1542.2 2241.6 1544.7 2241.5 1547.2 2242.5 1549.7 2242.5 1552.2 2242.5 1554.7 2242.0 1557.2 2242.1 1559.7 2243.1 1562.2 2241.8 1564.7 2242.5 1567.2 2242.6 1569.7 2242.9 1572.2 2242.9 1574.7 2242.7 1577.2 2243.3 1579.7 2244.0 1582.2 2246.7 1584.7 2247.4 1587.2 2247.0 1589.7 2247.3 1592.2 2248.3 1594.7 2248.2 1597.2 2248.3 1599.7 2248.8 1602.2 2248.6 1604.7 2248.5 1607.2 2248.0 1609.7 2248.1 1612.2 2248.4 1614.7 2248.3 1617.2 2249.1 1619.7 2249.9 1622.2 2249.2 1624.7 2249.9 1627.2 2250.1 1629.7 2250.5 1632.2 2249.8 1634.7 2250.4 1637.2 2250.2 1639.7 2251.7 1642.2 2251.7 1644.7 2251.7 1647.2 2252.5 1649.7 2251.9 1652.2 2252.6 1654.7 2252.4 1657.2 2252.6 1659.7 2252.7 1662.2 2254.4 1664.7 2254.4 1667.2 2254.3 1669.7 2254.5 1672.2 2255.2 1674.7 2254.4 1677.2 2255.8 1679.7 2255.4 1682.2 2255.0 1684.7 2256.4 1687.2 2256.3 1689.7 2256.7 1692.2 2256.8 1694.7 2256.5 1697.2 2257.1 1699.7 2257.1 1702.2 2256.9 1704.7 2257.8 1707.2 2258.6 1709.7 2258.8 1712.2 2258.2 1714.7 2257.4 1717.2 2257.7 1719.7 2258.2 1722.2 2256.5 1724.7 2256.3 1727.2 2256.3 1729.7 2257.1 1732.2 2256.8 1734.7 2255.6 1737.2 2255.5 1739.7 2255.8 1742.2 2254.1 1744.7 2255.1 1747.2 2254.9 1749.7 2254.3 1752.2 2253.8 1754.7 2254.2 1757.2 2252.7 1759.7 2253.2 1762.2 2252.5 1764.7 2252.9 1767.2 2251.7 1769.7 2251.6 1772.2 2251.9 1774.7 2251.8 1777.2 2250.8 1779.7 2252.0 1782.2 2251.9 1784.7 2251.8 1787.2 2251.4 1789.7 2252.7 1792.2 2251.8 1794.7 2252.9 1797.2 2253.4 1799.7 2252.5 1802.2 2252.8 1804.7 2254.1 1807.2 2254.2 1809.7 2253.5 1812.2 2254.6 1814.7 2254.1 1817.2 2254.6 1819.7 2254.4 1822.2 2255.8 1824.7 2255.8 1827.2 2255.4 1829.7 2256.4 1832.2 2255.7 1834.7 2256.4 1837.2 2256.6 1839.7 2257.1 1842.2 2256.4 1844.7 2258.1 1847.2 2258.4 1849.7 2259.7 1852.2 2260.8 1854.7 2262.7 1857.2 2264.2 1859.7 2264.4 1862.2 2267.3 1864.7 2271.0 1867.2 2275.9 1869.7 2280.2 1872.2 2284.0 1874.7 2289.0 1877.2 2292.4 1879.7 2296.3 1882.2 2302.0 1884.7 2307.1 1887.2 2311.2 1889.7 2316.0 1892.2 2322.6 1894.7 2326.5 1897.2 2332.2 1899.7 2337.9 1902.2 2337.4 1904.7 2333.1 1907.2 2327.9 1909.7 2323.8 1912.2 2318.4 1914.7 2315.0 1917.2 2312.1 1919.7 2308.3 1922.2 2303.8 1924.7 2300.6 1927.2 2296.9 1929.7 2294.2 1932.2 2290.0 1934.7 2286.3 1937.2 2285.5 1939.7 2284.1 1942.2 2282.4 1944.7 2281.0 1947.2 2279.2 1949.7 2278.5 1952.2 2277.0 1954.7 2277.2 1957.2 2277.8 1959.7 2277.0 1962.2 2278.0 1964.7 2278.7 1967.2 2278.9 1969.7 2279.8 1972.2 2279.5 1974.7 2279.6 1977.2 2280.2 1979.7 2280.7 1982.2 2281.1 1984.7 2281.9 1987.2 2281.7 1989.7 2282.2 1992.2 2283.0 1994.7 2283.3 1997.2 2282.9 1999.7 2283.1 2002.2 2282.5 2004.7 2283.2 2007.2 2283.3 2009.7 2282.5 2012.2 2282.8 2014.7 2282.3 2017.2 2282.5 2019.7 2282.1 2022.2 2282.3 2024.7 2282.5 2027.2 2282.7 2029.7 2282.3 2032.2 2283.4 2034.7 2282.8 2037.2 2282.8 2039.7 2283.0 2042.2 2282.8 2044.7 2282.0 2047.2 2282.7 2049.7 2281.9 2052.2 2282.7 2054.7 2283.2 2057.2 2282.8 2059.7 2283.1 2062.2 2282.7 2064.7 2281.9 2067.2 2282.3 2069.7 2282.1 2072.2 2282.1 2074.7 2282.2 2077.2 2282.0 2079.7 2282.1 2082.2 2281.7 2084.7 2282.4 2087.2 2282.1 2089.7 2281.2 2092.2 2280.8 2094.7 2280.7 2097.2 2280.7 2099.7 2280.8 2102.2 2281.3 2104.7 2280.5 2107.2 2281.4 2109.7 2280.0 2112.2 2280.5 2114.7 2280.5 2117.2 2279.7 2119.7 2280.6 2122.2 2279.4 2124.7 2280.9 2127.2 2282.0 2129.7 2283.9 2132.2 2285.0 2134.7 2285.8 2137.2 2286.8 2139.7 2288.5 2142.2 2289.5 2144.7 2290.3 2147.2 2292.8 2149.7 2292.7 2152.2 2294.7 2154.7 2296.4 2157.2 2296.5 2159.7 2299.2 2162.2 2300.1 2164.7 2300.3 2167.2 2302.4 2169.7 2303.7 2172.2 2303.8" fill="none" stroke="#e3302e" stroke-width="4.2" stroke-linejoin="round"/>
<path d="M1159.7 2173.1L1162.2 2172.2 1164.7 2169.6 1167.2 2168.1 1169.7 2166.9 1172.2 2165.2 1174.7 2162.8 1177.2 2161.4 1179.7 2159.1 1182.2 2157.1 1184.7 2155.6 1187.2 2154.9 1189.7 2153.0 1192.2 2151.1 1194.7 2150.5 1197.2 2148.3 1199.7 2146.9 1202.2 2146.6 1204.7 2144.8 1207.2 2142.5 1209.7 2141.4 1212.2 2141.1 1214.7 2138.4 1217.2 2137.6 1219.7 2136.6 1222.2 2136.4 1224.7 2135.1 1227.2 2133.9 1229.7 2132.9 1232.2 2131.9 1234.7 2130.8 1237.2 2131.3 1239.7 2130.6 1242.2 2128.4 1244.7 2127.5 1247.2 2127.5 1249.7 2126.6 1252.2 2124.8 1254.7 2123.3 1257.2 2122.8 1259.7 2121.1 1262.2 2120.0 1264.7 2120.1 1267.2 2118.9 1269.7 2117.0 1272.2 2116.7 1274.7 2117.8 1277.2 2117.5 1279.7 2117.6 1282.2 2117.9 1284.7 2117.9 1287.2 2121.4 1289.7 2123.7 1292.2 2127.8 1294.7 2130.2 1297.2 2132.1 1299.7 2136.0 1302.2 2137.9 1304.7 2141.1 1307.2 2144.5 1309.7 2147.0 1312.2 2151.6 1314.7 2153.8 1317.2 2157.4 1319.7 2159.9 1322.2 2164.4 1324.7 2167.8 1327.2 2170.7 1329.7 2173.8 1332.2 2177.7 1334.7 2180.3 1337.2 2183.0 1339.7 2185.0 1342.2 2189.3 1344.7 2191.6 1347.2 2194.3 1349.7 2197.5 1352.2 2199.7 1354.7 2202.9 1357.2 2204.9 1359.7 2208.2 1362.2 2210.9 1364.7 2213.1 1367.2 2214.8 1369.7 2218.0 1372.2 2220.4 1374.7 2222.3 1377.2 2223.7 1379.7 2225.7 1382.2 2228.2 1384.7 2230.8 1387.2 2231.4 1389.7 2230.8 1392.2 2230.6 1394.7 2231.7 1397.2 2231.8 1399.7 2232.4 1402.2 2231.8 1404.7 2232.8 1407.2 2232.8 1409.7 2231.9 1412.2 2232.9 1414.7 2233.5 1417.2 2233.3 1419.7 2234.0 1422.2 2234.3 1424.7 2233.8 1427.2 2234.5 1429.7 2235.3 1432.2 2235.3 1434.7 2235.0 1437.2 2236.0 1439.7 2235.2 1442.2 2234.8 1444.7 2235.0 1447.2 2235.5 1449.7 2235.1 1452.2 2236.0 1454.7 2236.0 1457.2 2234.6 1459.7 2235.0 1462.2 2235.9 1464.7 2235.8 1467.2 2236.1 1469.7 2235.8 1472.2 2235.8 1474.7 2236.2 1477.2 2235.2 1479.7 2235.9 1482.2 2235.1 1484.7 2236.1 1487.2 2236.2 1489.7 2235.5 1492.2 2235.3 1494.7 2235.4 1497.2 2235.6 1499.7 2235.5 1502.2 2235.1 1504.7 2235.3 1507.2 2236.2 1509.7 2236.2 1512.2 2235.3 1514.7 2236.0 1517.2 2235.4 1519.7 2236.5 1522.2 2236.3 1524.7 2236.0 1527.2 2236.8 1529.7 2235.7 1532.2 2236.7 1534.7 2235.9 1537.2 2236.3 1539.7 2236.1 1542.2 2236.9 1544.7 2237.0 1547.2 2236.0 1549.7 2236.1 1552.2 2236.1 1554.7 2236.7 1557.2 2236.7 1559.7 2235.7 1562.2 2237.0 1564.7 2236.4 1567.2 2236.3 1569.7 2236.1 1572.2 2235.3 1574.7 2233.6 1577.2 2231.6 1579.7 2232.7 1582.2 2231.8 1584.7 2231.7 1587.2 2232.2 1589.7 2231.9 1592.2 2231.0 1594.7 2231.2 1597.2 2231.2 1599.7 2230.7 1602.2 2231.1 1604.7 2231.2 1607.2 2231.8 1609.7 2231.8 1612.2 2231.5 1614.7 2231.7 1617.2 2231.0 1619.7 2230.2 1622.2 2231.1 1624.7 2230.4 1627.2 2230.3 1629.7 2230.1 1632.2 2231.2 1634.7 2231.0 1637.2 2231.6 1639.7 2230.5 1642.2 2230.9 1644.7 2231.3 1647.2 2230.8 1649.7 2231.8 1652.2 2231.0 1654.7 2231.1 1657.2 2230.7 1659.7 2230.4 1662.2 2228.6 1664.7 2228.4 1667.2 2228.3 1669.7 2228.0 1672.2 2227.1 1674.7 2227.8 1677.2 2226.2 1679.7 2226.4 1682.2 2226.7 1684.7 2225.1 1687.2 2225.0 1689.7 2224.5 1692.2 2224.2 1694.7 2224.3 1697.2 2223.9 1699.7 2224.3 1702.2 2224.8 1704.7 2224.3 1707.2 2223.8 1709.7 2224.0 1712.2 2224.6 1714.7 2225.2 1717.2 2224.7 1719.7 2224.0 1722.2 2225.5 1724.7 2225.6 1727.2 2225.4 1729.7 2224.4 1732.2 2224.5 1734.7 2225.5 1737.2 2225.5 1739.7 2225.1 1742.2 2226.6 1744.7 2225.5 1747.2 2225.6 1749.7 2226.1 1752.2 2226.5 1754.7 2225.9 1757.2 2227.4 1759.7 2226.7 1762.2 2227.3 1764.7 2226.8 1767.2 2227.9 1769.7 2227.9 1772.2 2227.5 1774.7 2227.4 1777.2 2228.4 1779.7 2227.6 1782.2 2228.1 1784.7 2228.5 1787.2 2229.4 1789.7 2228.4 1792.2 2229.7 1794.7 2229.1 1797.2 2229.0 1799.7 2230.2 1802.2 2230.2 1804.7 2228.8 1807.2 2228.5 1809.7 2229.2 1812.2 2228.0 1814.7 2228.4 1817.2 2227.8 1819.7 2228.0 1822.2 2226.4 1824.7 2226.4 1827.2 2226.7 1829.7 2225.6 1832.2 2226.3 1834.7 2225.4 1837.2 2225.2 1839.7 2223.3 1842.2 2222.5 1844.7 2219.8 1847.2 2219.0 1849.7 2217.2 1852.2 2215.6 1854.7 2213.2 1857.2 2211.2 1859.7 2210.6 1862.2 2207.3 1864.7 2203.7 1867.2 2199.1 1869.7 2194.8 1872.2 2191.2 1874.7 2186.3 1877.2 2183.1 1879.7 2179.4 1882.2 2173.0 1884.7 2167.9 1887.2 2164.1 1889.7 2159.5 1892.2 2153.1 1894.7 2149.4 1897.2 2146.1 1899.7 2143.0 1902.2 2143.3 1904.7 2144.1 1907.2 2146.1 1909.7 2150.5 1912.2 2156.2 1914.7 2160.7 1917.2 2165.1 1919.7 2170.4 1922.2 2176.2 1924.7 2178.3 1927.2 2180.9 1929.7 2182.5 1932.2 2185.6 1934.7 2188.7 1937.2 2190.5 1939.7 2192.9 1942.2 2194.9 1944.7 2196.5 1947.2 2198.3 1949.7 2199.1 1952.2 2200.7 1954.7 2200.6 1957.2 2200.2 1959.7 2201.1 1962.2 2200.3 1964.7 2199.7 1967.2 2199.7 1969.7 2198.9 1972.2 2199.4 1974.7 2199.4 1977.2 2198.9 1979.7 2198.6 1982.2 2198.4 1984.7 2197.7 1987.2 2198.1 1989.7 2197.8 1992.2 2197.4 1994.7 2197.5 1997.2 2198.0 1999.7 2197.8 2002.2 2198.4 2004.7 2197.8 2007.2 2197.7 2009.7 2198.6 2012.2 2198.4 2014.7 2198.9 2017.2 2198.8 2019.7 2199.2 2022.2 2199.0 2024.7 2198.9 2027.2 2198.7 2029.7 2199.2 2032.2 2198.2 2034.7 2198.8 2037.2 2198.8 2039.7 2198.7 2042.2 2198.9 2044.7 2199.7 2047.2 2199.1 2049.7 2199.9 2052.2 2199.2 2054.7 2198.7 2057.2 2199.2 2059.7 2198.9 2062.2 2199.4 2064.7 2200.2 2067.2 2199.9 2069.7 2200.2 2072.2 2200.2 2074.7 2200.1 2077.2 2200.4 2079.7 2200.3 2082.2 2200.8 2084.7 2200.1 2087.2 2200.5 2089.7 2201.5 2092.2 2201.9 2094.7 2202.1 2097.2 2202.1 2099.7 2202.1 2102.2 2201.6 2104.7 2202.5 2107.2 2201.6 2109.7 2203.1 2112.2 2201.7 2114.7 2200.9 2117.2 2201.0 2119.7 2199.3 2122.2 2200.0 2124.7 2199.1 2127.2 2198.6 2129.7 2197.3 2132.2 2196.8 2134.7 2196.6 2137.2 2196.2 2139.7 2195.1 2142.2 2194.0 2144.7 2193.2 2147.2 2190.6 2149.7 2190.5 2152.2 2188.5 2154.7 2186.6 2157.2 2186.5 2159.7 2183.7 2162.2 2182.7 2164.7 2182.3 2167.2 2180.2 2169.7 2178.8 2172.2 2178.6" fill="none" stroke="#2d4fa3" stroke-width="4.2" stroke-linejoin="round"/>
</g>
<line x1="530.4" y1="370" x2="530.4" y2="2184" stroke="#7c7c7c" stroke-width="3.4" stroke-dasharray="3.6 8.8"/>
<line x1="581.5" y1="369" x2="581.5" y2="2184" stroke="#7c7c7c" stroke-width="3.4" stroke-dasharray="3.6 8.8"/>
<line x1="624.8" y1="310.7" x2="624.8" y2="2168" stroke="#7c7c7c" stroke-width="3.4" stroke-dasharray="3.6 8.8"/>
<line x1="699.8" y1="310.7" x2="699.8" y2="2162" stroke="#7c7c7c" stroke-width="3.4" stroke-dasharray="3.6 8.8"/>
<line x1="973.5" y1="369" x2="973.5" y2="2189" stroke="#7c7c7c" stroke-width="3.4" stroke-dasharray="3.6 8.8"/>
<line x1="1027" y1="368" x2="1027" y2="2183" stroke="#7c7c7c" stroke-width="3.4" stroke-dasharray="3.6 8.8"/>
<line x1="1889" y1="323" x2="1889" y2="2137" stroke="#7c7c7c" stroke-width="3.4" stroke-dasharray="3.6 8.8"/>
<line x1="2085.4" y1="374" x2="2085.4" y2="2187" stroke="#7c7c7c" stroke-width="3.4" stroke-dasharray="3.6 8.8"/>
<line x1="2125" y1="329" x2="2125" y2="2181" stroke="#7c7c7c" stroke-width="3.4" stroke-dasharray="3.6 8.8"/>
<line x1="928" y1="930" x2="928" y2="1033" stroke="#7c7c7c" stroke-width="3.4" stroke-dasharray="3.6 8.8"/>
<line x1="624.8" y1="310.7" x2="699.8" y2="310.7" stroke="#7c7c7c" stroke-width="3.4" stroke-dasharray="3.6 8.8"/>
<g stroke="#161616" stroke-width="3.6" fill="none" stroke-linecap="square">
<line x1="108.2" y1="158" x2="108.2" y2="2509.5"/>
<line x1="1124.6" y1="158" x2="1124.6" y2="2509.5"/>
<line x1="108.2" y1="158" x2="1124.6" y2="158"/>
<line x1="108.2" y1="746" x2="1124.6" y2="746"/>
<line x1="108.2" y1="1334.4" x2="1124.6" y2="1334.4"/>
<line x1="108.2" y1="1923" x2="1124.6" y2="1923"/>
<line x1="108.2" y1="2509.5" x2="1124.6" y2="2509.5"/>
<line x1="1158.2" y1="156" x2="1158.2" y2="2509.5"/>
<line x1="2174.0" y1="156" x2="2174.0" y2="2509.5"/>
<line x1="1158.2" y1="156" x2="2174.0" y2="156"/>
<line x1="1158.2" y1="744" x2="2174.0" y2="744"/>
<line x1="1158.2" y1="1332" x2="2174.0" y2="1332"/>
<line x1="1158.2" y1="1921" x2="2174.0" y2="1921"/>
<line x1="1158.2" y1="2509.5" x2="2174.0" y2="2509.5"/>
</g>
<g stroke="#161616" stroke-width="3">
<line x1="181.8" y1="746" x2="181.8" y2="738"/>
<line x1="252.4" y1="746" x2="252.4" y2="738"/>
<line x1="327" y1="746" x2="327" y2="738"/>
<line x1="397.7" y1="746" x2="397.7" y2="738"/>
<line x1="472.3" y1="746" x2="472.3" y2="738"/>
<line x1="541.7" y1="746" x2="541.7" y2="738"/>
<line x1="616.3" y1="746" x2="616.3" y2="738"/>
<line x1="690.8" y1="746" x2="690.8" y2="738"/>
<line x1="761" y1="746" x2="761" y2="738"/>
<line x1="835.5" y1="746" x2="835.5" y2="738"/>
<line x1="905.4" y1="746" x2="905.4" y2="738"/>
<line x1="979.5" y1="746" x2="979.5" y2="738"/>
<line x1="1050.4" y1="746" x2="1050.4" y2="738"/>
<line x1="146" y1="746" x2="146" y2="741"/>
<line x1="215" y1="746" x2="215" y2="741"/>
<line x1="290.4" y1="746" x2="290.4" y2="741"/>
<line x1="359.7" y1="746" x2="359.7" y2="741"/>
<line x1="434.4" y1="746" x2="434.4" y2="741"/>
<line x1="504.4" y1="746" x2="504.4" y2="741"/>
<line x1="580" y1="746" x2="580" y2="741"/>
<line x1="654.4" y1="746" x2="654.4" y2="741"/>
<line x1="724.4" y1="746" x2="724.4" y2="741"/>
<line x1="797.5" y1="746" x2="797.5" y2="741"/>
<line x1="867.5" y1="746" x2="867.5" y2="741"/>
<line x1="942" y1="746" x2="942" y2="741"/>
<line x1="1013.7" y1="746" x2="1013.7" y2="741"/>
<line x1="1088.3" y1="746" x2="1088.3" y2="741"/>
<line x1="181.8" y1="1334.4" x2="181.8" y2="1326.4"/>
<line x1="252.4" y1="1334.4" x2="252.4" y2="1326.4"/>
<line x1="327" y1="1334.4" x2="327" y2="1326.4"/>
<line x1="397.7" y1="1334.4" x2="397.7" y2="1326.4"/>
<line x1="472.3" y1="1334.4" x2="472.3" y2="1326.4"/>
<line x1="541.7" y1="1334.4" x2="541.7" y2="1326.4"/>
<line x1="616.3" y1="1334.4" x2="616.3" y2="1326.4"/>
<line x1="690.8" y1="1334.4" x2="690.8" y2="1326.4"/>
<line x1="761" y1="1334.4" x2="761" y2="1326.4"/>
<line x1="835.5" y1="1334.4" x2="835.5" y2="1326.4"/>
<line x1="905.4" y1="1334.4" x2="905.4" y2="1326.4"/>
<line x1="979.5" y1="1334.4" x2="979.5" y2="1326.4"/>
<line x1="1050.4" y1="1334.4" x2="1050.4" y2="1326.4"/>
<line x1="146" y1="1334.4" x2="146" y2="1329.4"/>
<line x1="215" y1="1334.4" x2="215" y2="1329.4"/>
<line x1="290.4" y1="1334.4" x2="290.4" y2="1329.4"/>
<line x1="359.7" y1="1334.4" x2="359.7" y2="1329.4"/>
<line x1="434.4" y1="1334.4" x2="434.4" y2="1329.4"/>
<line x1="504.4" y1="1334.4" x2="504.4" y2="1329.4"/>
<line x1="580" y1="1334.4" x2="580" y2="1329.4"/>
<line x1="654.4" y1="1334.4" x2="654.4" y2="1329.4"/>
<line x1="724.4" y1="1334.4" x2="724.4" y2="1329.4"/>
<line x1="797.5" y1="1334.4" x2="797.5" y2="1329.4"/>
<line x1="867.5" y1="1334.4" x2="867.5" y2="1329.4"/>
<line x1="942" y1="1334.4" x2="942" y2="1329.4"/>
<line x1="1013.7" y1="1334.4" x2="1013.7" y2="1329.4"/>
<line x1="1088.3" y1="1334.4" x2="1088.3" y2="1329.4"/>
<line x1="181.8" y1="1923" x2="181.8" y2="1915"/>
<line x1="252.4" y1="1923" x2="252.4" y2="1915"/>
<line x1="327" y1="1923" x2="327" y2="1915"/>
<line x1="397.7" y1="1923" x2="397.7" y2="1915"/>
<line x1="472.3" y1="1923" x2="472.3" y2="1915"/>
<line x1="541.7" y1="1923" x2="541.7" y2="1915"/>
<line x1="616.3" y1="1923" x2="616.3" y2="1915"/>
<line x1="690.8" y1="1923" x2="690.8" y2="1915"/>
<line x1="761" y1="1923" x2="761" y2="1915"/>
<line x1="835.5" y1="1923" x2="835.5" y2="1915"/>
<line x1="905.4" y1="1923" x2="905.4" y2="1915"/>
<line x1="979.5" y1="1923" x2="979.5" y2="1915"/>
<line x1="1050.4" y1="1923" x2="1050.4" y2="1915"/>
<line x1="146" y1="1923" x2="146" y2="1918"/>
<line x1="215" y1="1923" x2="215" y2="1918"/>
<line x1="290.4" y1="1923" x2="290.4" y2="1918"/>
<line x1="359.7" y1="1923" x2="359.7" y2="1918"/>
<line x1="434.4" y1="1923" x2="434.4" y2="1918"/>
<line x1="504.4" y1="1923" x2="504.4" y2="1918"/>
<line x1="580" y1="1923" x2="580" y2="1918"/>
<line x1="654.4" y1="1923" x2="654.4" y2="1918"/>
<line x1="724.4" y1="1923" x2="724.4" y2="1918"/>
<line x1="797.5" y1="1923" x2="797.5" y2="1918"/>
<line x1="867.5" y1="1923" x2="867.5" y2="1918"/>
<line x1="942" y1="1923" x2="942" y2="1918"/>
<line x1="1013.7" y1="1923" x2="1013.7" y2="1918"/>
<line x1="1088.3" y1="1923" x2="1088.3" y2="1918"/>
<line x1="181.8" y1="2509.5" x2="181.8" y2="2501.5"/>
<line x1="252.4" y1="2509.5" x2="252.4" y2="2501.5"/>
<line x1="327" y1="2509.5" x2="327" y2="2501.5"/>
<line x1="397.7" y1="2509.5" x2="397.7" y2="2501.5"/>
<line x1="472.3" y1="2509.5" x2="472.3" y2="2501.5"/>
<line x1="541.7" y1="2509.5" x2="541.7" y2="2501.5"/>
<line x1="616.3" y1="2509.5" x2="616.3" y2="2501.5"/>
<line x1="690.8" y1="2509.5" x2="690.8" y2="2501.5"/>
<line x1="761" y1="2509.5" x2="761" y2="2501.5"/>
<line x1="835.5" y1="2509.5" x2="835.5" y2="2501.5"/>
<line x1="905.4" y1="2509.5" x2="905.4" y2="2501.5"/>
<line x1="979.5" y1="2509.5" x2="979.5" y2="2501.5"/>
<line x1="1050.4" y1="2509.5" x2="1050.4" y2="2501.5"/>
<line x1="146" y1="2509.5" x2="146" y2="2504.5"/>
<line x1="215" y1="2509.5" x2="215" y2="2504.5"/>
<line x1="290.4" y1="2509.5" x2="290.4" y2="2504.5"/>
<line x1="359.7" y1="2509.5" x2="359.7" y2="2504.5"/>
<line x1="434.4" y1="2509.5" x2="434.4" y2="2504.5"/>
<line x1="504.4" y1="2509.5" x2="504.4" y2="2504.5"/>
<line x1="580" y1="2509.5" x2="580" y2="2504.5"/>
<line x1="654.4" y1="2509.5" x2="654.4" y2="2504.5"/>
<line x1="724.4" y1="2509.5" x2="724.4" y2="2504.5"/>
<line x1="797.5" y1="2509.5" x2="797.5" y2="2504.5"/>
<line x1="867.5" y1="2509.5" x2="867.5" y2="2504.5"/>
<line x1="942" y1="2509.5" x2="942" y2="2504.5"/>
<line x1="1013.7" y1="2509.5" x2="1013.7" y2="2504.5"/>
<line x1="1088.3" y1="2509.5" x2="1088.3" y2="2504.5"/>
<line x1="1352.7" y1="744" x2="1352.7" y2="736"/>
<line x1="1547.4" y1="744" x2="1547.4" y2="736"/>
<line x1="1746" y1="744" x2="1746" y2="736"/>
<line x1="1940.3" y1="744" x2="1940.3" y2="736"/>
<line x1="2134.6" y1="744" x2="2134.6" y2="736"/>
<line x1="1255.3" y1="744" x2="1255.3" y2="739"/>
<line x1="1450" y1="744" x2="1450" y2="739"/>
<line x1="1649" y1="744" x2="1649" y2="739"/>
<line x1="1844" y1="744" x2="1844" y2="739"/>
<line x1="2038.2" y1="744" x2="2038.2" y2="739"/>
<line x1="1352.7" y1="1332" x2="1352.7" y2="1324"/>
<line x1="1547.4" y1="1332" x2="1547.4" y2="1324"/>
<line x1="1746" y1="1332" x2="1746" y2="1324"/>
<line x1="1940.3" y1="1332" x2="1940.3" y2="1324"/>
<line x1="2134.6" y1="1332" x2="2134.6" y2="1324"/>
<line x1="1255.3" y1="1332" x2="1255.3" y2="1327"/>
<line x1="1450" y1="1332" x2="1450" y2="1327"/>
<line x1="1649" y1="1332" x2="1649" y2="1327"/>
<line x1="1844" y1="1332" x2="1844" y2="1327"/>
<line x1="2038.2" y1="1332" x2="2038.2" y2="1327"/>
<line x1="1352.7" y1="1921" x2="1352.7" y2="1913"/>
<line x1="1547.4" y1="1921" x2="1547.4" y2="1913"/>
<line x1="1746" y1="1921" x2="1746" y2="1913"/>
<line x1="1940.3" y1="1921" x2="1940.3" y2="1913"/>
<line x1="2134.6" y1="1921" x2="2134.6" y2="1913"/>
<line x1="1255.3" y1="1921" x2="1255.3" y2="1916"/>
<line x1="1450" y1="1921" x2="1450" y2="1916"/>
<line x1="1649" y1="1921" x2="1649" y2="1916"/>
<line x1="1844" y1="1921" x2="1844" y2="1916"/>
<line x1="2038.2" y1="1921" x2="2038.2" y2="1916"/>
<line x1="1357.2" y1="2509.5" x2="1357.2" y2="2501.5"/>
<line x1="1556.4" y1="2509.5" x2="1556.4" y2="2501.5"/>
<line x1="1754.4" y1="2509.5" x2="1754.4" y2="2501.5"/>
<line x1="1953.5" y1="2509.5" x2="1953.5" y2="2501.5"/>
<line x1="2152.7" y1="2509.5" x2="2152.7" y2="2501.5"/>
<line x1="1254.7" y1="2509.5" x2="1254.7" y2="2504.5"/>
<line x1="1458" y1="2509.5" x2="1458" y2="2504.5"/>
<line x1="1657.7" y1="2509.5" x2="1657.7" y2="2504.5"/>
<line x1="1857" y1="2509.5" x2="1857" y2="2504.5"/>
<line x1="2057.2" y1="2509.5" x2="2057.2" y2="2504.5"/>
</g>
<text transform="translate(245.12,76.71) scale(0.9842,1)" font-size="71.08" font-weight="bold" fill="#050505" >Phase-domain surface</text>
<text transform="translate(1199.99,74.37) scale(0.9731,1)" font-size="72.41" font-weight="bold" fill="#050505" >Phase-domain liquid phase</text>
<text transform="translate(130.24,240.18) scale(0.9950,1)" font-size="84.15" font-weight="normal" fill="#111111" >a)</text>
<text transform="translate(128.77,843.56) scale(0.9819,1)" font-size="84.26" font-weight="normal" fill="#111111" >b)</text>
<text transform="translate(127.65,1419.62) scale(1.0298,1)" font-size="81.04" font-weight="normal" fill="#111111" >c)</text>
<text transform="translate(131.90,2018.58) scale(0.9852,1)" font-size="82.22" font-weight="normal" fill="#111111" >d)</text>
<text transform="translate(1171.03,235.43) scale(1.0345,1)" font-size="83.40" font-weight="normal" fill="#111111" >e)</text>
<text transform="translate(1175.42,830.11) scale(1.1097,1)" font-size="81.58" font-weight="normal" fill="#111111" >f)</text>
<text transform="translate(1174.73,1409.95) scale(1.0632,1)" font-size="82.18" font-weight="normal" fill="#111111" >g)</text>
<text transform="translate(1167.67,2016.28) scale(1.0223,1)" font-size="82.22" font-weight="normal" fill="#111111" >h)</text>
<text transform="translate(492.00,293.01) scale(1.0003,1)" font-size="70.90" font-weight="normal" fill="#1b1b1b" >1560</text>
<text transform="translate(674.64,293.31) scale(0.9995,1)" font-size="70.34" font-weight="normal" fill="#1b1b1b" >1510</text>
<text transform="translate(418.43,365.33) scale(1.0308,1)" font-size="68.78" font-weight="normal" fill="#1b1b1b" >2917</text>
<text transform="translate(869.92,304.01) scale(0.9471,1)" font-size="70.48" font-weight="normal" fill="#1b1b1b" >1120</text>
<text transform="translate(971.32,362.91) scale(0.9652,1)" font-size="70.48" font-weight="normal" fill="#1b1b1b" >1030</text>
<text transform="translate(504.13,917.93) scale(1.0325,1)" font-size="68.78" font-weight="normal" fill="#1b1b1b" >2846</text>
<text transform="translate(817.21,909.71) scale(0.9479,1)" font-size="70.48" font-weight="normal" fill="#1b1b1b" >1163</text>
<text transform="translate(1809.50,304.03) scale(1.0173,1)" font-size="68.36" font-weight="normal" fill="#1b1b1b" >1630</text>
<text transform="translate(1972.93,351.58) scale(0.9004,1)" font-size="73.87" font-weight="normal" fill="#1b1b1b" >1120</text>
<text transform="translate(2024.84,292.80) scale(0.9448,1)" font-size="71.75" font-weight="normal" fill="#1b1b1b" >1030</text>
<text transform="translate(99.83,2587.30) scale(0.9716,1)" font-size="72.03" font-weight="normal" fill="#2b2b2b" >3500</text>
<text transform="translate(540.69,2587.80) scale(0.9770,1)" font-size="71.33" font-weight="normal" fill="#2b2b2b" >1600</text>
<text transform="translate(968.12,2587.80) scale(0.9903,1)" font-size="71.33" font-weight="normal" fill="#2b2b2b" >1000</text>
<text transform="translate(1152.82,2587.51) scale(0.9990,1)" font-size="70.34" font-weight="normal" fill="#2b2b2b" >3500</text>
<text transform="translate(1638.11,2588.28) scale(0.9724,1)" font-size="73.45" font-weight="normal" fill="#2b2b2b" >2400</text>
<text transform="translate(2047.03,2588.28) scale(0.9418,1)" font-size="73.45" font-weight="normal" fill="#2b2b2b" >1000</text>
<text transform="translate(387.70,2677.00) scale(1.0036,1)" font-size="69.00" font-weight="normal" fill="#2b2b2b" >Wavenumber / cm</text>
<text transform="translate(948.45,2641.70) scale(0.8827,1)" font-size="34.45" font-weight="normal" fill="#2b2b2b" >-1</text>
<text transform="translate(1465.29,2677.50) scale(0.9892,1)" font-size="70.24" font-weight="normal" fill="#2b2b2b" >Wavenumber / cm</text>
<text transform="translate(2027.03,2641.80) scale(0.9327,1)" font-size="33.14" font-weight="normal" fill="#2b2b2b" >-1</text>
<g transform="translate(71.7,1579) rotate(-90)"><text transform="translate(-0.14,0.00) scale(0.8639,1)" font-size="82.53" font-weight="normal" fill="#2b2b2b" >Absorbance</text></g>
<text transform="translate(682.56,618.36) scale(1.1279,1)" font-size="67.01" font-weight="normal" fill="#15152e" stroke="#15152e" stroke-width="0.8" stroke-linejoin="round">φ</text>
<text transform="translate(728.93,583.45) scale(0.9600,1)" font-size="36.45" font-weight="normal" fill="#454b82" stroke="#454b82" stroke-width="1.0" stroke-linejoin="round">PSD</text>
<text transform="translate(819.41,616.01) scale(1.0518,1)" font-size="65.95" font-weight="normal" fill="#1d1d3f" stroke="#1d1d3f" stroke-width="0.6" stroke-linejoin="round">=</text>
<text transform="translate(877.42,617.90) scale(0.9969,1)" font-size="71.47" font-weight="normal" fill="#1d1d3f" stroke="#1d1d3f" stroke-width="0.7" stroke-linejoin="round">260</text>
<text transform="translate(1011.17,613.71) scale(0.9296,1)" font-size="69.09" font-weight="normal" fill="#3a3f72" stroke="#3a3f72" stroke-width="0.5" stroke-linejoin="round">°</text>
<text transform="translate(694.03,686.96) scale(1.0672,1)" font-size="67.01" font-weight="normal" fill="#2c1410" stroke="#2c1410" stroke-width="0.8" stroke-linejoin="round">φ</text>
<text transform="translate(739.09,653.05) scale(0.9742,1)" font-size="36.45" font-weight="normal" fill="#9a4a3c" stroke="#9a4a3c" stroke-width="1.0" stroke-linejoin="round">PSD</text>
<text transform="translate(830.61,684.61) scale(1.0518,1)" font-size="65.95" font-weight="normal" fill="#3a1a14" stroke="#3a1a14" stroke-width="0.6" stroke-linejoin="round">=</text>
<text transform="translate(890.51,686.50) scale(0.9620,1)" font-size="71.47" font-weight="normal" fill="#3a1a14" stroke="#3a1a14" stroke-width="0.7" stroke-linejoin="round">80</text>
<text transform="translate(982.74,682.31) scale(0.9864,1)" font-size="69.09" font-weight="normal" fill="#8c4434" stroke="#8c4434" stroke-width="0.5" stroke-linejoin="round">°</text>
<text transform="translate(657.22,1206.15) scale(1.0471,1)" font-size="68.47" font-weight="normal" fill="#15152e" stroke="#15152e" stroke-width="0.8" stroke-linejoin="round">φ</text>
<text transform="translate(702.12,1172.80) scale(0.9423,1)" font-size="37.24" font-weight="normal" fill="#454b82" stroke="#454b82" stroke-width="1.0" stroke-linejoin="round">PSD</text>
<text transform="translate(792.48,1203.76) scale(1.0692,1)" font-size="67.38" font-weight="normal" fill="#1d1d3f" stroke="#1d1d3f" stroke-width="0.6" stroke-linejoin="round">=</text>
<text transform="translate(854.81,1205.69) scale(0.9328,1)" font-size="73.02" font-weight="normal" fill="#1d1d3f" stroke="#1d1d3f" stroke-width="0.7" stroke-linejoin="round">190</text>
<text transform="translate(984.17,1201.40) scale(0.9098,1)" font-size="70.59" font-weight="normal" fill="#3a3f72" stroke="#3a3f72" stroke-width="0.5" stroke-linejoin="round">°</text>
<text transform="translate(670.64,1273.56) scale(1.1256,1)" font-size="65.42" font-weight="normal" fill="#2c1410" stroke="#2c1410" stroke-width="0.8" stroke-linejoin="round">φ</text>
<text transform="translate(715.63,1241.35) scale(1.0168,1)" font-size="35.58" font-weight="normal" fill="#9a4a3c" stroke="#9a4a3c" stroke-width="1.0" stroke-linejoin="round">PSD</text>
<text transform="translate(807.31,1271.28) scale(1.0774,1)" font-size="64.38" font-weight="normal" fill="#3a1a14" stroke="#3a1a14" stroke-width="0.6" stroke-linejoin="round">=</text>
<text transform="translate(868.56,1273.12) scale(0.9674,1)" font-size="69.77" font-weight="normal" fill="#3a1a14" stroke="#3a1a14" stroke-width="0.7" stroke-linejoin="round">10</text>
<text transform="translate(960.77,1269.02) scale(0.9522,1)" font-size="67.45" font-weight="normal" fill="#8c4434" stroke="#8c4434" stroke-width="0.5" stroke-linejoin="round">°</text>
<text transform="translate(662.74,1788.35) scale(1.0776,1)" font-size="68.33" font-weight="normal" fill="#15152e" stroke="#15152e" stroke-width="0.8" stroke-linejoin="round">φ</text>
<text transform="translate(707.88,1754.95) scale(0.9567,1)" font-size="37.17" font-weight="normal" fill="#454b82" stroke="#454b82" stroke-width="1.0" stroke-linejoin="round">PSD</text>
<text transform="translate(798.30,1785.96) scale(1.0651,1)" font-size="67.25" font-weight="normal" fill="#1d1d3f" stroke="#1d1d3f" stroke-width="0.6" stroke-linejoin="round">=</text>
<text transform="translate(859.41,1787.89) scale(0.9523,1)" font-size="72.88" font-weight="normal" fill="#1d1d3f" stroke="#1d1d3f" stroke-width="0.7" stroke-linejoin="round">170</text>
<text transform="translate(990.10,1783.61) scale(0.9065,1)" font-size="70.45" font-weight="normal" fill="#3a3f72" stroke="#3a3f72" stroke-width="0.5" stroke-linejoin="round">°</text>
<text transform="translate(670.74,1856.76) scale(1.0688,1)" font-size="66.75" font-weight="normal" fill="#2c1410" stroke="#2c1410" stroke-width="0.8" stroke-linejoin="round">φ</text>
<text transform="translate(714.54,1821.35) scale(0.9938,1)" font-size="36.30" font-weight="normal" fill="#9a4a3c" stroke="#9a4a3c" stroke-width="1.0" stroke-linejoin="round">PSD</text>
<text transform="translate(806.21,1854.43) scale(1.0560,1)" font-size="65.68" font-weight="normal" fill="#3a1a14" stroke="#3a1a14" stroke-width="0.6" stroke-linejoin="round">=</text>
<text transform="translate(865.15,1856.30) scale(1.0256,1)" font-size="71.19" font-weight="normal" fill="#3a1a14" stroke="#3a1a14" stroke-width="0.7" stroke-linejoin="round">0</text>
<text transform="translate(921.24,1852.13) scale(0.9903,1)" font-size="68.81" font-weight="normal" fill="#8c4434" stroke="#8c4434" stroke-width="0.5" stroke-linejoin="round">°</text>
<text transform="translate(688.24,2363.76) scale(1.1011,1)" font-size="66.88" font-weight="normal" fill="#15152e" stroke="#15152e" stroke-width="0.8" stroke-linejoin="round">φ</text>
<text transform="translate(733.38,2329.90) scale(0.9776,1)" font-size="36.38" font-weight="normal" fill="#454b82" stroke="#454b82" stroke-width="1.0" stroke-linejoin="round">PSD</text>
<text transform="translate(823.81,2361.42) scale(1.0852,1)" font-size="65.82" font-weight="normal" fill="#1d1d3f" stroke="#1d1d3f" stroke-width="0.6" stroke-linejoin="round">=</text>
<text transform="translate(884.76,2363.30) scale(0.9649,1)" font-size="71.33" font-weight="normal" fill="#1d1d3f" stroke="#1d1d3f" stroke-width="0.7" stroke-linejoin="round">140</text>
<text transform="translate(1015.34,2359.12) scale(0.9884,1)" font-size="68.95" font-weight="normal" fill="#3a3f72" stroke="#3a3f72" stroke-width="0.5" stroke-linejoin="round">°</text>
<text transform="translate(694.94,2442.46) scale(1.0967,1)" font-size="67.14" font-weight="normal" fill="#2c1410" stroke="#2c1410" stroke-width="0.8" stroke-linejoin="round">φ</text>
<text transform="translate(740.08,2408.50) scale(0.9737,1)" font-size="36.52" font-weight="normal" fill="#9a4a3c" stroke="#9a4a3c" stroke-width="1.0" stroke-linejoin="round">PSD</text>
<text transform="translate(831.48,2440.11) scale(1.0903,1)" font-size="66.08" font-weight="normal" fill="#3a1a14" stroke="#3a1a14" stroke-width="0.6" stroke-linejoin="round">=</text>
<text transform="translate(890.78,2442.00) scale(0.9866,1)" font-size="71.61" font-weight="normal" fill="#3a1a14" stroke="#3a1a14" stroke-width="0.7" stroke-linejoin="round">40</text>
<text transform="translate(984.96,2437.80) scale(0.9793,1)" font-size="69.22" font-weight="normal" fill="#8c4434" stroke="#8c4434" stroke-width="0.5" stroke-linejoin="round">°</text>
<text transform="translate(1539.46,598.35) scale(1.1061,1)" font-size="68.33" font-weight="normal" fill="#15152e" stroke="#15152e" stroke-width="0.8" stroke-linejoin="round">φ</text>
<text transform="translate(1584.54,563.95) scale(0.9707,1)" font-size="37.17" font-weight="normal" fill="#454b82" stroke="#454b82" stroke-width="1.0" stroke-linejoin="round">PSD</text>
<text transform="translate(1676.10,595.96) scale(1.0651,1)" font-size="67.25" font-weight="normal" fill="#1d1d3f" stroke="#1d1d3f" stroke-width="0.6" stroke-linejoin="round">=</text>
<text transform="translate(1734.46,597.89) scale(0.9658,1)" font-size="72.88" font-weight="normal" fill="#1d1d3f" stroke="#1d1d3f" stroke-width="0.7" stroke-linejoin="round">20</text>
<text transform="translate(1828.34,593.61) scale(0.9673,1)" font-size="70.45" font-weight="normal" fill="#3a3f72" stroke="#3a3f72" stroke-width="0.5" stroke-linejoin="round">°</text>
<text transform="translate(1528.16,665.76) scale(1.1302,1)" font-size="66.88" font-weight="normal" fill="#2c1410" stroke="#2c1410" stroke-width="0.8" stroke-linejoin="round">φ</text>
<text transform="translate(1574.44,633.00) scale(0.9933,1)" font-size="36.38" font-weight="normal" fill="#9a4a3c" stroke="#9a4a3c" stroke-width="1.0" stroke-linejoin="round">PSD</text>
<text transform="translate(1666.11,663.42) scale(1.0539,1)" font-size="65.82" font-weight="normal" fill="#3a1a14" stroke="#3a1a14" stroke-width="0.6" stroke-linejoin="round">=</text>
<text transform="translate(1724.60,665.30) scale(0.9464,1)" font-size="71.33" font-weight="normal" fill="#3a1a14" stroke="#3a1a14" stroke-width="0.7" stroke-linejoin="round">220</text>
<text transform="translate(1857.77,661.12) scale(0.9315,1)" font-size="68.95" font-weight="normal" fill="#8c4434" stroke="#8c4434" stroke-width="0.5" stroke-linejoin="round">°</text>
<text transform="translate(1531.64,1226.25) scale(1.0531,1)" font-size="69.92" font-weight="normal" fill="#15152e" stroke="#15152e" stroke-width="0.8" stroke-linejoin="round">φ</text>
<text transform="translate(1576.68,1192.36) scale(0.9364,1)" font-size="38.03" font-weight="normal" fill="#454b82" stroke="#454b82" stroke-width="1.0" stroke-linejoin="round">PSD</text>
<text transform="translate(1667.09,1223.80) scale(1.0439,1)" font-size="68.81" font-weight="normal" fill="#1d1d3f" stroke="#1d1d3f" stroke-width="0.6" stroke-linejoin="round">=</text>
<text transform="translate(1727.16,1225.77) scale(0.9500,1)" font-size="74.58" font-weight="normal" fill="#1d1d3f" stroke="#1d1d3f" stroke-width="0.7" stroke-linejoin="round">50</text>
<text transform="translate(1819.34,1221.40) scale(0.9453,1)" font-size="72.09" font-weight="normal" fill="#3a3f72" stroke="#3a3f72" stroke-width="0.5" stroke-linejoin="round">°</text>
<text transform="translate(1527.06,1290.25) scale(1.1087,1)" font-size="68.33" font-weight="normal" fill="#2c1410" stroke="#2c1410" stroke-width="0.8" stroke-linejoin="round">φ</text>
<text transform="translate(1573.38,1255.85) scale(0.9567,1)" font-size="37.17" font-weight="normal" fill="#9a4a3c" stroke="#9a4a3c" stroke-width="1.0" stroke-linejoin="round">PSD</text>
<text transform="translate(1663.81,1287.86) scale(1.0621,1)" font-size="67.25" font-weight="normal" fill="#3a1a14" stroke="#3a1a14" stroke-width="0.6" stroke-linejoin="round">=</text>
<text transform="translate(1722.23,1289.79) scale(0.9463,1)" font-size="72.88" font-weight="normal" fill="#3a1a14" stroke="#3a1a14" stroke-width="0.7" stroke-linejoin="round">230</text>
<text transform="translate(1855.34,1285.51) scale(0.9673,1)" font-size="70.45" font-weight="normal" fill="#8c4434" stroke="#8c4434" stroke-width="0.5" stroke-linejoin="round">°</text>
<text transform="translate(1524.94,1793.85) scale(1.0531,1)" font-size="69.92" font-weight="normal" fill="#15152e" stroke="#15152e" stroke-width="0.8" stroke-linejoin="round">φ</text>
<text transform="translate(1569.04,1760.06) scale(0.9486,1)" font-size="38.03" font-weight="normal" fill="#454b82" stroke="#454b82" stroke-width="1.0" stroke-linejoin="round">PSD</text>
<text transform="translate(1661.60,1791.40) scale(1.0110,1)" font-size="68.81" font-weight="normal" fill="#1d1d3f" stroke="#1d1d3f" stroke-width="0.6" stroke-linejoin="round">=</text>
<text transform="translate(1719.75,1793.37) scale(0.9314,1)" font-size="74.58" font-weight="normal" fill="#1d1d3f" stroke="#1d1d3f" stroke-width="0.7" stroke-linejoin="round">30</text>
<text transform="translate(1812.72,1789.00) scale(0.9503,1)" font-size="72.09" font-weight="normal" fill="#3a3f72" stroke="#3a3f72" stroke-width="0.5" stroke-linejoin="round">°</text>
<text transform="translate(1512.48,1861.25) scale(1.1346,1)" font-size="68.33" font-weight="normal" fill="#2c1410" stroke="#2c1410" stroke-width="0.8" stroke-linejoin="round">φ</text>
<text transform="translate(1558.84,1826.85) scale(0.9721,1)" font-size="37.17" font-weight="normal" fill="#9a4a3c" stroke="#9a4a3c" stroke-width="1.0" stroke-linejoin="round">PSD</text>
<text transform="translate(1650.51,1858.86) scale(1.0315,1)" font-size="67.25" font-weight="normal" fill="#3a1a14" stroke="#3a1a14" stroke-width="0.6" stroke-linejoin="round">=</text>
<text transform="translate(1708.76,1860.79) scale(0.9662,1)" font-size="72.88" font-weight="normal" fill="#3a1a14" stroke="#3a1a14" stroke-width="0.7" stroke-linejoin="round">210</text>
<text transform="translate(1841.96,1856.51) scale(0.9622,1)" font-size="70.45" font-weight="normal" fill="#8c4434" stroke="#8c4434" stroke-width="0.5" stroke-linejoin="round">°</text>
<text transform="translate(1516.14,2391.95) scale(1.0755,1)" font-size="68.47" font-weight="normal" fill="#15152e" stroke="#15152e" stroke-width="0.8" stroke-linejoin="round">φ</text>
<text transform="translate(1561.07,2357.60) scale(0.9577,1)" font-size="37.24" font-weight="normal" fill="#454b82" stroke="#454b82" stroke-width="1.0" stroke-linejoin="round">PSD</text>
<text transform="translate(1652.91,2389.56) scale(1.0295,1)" font-size="67.38" font-weight="normal" fill="#1d1d3f" stroke="#1d1d3f" stroke-width="0.6" stroke-linejoin="round">=</text>
<text transform="translate(1713.22,2391.49) scale(0.9277,1)" font-size="73.02" font-weight="normal" fill="#1d1d3f" stroke="#1d1d3f" stroke-width="0.7" stroke-linejoin="round">320</text>
<text transform="translate(1843.14,2387.20) scale(0.9654,1)" font-size="70.59" font-weight="normal" fill="#3a3f72" stroke="#3a3f72" stroke-width="0.5" stroke-linejoin="round">°</text>
<text transform="translate(1504.95,2458.26) scale(1.1206,1)" font-size="65.55" font-weight="normal" fill="#2c1410" stroke="#2c1410" stroke-width="0.8" stroke-linejoin="round">φ</text>
<text transform="translate(1550.04,2424.90) scale(1.0133,1)" font-size="35.66" font-weight="normal" fill="#9a4a3c" stroke="#9a4a3c" stroke-width="1.0" stroke-linejoin="round">PSD</text>
<text transform="translate(1642.48,2455.97) scale(1.1167,1)" font-size="64.51" font-weight="normal" fill="#3a1a14" stroke="#3a1a14" stroke-width="0.6" stroke-linejoin="round">=</text>
<text transform="translate(1703.76,2457.82) scale(0.9835,1)" font-size="69.91" font-weight="normal" fill="#3a1a14" stroke="#3a1a14" stroke-width="0.7" stroke-linejoin="round">140</text>
<text transform="translate(1832.96,2453.72) scale(1.0031,1)" font-size="67.58" font-weight="normal" fill="#8c4434" stroke="#8c4434" stroke-width="0.5" stroke-linejoin="round">°</text>
</svg>
</body></html>
